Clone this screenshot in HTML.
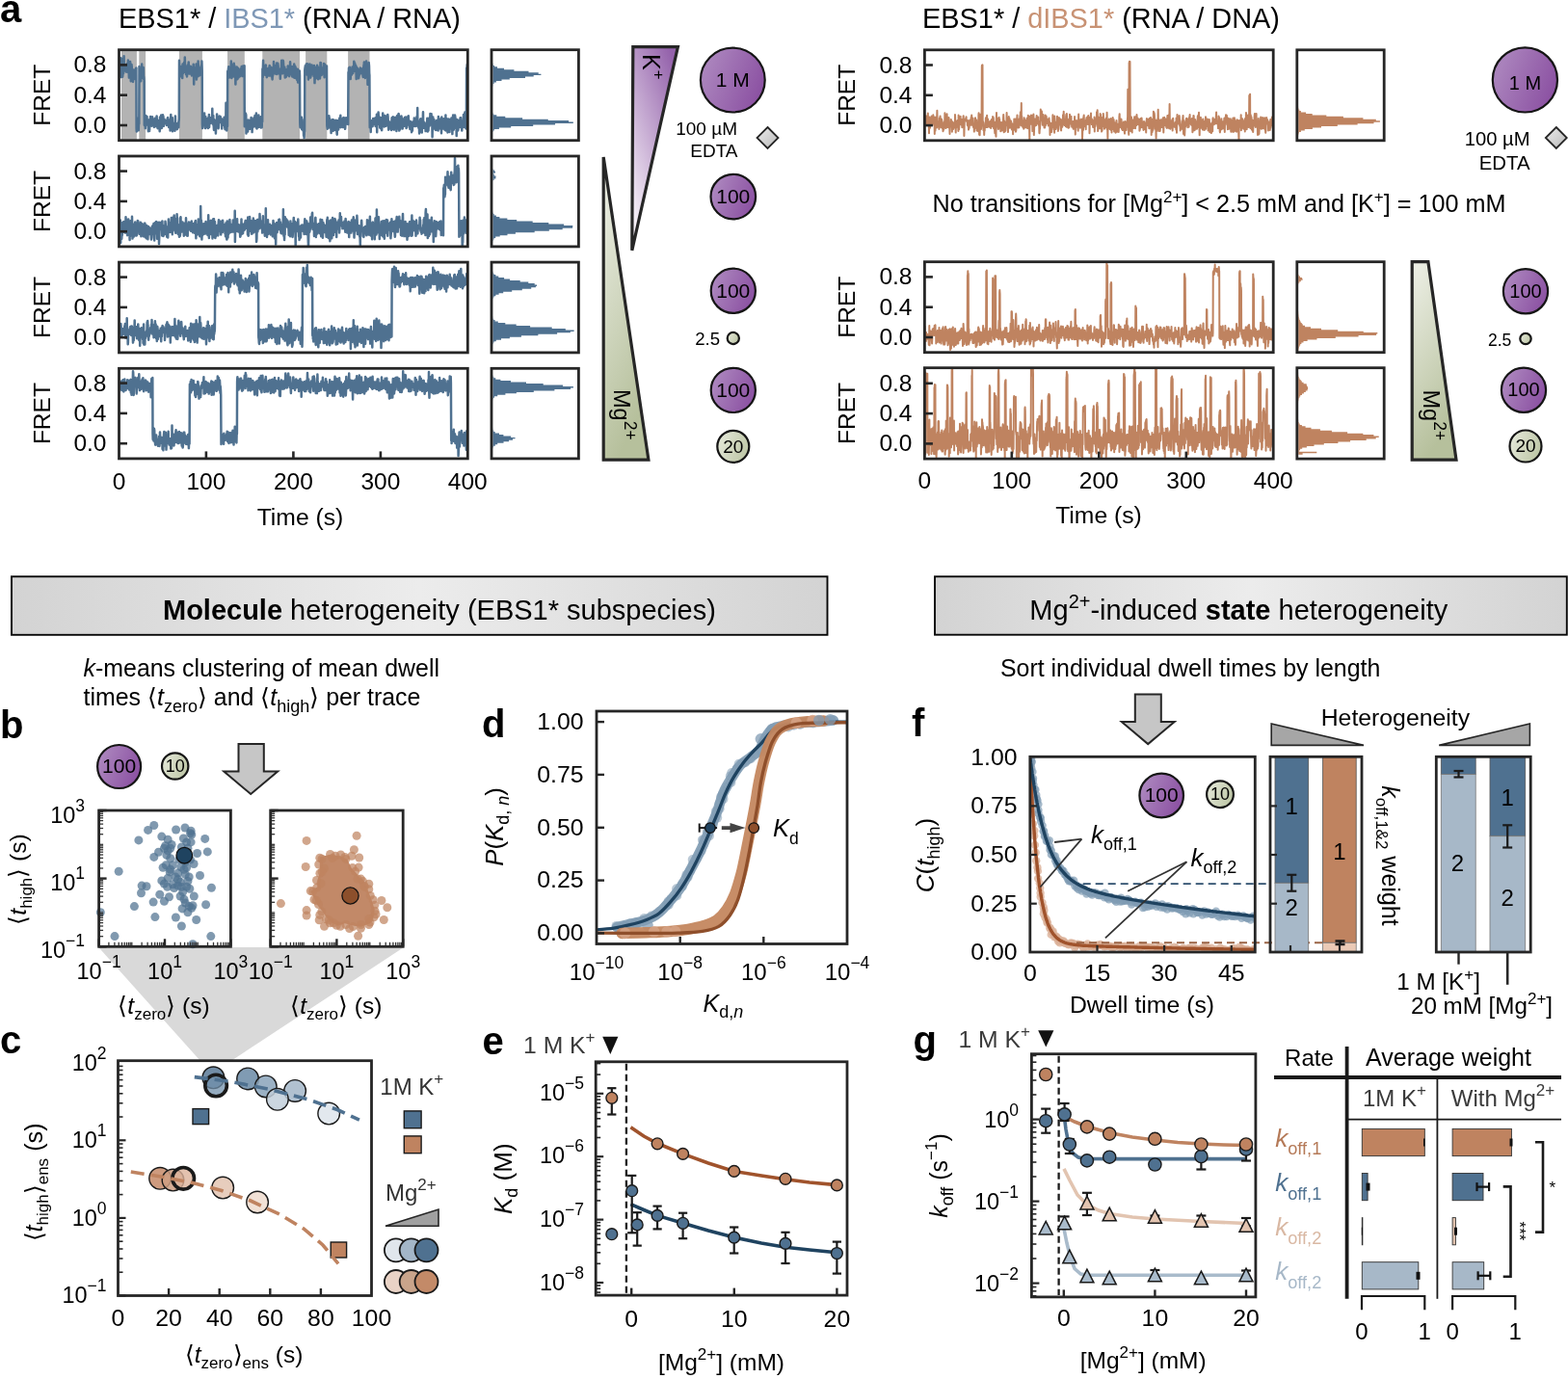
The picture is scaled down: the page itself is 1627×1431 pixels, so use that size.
<!DOCTYPE html>
<html><head><meta charset="utf-8"><title>Figure</title>
<style>html,body{margin:0;padding:0;background:#fff;}svg{display:block;}</style>
</head><body>
<svg width="1627" height="1431" viewBox="0 0 1627 1431" font-family='"Liberation Sans", Arial, Helvetica, sans-serif'><defs>
<linearGradient id="gPurple" x1="0" y1="0.3" x2="1" y2="0.7">
 <stop offset="0" stop-color="#ad88bf"/><stop offset="1" stop-color="#8a4fa1"/></linearGradient>
<linearGradient id="gGreen" x1="0" y1="0.3" x2="1" y2="0.7">
 <stop offset="0" stop-color="#e4e8d8"/><stop offset="1" stop-color="#bcc5a4"/></linearGradient>
<linearGradient id="gDiam" x1="0" y1="0" x2="1" y2="1">
 <stop offset="0" stop-color="#ececec"/><stop offset="1" stop-color="#b9b9b9"/></linearGradient>
<linearGradient id="gK" x1="0.8" y1="0" x2="0.2" y2="1">
 <stop offset="0" stop-color="#9462ab"/><stop offset="0.95" stop-color="#f4eef6"/></linearGradient>
<linearGradient id="gMg" x1="0" y1="0" x2="0.3" y2="1">
 <stop offset="0" stop-color="#eef0e7"/><stop offset="1" stop-color="#b6c09c"/></linearGradient>
<linearGradient id="gBox" x1="0" y1="0" x2="1" y2="0">
 <stop offset="0" stop-color="#d3d3d3"/><stop offset="0.5" stop-color="#ececec"/><stop offset="1" stop-color="#d3d3d3"/></linearGradient>
<clipPath id="cL1"><rect x="123.5" y="51.7" width="361.8" height="94"/></clipPath><clipPath id="cl0"><rect x="123.5" y="51.7" width="361.8" height="93.99999999999999"/></clipPath><clipPath id="cl1"><rect x="123.5" y="162.0" width="361.8" height="93.9"/></clipPath><clipPath id="cl2"><rect x="123.5" y="272.1" width="361.8" height="93.79999999999995"/></clipPath><clipPath id="cl3"><rect x="123.5" y="382.3" width="361.8" height="93.59999999999997"/></clipPath><clipPath id="cr0"><rect x="959.4" y="51.8" width="361.80000000000007" height="94.00000000000001"/></clipPath><clipPath id="cr1"><rect x="959.4" y="271.7" width="361.80000000000007" height="94.0"/></clipPath><clipPath id="cr2"><rect x="959.4" y="381.7" width="361.80000000000007" height="94.40000000000003"/></clipPath><clipPath id="cd"><rect x="619.0" y="738.0" width="260.0" height="241.5"/></clipPath><clipPath id="ce"><rect x="618.2" y="1101.8" width="260.79999999999995" height="242.29999999999995"/></clipPath><clipPath id="cf"><rect x="1068.8" y="785.3" width="233.5" height="202.70000000000005"/></clipPath></defs><rect width="1627" height="1431" fill="#fff"/><text x="0" y="23" font-size="40" font-weight="bold">a</text>
<text x="123" y="29" font-size="28.9">EBS1* / <tspan fill="#7f98b6">IBS1*</tspan> (RNA / RNA)</text>
<text x="957" y="29" font-size="28.9">EBS1* / <tspan fill="#c89274">dIBS1*</tspan> (RNA / DNA)</text>
<rect x="126.0" y="51.7" width="15.9" height="94.0" fill="#b3b3b3"/>
<rect x="144.3" y="51.7" width="6.8" height="94.0" fill="#b3b3b3"/>
<rect x="185.9" y="51.7" width="24.0" height="94.0" fill="#b3b3b3"/>
<rect x="236.0" y="51.7" width="17.8" height="94.0" fill="#b3b3b3"/>
<rect x="272.3" y="51.7" width="38.7" height="94.0" fill="#b3b3b3"/>
<rect x="317.1" y="51.7" width="22.2" height="94.0" fill="#b3b3b3"/>
<rect x="361.1" y="51.7" width="22.4" height="94.0" fill="#b3b3b3"/>
<path d="M123.5,78.7l0.2,1 0.3,-6.8 0.2,-0.1 0.3,-6.1 0.2,-6.6 0.2,13.3 0.3,-5.2 0.2,2.6 0.3,6.2 0.2,3.1 0.3,-2.6 0.2,-16.8 0.2,10.6 0.3,2 0.2,6.5 0.3,-2.1 0.2,-9.7 0.2,8.6 0.3,-0.7 0.2,-6.2 0.3,-11.5 0.2,11.1 0.3,0.1 0.2,3.9 0.2,-1.2 0.3,-0.6 0.2,-0.1 0.3,2.3 0.2,-1.5 0.2,1.9 0.3,-5.9 0.2,6.6 0.3,-6.2 0.2,1.4 0.2,-4.2 0.3,2.6 0.2,-0.5 0.3,6.9 0.2,-12.2 0.3,8.4 0.2,4.1 0.2,-1.5 0.3,7 0.2,-4.4 0.3,-6.1 0.2,-0.7 0.2,4.3 0.3,-9.6 0.2,8.7 0.3,-0.6 0.2,12 0.3,-9.4 0.2,-5.7 0.2,-2.1 0.3,2.8 0.2,7 0.3,4.4 0.2,0 0.2,-0.1 0.3,3.8 0.2,-6.9 0.3,1.6 0.2,-1.9 0.2,-5.2 0.3,8.8 0.2,-8.5 0.3,0.6 0.2,3.4 0.3,1.1 0.2,4.2 0.2,-8.7 0.3,1.6 0.2,-4.4 0.3,-0.1 0.2,62.6 0.2,3.3 0.3,-1.3 0.2,-1.8 0.3,-2.9 0.2,3.4 0.3,-4.6 0.2,-6.8 0.2,5.3 0.3,7.6 0.2,-7 0.3,0.2 0.2,-59.5 0.2,2.3 0.3,3.9 0.2,-0.7 0.3,-1.5 0.2,1.5 0.2,6.7 0.3,3.1 0.2,-11.4 0.3,-0.6 0.2,6.1 0.3,-11.9 0.2,13.7 0.2,-10.6 0.3,0.2 0.2,11 0.3,-11 0.2,0.1 0.2,0.1 0.3,11.9 0.2,-2.1 0.3,4.2 0.2,45.7 0.2,0.4 0.3,-3.9 0.2,-0.6 0.3,7.5 0.2,-6.5 0.3,-6.6 0.2,5.1 0.2,-1.7 0.3,-2 0.2,5.8 0.3,-6.2 0.2,8.4 0.2,-3.2 0.3,1.3 0.2,-2 0.3,2.6 0.2,8.1 0.3,-3.6 0.2,-8.1 0.2,7.8 0.3,0.9 0.2,2.7 0.3,-9.6 0.2,0 0.2,-0.3 0.3,-4.9 0.2,2.4 0.3,-0.7 0.2,2.7 0.2,-2.1 0.3,2.4 0.2,4.9 0.3,-4.8 0.2,-4.6 0.3,2 0.2,2.5 0.2,3.6 0.3,-4.7 0.2,-0.5 0.3,5 0.2,0.3 0.2,2.5 0.3,-7.5 0.2,2.2 0.3,-2.8 0.2,-1.1 0.3,8 0.2,-0.9 0.2,-6.2 0.3,6.1 0.2,1.4 0.3,-5.3 0.2,-5.5 0.2,4.7 0.3,-1.1 0.2,5.2 0.3,4 0.2,-7 0.2,-0.2 0.3,6 0.2,-2.7 0.3,-0.6 0.2,3.6 0.3,-7.2 0.2,7.8 0.2,3.3 0.3,-14.6 0.2,8.2 0.3,-0.9 0.2,3.7 0.2,-9.3 0.3,-3.8 0.2,9.1 0.3,-4.1 0.2,8.4 0.3,-4.6 0.2,-0.5 0.2,-6.4 0.3,-2.2 0.2,6.4 0.3,-5 0.2,2.5 0.2,7.7 0.3,-1.1 0.2,-2.8 0.3,-3.2 0.2,4.1 0.2,0 0.3,0.2 0.2,-1.9 0.3,2 0.2,-0.7 0.3,-1.7 0.2,1.7 0.2,-2.4 0.3,4.9 0.2,-0.4 0.3,-3.6 0.2,-3 0.2,3.2 0.3,-4.1 0.2,5.2 0.3,-3.1 0.2,5.3 0.3,2.6 0.2,-2.8 0.2,0.3 0.3,-1.1 0.2,-3.9 0.3,2.9 0.2,8 0.2,-10.2 0.3,2.3 0.2,-8.5 0.3,8.4 0.2,2.7 0.2,4.5 0.3,-8.4 0.2,0.5 0.3,-4.5 0.2,14 0.3,-6.9 0.2,-1.6 0.2,1.1 0.3,1.1 0.2,0.6 0.3,-2 0.2,2.9 0.2,0.2 0.3,-0.9 0.2,5 0.3,-9.6 0.2,-5.7 0.3,13 0.2,0.6 0.2,-2.5 0.3,-3 0.2,3.1 0.3,-1.3 0.2,-1.4 0.2,5.4 0.3,-6 0.2,-0.3 0.3,3.1 0.2,-1.3 0.2,1 0.3,1.5 0.2,-6 0.3,-2.8 0.2,-60.7 0.3,11.9 0.2,0.6 0.2,-1.7 0.3,4.5 0.2,-1.9 0.3,-1.1 0.2,4.2 0.2,-4.5 0.3,-1.6 0.2,-4.5 0.3,3.8 0.2,4.8 0.3,3.8 0.2,-7 0.2,-7.5 0.3,9.7 0.2,-4.1 0.3,-2.5 0.2,3.5 0.2,-3.4 0.3,-5.1 0.2,2.3 0.3,4 0.2,-11.4 0.2,8.3 0.3,7.2 0.2,0.2 0.3,-2.1 0.2,3.9 0.3,-3 0.2,-3.3 0.2,4.2 0.3,4.4 0.2,-7.9 0.3,-2.5 0.2,-1.4 0.2,8 0.3,0.4 0.2,-6.9 0.3,-4.7 0.2,6.7 0.2,4.2 0.3,1.3 0.2,-5.7 0.3,0.6 0.2,3.8 0.3,1.3 0.2,-0.6 0.2,-7.3 0.3,0.9 0.2,4.3 0.3,2.6 0.2,-4.5 0.2,6.4 0.3,-3.2 0.2,-3.6 0.3,-0.1 0.2,1 0.3,-1.6 0.2,-0.9 0.2,-3.2 0.3,8.3 0.2,12.5 0.3,-17.3 0.2,5.5 0.2,-2.4 0.3,-1.4 0.2,5 0.3,1.9 0.2,-0.4 0.2,-7.5 0.3,4.8 0.2,-9.4 0.3,16 0.2,-5 0.3,-0.1 0.2,-5.2 0.2,0.1 0.3,2.5 0.2,4.6 0.3,-15.9 0.2,4.9 0.2,6.3 0.3,1.1 0.2,0.6 0.3,2.1 0.2,-3.4 0.3,3.2 0.2,-7.7 0.2,3.6 0.3,0.3 0.2,-2 0.3,-3 0.2,6.2 0.2,-7.5 0.3,8.8 0.2,-13.3 0.3,9.9 0.2,55.2 0.2,4.4 0.3,-1.9 0.2,-7.5 0.3,3.9 0.2,0.9 0.3,-4.7 0.2,0.6 0.2,-2.1 0.3,-4.8 0.2,6.8 0.3,6.4 0.2,-9.4 0.2,11.8 0.3,-12.2 0.2,11.2 0.3,-6.8 0.2,4.4 0.3,2.2 0.2,-2.1 0.2,-6.2 0.3,4.3 0.2,-2 0.3,-0.2 0.2,4.9 0.2,2.5 0.3,-6.6 0.2,-4.7 0.3,6.7 0.2,-9.6 0.2,13 0.3,-6.2 0.2,2.8 0.3,-1.2 0.2,-1.8 0.3,-3 0.2,2.5 0.2,2.8 0.3,-5.9 0.2,1 0.3,2.6 0.2,-1.1 0.2,2.7 0.3,-14.3 0.2,10.5 0.3,5.3 0.2,-5.2 0.3,-3.3 0.2,9.7 0.2,0.9 0.3,4.2 0.2,-0.2 0.3,-6.7 0.2,-3.4 0.2,0.4 0.3,2.4 0.2,2.9 0.3,-1.7 0.2,9.8 0.2,-5.9 0.3,-5 0.2,0.4 0.3,-1.6 0.2,-7.9 0.3,3.7 0.2,-0.9 0.2,8.1 0.3,0.4 0.2,1.9 0.3,1.7 0.2,-0.9 0.2,-6.6 0.3,-2.4 0.2,-0.6 0.3,-2.3 0.2,5.3 0.3,1.2 0.2,-3.1 0.2,-2.9 0.3,4 0.2,-2.1 0.3,0.1 0.2,1 0.2,1.8 0.3,7.7 0.2,-6.3 0.3,-2 0.2,-0.1 0.2,-1 0.3,0.6 0.2,1 0.3,3.1 0.2,-4.1 0.3,5.1 0.2,-8 0.2,3.3 0.3,3.1 0.2,4.1 0.3,2 0.2,-4.5 0.2,-7.5 0.3,3.8 0.2,-19.4 0.3,18 0.2,-2.5 0.3,13.3 0.2,-3.6 0.2,-6.2 0.3,5.4 0.2,-57 0.3,-0.7 0.2,2 0.2,-3.4 0.3,-2.7 0.2,5.3 0.3,-2.1 0.2,7.9 0.2,-4.6 0.3,-0.3 0.2,-5.8 0.3,8.4 0.2,-7 0.3,6.1 0.2,-3.2 0.2,-10.6 0.3,9.4 0.2,8.2 0.3,-12 0.2,-0.1 0.2,1.2 0.3,-2.7 0.2,6.8 0.3,-2.4 0.2,6.6 0.2,1.1 0.3,-5.2 0.2,-8.5 0.3,7.7 0.2,-5.6 0.3,6.4 0.2,3.2 0.2,-4.6 0.3,0.8 0.2,13.8 0.3,-13.8 0.2,-1.6 0.2,6.9 0.3,-2.8 0.2,-6.8 0.3,11.4 0.2,-11.1 0.3,12.5 0.2,-2.2 0.2,-5.8 0.3,0.6 0.2,-3.7 0.3,9.3 0.2,-4.1 0.2,-1 0.3,-3.1 0.2,2.6 0.3,-0.6 0.2,-0.7 0.2,5.8 0.3,-6.5 0.2,0.7 0.3,2.6 0.2,-5 0.3,4.2 0.2,-6.2 0.2,1.8 0.3,-0.2 0.2,-2 0.3,10.4 0.2,-2.3 0.2,-4.8 0.3,-3.3 0.2,4.7 0.3,1.2 0.2,2.1 0.3,1.4 0.2,-9.8 0.2,62.9 0.3,-5.5 0.2,1.8 0.3,-4.1 0.2,-6 0.2,6.4 0.3,-4.7 0.2,19.4 0.3,-12.7 0.2,-0.2 0.2,-0.2 0.3,2.8 0.2,-1.2 0.3,-1.5 0.2,10.9 0.3,-8.4 0.2,-3.6 0.2,1.9 0.3,7.5 0.2,-5.5 0.3,-1.9 0.2,1.7 0.2,0.6 0.3,1.7 0.2,3.4 0.3,-9 0.2,0.8 0.3,4.8 0.2,-8.3 0.2,6.6 0.3,-4.4 0.2,0.8 0.3,12 0.2,-5.9 0.2,-0.9 0.3,-5.6 0.2,-1.3 0.3,7.2 0.2,1 0.2,-6 0.3,3.4 0.2,-6.9 0.3,7.6 0.2,-4.5 0.3,-5.3 0.2,8.5 0.2,1.5 0.3,-2.4 0.2,4.1 0.3,-0.5 0.2,-13.7 0.2,13.8 0.3,2.2 0.2,0.1 0.3,-7.1 0.2,2.4 0.3,-0.8 0.2,3.4 0.2,-2.8 0.3,-1 0.2,-8.2 0.3,5.5 0.2,7.1 0.2,-3.9 0.3,-4.2 0.2,-1.5 0.3,3.5 0.2,-1.4 0.2,6.8 0.3,-9.2 0.2,-0.8 0.3,11.3 0.2,-3 0.3,-3.9 0.2,6.6 0.2,-9.5 0.3,3.5 0.2,-54.7 0.3,8.8 0.2,-10.8 0.2,-6.8 0.3,10.2 0.2,-0.2 0.3,4.6 0.2,-6 0.3,-1.1 0.2,-0.5 0.2,-1.4 0.3,8.6 0.2,0.8 0.3,-2 0.2,-8.2 0.2,2.1 0.3,1.5 0.2,5.5 0.3,3.5 0.2,-3 0.2,-1.5 0.3,-2.7 0.2,-1.6 0.3,3.8 0.2,-1 0.3,1.8 0.2,-1.8 0.2,-3.6 0.3,8 0.2,-5.4 0.3,-5.2 0.2,1.9 0.2,3.3 0.3,4.3 0.2,-2.3 0.3,-0.6 0.2,-4.5 0.3,-0.3 0.2,9.5 0.2,-7.3 0.3,7.1 0.2,0.1 0.3,3.2 0.2,-4.5 0.2,1 0.3,-5.2 0.2,0.4 0.3,1.4 0.2,-11.4 0.2,6.2 0.3,0.2 0.2,5.7 0.3,-5 0.2,3 0.3,-5.2 0.2,7.4 0.2,-6.8 0.3,2 0.2,-3.6 0.3,2 0.2,-2.1 0.2,-2.4 0.3,11.5 0.2,-6.4 0.3,-3.2 0.2,7 0.2,-8.6 0.3,2.7 0.2,5.2 0.3,-1.5 0.2,2.2 0.3,0.3 0.2,1.8 0.2,-1 0.3,0.4 0.2,-3.2 0.3,9.1 0.2,-6.2 0.2,-4.3 0.3,3 0.2,0.6 0.3,-7 0.2,-5.2 0.3,13.6 0.2,-0.2 0.2,-3.4 0.3,3.6 0.2,-2.7 0.3,-10.8 0.2,0.6 0.2,2.7 0.3,7.9 0.2,-1.9 0.3,0.1 0.2,-0.1 0.2,-2.5 0.3,2.7 0.2,8.2 0.3,-2.8 0.2,-4 0.3,-0.3 0.2,1 0.2,5.3 0.3,-5.3 0.2,-2.5 0.3,3.8 0.2,-2.7 0.2,3.1 0.3,1.8 0.2,-9.4 0.3,2.9 0.2,4.2 0.3,-5.7 0.2,1.1 0.2,1.2 0.3,7.1 0.2,-4.2 0.3,0.3 0.2,-2.9 0.2,-8.2 0.3,5.2 0.2,0.8 0.3,6.9 0.2,-6.5 0.2,0.3 0.3,0 0.2,-1 0.3,-0.7 0.2,10.1 0.3,-5.6 0.2,-3 0.2,-1.8 0.3,6.3 0.2,-3.6 0.3,8.6 0.2,-8.3 0.2,-5.4 0.3,3.3 0.2,10.8 0.3,-12.2 0.2,0.5 0.3,0.2 0.2,9.8 0.2,-3.3 0.3,4.2 0.2,-1.3 0.3,3.2 0.2,-10 0.2,10.9 0.3,-9.2 0.2,6.2 0.3,-8 0.2,13.8 0.2,-7.9 0.3,-1.7 0.2,0.7 0.3,4.3 0.2,-4.1 0.3,-2.7 0.2,-0.6 0.2,5.1 0.3,48.8 0.2,4.4 0.3,0.5 0.2,-4.9 0.2,-2.8 0.3,6.8 0.2,-3.9 0.3,-5.8 0.2,12.6 0.3,-10.4 0.2,3.3 0.2,5 0.3,-1.6 0.2,4.4 0.3,0.8 0.2,-3.7 0.2,8.5 0.3,-7 0.2,9.5 0.3,-7.6 0.2,0.7 0.2,-63.7 0.3,-1.7 0.2,-2.5 0.3,5.8 0.2,-2.4 0.3,-0.1 0.2,-5 0.2,7.4 0.3,3.4 0.2,-6.3 0.3,-1.3 0.2,-3.5 0.2,1.6 0.3,9.3 0.2,-7 0.3,12.3 0.2,-8.2 0.3,2.8 0.2,-1.8 0.2,3.1 0.3,-1.4 0.2,-10.5 0.3,2.7 0.2,5.7 0.2,5.7 0.3,-0.9 0.2,-10.4 0.3,8.6 0.2,-4.2 0.2,0.1 0.3,-6.2 0.2,5.5 0.3,2.2 0.2,-2.3 0.3,-1.6 0.2,3.9 0.2,-0.8 0.3,1.4 0.2,2.9 0.3,-0.7 0.2,-10.1 0.2,4.7 0.3,13.4 0.2,-9.1 0.3,-6.4 0.2,7.1 0.2,0.2 0.3,3.5 0.2,-11.7 0.3,5 0.2,0.9 0.3,0.3 0.2,2.3 0.2,-10.4 0.3,8.4 0.2,4.2 0.3,-11 0.2,12.8 0.2,-5 0.3,3.1 0.2,-7.9 0.3,0.9 0.2,-1.3 0.3,2.4 0.2,5.1 0.2,2 0.3,-8.3 0.2,-8.3 0.3,13.3 0.2,-12.9 0.2,4.8 0.3,7 0.2,0.9 0.3,-5.2 0.2,-2.2 0.2,4.2 0.3,1.6 0.2,-6.1 0.3,0.8 0.2,-0.1 0.3,1.2 0.2,1.2 0.2,-7.5 0.3,7.2 0.2,7.1 0.3,-6.3 0.2,-7.1 0.2,5.3 0.3,2.4 0.2,2.3 0.3,-3.2 0.2,-4.3 0.3,2.6 0.2,5.4 0.2,-8.7 0.3,61.6 0.2,1.6 0.3,1.9 0.2,-6.3 0.2,-3.1 0.3,1.3 0.2,-1.4 0.3,5.6 0.2,2.8 0.2,-12.4 0.3,5.4 0.2,-2.9 0.3,7.1 0.2,-2.8 0.3,-1.4 0.2,3.3 0.2,-4.5 0.3,7.7 0.2,5.9 0.3,-8.3 0.2,1.6 0.2,-5.4 0.3,1.2 0.2,5.6 0.3,-8.7 0.2,0.3 0.3,1.6 0.2,9.8 0.2,-0.8 0.3,-10.5 0.2,2.5 0.3,-1.3 0.2,4.5 0.2,3.9 0.3,-1.4 0.2,-5.9 0.3,8.2 0.2,-9.6 0.2,5.9 0.3,-6.5 0.2,0.3 0.3,5.9 0.2,5.3 0.3,3.5 0.2,-9.5 0.2,-3.8 0.3,0.3 0.2,-1.4 0.3,2.7 0.2,6.6 0.2,-3.6 0.3,-4.9 0.2,-0.3 0.3,-0.4 0.2,-2.8 0.3,0.8 0.2,8.3 0.2,-6.4 0.3,-5.5 0.2,12.4 0.3,-2.6 0.2,-5.7 0.2,0.9 0.3,2.2 0.2,-1.7 0.3,5.4 0.2,-0.7 0.2,-5.2 0.3,7.3 0.2,-9.6 0.3,3.3 0.2,4.3 0.3,-8.1 0.2,9.1 0.2,-6.7 0.3,6.7 0.2,-4.6 0.3,4 0.2,3.3 0.2,-2 0.3,-7.2 0.2,4.2 0.3,-6.5 0.2,6 0.3,0.2 0.2,-4.7 0.2,1.2 0.3,-2.2 0.2,4.6 0.3,-1 0.2,-3.4 0.2,6 0.3,-54.1 0.2,5.8 0.3,-10.3 0.2,4.9 0.2,2.6 0.3,1.8 0.2,-9.9 0.3,5.7 0.2,-3.1 0.3,9.5 0.2,-6.4 0.2,-0.9 0.3,-1.2 0.2,2.4 0.3,1.8 0.2,-4.4 0.2,1.7 0.3,-5.5 0.2,0.4 0.3,4.9 0.2,1.2 0.3,-5.3 0.2,2.2 0.2,-0.6 0.3,-8.5 0.2,2.5 0.3,-0.8 0.2,-0.1 0.2,0.4 0.3,8.2 0.2,0.2 0.3,-6.3 0.2,5.7 0.2,-5 0.3,13.5 0.2,-6.7 0.3,-5.2 0.2,4.2 0.3,-0.3 0.2,-2.9 0.2,7.4 0.3,-2.5 0.2,-0.5 0.3,2.9 0.2,2.9 0.2,-1.1 0.3,-2 0.2,-1.6 0.3,-4.4 0.2,5.1 0.2,-2.4 0.3,-4.5 0.2,0.3 0.3,0.4 0.2,1.5 0.3,3.2 0.2,-1.1 0.2,-1.1 0.3,-1.5 0.2,-0.5 0.3,1.7 0.2,2.9 0.2,1.1 0.3,2.6 0.2,-3.3 0.3,-7.4 0.2,-0.9 0.3,-2.1 0.2,-1.8 0.2,13.4 0.3,-6.7 0.2,7.8 0.3,2.1 0.2,-8.1 0.2,-6 0.3,8.4 0.2,-1.1 0.3,-10.8 0.2,7 0.2,1.1 0.3,5.1 0.2,0.1 0.3,-4.9 0.2,16 0.3,-12.1 0.2,-4.9 0.2,-2.4 0.3,1.6 0.2,-5 0.3,3.3 0.2,7.7 0.2,2.1 0.3,54.2 0.2,-2.3 0.3,-2.3 0.2,0.9 0.3,8.3 0.2,-10.4 0.2,1.7 0.3,-2.4 0.2,1 0.3,-0.3 0.2,-1.5 0.2,1.4 0.3,4.8 0.2,-3.3 0.3,-4.8 0.2,1.4 0.2,0.1 0.3,3.7 0.2,0.8 0.3,-4.1 0.2,2.8 0.3,-5.1 0.2,1 0.2,4.7 0.3,-4.6 0.2,7.2 0.3,-8.8 0.2,8.1 0.2,-5.4 0.3,1.2 0.2,-7.4 0.3,18.6 0.2,-12 0.3,4.2 0.2,-7.7 0.2,2.1 0.3,-3.4 0.2,-3.9 0.3,6.2 0.2,-0.2 0.2,-1.3 0.3,5.9 0.2,-4.2 0.3,6.9 0.2,2.8 0.2,-8 0.3,-2.8 0.2,0.2 0.3,1.3 0.2,10.3 0.3,0 0.2,-1.1 0.2,2.7 0.3,-11.6 0.2,4.4 0.3,0.6 0.2,-11.3 0.2,8.5 0.3,-6.5 0.2,9 0.3,1.1 0.2,-7.5 0.3,9.4 0.2,-5 0.2,-2.6 0.3,-3.7 0.2,7.6 0.3,-7.2 0.2,1.4 0.2,4.3 0.3,4.6 0.2,-0.5 0.3,-8.8 0.2,5.8 0.2,-2.2 0.3,2.7 0.2,-6.6 0.3,-2.3 0.2,1.7 0.3,6.4 0.2,0 0.2,7.7 0.3,-3.9 0.2,-0.7 0.3,-3.7 0.2,5.8 0.2,-5.1 0.3,3.2 0.2,1.2 0.3,0 0.2,2.2 0.3,-5.1 0.2,0.5 0.2,5.8 0.3,-9 0.2,-3.7 0.3,7.9 0.2,3.1 0.2,0.6 0.3,-2.7 0.2,-9.9 0.3,1.6 0.2,6.1 0.2,0 0.3,5.7 0.2,-7.8 0.3,4.1 0.2,-5.9 0.3,2.9 0.2,-1.8 0.2,-4.3 0.3,3.3 0.2,-0.5 0.3,1.5 0.2,3.3 0.2,6.6 0.3,-9 0.2,-1.1 0.3,-5.8 0.2,4 0.3,6.9 0.2,2.6 0.2,-2 0.3,-2.8 0.2,-10.9 0.3,2.5 0.2,5.4 0.2,9.8 0.3,-5.5 0.2,-5.9 0.3,9.9 0.2,-6.5 0.2,-5 0.3,-1.8 0.2,9 0.3,-1 0.2,-8.2 0.3,2.3 0.2,1.1 0.2,0.7 0.3,4.7 0.2,4.2 0.3,-2.2 0.2,-3 0.2,0.1 0.3,-5.1 0.2,6.6 0.3,-1.2 0.2,1 0.2,0.9 0.3,-8.7 0.2,2.1 0.3,0.1 0.2,3.1 0.3,-5.7 0.2,7.1 0.2,-1.8 0.3,6 0.2,-5.7 0.3,1.9 0.2,2.9 0.2,-9 0.3,3.5 0.2,-4.9 0.3,2 0.2,-3.1 0.3,-0.2 0.2,8 0.2,-3.8 0.3,5.1 0.2,-4 0.3,3.7 0.2,1.6 0.2,3 0.3,-1.7 0.2,-5.8 0.3,-0.1 0.2,4.9 0.2,-3.8 0.3,2.8 0.2,7 0.3,-2.8 0.2,0.6 0.3,0.6 0.2,-7.6 0.2,3.6 0.3,-5.4 0.2,3.3 0.3,-2.5 0.2,0.2 0.2,2.3 0.3,-7 0.2,7.6 0.3,-3.3 0.2,4.1 0.3,-7.5 0.2,1.3 0.2,2 0.3,4 0.2,0.2 0.3,-0.2 0.2,-6.9 0.2,-2.5 0.3,1.6 0.2,5.2 0.3,-16 0.2,16.2 0.2,-3.1 0.3,1 0.2,3.6 0.3,3.2 0.2,-1.2 0.3,-1.7 0.2,8.3 0.2,-0.7 0.3,-4.1 0.2,-3.4 0.3,-6.3 0.2,6.4 0.2,-7 0.3,9.5 0.2,-2.7 0.3,5 0.2,-10.1 0.3,12.5 0.2,-9.4 0.2,-4.5 0.3,4.1 0.2,-1.4 0.3,-10.1 0.2,14.5 0.2,-4.1 0.3,-0.3 0.2,6.5 0.3,-0.5 0.2,-0.4 0.2,-3.6 0.3,3.4 0.2,-3.3 0.3,2.5 0.2,5.2 0.3,-7.4 0.2,0.8 0.2,4.3 0.3,-6.7 0.2,4.2 0.3,2.4 0.2,-11 0.2,3 0.3,10.7 0.2,-12.8 0.3,5.8 0.2,6.2 0.3,-5.6 0.2,-7.3 0.2,7.8 0.3,0.3 0.2,-2.5 0.3,-6 0.2,5.8 0.2,-10.2 0.3,6.4 0.2,5.1 0.3,-1.7 0.2,-1.6 0.2,-7.8 0.3,9.9 0.2,-4 0.3,3.1 0.2,14.9 0.3,-16.2 0.2,1.1 0.2,-5.5 0.3,4.5 0.2,1.3 0.3,1.9 0.2,-5.4 0.2,7 0.3,-4.7 0.2,0.5 0.3,7.3 0.2,-0.8 0.3,1.5 0.2,-0.3 0.2,-1.9 0.3,2.4 0.2,-9.3 0.3,2.4 0.2,-3.1 0.2,2.6 0.3,6.3 0.2,-7.4 0.3,6.3 0.2,-0.2 0.2,3 0.3,-14.6 0.2,4.6 0.3,1.8 0.2,0.2 0.3,3.8 0.2,-0.6 0.2,-0.9 0.3,3.6 0.2,-5 0.3,-4.9 0.2,5.5 0.2,3.7 0.3,-3.2 0.2,8.8 0.3,-16.8 0.2,5 0.3,-2.1 0.2,6.5 0.2,-4.3 0.3,4.5 0.2,-1.1 0.3,-1.7 0.2,5.3 0.2,-10.4 0.3,1.8 0.2,7.7 0.3,-2.8 0.2,1.4 0.2,3.5 0.3,-4.8 0.2,1.8 0.3,-12.2 0.2,15.8 0.3,-3.8 0.2,1.6 0.2,-10.1 0.3,3.8 0.2,3.3 0.3,-4.2 0.2,0.2 0.2,11.2 0.3,-4.9 0.2,-7.3 0.3,-1.6 0.2,3.6 0.2,-3.4 0.3,0 0.2,4.8 0.3,8.4 0.2,-6.4 0.3,-0.4 0.2,3.3 0.2,-1.1 0.3,-0.9 0.2,-5 0.3,-0.4 0.2,-3.6 0.2,3 0.3,-0.2 0.2,3.8 0.3,10 0.2,-11.2 0.3,2.2 0.2,-10.6 0.2,12.9 0.3,-0.8 0.2,3.1 0.3,-4.6 0.2,1.7 0.2,0.5 0.3,-4.8 0.2,-8 0.3,1.6 0.2,1.6 0.2,8.9 0.3,-1.1 0.2,2.6 0.3,-4.5 0.2,12.5 0.3,-9.2 0.2,0 0.2,-7.8 0.3,9.2 0.2,2.3 0.3,-0.3 0.2,-0.4 0.2,-6.4 0.3,0.8 0.2,-3.6 0.3,-0.6 0.2,4.8 0.3,-2.3 0.2,4.4 0.2,-6.8 0.3,-2.9 0.2,5.1 0.3,-5.2 0.2,6.6 0.2,-3.7 0.3,3.7 0.2,0.1 0.3,6.6 0.2,-5.6 0.2,-4.5 0.3,2.4 0.2,4.7 0.3,-7 0.2,2 0.3,-8.6 0.2,0.8 0.2,3 0.3,-0.5 0.2,9.5 0.3,-5.5 0.2,-9.6 0.2,6 0.3,4.4 0.2,3.9 0.3,2.5 0.2,-3.1 0.3,-1.3 0.2,-58.2 0.2,4.2 0.3,-5.7 0.2,-2.5 0.3,6.6 0.2,3.6" fill="none" stroke="#4f7190" stroke-width="2.5" stroke-linejoin="round" clip-path="url(#cl0)"/>
<line x1="123.5" y1="130" x2="132" y2="130" stroke="#262626" stroke-width="2.6" />
<text x="110.5" y="138" font-size="24.5" text-anchor="end">0.0</text>
<line x1="123.5" y1="98.7" x2="132" y2="98.7" stroke="#262626" stroke-width="2.6" />
<text x="110.5" y="106.7" font-size="24.5" text-anchor="end">0.4</text>
<line x1="123.5" y1="67.4" x2="132" y2="67.4" stroke="#262626" stroke-width="2.6" />
<text x="110.5" y="75.4" font-size="24.5" text-anchor="end">0.8</text>
<rect x="123.5" y="51.7" width="361.8" height="94" fill="none" stroke="#262626" stroke-width="2.8" />
<text x="51.6" y="98.7" font-size="24.5" text-anchor="middle" transform="rotate(-90 51.6 98.7)">FRET</text>
<path d="M123.5,243.7l0.2,-6.1 0.3,0.1 0.2,4.1 0.3,-7.8 0.2,0 0.2,-5.6 0.3,23.5 0.2,-12.6 0.3,2.3 0.2,-10.7 0.3,17 0.2,-3.1 0.2,-0.4 0.3,-1.1 0.2,-8.2 0.3,1.4 0.2,2.8 0.2,-0.2 0.3,-2.8 0.2,-6.2 0.3,3.4 0.2,1.1 0.3,6.2 0.2,-2.8 0.2,1.2 0.3,-5 0.2,7.4 0.3,-4.7 0.2,-11.6 0.2,3.8 0.3,4.8 0.2,4.1 0.3,-7.3 0.2,-3 0.2,10.7 0.3,5.8 0.2,-5.3 0.3,-7.1 0.2,1 0.3,-5.4 0.2,7.8 0.2,7.3 0.3,-13.3 0.2,14.7 0.3,-1.5 0.2,6.6 0.2,-14.9 0.3,11 0.2,-10.2 0.3,-5.7 0.2,7.7 0.3,1.7 0.2,2.6 0.2,-4.7 0.3,3.5 0.2,-15.2 0.3,13.2 0.2,9.6 0.2,-10.5 0.3,-4.7 0.2,6.2 0.3,1.5 0.2,5.5 0.2,-7 0.3,5.1 0.2,0.2 0.3,-10.9 0.2,2.6 0.3,-5 0.2,13.6 0.2,-0.3 0.3,0.5 0.2,-9.2 0.3,-1.4 0.2,7.4 0.2,3.3 0.3,-6.4 0.2,-2.1 0.3,-0.5 0.2,-6.5 0.3,6.8 0.2,-6.2 0.2,9.6 0.3,-5.5 0.2,1.6 0.3,-2.3 0.2,9.8 0.2,-1.9 0.3,-4.9 0.2,5.7 0.3,-8 0.2,1.2 0.2,-4.2 0.3,8 0.2,6.6 0.3,-6.4 0.2,3 0.3,-1.1 0.2,-0.4 0.2,-8.1 0.3,2.6 0.2,6.7 0.3,-3.7 0.2,1.5 0.2,5.9 0.3,-9.1 0.2,2.5 0.3,4.3 0.2,-0.6 0.2,-9.7 0.3,-1.1 0.2,0.9 0.3,13.8 0.2,-1.9 0.3,-6.9 0.2,5.7 0.2,-0.4 0.3,4.5 0.2,-13.2 0.3,11.1 0.2,0.4 0.2,-8.2 0.3,1.8 0.2,9.1 0.3,-9.3 0.2,-4.1 0.3,2.4 0.2,-0.9 0.2,0.5 0.3,1.9 0.2,4.1 0.3,-6.4 0.2,0 0.2,3.7 0.3,0.9 0.2,0.1 0.3,-0.8 0.2,5.1 0.2,3 0.3,-1.8 0.2,-9 0.3,4.4 0.2,-7.1 0.3,5.7 0.2,-6.1 0.2,-0.7 0.3,2.4 0.2,6.2 0.3,-10.5 0.2,-0.2 0.2,11.2 0.3,6.4 0.2,-12.2 0.3,0.7 0.2,2 0.3,-9 0.2,6.2 0.2,5.1 0.3,-3.1 0.2,-9.2 0.3,11.1 0.2,-3.3 0.2,-1.4 0.3,11.5 0.2,-10.8 0.3,6.2 0.2,-7.7 0.2,1.8 0.3,-6.6 0.2,0.4 0.3,8 0.2,14 0.3,-8.7 0.2,-6.8 0.2,-6.9 0.3,4.3 0.2,-1.1 0.3,-0.5 0.2,2.3 0.2,2.2 0.3,-5.6 0.2,3 0.3,-3.2 0.2,-1.5 0.3,13.9 0.2,-15.1 0.2,8.8 0.3,2.3 0.2,0.5 0.3,4.1 0.2,-0.6 0.2,-10 0.3,6.2 0.2,0.1 0.3,-0.2 0.2,-1.9 0.2,-2.5 0.3,6.9 0.2,-13.3 0.3,2.8 0.2,6.9 0.3,-1.9 0.2,0.7 0.2,1.3 0.3,-3.5 0.2,9.7 0.3,-10.3 0.2,0.9 0.2,2.8 0.3,7.2 0.2,-10.2 0.3,-0.5 0.2,-8.1 0.3,8.2 0.2,5.3 0.2,-10.2 0.3,3.2 0.2,3.3 0.3,-1.5 0.2,-0.6 0.2,-3.1 0.3,8.6 0.2,-9.1 0.3,3.3 0.2,-8.9 0.2,0 0.3,13.9 0.2,-2.8 0.3,6 0.2,-16.6 0.3,9.1 0.2,3.7 0.2,-13.9 0.3,10 0.2,-6.8 0.3,2.6 0.2,-7.9 0.2,10.2 0.3,4.2 0.2,-8.1 0.3,-2.6 0.2,9.6 0.3,5.1 0.2,-7.6 0.2,-4.1 0.3,5.6 0.2,-2.5 0.3,4 0.2,-15 0.2,8.7 0.3,-4.7 0.2,11.2 0.3,5.1 0.2,0.4 0.2,-5.2 0.3,-1.5 0.2,0.7 0.3,-3.3 0.2,12.2 0.3,-8.3 0.2,2.1 0.2,5.5 0.3,-1.7 0.2,-17.1 0.3,-1.1 0.2,10 0.2,5.1 0.3,-2.6 0.2,2.4 0.3,0.4 0.2,-4.1 0.3,-3.3 0.2,-2.7 0.2,7.1 0.3,-2.8 0.2,4.4 0.3,-0.2 0.2,-4.5 0.2,10.4 0.3,-6.3 0.2,-6.8 0.3,3.9 0.2,8.2 0.2,-4.3 0.3,-1.5 0.2,3.8 0.3,0.1 0.2,-15.7 0.3,9 0.2,-3.1 0.2,11.2 0.3,-4.9 0.2,6.2 0.3,-10.1 0.2,10.3 0.2,-10.6 0.3,-1 0.2,1.4 0.3,3 0.2,-7.1 0.2,7.1 0.3,-6 0.2,1.7 0.3,4.8 0.2,-6.4 0.3,4.1 0.2,3.3 0.2,-8.3 0.3,8.9 0.2,-5.2 0.3,-0.7 0.2,-4.2 0.2,2.4 0.3,3.9 0.2,0.6 0.3,-4.2 0.2,9 0.3,-6.5 0.2,-2.3 0.2,4.5 0.3,2.5 0.2,-7.4 0.3,9.4 0.2,0.2 0.2,-0.7 0.3,-3.8 0.2,-6.9 0.3,-0.5 0.2,-0.9 0.2,8.1 0.3,10.3 0.2,-11.3 0.3,-1.5 0.2,8.8 0.3,-10 0.2,5.8 0.2,4.4 0.3,-8.9 0.2,4.3 0.3,-2.5 0.2,-8.9 0.2,15 0.3,-6.5 0.2,0.5 0.3,1.5 0.2,-0.6 0.3,7.9 0.2,-4.6 0.2,-8.6 0.3,0.4 0.2,-18.5 0.3,19.3 0.2,2.1 0.2,-6.7 0.3,13.8 0.2,5.9 0.3,-8.9 0.2,3.4 0.2,1.3 0.3,-11.7 0.2,9.1 0.3,-8 0.2,1.8 0.3,7.5 0.2,-4.3 0.2,-6.4 0.3,10.3 0.2,-9.1 0.3,7.5 0.2,-4.5 0.2,3.7 0.3,2.5 0.2,-12.5 0.3,11.1 0.2,-2.1 0.3,1.4 0.2,-1.1 0.2,2.7 0.3,-2.3 0.2,-0.6 0.3,4.8 0.2,-8.7 0.2,1.5 0.3,-13.5 0.2,11.3 0.3,0.5 0.2,11.8 0.2,-13.5 0.3,0.4 0.2,1.6 0.3,-2.3 0.2,2 0.3,5.2 0.2,-11.2 0.2,-0.2 0.3,14 0.2,-6.3 0.3,-0.3 0.2,3 0.2,-3 0.3,4.8 0.2,6.3 0.3,-9.5 0.2,-10.4 0.3,5.3 0.2,13.1 0.2,-14 0.3,-4.7 0.2,15.1 0.3,1.4 0.2,-9.3 0.2,-4.4 0.3,6.6 0.2,10.4 0.3,-5.5 0.2,3.9 0.2,-4 0.3,-5.5 0.2,5.6 0.3,-6.2 0.2,-1.4 0.3,0 0.2,4.7 0.2,1.5 0.3,-2.3 0.2,6.6 0.3,-5.7 0.2,-8 0.2,-2.5 0.3,7.6 0.2,2.4 0.3,-3.9 0.2,-4.7 0.3,10.1 0.2,-2.4 0.2,-6.2 0.3,5.9 0.2,6.5 0.3,-13.8 0.2,4.2 0.2,5.3 0.3,-6.8 0.2,3.6 0.3,5.1 0.2,-0.2 0.2,-12.1 0.3,4.5 0.2,4.8 0.3,-1.9 0.2,2 0.3,-5.2 0.2,4.4 0.2,1.5 0.3,-4.7 0.2,3 0.3,5.6 0.2,-6.7 0.2,9.1 0.3,-5 0.2,-9 0.3,10 0.2,4.6 0.3,2.8 0.2,-0.1 0.2,-19.1 0.3,5.5 0.2,6.6 0.3,4.9 0.2,-9.5 0.2,2 0.3,4.1 0.2,-2 0.3,-11.4 0.2,6.9 0.2,5 0.3,-13.5 0.2,4.1 0.3,4.1 0.2,-1.2 0.3,1.4 0.2,4.5 0.2,-1.7 0.3,0.3 0.2,-5.2 0.3,-1.6 0.2,2.6 0.2,5.3 0.3,-2 0.2,0.2 0.3,-10.3 0.2,2.9 0.2,9.1 0.3,-3 0.2,-0.7 0.3,-2.1 0.2,-2.7 0.3,4.5 0.2,-17.8 0.2,32.4 0.3,-16.2 0.2,5.6 0.3,-0.3 0.2,-5 0.2,-2.6 0.3,0.2 0.2,1.6 0.3,-0.6 0.2,-6.6 0.3,12.5 0.2,-6.8 0.2,-0.4 0.3,3 0.2,4.9 0.3,-4.1 0.2,1.2 0.2,0.8 0.3,-0.3 0.2,-4.5 0.3,0.5 0.2,7.8 0.2,4 0.3,-0.7 0.2,-3.1 0.3,-5.5 0.2,2 0.3,-11 0.2,15.4 0.2,-4.6 0.3,-3.1 0.2,-2.8 0.3,1.5 0.2,4.8 0.2,3.5 0.3,-7.8 0.2,-1.6 0.3,6 0.2,0.2 0.3,-4.7 0.2,4.2 0.2,-0.2 0.3,-2.8 0.2,-3.6 0.3,-2.9 0.2,-0.1 0.2,3.9 0.3,1.9 0.2,0.9 0.3,-1.5 0.2,2.9 0.2,-0.6 0.3,-5.7 0.2,-1.8 0.3,14.6 0.2,-18 0.3,13.6 0.2,5.7 0.2,-0.4 0.3,-11.7 0.2,6.3 0.3,-9.4 0.2,0.9 0.2,-5.4 0.3,9.8 0.2,2.1 0.3,1.8 0.2,1.1 0.3,-7.7 0.2,-2.9 0.2,8.9 0.3,4.5 0.2,-6.1 0.3,6 0.2,-10.2 0.2,1.6 0.3,-0.4 0.2,-1.5 0.3,-5.5 0.2,10.1 0.2,4.6 0.3,-3 0.2,-2.4 0.3,0.3 0.2,-0.1 0.3,4.2 0.2,-8.6 0.2,-2.8 0.3,1.7 0.2,7.2 0.3,1.8 0.2,0.5 0.2,10.9 0.3,-3.1 0.2,-9.8 0.3,-4.2 0.2,-5.9 0.3,12.3 0.2,-12.3 0.2,7.7 0.3,0 0.2,-0.7 0.3,2.6 0.2,-4.7 0.2,2 0.3,1.7 0.2,-14.6 0.3,7.4 0.2,7 0.2,-2.5 0.3,-4.1 0.2,4.6 0.3,-3.7 0.2,2.8 0.3,2.8 0.2,1 0.2,-1.8 0.3,6.1 0.2,-13.2 0.3,1 0.2,-5.1 0.2,13.4 0.3,-0.5 0.2,3.6 0.3,-7.5 0.2,1.5 0.3,5 0.2,0.3 0.2,4.7 0.3,-0.6 0.2,-5.9 0.3,1.1 0.2,-23.1 0.2,23 0.3,-1.2 0.2,-2.9 0.3,2.9 0.2,7.8 0.2,-13.8 0.3,3.6 0.2,-2.9 0.3,-4.6 0.2,14.7 0.3,-0.2 0.2,-2.7 0.2,-2.4 0.3,2.2 0.2,-1.7 0.3,4.2 0.2,-4.4 0.2,-5.2 0.3,2.3 0.2,2.4 0.3,6 0.2,-1.8 0.3,-5.9 0.2,-1.1 0.2,2.9 0.3,3.5 0.2,-2.1 0.3,-5 0.2,11.3 0.2,-6.9 0.3,-3.9 0.2,-5.3 0.3,2.6 0.2,5.2 0.2,2.1 0.3,-0.9 0.2,-1.7 0.3,10.9 0.2,-0.6 0.3,-14.2 0.2,7.7 0.2,1 0.3,12.4 0.2,-14.5 0.3,-2.6 0.2,-0.5 0.2,-4.9 0.3,9.8 0.2,0.2 0.3,-4.6 0.2,-2.1 0.2,3 0.3,0.7 0.2,-1.8 0.3,-5.5 0.2,-2.9 0.3,9.6 0.2,-9.4 0.2,-0.5 0.3,5.3 0.2,5.6 0.3,-8.1 0.2,0.4 0.2,7.8 0.3,3.2 0.2,-6.8 0.3,5.6 0.2,1.8 0.3,-2.9 0.2,-2.9 0.2,2.5 0.3,-6.1 0.2,8.5 0.3,-5.4 0.2,-18.9 0.2,13.5 0.3,13.9 0.2,-2.5 0.3,3.1 0.2,3.7 0.2,-14.5 0.3,9.2 0.2,-18.3 0.3,10.2 0.2,-5.3 0.3,3.6 0.2,-1.7 0.2,-4.9 0.3,5.9 0.2,-5 0.3,1.6 0.2,5.7 0.2,-3.1 0.3,-3 0.2,0.7 0.3,4.7 0.2,-2.3 0.3,6.6 0.2,4.9 0.2,-5.7 0.3,5.2 0.2,-1.2 0.3,-5.7 0.2,-1.6 0.2,10.3 0.3,-15.7 0.2,11 0.3,-2.6 0.2,-3.8 0.2,8.8 0.3,0.8 0.2,-0.8 0.3,-5.5 0.2,-5.3 0.3,13.9 0.2,-2.9 0.2,-3.7 0.3,-4.7 0.2,-4.5 0.3,-4.3 0.2,10.4 0.2,-2.8 0.3,5.1 0.2,-5.3 0.3,4.2 0.2,-7.6 0.3,12.3 0.2,12.2 0.2,-17.5 0.3,0.3 0.2,3.4 0.3,-9.1 0.2,1.3 0.2,4.4 0.3,-4.5 0.2,6.7 0.3,-5.1 0.2,4.9 0.2,-11.6 0.3,10.2 0.2,-3.2 0.3,10.5 0.2,-6.3 0.3,10.2 0.2,-2.3 0.2,-4.3 0.3,1.6 0.2,0.5 0.3,-7.1 0.2,9.2 0.2,-12.2 0.3,-0.4 0.2,-0.1 0.3,3.2 0.2,-2 0.3,4.3 0.2,0 0.2,-5.9 0.3,1.7 0.2,1.2 0.3,3.8 0.2,-6.5 0.2,6 0.3,-3.1 0.2,6.4 0.3,-1.9 0.2,-10.6 0.2,-3.2 0.3,4.1 0.2,-1.1 0.3,-1.5 0.2,10.4 0.3,3.7 0.2,-0.1 0.2,-3.7 0.3,-9.6 0.2,6.1 0.3,7.5 0.2,-2.6 0.2,0.6 0.3,-9.3 0.2,15.6 0.3,9 0.2,-9.3 0.3,-12.2 0.2,3.1 0.2,2.4 0.3,0.4 0.2,-0.8 0.3,-3.3 0.2,1.4 0.2,-12.5 0.3,8.5 0.2,1 0.3,0.7 0.2,-6.1 0.2,1.6 0.3,-1.2 0.2,-8.2 0.3,-1.2 0.2,12 0.3,5.3 0.2,0.2 0.2,-6.4 0.3,4.8 0.2,-2.4 0.3,2.2 0.2,8.6 0.2,-2.7 0.3,-8.6 0.2,6.1 0.3,-5.2 0.2,-8.4 0.2,-0.4 0.3,11.4 0.2,8.7 0.3,-9.6 0.2,-3.7 0.3,3 0.2,0.4 0.2,2.1 0.3,4.3 0.2,-4.4 0.3,-3.4 0.2,-1 0.2,0.5 0.3,1.2 0.2,-3 0.3,6.6 0.2,2.3 0.3,-2.5 0.2,-2.2 0.2,5.8 0.3,-0.9 0.2,-13.6 0.3,5.9 0.2,2.8 0.2,8.8 0.3,-13.7 0.2,4 0.3,8.9 0.2,-16.2 0.2,3.6 0.3,4.8 0.2,10.1 0.3,-7 0.2,-8.9 0.3,3.5 0.2,6.3 0.2,-2.6 0.3,-2.5 0.2,5.5 0.3,-7.4 0.2,3.9 0.2,-3.5 0.3,6.6 0.2,-6.6 0.3,3.4 0.2,1.6 0.3,6.6 0.2,-11.1 0.2,5.1 0.3,-11.8 0.2,7.2 0.3,-9.4 0.2,6.4 0.2,3.7 0.3,4.8 0.2,6.3 0.3,-9.7 0.2,1.5 0.2,-9.3 0.3,4.5 0.2,11.9 0.3,-2.4 0.2,6.8 0.3,-3.8 0.2,-13.7 0.2,-4.1 0.3,14.9 0.2,-4.2 0.3,-0.6 0.2,-6.2 0.2,14.8 0.3,-10 0.2,1.6 0.3,-12.9 0.2,4.9 0.3,6.2 0.2,0.7 0.2,6.2 0.3,-10.5 0.2,6.5 0.3,-0.2 0.2,-4.2 0.2,-7.1 0.3,-1.6 0.2,10.8 0.3,-9.5 0.2,3 0.2,9.8 0.3,-10.7 0.2,6.3 0.3,9.4 0.2,-14.3 0.3,-0.8 0.2,6.6 0.2,-6.5 0.3,1.5 0.2,0.5 0.3,-0.6 0.2,4.7 0.2,-4.2 0.3,-4.7 0.2,4.2 0.3,9.1 0.2,-4.3 0.3,-7.6 0.2,-8.3 0.2,4.6 0.3,2 0.2,1.9 0.3,-2.8 0.2,-2 0.2,8.6 0.3,-3.4 0.2,0.2 0.3,4.8 0.2,-3.7 0.2,5.7 0.3,-4.9 0.2,3.3 0.3,-1 0.2,2.4 0.3,0.1 0.2,-6 0.2,5.1 0.3,-6.7 0.2,3 0.3,3.9 0.2,0.1 0.2,4.2 0.3,-13.6 0.2,2.5 0.3,0.2 0.2,4.8 0.3,0.8 0.2,-2.8 0.2,6.3 0.3,-3 0.2,5.7 0.3,-2.7 0.2,-7 0.2,8.8 0.3,-7.3 0.2,-3.3 0.3,3.7 0.2,12.3 0.2,-10 0.3,3.7 0.2,-6.8 0.3,-0.7 0.2,5.1 0.3,0.1 0.2,-4.7 0.2,-2 0.3,10.8 0.2,-7.3 0.3,-5.7 0.2,11 0.2,-4.6 0.3,1.7 0.2,-3.3 0.3,6.2 0.2,-9.6 0.3,-3.5 0.2,-1.3 0.2,5 0.3,3.6 0.2,12.8 0.3,-7.5 0.2,-9.4 0.2,-1.1 0.3,10.5 0.2,-7.5 0.3,3.5 0.2,4.1 0.2,-5.5 0.3,2.9 0.2,2.7 0.3,-0.9 0.2,-14.6 0.3,6.7 0.2,12.6 0.2,-6.6 0.3,-1.9 0.2,1.5 0.3,5.7 0.2,-4.9 0.2,3.4 0.3,-6.1 0.2,6 0.3,4.1 0.2,1.4 0.2,-2 0.3,10.7 0.2,-18.5 0.3,2.7 0.2,0.3 0.3,0.1 0.2,-9.4 0.2,-0.9 0.3,10.2 0.2,-0.4 0.3,-0.8 0.2,2.7 0.2,-2 0.3,6.5 0.2,-2.2 0.3,-1.2 0.2,4.4 0.3,-6.1 0.2,-3.8 0.2,4.4 0.3,-0.7 0.2,1 0.3,-3.1 0.2,-2.7 0.2,7.3 0.3,-1.8 0.2,-4.6 0.3,1.1 0.2,7.3 0.2,-5.5 0.3,2.3 0.2,-12.7 0.3,0.5 0.2,9.6 0.3,-2.5 0.2,5.4 0.2,2.2 0.3,-2.2 0.2,-9.8 0.3,12.1 0.2,-5.6 0.2,-9.8 0.3,1.7 0.2,-5.2 0.3,18.7 0.2,0.8 0.3,0 0.2,-10.4 0.2,10.9 0.3,-3.8 0.2,-2.5 0.3,0 0.2,9.8 0.2,-14.7 0.3,-2.9 0.2,-0.1 0.3,7.1 0.2,-3.6 0.2,0.6 0.3,6.1 0.2,-2.9 0.3,0.8 0.2,-6.2 0.3,15.8 0.2,-5.1 0.2,-5.6 0.3,-11 0.2,13.3 0.3,-1.1 0.2,-12.7 0.2,17.6 0.3,-3.8 0.2,-22.3 0.3,13 0.2,11 0.3,-6.9 0.2,-6.1 0.2,12.5 0.3,-3.6 0.2,-4.1 0.3,-8 0.2,6 0.2,5.1 0.3,0.8 0.2,10.8 0.3,-14.1 0.2,7 0.2,2.2 0.3,-2.9 0.2,-3.3 0.3,7.2 0.2,-7.3 0.3,-6.7 0.2,0.4 0.2,3.8 0.3,-0.9 0.2,-4 0.3,5.4 0.2,10.2 0.2,-11.4 0.3,12 0.2,-1 0.3,-15.3 0.2,14.4 0.3,2 0.2,2.1 0.2,-8.3 0.3,-9.7 0.2,12 0.3,-0.1 0.2,-0.7 0.2,0.5 0.3,-6.6 0.2,-6.9 0.3,8.6 0.2,-4.7 0.2,-2 0.3,7.5 0.2,-9 0.3,16.4 0.2,-4.5 0.3,-5.3 0.2,0.2 0.2,-3.3 0.3,6.5 0.2,-5.8 0.3,1.3 0.2,-0.6 0.2,4 0.3,-0.7 0.2,-5.9 0.3,4.6 0.2,12 0.3,-4.5 0.2,-2.7 0.2,-2.7 0.3,-10.1 0.2,6.1 0.3,1 0.2,0.4 0.2,-2 0.3,5.3 0.2,-6.3 0.3,1.6 0.2,6.7 0.2,-10.2 0.3,4.3 0.2,0.8 0.3,4.5 0.2,2.2 0.3,4.1 0.2,-1.2 0.2,-15.3 0.3,8 0.2,-6.4 0.3,-1.5 0.2,5.8 0.2,-7.1 0.3,-3.1 0.2,10.6 0.3,-0.2 0.2,5.2 0.3,0 0.2,-3.3 0.2,-1.4 0.3,-10 0.2,8.7 0.3,-4.3 0.2,0.5 0.2,-6 0.3,8.1 0.2,0.3 0.3,2.4 0.2,-6.6 0.2,0.9 0.3,3.6 0.2,10.6 0.3,-3.6 0.2,-7.8 0.3,-0.7 0.2,9.6 0.2,3.1 0.3,-3.4 0.2,-12.4 0.3,-7 0.2,9.3 0.2,-0.7 0.3,0.7 0.2,1.4 0.3,3.6 0.2,8.9 0.2,-7.5 0.3,-1.8 0.2,5.3 0.3,-1.3 0.2,-9.9 0.3,9.1 0.2,-5.5 0.2,11.5 0.3,-9.5 0.2,1.7 0.3,-5 0.2,6.5 0.2,10.1 0.3,-8.9 0.2,0.7 0.3,-1.9 0.2,1.4 0.3,-2.3 0.2,7.1 0.2,-6.8 0.3,-6.5 0.2,0.6 0.3,2.5 0.2,-4.8 0.2,0.5 0.3,1 0.2,-0.7 0.3,-0.7 0.2,3.6 0.2,11.1 0.3,-12.7 0.2,4.5 0.3,-12.9 0.2,20.9 0.3,-11.1 0.2,-4.6 0.2,5.5 0.3,-4.8 0.2,1.4 0.3,-1.4 0.2,6.8 0.2,2.9 0.3,-1.7 0.2,-0.1 0.3,-3.4 0.2,3 0.3,-1.5 0.2,-5.6 0.2,5.1 0.3,9.7 0.2,-5.4 0.3,-10.8 0.2,2.3 0.2,9 0.3,-2.1 0.2,1.6 0.3,2.8 0.2,0.2 0.2,-5.6 0.3,-0.4 0.2,-2.3 0.3,2.8 0.2,0.5 0.3,-1.6 0.2,1.3 0.2,-2.1 0.3,-9.1 0.2,3.1 0.3,-0.6 0.2,9.5 0.2,2.2 0.3,-2.9 0.2,3.8 0.3,-4.4 0.2,6.2 0.3,-2.7 0.2,-2.7 0.2,2.9 0.3,-1.3 0.2,2.7 0.3,-4.1 0.2,-4.1 0.2,6.7 0.3,-12.4 0.2,4 0.3,-0.2 0.2,-5.6 0.2,1.5 0.3,14.5 0.2,-11.4 0.3,13.4 0.2,-22.9 0.3,-4 0.2,9.6 0.2,5.6 0.3,5.9 0.2,-0.4 0.3,-6.4 0.2,-1.9 0.2,-7 0.3,24.6 0.2,-10.3 0.3,2.6 0.2,-3.4 0.3,4 0.2,5.1 0.2,-5.7 0.3,-10.7 0.2,6 0.3,8.5 0.2,-6.6 0.2,1.7 0.3,-5.1 0.2,5.9 0.3,-2.4 0.2,-2.9 0.2,-3.3 0.3,-4.7 0.2,14.5 0.3,-8.9 0.2,8.6 0.3,-0.7 0.2,-2.6 0.2,-1.5 0.3,6.1 0.2,9.8 0.3,-9.3 0.2,-5 0.2,1.1 0.3,-8.6 0.2,3.7 0.3,1 0.2,0.6 0.3,2.4 0.2,-1.5 0.2,9.7 0.3,-5.8 0.2,-9.3 0.3,2.3 0.2,3.7 0.2,-3.4 0.3,4.8 0.2,-2.8 0.3,-3.6 0.2,0.3 0.2,4.2 0.3,-4.2 0.2,2.5 0.3,2.2 0.2,-0.4 0.3,2.4 0.2,-0.3 0.2,-7.8 0.3,4.9 0.2,-4.1 0.3,-1 0.2,9.5 0.2,-9.8 0.3,14.6 0.2,-6.3 0.3,-4.1 0.2,4.8 0.3,3.2 0.2,-4.2 0.2,-2 0.3,-3.3 0.2,-0.1 0.3,12.2 0.2,-49 0.2,5.1 0.3,-7.1 0.2,-1.4 0.3,3.2 0.2,9.3 0.2,-1.8 0.3,-0.7 0.2,-18 0.3,7.3 0.2,-1.7 0.3,-3 0.2,5.2 0.2,-5.3 0.3,1.7 0.2,1.5 0.3,-2.1 0.2,-1.1 0.2,-8 0.3,14.4 0.2,-5.1 0.3,-0.9 0.2,8 0.2,-7.9 0.3,-3.3 0.2,0.5 0.3,3.4 0.2,1.1 0.3,2.8 0.2,-4.1 0.2,9 0.3,0.9 0.2,-12 0.3,-6.3 0.2,11.4 0.2,-6.3 0.3,3 0.2,-5 0.3,0.1 0.2,1.7 0.3,-1.6 0.2,3.3 0.2,-0.4 0.3,3.5 0.2,3.4 0.3,-2.8 0.2,2.3 0.2,-10.4 0.3,-3.1 0.2,-13.9 0.3,16.3 0.2,2.7 0.2,-5.6 0.3,-1.5 0.2,-2.8 0.3,13.2 0.2,3 0.3,-6.1 0.2,-9 0.2,-0.9 0.3,3 0.2,-3.6 0.3,5.1 0.2,-6.1 0.2,13.5 0.3,-10.3 0.2,4.7 0.3,66.1 0.2,-1.1 0.3,0.3 0.2,-0.4 0.2,-5.5 0.3,-9.4 0.2,2.1 0.3,1.8 0.2,5.6 0.2,-3.7 0.3,-6.2 0.2,3.9 0.3,4 0.2,1.6 0.2,17.3 0.3,-4.1 0.2,-0.6 0.3,-15.2 0.2,-7.5 0.3,13.4 0.2,-1.5 0.2,1.7 0.3,-9.6 0.2,-7.1 0.3,9.8 0.2,-3 0.2,7.6 0.3,-5.8 0.2,4.7 0.3,-10.3 0.2,10.8 0.3,0.3 0.2,2.3 0.2,-1 0.3,-1.2 0.2,-6.2 0.3,-3.4 0.2,4" fill="none" stroke="#4f7190" stroke-width="2.5" stroke-linejoin="round" clip-path="url(#cl1)"/>
<line x1="123.5" y1="240.2" x2="132" y2="240.2" stroke="#262626" stroke-width="2.6" />
<text x="110.5" y="248.2" font-size="24.5" text-anchor="end">0.0</text>
<line x1="123.5" y1="208.9" x2="132" y2="208.9" stroke="#262626" stroke-width="2.6" />
<text x="110.5" y="216.9" font-size="24.5" text-anchor="end">0.4</text>
<line x1="123.5" y1="177.6" x2="132" y2="177.6" stroke="#262626" stroke-width="2.6" />
<text x="110.5" y="185.6" font-size="24.5" text-anchor="end">0.8</text>
<rect x="123.5" y="162" width="361.8" height="93.9" fill="none" stroke="#262626" stroke-width="2.8" />
<text x="51.6" y="208.9" font-size="24.5" text-anchor="middle" transform="rotate(-90 51.6 208.9)">FRET</text>
<path d="M123.5,345.7l0.2,-2 0.3,-0.9 0.2,-2.2 0.3,4.6 0.2,0.5 0.2,-6.5 0.3,1.4 0.2,-4.5 0.3,3.8 0.2,8.7 0.3,1.2 0.2,-6.7 0.2,4.2 0.3,-6 0.2,1.7 0.3,1.8 0.2,2.3 0.2,-1.8 0.3,1.1 0.2,-5.4 0.3,1.9 0.2,-1.1 0.3,0 0.2,-3.5 0.2,2.8 0.3,-5.1 0.2,7.7 0.3,6.9 0.2,-3 0.2,-5.3 0.3,2.1 0.2,6.4 0.3,0 0.2,-20.6 0.2,12.5 0.3,-2.8 0.2,3.8 0.3,13.6 0.2,-2.2 0.3,-12.9 0.2,2.6 0.2,-1.6 0.3,3.7 0.2,-2.6 0.3,2.2 0.2,-0.7 0.2,-2.6 0.3,3.2 0.2,-7.5 0.3,3 0.2,3.1 0.3,2.9 0.2,-3.8 0.2,-5.6 0.3,0 0.2,1 0.3,0.5 0.2,7.9 0.2,-1.1 0.3,8.8 0.2,-2.3 0.3,-8.3 0.2,8.3 0.2,-3.1 0.3,-5.7 0.2,0.4 0.3,-12.3 0.2,15 0.3,-1.1 0.2,-4.3 0.2,5.7 0.3,-8.3 0.2,3 0.3,-2.9 0.2,-0.5 0.2,0.6 0.3,11.4 0.2,-5.5 0.3,4.7 0.2,-6.8 0.3,-4.1 0.2,-3.1 0.2,6.7 0.3,0.3 0.2,6.3 0.3,3.5 0.2,-8.2 0.2,6.2 0.3,-10.2 0.2,17.8 0.3,-9.4 0.2,-6.4 0.2,-1.4 0.3,2.9 0.2,-1.8 0.3,4.2 0.2,-6.7 0.3,9.1 0.2,-1.5 0.2,1.7 0.3,-5.6 0.2,8 0.3,-9.2 0.2,13.2 0.2,-8.3 0.3,-11.1 0.2,21 0.3,-5 0.2,-2.6 0.2,-5.3 0.3,12.8 0.2,-9.8 0.3,3.7 0.2,-3.8 0.3,-3 0.2,0.1 0.2,1 0.3,3 0.2,-5.1 0.3,-1.3 0.2,-7.9 0.2,3 0.3,-4.4 0.2,4.8 0.3,3.6 0.2,9.4 0.3,2.1 0.2,-6.8 0.2,3.2 0.3,-1.7 0.2,-4.2 0.3,2.1 0.2,1.2 0.2,-2.6 0.3,-1.2 0.2,-2.9 0.3,3.1 0.2,1 0.2,-7.3 0.3,8.1 0.2,-12.8 0.3,10.9 0.2,-3.3 0.3,7 0.2,-2 0.2,-1.9 0.3,-1.4 0.2,-3.8 0.3,12.8 0.2,-8.2 0.2,7.9 0.3,-6.2 0.2,2.1 0.3,-10.1 0.2,-2.5 0.3,8.9 0.2,-3.7 0.2,-1.9 0.3,10 0.2,4.7 0.3,-2.9 0.2,-8.3 0.2,13.9 0.3,-14.7 0.2,-0.4 0.3,2.9 0.2,10.1 0.2,-3.9 0.3,0.2 0.2,-3 0.3,-0.6 0.2,-1 0.3,0.9 0.2,-1.3 0.2,5.9 0.3,-6 0.2,0.9 0.3,1.6 0.2,-4.8 0.2,7.7 0.3,5.7 0.2,-6.1 0.3,-6.8 0.2,7.7 0.3,-9.3 0.2,1.1 0.2,-2.8 0.3,6.5 0.2,-1.3 0.3,1.8 0.2,-5.8 0.2,5.4 0.3,-1 0.2,0.8 0.3,-3 0.2,0.1 0.2,11.5 0.3,-8 0.2,-0.2 0.3,-0.5 0.2,-0.6 0.3,-2.7 0.2,-4.3 0.2,6.4 0.3,-3.5 0.2,-3.6 0.3,-1.7 0.2,8.7 0.2,6.5 0.3,-11.8 0.2,3 0.3,-3.9 0.2,2.6 0.3,8.2 0.2,1.1 0.2,-1.4 0.3,-0.8 0.2,-7.9 0.3,0.7 0.2,6.9 0.2,9.3 0.3,-11.6 0.2,-3.7 0.3,3.1 0.2,4.5 0.2,-5 0.3,5.3 0.2,-5 0.3,-4.2 0.2,8 0.3,-4.6 0.2,-1.5 0.2,-1.6 0.3,4 0.2,4.8 0.3,-2.7 0.2,-3.1 0.2,0.5 0.3,-1.1 0.2,-10.5 0.3,14.1 0.2,4.3 0.3,-5.5 0.2,-5 0.2,-0.8 0.3,13.3 0.2,-1.6 0.3,-7.7 0.2,6.2 0.2,-3 0.3,0.8 0.2,5.8 0.3,-6.1 0.2,-5.7 0.2,-2.2 0.3,-5.3 0.2,13.2 0.3,-5.8 0.2,4 0.3,-9.6 0.2,8.7 0.2,-0.1 0.3,-0.3 0.2,6 0.3,-2.6 0.2,-5.3 0.2,5.4 0.3,-12.3 0.2,3.9 0.3,7.3 0.2,-1.6 0.3,2.1 0.2,-5.5 0.2,5.3 0.3,-0.6 0.2,0.1 0.3,4.4 0.2,-0.8 0.2,3.6 0.3,-9 0.2,0.8 0.3,-0.8 0.2,0.2 0.2,-2.9 0.3,-1.7 0.2,7.6 0.3,2.5 0.2,-4.1 0.3,3 0.2,-1.3 0.2,1.2 0.3,-4.4 0.2,3.6 0.3,-3.9 0.2,1.9 0.2,0.5 0.3,8.1 0.2,-0.4 0.3,-5.7 0.2,4.1 0.2,-1.3 0.3,-0.1 0.2,-9.9 0.3,3.7 0.2,6.2 0.3,-6.8 0.2,4.6 0.2,6.8 0.3,-18.9 0.2,12.8 0.3,-2.3 0.2,4.6 0.2,-3.7 0.3,-2.5 0.2,-3.4 0.3,-1.6 0.2,-3.3 0.3,4.1 0.2,10 0.2,2.1 0.3,-3.6 0.2,-4.3 0.3,0.1 0.2,-0.7 0.2,10.8 0.3,-8.9 0.2,-9.9 0.3,12.1 0.2,-9 0.2,1.4 0.3,8.5 0.2,-16.8 0.3,21.3 0.2,-15.6 0.3,2.4 0.2,15.2 0.2,-4.3 0.3,-14.9 0.2,3.3 0.3,-1.6 0.2,0.5 0.2,0.8 0.3,6.6 0.2,-1.4 0.3,4.7 0.2,-13 0.3,-7.3 0.2,7.2 0.2,10.8 0.3,1 0.2,-12.9 0.3,4.9 0.2,10 0.2,-4.2 0.3,0.3 0.2,1.9 0.3,3.2 0.2,-3.2 0.2,3.2 0.3,-0.3 0.2,-3.3 0.3,-2.4 0.2,-5 0.3,4.8 0.2,6.7 0.2,-9.7 0.3,4 0.2,-5.3 0.3,4.7 0.2,2.1 0.2,1.2 0.3,-2.9 0.2,4.5 0.3,-3.4 0.2,10.3 0.3,-7.2 0.2,2 0.2,-14.1 0.3,7.6 0.2,4.4 0.3,-7.3 0.2,-8.9 0.2,10.9 0.3,-4.1 0.2,-1.4 0.3,2.9 0.2,-4 0.2,10 0.3,6 0.2,-9.2 0.3,6.5 0.2,-4.1 0.3,3 0.2,-6.7 0.2,6.8 0.3,-2.5 0.2,-0.3 0.3,-8.1 0.2,4.4 0.2,-5.5 0.3,7.1 0.2,5.2 0.3,1.2 0.2,-5.5 0.3,0.9 0.2,3.9 0.2,1.1 0.3,-15.6 0.2,10.4 0.3,-3.2 0.2,0.2 0.2,-3.1 0.3,-40.9 0.2,-3.6 0.3,3.2 0.2,-4.4 0.2,-10.8 0.3,4.8 0.2,14.3 0.3,-9.1 0.2,-5.3 0.3,1.9 0.2,5.9 0.2,0.3 0.3,-5.6 0.2,-1.2 0.3,1.3 0.2,0.7 0.2,0.6 0.3,1.3 0.2,-6.2 0.3,1.2 0.2,6.8 0.3,-4.5 0.2,5.9 0.2,-8.7 0.3,3.3 0.2,-0.4 0.3,8.6 0.2,-17.4 0.2,2.2 0.3,10.5 0.2,-6.6 0.3,-3.6 0.2,6.6 0.2,-9.1 0.3,10.2 0.2,-9.3 0.3,11.6 0.2,-2.5 0.3,-5.1 0.2,4.2 0.2,-2.7 0.3,1.5 0.2,0.9 0.3,-2 0.2,1 0.2,-0.6 0.3,5.4 0.2,-4.3 0.3,1.4 0.2,-7.7 0.3,1.1 0.2,2.5 0.2,8.2 0.3,-7.1 0.2,1.9 0.3,-8.5 0.2,5.4 0.2,1.5 0.3,13.3 0.2,-12.1 0.3,-0.9 0.2,2 0.2,-2.8 0.3,-4.3 0.2,6.1 0.3,6.2 0.2,-14.9 0.3,10.4 0.2,-10.1 0.2,10.4 0.3,-5 0.2,-4 0.3,4.4 0.2,1.7 0.2,-4.7 0.3,-5.9 0.2,11.8 0.3,-2.4 0.2,0.3 0.2,-2.3 0.3,-4.6 0.2,10 0.3,2.1 0.2,-5.1 0.3,-4.4 0.2,3.1 0.2,2.8 0.3,-3.7 0.2,0.6 0.3,2 0.2,-0.1 0.2,-5.8 0.3,4.2 0.2,5 0.3,-1.6 0.2,3.3 0.3,-10.2 0.2,11.5 0.2,-2.7 0.3,-8 0.2,5 0.3,-11 0.2,10.1 0.2,11.2 0.3,-2.6 0.2,-3.8 0.3,9.9 0.2,-2.6 0.2,-9.2 0.3,-3.4 0.2,-2.1 0.3,-1.3 0.2,4.4 0.3,5.1 0.2,6.1 0.2,-3.4 0.3,1.9 0.2,-1.8 0.3,-7.2 0.2,8.1 0.2,-5.4 0.3,0.9 0.2,2 0.3,-2.7 0.2,1.3 0.3,-2.5 0.2,9.9 0.2,-5.9 0.3,-1.4 0.2,3 0.3,0.7 0.2,-9.7 0.2,12.6 0.3,-6 0.2,3.4 0.3,4 0.2,-12.3 0.2,5.5 0.3,2.8 0.2,-7 0.3,-1.4 0.2,5.9 0.3,-6.5 0.2,6.1 0.2,-1.3 0.3,-6.1 0.2,13.8 0.3,-3.3 0.2,-11.2 0.2,-2.1 0.3,6.9 0.2,-3.7 0.3,-2.2 0.2,8.5 0.3,-6.1 0.2,-1.2 0.2,2.9 0.3,-8.5 0.2,6.3 0.3,3.6 0.2,4.4 0.2,-3.3 0.3,-0.9 0.2,-5.1 0.3,7.5 0.2,0.1 0.2,-1.5 0.3,-8.7 0.2,0.9 0.3,6.2 0.2,-4.8 0.3,0.1 0.2,4.8 0.2,3.7 0.3,3 0.2,-9.4 0.3,1.7 0.2,2.6 0.2,1.3 0.3,-2.5 0.2,-9.4 0.3,14.3 0.2,2.1 0.3,-6.8 0.2,0.1 0.2,5 0.3,-3.7 0.2,55.8 0.3,2.2 0.2,3.6 0.2,1.1 0.3,-8.9 0.2,-5.9 0.3,5.7 0.2,1.7 0.2,3.4 0.3,-6.2 0.2,-4.1 0.3,5.8 0.2,-0.6 0.3,0.9 0.2,-6.1 0.2,7.1 0.3,1.8 0.2,-5.2 0.3,-3 0.2,12.7 0.2,-3.3 0.3,-10.6 0.2,2.8 0.3,4.2 0.2,-4.6 0.3,-0.8 0.2,0.3 0.2,10.3 0.3,-2.7 0.2,-6 0.3,-2.6 0.2,-1.6 0.2,0.7 0.3,9 0.2,3.2 0.3,-1.2 0.2,-5.5 0.2,-5.9 0.3,2.7 0.2,0.8 0.3,1.8 0.2,2.2 0.3,-0.5 0.2,-1.9 0.2,-9.5 0.3,13.4 0.2,-1.8 0.3,-2.1 0.2,0.7 0.2,-2.8 0.3,-1 0.2,1.8 0.3,3.7 0.2,-0.6 0.3,-11.6 0.2,8.1 0.2,2.8 0.3,3.1 0.2,-11.2 0.3,6.7 0.2,-6.8 0.2,6.2 0.3,-3.7 0.2,0.6 0.3,-2.4 0.2,9 0.2,-6.2 0.3,-1.6 0.2,2 0.3,6.6 0.2,-2.6 0.3,-0.3 0.2,4 0.2,3.8 0.3,-14.4 0.2,4.9 0.3,-1.6 0.2,-1.9 0.2,1.3 0.3,13.5 0.2,-3.7 0.3,-4.9 0.2,0.4 0.2,-8.2 0.3,9.7 0.2,-1.8 0.3,-2.1 0.2,6.6 0.3,-5.3 0.2,8.9 0.2,-13.2 0.3,5.5 0.2,-5.5 0.3,-0.4 0.2,-4.9 0.2,4 0.3,1.3 0.2,5.5 0.3,-7.6 0.2,-1.7 0.3,3.3 0.2,7 0.2,-5.9 0.3,2.1 0.2,0.1 0.3,-2.5 0.2,8 0.2,-5.7 0.3,-0.9 0.2,0.1 0.3,5.2 0.2,-3.3 0.2,0.2 0.3,6.4 0.2,-13.4 0.3,6 0.2,-10.4 0.3,8.7 0.2,1.1 0.2,6 0.3,-9.9 0.2,-1.6 0.3,12.6 0.2,2.6 0.2,1.2 0.3,1.7 0.2,-14.5 0.3,-4.7 0.2,5.2 0.3,-0.8 0.2,-12 0.2,17.9 0.3,3.5 0.2,3.4 0.3,-4.5 0.2,-6.8 0.2,-1.7 0.3,10.5 0.2,-13.4 0.3,-5.4 0.2,13.5 0.2,-3.3 0.3,-0.4 0.2,4.9 0.3,10.1 0.2,-1.4 0.3,-0.2 0.2,-11.6 0.2,-3.2 0.3,0.8 0.2,-0.6 0.3,-0.9 0.2,5.7 0.2,2.2 0.3,-3.2 0.2,5.7 0.3,-10.2 0.2,4.2 0.3,4.8 0.2,-1.1 0.2,-3.6 0.3,-0.1 0.2,-1.2 0.3,2.1 0.2,-1.5 0.2,-0.1 0.3,-2.9 0.2,-0.5 0.3,3.3 0.2,0.7 0.2,1 0.3,1.9 0.2,-1.9 0.3,4.7 0.2,-7.4 0.3,-0.3 0.2,1.3 0.2,4.3 0.3,-5.4 0.2,1.3 0.3,10.4 0.2,-6.4 0.2,-2.5 0.3,6.7 0.2,-7.1 0.3,-7.7 0.2,11.7 0.3,8.3 0.2,-7.3 0.2,-67.4 0.3,2.4 0.2,5.6 0.3,-15.1 0.2,2.8 0.2,11.7 0.3,1.1 0.2,-6.1 0.3,2.1 0.2,-5.3 0.2,0.9 0.3,6.2 0.2,-4.8 0.3,9.9 0.2,-2.6 0.3,3.3 0.2,-6.7 0.2,-12.7 0.3,15.5 0.2,0.3 0.3,-18.5 0.2,8.9 0.2,6.6 0.3,0 0.2,-0.1 0.3,-3 0.2,4.3 0.3,-1.9 0.2,-1.2 0.2,4.3 0.3,1.2 0.2,0.2 0.3,-1.6 0.2,3.3 0.2,-6.9 0.3,6.5 0.2,-7.9 0.3,5.7 0.2,0.2 0.2,-2.8 0.3,10.3 0.2,-1.5 0.3,-10.7 0.2,59.2 0.3,-4.3 0.2,7.9 0.2,-3.5 0.3,6.1 0.2,-5.1 0.3,-6.2 0.2,10.2 0.2,-4.4 0.3,-3.9 0.2,-0.9 0.3,-3.3 0.2,0.4 0.2,12.5 0.3,4.3 0.2,-17.8 0.3,2.9 0.2,4.1 0.3,2.6 0.2,-0.4 0.2,-3.9 0.3,8.5 0.2,-2 0.3,-4 0.2,6.2 0.2,6.1 0.3,-6.6 0.2,-11.5 0.3,10.1 0.2,-8.3 0.3,8.5 0.2,3.2 0.2,-12.8 0.3,1.6 0.2,-1 0.3,-0.6 0.2,7.1 0.2,-5 0.3,-2.9 0.2,3.4 0.3,-0.7 0.2,7.2 0.2,-4.9 0.3,1.5 0.2,1.8 0.3,-5 0.2,3.4 0.3,0.3 0.2,7 0.2,-9.4 0.3,-6 0.2,12.8 0.3,-7.3 0.2,3.6 0.2,5.9 0.3,-6.5 0.2,1.5 0.3,-4.5 0.2,-1.9 0.3,3.9 0.2,-2.9 0.2,10.7 0.3,1.7 0.2,-2.7 0.3,-1.1 0.2,-0.7 0.2,-1.6 0.3,-2.6 0.2,-6.3 0.3,-0.8 0.2,6.1 0.2,-1.1 0.3,6.3 0.2,2.1 0.3,3 0.2,-3.8 0.3,-3.3 0.2,-7.1 0.2,2.4 0.3,8.3 0.2,-1 0.3,-7.9 0.2,-7.5 0.2,8.2 0.3,0.4 0.2,9.3 0.3,-10.1 0.2,9.4 0.3,-1.4 0.2,-10.6 0.2,2 0.3,-1.3 0.2,0 0.3,-4.1 0.2,4.9 0.2,1.4 0.3,1.5 0.2,3.4 0.3,-8.7 0.2,3.4 0.2,-1 0.3,12.3 0.2,-8.8 0.3,3.5 0.2,-1.5 0.3,-0.8 0.2,-4.2 0.2,11.5 0.3,-2.2 0.2,-2.3 0.3,-4.7 0.2,-6.5 0.2,5.9 0.3,-1.4 0.2,3 0.3,0.9 0.2,-7.3 0.3,3.6 0.2,7.8 0.2,0.8 0.3,-0.6 0.2,1.5 0.3,-7.9 0.2,2.2 0.2,-1.6 0.3,-1 0.2,-5.3 0.3,-2.2 0.2,3.4 0.2,1.9 0.3,9.4 0.2,-2.9 0.3,-6.7 0.2,3.2 0.3,8.4 0.2,-11.3 0.2,1.9 0.3,-0.4 0.2,5.2 0.3,-2.3 0.2,3.7 0.2,1.8 0.3,-8.1 0.2,6.5 0.3,-5.4 0.2,-7.2 0.3,6.2 0.2,-3.5 0.2,7.1 0.3,-4.1 0.2,1.3 0.3,-1.1 0.2,3.2 0.2,-3 0.3,5.9 0.2,-1.3 0.3,-6.6 0.2,-3.2 0.2,6.8 0.3,1.2 0.2,-8.6 0.3,6.8 0.2,2.1 0.3,1.6 0.2,10.2 0.2,-9.3 0.3,-3.3 0.2,-8.3 0.3,3.2 0.2,-0.7 0.2,-2.7 0.3,9 0.2,5 0.3,-5.6 0.2,-7.2 0.3,4 0.2,-13.7 0.2,16.7 0.3,0.7 0.2,2.2 0.3,4.7 0.2,-18.6 0.2,9.4 0.3,12.8 0.2,-14.2 0.3,3.9 0.2,-8.5 0.2,16.9 0.3,-10.4 0.2,2.3 0.3,-5.3 0.2,2.8 0.3,-8.9 0.2,19.6 0.2,-13.4 0.3,7 0.2,-5.5 0.3,2.5 0.2,4.1 0.2,-2.6 0.3,-4.5 0.2,-1.1 0.3,9.6 0.2,-9.3 0.2,5.2 0.3,-8.7 0.2,2.8 0.3,2.4 0.2,5.8 0.3,-4.9 0.2,8.1 0.2,-3.8 0.3,-4.4 0.2,6 0.3,-7.3 0.2,5.2 0.2,-11.4 0.3,3.1 0.2,0.4 0.3,6 0.2,10.2 0.3,-13.4 0.2,-0.2 0.2,-2.3 0.3,-2.4 0.2,11.4 0.3,-4.3 0.2,8 0.2,-7.4 0.3,-7.8 0.2,9.5 0.3,-3.5 0.2,-1.3 0.2,-0.3 0.3,-0.8 0.2,-0.9 0.3,2.1 0.2,0.5 0.3,-4.7 0.2,10 0.2,-1.7 0.3,-6.8 0.2,3 0.3,-3.8 0.2,6.5 0.2,-3.8 0.3,0 0.2,3.6 0.3,7.5 0.2,-7.5 0.3,-6.5 0.2,-3.5 0.2,9.2 0.3,0.9 0.2,-3.3 0.3,4.3 0.2,-3 0.2,13.3 0.3,-14.9 0.2,-1.6 0.3,3.5 0.2,1.8 0.2,-4.8 0.3,-0.2 0.2,2.7 0.3,-14.3 0.2,15.1 0.3,4 0.2,-8.9 0.2,9.1 0.3,-8.5 0.2,-0.2 0.3,-1.1 0.2,11.7 0.2,-8.2 0.3,-14.9 0.2,7.6 0.3,-2.8 0.2,1.9 0.3,12.1 0.2,0.7 0.2,0 0.3,2.6 0.2,-7.3 0.3,1.2 0.2,-6.1 0.2,-8.2 0.3,16.2 0.2,-3.5 0.3,-3.8 0.2,-5 0.2,15.1 0.3,1 0.2,-10.5 0.3,8.1 0.2,10.8 0.3,-11.4 0.2,-13 0.2,3.8 0.3,-0.8 0.2,-1.9 0.3,4.7 0.2,2.7 0.2,4 0.3,-3.7 0.2,0.8 0.3,8.1 0.2,-1.7 0.3,-3.7 0.2,2.8 0.2,-13.3 0.3,5.5 0.2,6.1 0.3,-1.8 0.2,-1.5 0.2,6.4 0.3,-14 0.2,3.5 0.3,2.4 0.2,-2.4 0.2,6.9 0.3,2.4 0.2,-12.4 0.3,8 0.2,-9.1 0.3,1.6 0.2,5.2 0.2,-7.8 0.3,15.9 0.2,-6.3 0.3,-3.3 0.2,-6.8 0.2,12.7 0.3,-2.9 0.2,-4 0.3,-3.3 0.2,10.6 0.3,-6.6 0.2,5.6 0.2,-3.8 0.3,4.2 0.2,-57.9 0.3,-8.4 0.2,-3.8 0.2,9.4 0.3,4.1 0.2,-11.6 0.3,11.1 0.2,-8.3 0.2,2.6 0.3,-6 0.2,-3.7 0.3,7.7 0.2,8.2 0.3,3.3 0.2,2.1 0.2,-6.2 0.3,-1.6 0.2,-12.4 0.3,5.2 0.2,10.4 0.2,-1 0.3,-0.6 0.2,0.2 0.3,-3.6 0.2,6.6 0.3,-4.6 0.2,-7.7 0.2,-1.6 0.3,11.4 0.2,-9.1 0.3,7.8 0.2,1.6 0.2,1.4 0.3,3.3 0.2,-0.2 0.3,-0.4 0.2,-5.6 0.2,-1.2 0.3,3.3 0.2,-5.4 0.3,3.4 0.2,-2.2 0.3,2.2 0.2,-4 0.2,4.4 0.3,-3.5 0.2,0.2 0.3,-4.3 0.2,4.7 0.2,-1.2 0.3,-2.9 0.2,1.7 0.3,7.8 0.2,0.9 0.2,-4.3 0.3,3.4 0.2,-9.5 0.3,7.5 0.2,-0.4 0.3,-2.6 0.2,-6.1 0.2,7.8 0.3,2 0.2,2 0.3,-6.8 0.2,6.2 0.2,-3.9 0.3,-1.6 0.2,2.5 0.3,2.8 0.2,-2.5 0.3,-2.7 0.2,5.3 0.2,-4.4 0.3,4.6 0.2,1.1 0.3,-6.6 0.2,2.6 0.2,0.1 0.3,10.4 0.2,-5.5 0.3,-8.6 0.2,3.4 0.2,-2.2 0.3,2 0.2,-3 0.3,7.8 0.2,1.7 0.3,-9.8 0.2,3.9 0.2,-2.3 0.3,1.7 0.2,-0.1 0.3,6.5 0.2,-1.9 0.2,-2.2 0.3,2.5 0.2,-0.8 0.3,-7 0.2,4.5 0.3,4.8 0.2,-5.6 0.2,-2.3 0.3,4.8 0.2,-3 0.3,-1.2 0.2,1.7 0.2,-4.3 0.3,6.1 0.2,-7.8 0.3,2.4 0.2,3.5 0.2,4.1 0.3,-8.9 0.2,6.4 0.3,-5.8 0.2,1.6 0.3,-1.5 0.2,10.2 0.2,6.7 0.3,-3.6 0.2,-10.4 0.3,1.3 0.2,1.7 0.2,-6.9 0.3,9.8 0.2,-4.4 0.3,-2.1 0.2,-3.2 0.3,8.2 0.2,-0.3 0.2,9 0.3,-12.2 0.2,-2.1 0.3,0.2 0.2,4.3 0.2,3.1 0.3,-2.6 0.2,9.3 0.3,0.5 0.2,-11.7 0.2,0.1 0.3,0.2 0.2,-2.8 0.3,6.9 0.2,4.9 0.3,-7.7 0.2,-7.4 0.2,4.6 0.3,7.2 0.2,-11 0.3,5.6 0.2,-2.6 0.2,0.6 0.3,3.6 0.2,-5.2 0.3,11.4 0.2,-8 0.3,0.4 0.2,-7.5 0.2,4.3 0.3,-5.2 0.2,1.8 0.3,7.6 0.2,-5.6 0.2,1.8 0.3,7.8 0.2,-9.8 0.3,0.9 0.2,-4 0.2,0.9 0.3,3.7 0.2,3 0.3,-2.7 0.2,-3.9 0.3,8.1 0.2,-3.9 0.2,-12.9 0.3,12.5 0.2,2.3 0.3,2.3 0.2,-7.7 0.2,3 0.3,-9.5 0.2,9.5 0.3,2.1 0.2,0.4 0.3,0.6 0.2,1.4 0.2,-7.2 0.3,2.3 0.2,2.6 0.3,-3.8 0.2,-5.8 0.2,10.5 0.3,7.4 0.2,-0.7 0.3,-5.3 0.2,-9 0.2,-3.5 0.3,3.5 0.2,4.8 0.3,0.5 0.2,-2.2 0.3,0.6 0.2,2.4 0.2,-3.2 0.3,11.6 0.2,-10.5 0.3,1.8 0.2,-6.8 0.2,10 0.3,0.6 0.2,3.9 0.3,-3 0.2,-7.5 0.3,3.6 0.2,3.8 0.2,-4.4 0.3,-2.6 0.2,-3.6 0.3,7.2 0.2,-2 0.2,0.1 0.3,6.4 0.2,-5.5 0.3,6.4 0.2,-12.1 0.2,13.7 0.3,-3.9 0.2,-1.5 0.3,2.9 0.2,-3.3 0.3,2.2 0.2,6.3 0.2,-11.9 0.3,3.7 0.2,-8.4 0.3,9.2 0.2,-3.4 0.2,6.7 0.3,-6.9 0.2,3.4 0.3,-2.6 0.2,-4.9 0.2,5.1 0.3,1.3 0.2,-0.6 0.3,1.8 0.2,-10.1 0.3,4 0.2,6.4 0.2,-5.7 0.3,1.5 0.2,1.5 0.3,-4.1 0.2,2.4 0.2,5.6 0.3,-3.2 0.2,1.2 0.3,-0.5 0.2,-0.3 0.3,3.8 0.2,-4 0.2,0.4 0.3,4.4 0.2,-6.7 0.3,-3 0.2,-3.1 0.2,6.7 0.3,-7.2 0.2,4.1 0.3,8 0.2,2.5 0.2,-2.6 0.3,-1 0.2,-8.4 0.3,2.1 0.2,8.7 0.3,1.1 0.2,-6.4 0.2,-1.2 0.3,2.3 0.2,-0.2 0.3,-9.2 0.2,12.3 0.2,-8.5 0.3,-1.1 0.2,-2.3 0.3,-3.9 0.2,10.4 0.3,-0.4 0.2,-9.5 0.2,10 0.3,2.5 0.2,3.6 0.3,-9.1 0.2,-9.6 0.2,10.1 0.3,4.3 0.2,-0.5 0.3,2.9 0.2,0.6 0.2,-5.7 0.3,8.5 0.2,-13.7 0.3,3.3 0.2,8.8 0.3,-2.2 0.2,-7.9 0.2,1.3 0.3,0.1 0.2,5.5 0.3,-0.6 0.2,1.8 0.2,-5.7 0.3,5.3 0.2,-0.2 0.3,-4.5 0.2,0.5 0.3,-0.7 0.2,-2.7 0.2,-3.6 0.3,5.8 0.2,-1.6 0.3,2.6 0.2,-14.2" fill="none" stroke="#4f7190" stroke-width="2.5" stroke-linejoin="round" clip-path="url(#cl2)"/>
<line x1="123.5" y1="350.2" x2="132" y2="350.2" stroke="#262626" stroke-width="2.6" />
<text x="110.5" y="358.2" font-size="24.5" text-anchor="end">0.0</text>
<line x1="123.5" y1="318.9" x2="132" y2="318.9" stroke="#262626" stroke-width="2.6" />
<text x="110.5" y="326.9" font-size="24.5" text-anchor="end">0.4</text>
<line x1="123.5" y1="287.6" x2="132" y2="287.6" stroke="#262626" stroke-width="2.6" />
<text x="110.5" y="295.6" font-size="24.5" text-anchor="end">0.8</text>
<rect x="123.5" y="272.1" width="361.8" height="93.8" fill="none" stroke="#262626" stroke-width="2.8" />
<text x="51.6" y="319.0" font-size="24.5" text-anchor="middle" transform="rotate(-90 51.6 319.0)">FRET</text>
<path d="M123.5,396.2l0.2,0.8 0.3,4.1 0.2,2.2 0.3,-3.4 0.2,3.3 0.2,0.5 0.3,-0.2 0.2,-4.1 0.3,-2 0.2,-1.6 0.3,-0.2 0.2,9.5 0.2,-9.9 0.3,2.8 0.2,1.1 0.3,1 0.2,-5.8 0.2,7.1 0.3,2.2 0.2,2.9 0.3,-7.7 0.2,-4.3 0.3,1.2 0.2,-2.1 0.2,9.3 0.3,-4.1 0.2,-0.4 0.3,2.1 0.2,4.6 0.2,-1.7 0.3,-2.3 0.2,-1.6 0.3,0.7 0.2,-3 0.2,5.7 0.3,-8.6 0.2,2.4 0.3,-2.3 0.2,7.8 0.3,-2.1 0.2,1.4 0.2,-3.6 0.3,1.3 0.2,5.2 0.3,-1.1 0.2,-3.6 0.2,-4.5 0.3,6.6 0.2,-7.5 0.3,-0.4 0.2,13.5 0.3,-12.1 0.2,4.7 0.2,9.7 0.3,-12.3 0.2,0.7 0.3,-2.7 0.2,11.5 0.2,-8.4 0.3,-13.3 0.2,1.2 0.3,7.4 0.2,16.1 0.2,-2.9 0.3,-7 0.2,-6.4 0.3,6.4 0.2,-0.8 0.3,-7.3 0.2,6.2 0.2,-6 0.3,2.4 0.2,2.4 0.3,-0.8 0.2,5.2 0.2,7.1 0.3,-12.8 0.2,5.4 0.3,0.5 0.2,0.7 0.3,-7.8 0.2,-2.7 0.2,6.1 0.3,-2.5 0.2,4.5 0.3,-11.5 0.2,6.5 0.2,1.9 0.3,8.4 0.2,-6 0.3,2.6 0.2,-3.8 0.2,-1.2 0.3,1.1 0.2,2.4 0.3,3.6 0.2,-8.6 0.3,5.2 0.2,-5.1 0.2,-1.9 0.3,1.5 0.2,6 0.3,-8.6 0.2,4 0.2,6.1 0.3,3.8 0.2,-8.2 0.3,-1 0.2,-1.1 0.2,5.6 0.3,-3.1 0.2,4.1 0.3,-1.8 0.2,-6.1 0.3,0.4 0.2,0.1 0.2,10.1 0.3,-2.1 0.2,0 0.3,-0.6 0.2,-0.1 0.2,-3.8 0.3,-2.2 0.2,3.8 0.3,0.2 0.2,-2.6 0.3,8.9 0.2,-2.5 0.2,-2.5 0.3,-3.7 0.2,7.3 0.3,0.4 0.2,-7.4 0.2,1 0.3,-0.4 0.2,0.1 0.3,13.2 0.2,-12.6 0.2,-0.9 0.3,-5.6 0.2,12.3 0.3,0.3 0.2,-3.7 0.3,-9.9 0.2,58.1 0.2,5.8 0.3,-2.2 0.2,1.7 0.3,2.1 0.2,-6.7 0.2,-6.2 0.3,1.8 0.2,6.4 0.3,1.7 0.2,4.7 0.3,2.4 0.2,-5 0.2,0.6 0.3,-1.1 0.2,-4.8 0.3,9.9 0.2,-2.9 0.2,1.3 0.3,-2.2 0.2,1.7 0.3,-2.8 0.2,2.9 0.2,3.4 0.3,-3.3 0.2,-3.4 0.3,-0.4 0.2,-2.5 0.3,2 0.2,7.9 0.2,-3.6 0.3,-11 0.2,5.4 0.3,2.9 0.2,3.1 0.2,-1.6 0.3,-0.9 0.2,1 0.3,-4.2 0.2,1.9 0.3,-1.2 0.2,0.2 0.2,11 0.3,-1.5 0.2,-4 0.3,6.8 0.2,-5.6 0.2,-8.4 0.3,-2.9 0.2,-2.3 0.3,14.3 0.2,-5.9 0.2,0.8 0.3,3.1 0.2,-11.6 0.3,-0.1 0.2,10 0.3,-1.5 0.2,9.4 0.2,-6.8 0.3,-0.5 0.2,0.1 0.3,0.8 0.2,-4.8 0.2,2.4 0.3,-3 0.2,-5.4 0.3,-1.7 0.2,10.1 0.3,-1.1 0.2,-0.3 0.2,5.2 0.3,-0.8 0.2,-0.2 0.3,-5.3 0.2,4.3 0.2,-2.1 0.3,2.6 0.2,5.3 0.3,-0.7 0.2,-0.5 0.2,1.1 0.3,-5.2 0.2,-18.5 0.3,16.8 0.2,-0.8 0.3,-4.5 0.2,2.4 0.2,4.6 0.3,-1.7 0.2,-7.4 0.3,11.5 0.2,-3.7 0.2,-0.5 0.3,-7.8 0.2,6 0.3,2.7 0.2,-2.6 0.3,-0.1 0.2,-8.8 0.2,-1.5 0.3,8 0.2,1.4 0.3,0.9 0.2,2.5 0.2,-2 0.3,-6.3 0.2,5.2 0.3,4.2 0.2,-5.6 0.2,-6 0.3,5.2 0.2,6.2 0.3,-3.5 0.2,-8.3 0.3,4.9 0.2,5.9 0.2,-3.7 0.3,0.6 0.2,-0.5 0.3,4 0.2,-1.9 0.2,-8.1 0.3,5.8 0.2,0.9 0.3,6.6 0.2,-6.8 0.3,-5.1 0.2,5.6 0.2,8.2 0.3,-2.1 0.2,-8.3 0.3,-0.9 0.2,-4.5 0.2,9.8 0.3,-8.4 0.2,-1.3 0.3,4.7 0.2,5.9 0.2,-5.7 0.3,-2 0.2,5.4 0.3,-3.6 0.2,7.3 0.3,-2.5 0.2,-3.2 0.2,-1.9 0.3,6.2 0.2,1.6 0.3,-5.5 0.2,0.2 0.2,0.4 0.3,-5.2 0.2,4.9 0.3,2.4 0.2,6.9 0.2,-5.5 0.3,-9.7 0.2,10.7 0.3,-61.9 0.2,9.5 0.3,-4.2 0.2,-4.1 0.2,-4 0.3,11.4 0.2,-5 0.3,-8.4 0.2,11.2 0.2,-4.7 0.3,0 0.2,4.6 0.3,-8.2 0.2,1.2 0.3,-1 0.2,1.3 0.2,-3.4 0.3,5.9 0.2,-0.7 0.3,3.8 0.2,-4.4 0.2,3 0.3,0.9 0.2,7 0.3,-11.1 0.2,0.8 0.2,12 0.3,-3.2 0.2,-0.8 0.3,-2.5 0.2,1 0.3,2.3 0.2,-4.5 0.2,-5.5 0.3,2.3 0.2,-5.3 0.3,1.1 0.2,6.4 0.2,-2.9 0.3,6.8 0.2,6.3 0.3,-6.5 0.2,1.9 0.3,-2.6 0.2,-1.7 0.2,-0.9 0.3,1.8 0.2,6.3 0.3,-7.2 0.2,-4.4 0.2,3.1 0.3,-3 0.2,1 0.3,-3 0.2,-1.3 0.2,2.5 0.3,2.6 0.2,-1.5 0.3,0.8 0.2,-2.5 0.3,-7.8 0.2,17.4 0.2,-10 0.3,0.8 0.2,-2 0.3,6 0.2,-1 0.2,5.9 0.3,-6 0.2,-6.2 0.3,2.5 0.2,0.6 0.3,6.9 0.2,-9 0.2,-0.1 0.3,7 0.2,2.8 0.3,-6.9 0.2,-0.2 0.2,2.9 0.3,-0.2 0.2,-4.7 0.3,10.9 0.2,-8.9 0.2,-0.1 0.3,2.2 0.2,4.1 0.3,-6.8 0.2,2.2 0.3,4.1 0.2,-0.5 0.2,1.6 0.3,-5.2 0.2,-5.8 0.3,14.3 0.2,-5.7 0.2,-8 0.3,5.7 0.2,3.4 0.3,-4.6 0.2,4.1 0.3,-0.6 0.2,-7.4 0.2,12.8 0.3,-10.2 0.2,2.2 0.3,-2.8 0.2,5.5 0.2,-0.8 0.3,-2.6 0.2,1.3 0.3,-6.9 0.2,4.4 0.2,-0.5 0.3,6.6 0.2,-0.8 0.3,0.8 0.2,-5.2 0.3,-0.7 0.2,0.3 0.2,-9.5 0.3,10.3 0.2,-1.6 0.3,-2 0.2,-5.4 0.2,5.2 0.3,1.1 0.2,6.5 0.3,-4.8 0.2,-5.3 0.3,6.3 0.2,6.8 0.2,-6.9 0.3,4.1 0.2,4.8 0.3,51.2 0.2,-3.6 0.2,-3.7 0.3,3.6 0.2,2.4 0.3,-4.6 0.2,0.9 0.2,-3.2 0.3,5.9 0.2,-3.7 0.3,-4.3 0.2,10.2 0.3,-11 0.2,4.4 0.2,0.3 0.3,2.4 0.2,-0.4 0.3,-3.7 0.2,2.1 0.2,1.8 0.3,-2.3 0.2,-0.5 0.3,0.8 0.2,-3.6 0.3,-0.9 0.2,1 0.2,-3.5 0.3,0.8 0.2,9.6 0.3,-9.8 0.2,9.2 0.2,-2.2 0.3,3.3 0.2,1.3 0.3,-4.1 0.2,-4.5 0.2,2.9 0.3,-4.1 0.2,-0.9 0.3,4.7 0.2,2 0.3,3.4 0.2,-8.2 0.2,-1.4 0.3,-0.7 0.2,3.9 0.3,-1.2 0.2,1.3 0.2,5.9 0.3,-4.8 0.2,-7.4 0.3,5.6 0.2,-0.3 0.2,3 0.3,6.5 0.2,-7.9 0.3,5.1 0.2,-2.5 0.3,-0.5 0.2,-12.9 0.2,7.8 0.3,6.8 0.2,-3.9 0.3,-6.3 0.2,-0.2 0.2,9.5 0.3,2.9 0.2,-8.9 0.3,-0.5 0.2,-53.9 0.3,-4.8 0.2,11.2 0.2,-6.2 0.3,4.5 0.2,-1.4 0.3,5.2 0.2,-10.9 0.2,6.3 0.3,3.3 0.2,-6.1 0.3,-2.5 0.2,3.8 0.2,-3.2 0.3,-2.5 0.2,0.3 0.3,-0.5 0.2,7.4 0.3,-3.8 0.2,5 0.2,3.5 0.3,0.9 0.2,-3.2 0.3,-3.3 0.2,-4.2 0.2,9.7 0.3,-5.5 0.2,3.6 0.3,-7 0.2,1.5 0.3,1.6 0.2,-2.1 0.2,-7 0.3,5.2 0.2,4.2 0.3,3.8 0.2,-15.8 0.2,7.1 0.3,-5.3 0.2,11.7 0.3,0.2 0.2,-1.1 0.2,-5.5 0.3,0.5 0.2,1.3 0.3,-0.9 0.2,2.6 0.3,7.5 0.2,-3.3 0.2,-9.1 0.3,0.7 0.2,2.5 0.3,2 0.2,3.4 0.2,-5.9 0.3,3.5 0.2,3.8 0.3,2.6 0.2,-12.4 0.3,10.6 0.2,-3.1 0.2,0.1 0.3,-5.9 0.2,6.7 0.3,2.9 0.2,-2.4 0.2,1.6 0.3,-3.7 0.2,-4.5 0.3,3.5 0.2,3.4 0.2,-3.8 0.3,1.9 0.2,-3.2 0.3,8.8 0.2,3.5 0.3,-0.7 0.2,-4.8 0.2,-7.2 0.3,8.8 0.2,-3.1 0.3,-2.4 0.2,-3.4 0.2,-0.8 0.3,0.7 0.2,2.3 0.3,11.4 0.2,-6.7 0.3,-6.4 0.2,-2 0.2,0.2 0.3,-0.6 0.2,3.6 0.3,4.3 0.2,-8.2 0.2,-2.2 0.3,9.8 0.2,-3.5 0.3,2.1 0.2,3.4 0.2,-10.9 0.3,1.7 0.2,-4.9 0.3,16.3 0.2,-3.5 0.3,4.6 0.2,-4.1 0.2,-6 0.3,0 0.2,-7.4 0.3,5.5 0.2,6.1 0.2,1.6 0.3,-4.8 0.2,-0.7 0.3,-1 0.2,2.4 0.3,7.9 0.2,-9 0.2,-2.2 0.3,4.3 0.2,-6.5 0.3,3.7 0.2,-6 0.2,3.8 0.3,11.3 0.2,-6.3 0.3,1.4 0.2,-3.3 0.2,2.8 0.3,-1.1 0.2,3.1 0.3,3.6 0.2,-0.5 0.3,-4 0.2,-6.6 0.2,2.2 0.3,3.6 0.2,-2.7 0.3,-0.2 0.2,-3.7 0.2,7.8 0.3,-3.7 0.2,-2.4 0.3,11.7 0.2,-12.1 0.3,-0.8 0.2,-0.6 0.2,12.8 0.3,-7.9 0.2,-0.3 0.3,-0.6 0.2,-4.6 0.2,6.8 0.3,-0.5 0.2,-0.6 0.3,0.1 0.2,7.5 0.2,0.4 0.3,-8.9 0.2,-1.1 0.3,-5.4 0.2,8.6 0.3,5.3 0.2,-1.8 0.2,-2.1 0.3,1.1 0.2,-2.9 0.3,-5 0.2,0.2 0.2,7.5 0.3,-4.5 0.2,1.9 0.3,0.7 0.2,-1.4 0.2,0.9 0.3,0.9 0.2,2.2 0.3,-11.4 0.2,9.3 0.3,-3.7 0.2,-2.2 0.2,14.7 0.3,-14.4 0.2,8.9 0.3,6.1 0.2,-8.9 0.2,0.1 0.3,-0.9 0.2,-3.8 0.3,-2.9 0.2,4.5 0.3,-3.3 0.2,3.5 0.2,3.4 0.3,0.9 0.2,-0.3 0.3,-7.4 0.2,1.4 0.2,-1.7 0.3,8 0.2,-1.4 0.3,-3.8 0.2,-1.4 0.2,6.2 0.3,-5.9 0.2,2.6 0.3,-7.2 0.2,-5.2 0.3,5.9 0.2,2.7 0.2,2.9 0.3,-2.5 0.2,-0.7 0.3,6.6 0.2,-3.1 0.2,-7.4 0.3,-0.6 0.2,0.9 0.3,-3.3 0.2,-1.3 0.3,10.4 0.2,1.9 0.2,-0.2 0.3,-2 0.2,-2 0.3,6.2 0.2,-2.8 0.2,-7.5 0.3,6 0.2,4.3 0.3,6 0.2,-6.6 0.2,-0.5 0.3,-2.8 0.2,0.7 0.3,-0.8 0.2,0.7 0.3,0.2 0.2,3.9 0.2,-6.4 0.3,-4.9 0.2,2.3 0.3,2.9 0.2,2.5 0.2,-1.4 0.3,1.7 0.2,-0.4 0.3,5.8 0.2,-10.3 0.3,7.5 0.2,-0.3 0.2,-6 0.3,-2.3 0.2,4.7 0.3,4.1 0.2,-0.9 0.2,-4.1 0.3,-0.3 0.2,-1.9 0.3,5.6 0.2,-4 0.2,-0.7 0.3,5.3 0.2,-1.6 0.3,6.4 0.2,-1.8 0.3,-7 0.2,-3 0.2,10 0.3,-5.7 0.2,-5.2 0.3,11.2 0.2,-3.7 0.2,-5 0.3,2.3 0.2,13.6 0.3,-12.1 0.2,-3.1 0.3,2.4 0.2,0.9 0.2,-1.8 0.3,6.6 0.2,-7 0.3,1.3 0.2,1.5 0.2,1.7 0.3,-1.2 0.2,-4.7 0.3,1.1 0.2,8.7 0.2,-5.7 0.3,1.9 0.2,-3.4 0.3,-0.1 0.2,7.3 0.3,-10.8 0.2,3.4 0.2,4.6 0.3,0.7 0.2,-5.4 0.3,-4 0.2,-7.6 0.2,6.4 0.3,9.2 0.2,-7.6 0.3,-0.2 0.2,-1.2 0.3,5.8 0.2,1.5 0.2,5.3 0.3,-6.1 0.2,-3.5 0.3,2.1 0.2,3.5 0.2,5.2 0.3,-7.9 0.2,-1.1 0.3,1.7 0.2,0.7 0.2,-5.5 0.3,5.5 0.2,-2.1 0.3,1.8 0.2,-2.4 0.3,-7 0.2,8.7 0.2,3.2 0.3,2.9 0.2,-8.6 0.3,-6.6 0.2,3.4 0.2,-1.4 0.3,4 0.2,7.3 0.3,-0.5 0.2,-5.7 0.2,3.2 0.3,7.1 0.2,-4 0.3,-4.7 0.2,4 0.3,-4 0.2,8.8 0.2,-6.1 0.3,-13.5 0.2,5.9 0.3,4.2 0.2,4.5 0.2,-3.4 0.3,2.6 0.2,-2.5 0.3,6 0.2,-0.6 0.3,-4 0.2,-2.2 0.2,-0.7 0.3,4 0.2,-1.5 0.3,3.9 0.2,0.3 0.2,-4.6 0.3,-4.7 0.2,4.5 0.3,-2.2 0.2,-1.5 0.2,0.1 0.3,2.8 0.2,-7.7 0.3,4.5 0.2,5.2 0.3,-1.2 0.2,-0.7 0.2,2.9 0.3,2.5 0.2,-5.9 0.3,-2 0.2,1 0.2,0 0.3,-0.6 0.2,7.7 0.3,-11.9 0.2,2.4 0.3,0.4 0.2,2.6 0.2,-2.5 0.3,8.4 0.2,-3.4 0.3,9.7 0.2,-6.5 0.2,0.1 0.3,-5 0.2,9 0.3,-8.8 0.2,2.8 0.2,1.2 0.3,-0.9 0.2,-0.3 0.3,-8.2 0.2,10.3 0.3,3.4 0.2,-9.8 0.2,1.8 0.3,2.4 0.2,1.7 0.3,-3.4 0.2,-2.6 0.2,-1.8 0.3,5.7 0.2,1.1 0.3,7.6 0.2,-14.1 0.3,5.2 0.2,-0.4 0.2,-4.8 0.3,0 0.2,3.2 0.3,3.2 0.2,7.7 0.2,-11.2 0.3,-8.7 0.2,16.7 0.3,-14.6 0.2,7.7 0.2,-0.4 0.3,4.8 0.2,-4.2 0.3,-3.1 0.2,-4.6 0.3,4 0.2,-3.7 0.2,2.3 0.3,4.1 0.2,3.9 0.3,-2.7 0.2,0.8 0.2,-4.7 0.3,1.5 0.2,-1.6 0.3,-4.7 0.2,5.2 0.3,10.1 0.2,-3.9 0.2,3.5 0.3,-4 0.2,7.7 0.3,-14.1 0.2,5.8 0.2,-2.4 0.3,-1.2 0.2,1.7 0.3,6.4 0.2,-1.7 0.2,-5.9 0.3,3.7 0.2,6.2 0.3,2.4 0.2,-6.4 0.3,-7.2 0.2,5.1 0.2,-2.9 0.3,3.7 0.2,1.2 0.3,-5.6 0.2,-1.5 0.2,-2.7 0.3,9.1 0.2,6 0.3,-5.4 0.2,-14.2 0.3,8.7 0.2,-0.9 0.2,3.9 0.3,-1.9 0.2,-2.7 0.3,5 0.2,-2.5 0.2,-4.9 0.3,4.6 0.2,1.5 0.3,-9.3 0.2,-4.8 0.2,11.2 0.3,3.4 0.2,-3.2 0.3,1.4 0.2,-6.1 0.3,10.9 0.2,-4.4 0.2,0 0.3,-1.6 0.2,0.8 0.3,-1.3 0.2,1.6 0.2,-0.5 0.3,-4.8 0.2,8.4 0.3,11.1 0.2,-14.2 0.3,-1.8 0.2,-0.8 0.2,2.4 0.3,-1.3 0.2,5.7 0.3,0.7 0.2,-10.5 0.2,9.2 0.3,2.6 0.2,0.8 0.3,-3.4 0.2,-7.1 0.2,5.7 0.3,-9.6 0.2,8.1 0.3,-10.8 0.2,11.9 0.3,-0.3 0.2,6.5 0.2,-2.9 0.3,-2.7 0.2,4.7 0.3,-10.5 0.2,1.3 0.2,-3 0.3,2 0.2,-7.6 0.3,5.5 0.2,12.9 0.2,-13.7 0.3,7.7 0.2,2.6 0.3,0.9 0.2,2.2 0.3,-9.5 0.2,-6.7 0.2,7.2 0.3,6.5 0.2,-1.3 0.3,3.2 0.2,-3.7 0.2,-4.5 0.3,7.8 0.2,-1.5 0.3,-4.6 0.2,-3.9 0.3,8.6 0.2,1.1 0.2,2.2 0.3,-3 0.2,-0.8 0.3,-6.2 0.2,-7.5 0.2,8.6 0.3,6.4 0.2,-2.1 0.3,-11.8 0.2,1.4 0.2,9.9 0.3,-8.7 0.2,3.5 0.3,1 0.2,5 0.3,-4.1 0.2,-0.4 0.2,-3.1 0.3,2.4 0.2,-6 0.3,5.8 0.2,1.4 0.2,0.6 0.3,-0.2 0.2,-1.8 0.3,0.6 0.2,-7.7 0.3,3.6 0.2,3.3 0.2,3.2 0.3,-3.5 0.2,-1.6 0.3,0.5 0.2,6 0.2,0.3 0.3,-12.8 0.2,10.1 0.3,2.4 0.2,-0.8 0.2,-0.3 0.3,-2 0.2,-3.6 0.3,-0.2 0.2,0.1 0.3,1.8 0.2,1 0.2,3.4 0.3,-1.3 0.2,-5 0.3,4.8 0.2,-2.9 0.2,5.3 0.3,0.3 0.2,-6 0.3,5.8 0.2,-7.5 0.3,-2.6 0.2,2.4 0.2,-0.9 0.3,-1.7 0.2,6.5 0.3,-2.4 0.2,7.6 0.2,-3.1 0.3,3.2 0.2,-1.1 0.3,0.4 0.2,-5.7 0.2,-1.2 0.3,-0.1 0.2,5 0.3,1.5 0.2,-2.8 0.3,-3 0.2,-6.6 0.2,4.8 0.3,2.4 0.2,4.7 0.3,-5.3 0.2,4.2 0.2,0.5 0.3,-7.7 0.2,0.4 0.3,4.3 0.2,1.6 0.3,0.6 0.2,-4.4 0.2,1.8 0.3,3.3 0.2,-10 0.3,2.2 0.2,-1 0.2,9.9 0.3,-1.4 0.2,-3 0.3,1.8 0.2,-8.7 0.2,9.3 0.3,5.3 0.2,-8.4 0.3,-2.6 0.2,3.5 0.3,3.1 0.2,-1.5 0.2,1.1 0.3,-5.9 0.2,4.7 0.3,12.3 0.2,-14.6 0.2,0.5 0.3,-0.6 0.2,6.6 0.3,-5.1 0.2,12.4 0.3,-11.2 0.2,3.3 0.2,-1.6 0.3,3.3 0.2,1.9 0.3,-5.6 0.2,-3.9 0.2,13.5 0.3,-15.7 0.2,-3.7 0.3,6.6 0.2,3.2 0.2,-0.2 0.3,1.8 0.2,4.1 0.3,-3.9 0.2,-2.6 0.3,-5.5 0.2,-4 0.2,3.6 0.3,8.1 0.2,-2.4 0.3,-4.2 0.2,-5.9 0.2,4.6 0.3,-1.3 0.2,2.2 0.3,0.1 0.2,-5.5 0.3,5.5 0.2,2.9 0.2,0.7 0.3,3.9 0.2,-3.6 0.3,3.3 0.2,-11.6 0.2,3.6 0.3,3.4 0.2,0.2 0.3,6.6 0.2,-7.5 0.2,-2.1 0.3,4.7 0.2,-0.4 0.3,-3.5 0.2,0.3 0.3,8.7 0.2,-2.1 0.2,-1.6 0.3,1 0.2,-5.4 0.3,0.9 0.2,-14.4 0.2,11.3 0.3,4.1 0.2,-1.9 0.3,0.4 0.2,3.2 0.2,-1.4 0.3,-7 0.2,-5.1 0.3,3.9 0.2,7.9 0.3,-11.5 0.2,11.8 0.2,-2.9 0.3,0.4 0.2,-0.8 0.3,2.8 0.2,-2 0.2,4 0.3,-7.6 0.2,2.8 0.3,1.2 0.2,-0.8 0.3,-3.9 0.2,-0.5 0.2,12.3 0.3,-2 0.2,1.4 0.3,-1.6 0.2,-9.4 0.2,6.4 0.3,5.1 0.2,-8.7 0.3,2.9 0.2,-2.5 0.2,7.9 0.3,-6.2 0.2,2.8 0.3,-6.3 0.2,4.1 0.3,0.2 0.2,-2.4 0.2,1.7 0.3,2.3 0.2,-3.1 0.3,-0.4 0.2,1.4 0.2,5.2 0.3,-1 0.2,-3.3 0.3,-1.2 0.2,2.7 0.3,-9.9 0.2,10.9 0.2,-3.1 0.3,9.9 0.2,-14.1 0.3,-1.8 0.2,3.1 0.2,1.2 0.3,1.6 0.2,6.3 0.3,-0.2 0.2,-1.2 0.2,-4 0.3,-4.1 0.2,5.1 0.3,-2 0.2,-0.1 0.3,3.3 0.2,-3 0.2,-2.3 0.3,-6.9 0.2,7.5 0.3,6.4 0.2,-2.8 0.2,0.9 0.3,-10 0.2,9.7 0.3,-7.6 0.2,4.8 0.3,4.6 0.2,1.7 0.2,-10.4 0.3,7.5 0.2,-2.2 0.3,-5.7 0.2,6.8 0.2,-3.5 0.3,-3.3 0.2,5.8 0.3,-2 0.2,5 0.2,4.9 0.3,-3.4 0.2,-6.4 0.3,1.7 0.2,-2.8 0.3,6.3 0.2,-1 0.2,2.6 0.3,-1.7 0.2,1.4 0.3,-5.9 0.2,2.2 0.2,-3.2 0.3,2.7 0.2,-1.7 0.3,3.4 0.2,-8.8 0.3,6.3 0.2,-14.5 0.2,19.3 0.3,7.5 0.2,-9.7 0.3,0.2 0.2,-7.4 0.2,5.1 0.3,3.5 0.2,-5.3 0.3,-8.3 0.2,4.6 0.2,4.9 0.3,0.4 0.2,6.3 0.3,-8.5 0.2,-9.3 0.3,8.5 0.2,10 0.2,-2.9 0.3,-4.6 0.2,0.5 0.3,7.7 0.2,-4.3 0.2,-2.9 0.3,-3.4 0.2,2.9 0.3,-6.8 0.2,1.8 0.3,7.5 0.2,4.9 0.2,-4.1 0.3,0.1 0.2,-5.4 0.3,-3.3 0.2,6.1 0.2,-0.9 0.3,0.1 0.2,-2.8 0.3,9.7 0.2,-2.5 0.2,-8 0.3,3.6 0.2,6 0.3,-6.9 0.2,4 0.3,-3.6 0.2,-8.2 0.2,11.1 0.3,2.9 0.2,-5.9 0.3,-0.2 0.2,2.9 0.2,2.5 0.3,-9.1 0.2,-1 0.3,1.3 0.2,4.7 0.3,-5.3 0.2,10.1 0.2,-8.7 0.3,3.1 0.2,6.5 0.3,-2.5 0.2,-9.8 0.2,-1.4 0.3,4.2 0.2,-1.6 0.3,3.2 0.2,-3.7 0.2,-1.2 0.3,7.1 0.2,0 0.3,4.1 0.2,-6.2 0.3,-0.3 0.2,4.4 0.2,-3.6 0.3,5.4 0.2,-5.5 0.3,1 0.2,-2.9 0.2,-2.3 0.3,14.8 0.2,-1.9 0.3,-3.8 0.2,-2.7 0.2,-3.9 0.3,1.6 0.2,6.8 0.3,-0.7 0.2,-15.2 0.3,4.3 0.2,5.4 0.2,2.2 0.3,-11.4 0.2,6.3 0.3,59.7 0.2,-7.9 0.2,11 0.3,-7.1 0.2,1.3 0.3,-6 0.2,5.4 0.3,1.5 0.2,-2.1 0.2,-1.5 0.3,1.1 0.2,-6.9 0.3,12.2 0.2,-5 0.2,-0.8 0.3,5.9 0.2,-7.7 0.3,4.3 0.2,5.4 0.2,-1.5 0.3,-1.8 0.2,3.5 0.3,0.2 0.2,-7.3 0.3,2.6 0.2,8.9 0.2,-11 0.3,4.3 0.2,-1.2 0.3,2 0.2,4.1 0.2,10.1 0.3,-5.7 0.2,-7.8 0.3,-7.7 0.2,-3.2 0.3,15 0.2,-10.1 0.2,3.5 0.3,-3.4 0.2,3.9 0.3,-2.6 0.2,-4.5 0.2,0.8 0.3,-4 0.2,7 0.3,-3.8 0.2,4.8 0.2,4.7 0.3,-9 0.2,0.7 0.3,3.5 0.2,1.6 0.3,1.1 0.2,-2.6 0.2,7.4 0.3,-10.4 0.2,-3 0.3,5.4 0.2,-0.4 0.2,4.7 0.3,0.9 0.2,-7.4 0.3,10.5 0.2,-5.4 0.3,9.4 0.2,-11.3 0.2,-8.2 0.3,3.5 0.2,2.3 0.3,-0.1 0.2,-4" fill="none" stroke="#4f7190" stroke-width="2.5" stroke-linejoin="round" clip-path="url(#cl3)"/>
<line x1="123.5" y1="460.2" x2="132" y2="460.2" stroke="#262626" stroke-width="2.6" />
<text x="110.5" y="468.2" font-size="24.5" text-anchor="end">0.0</text>
<line x1="123.5" y1="428.9" x2="132" y2="428.9" stroke="#262626" stroke-width="2.6" />
<text x="110.5" y="436.9" font-size="24.5" text-anchor="end">0.4</text>
<line x1="123.5" y1="397.6" x2="132" y2="397.6" stroke="#262626" stroke-width="2.6" />
<text x="110.5" y="405.6" font-size="24.5" text-anchor="end">0.8</text>
<rect x="123.5" y="382.3" width="361.8" height="93.6" fill="none" stroke="#262626" stroke-width="2.8" />
<text x="51.6" y="429.1" font-size="24.5" text-anchor="middle" transform="rotate(-90 51.6 429.1)">FRET</text>
<text x="123.5" y="508" font-size="24.5" text-anchor="middle">0</text>
<line x1="213.9" y1="475.9" x2="213.9" y2="468.4" stroke="#262626" stroke-width="2.6" />
<text x="213.9" y="508" font-size="24.5" text-anchor="middle">100</text>
<line x1="304.4" y1="475.9" x2="304.4" y2="468.4" stroke="#262626" stroke-width="2.6" />
<text x="304.4" y="508" font-size="24.5" text-anchor="middle">200</text>
<line x1="394.9" y1="475.9" x2="394.9" y2="468.4" stroke="#262626" stroke-width="2.6" />
<text x="394.9" y="508" font-size="24.5" text-anchor="middle">300</text>
<text x="485.3" y="508" font-size="24.5" text-anchor="middle">400</text>
<text x="311.5" y="545.2" font-size="24.7" text-anchor="middle">Time (s)</text>
<polygon points="511.4,145.7 511.4,145.7 511.4,144.2 511.4,144.2 511.4,142.8 511.4,142.8 511.4,141.3 511.4,141.3 511.4,139.8 511.4,139.8 511.4,138.4 511.4,138.4 511.4,136.9 511.7,136.9 511.7,135.4 512.9,135.4 512.9,134 517.9,134 517.9,132.5 530.2,132.5 530.2,131 553.2,131 553.2,129.5 576.1,129.5 576.1,128.1 594.8,128.1 594.8,126.6 590.1,126.6 590.1,125.1 568.8,125.1 568.8,123.7 542.1,123.7 542.1,122.2 524.3,122.2 524.3,120.7 515.3,120.7 515.3,119.3 512.2,119.3 512.2,117.8 511.5,117.8 511.5,116.3 511.4,116.3 511.4,114.9 511.4,114.9 511.4,113.4 511.4,113.4 511.4,111.9 511.4,111.9 511.4,110.5 511.4,110.5 511.4,109 511.4,109 511.4,107.5 511.4,107.5 511.4,106 511.4,106 511.4,104.6 511.4,104.6 511.4,103.1 511.4,103.1 511.4,101.6 511.4,101.6 511.4,100.2 511.4,100.2 511.4,98.7 511.4,98.7 511.4,97.2 511.4,97.2 511.4,95.8 511.4,95.8 511.4,94.3 511.4,94.3 511.4,92.8 511.4,92.8 511.4,91.4 511.4,91.4 511.4,89.9 511.5,89.9 511.5,88.4 511.7,88.4 511.7,87 512.6,87 512.6,85.5 514.9,85.5 514.9,84 520.5,84 520.5,82.5 528.8,82.5 528.8,81.1 545,81.1 545,79.6 553.7,79.6 553.7,78.1 561.4,78.1 561.4,76.7 558.7,76.7 558.7,75.2 548.5,75.2 548.5,73.7 533.4,73.7 533.4,72.3 523,72.3 523,70.8 516,70.8 516,69.3 513.1,69.3 513.1,67.9 511.9,67.9 511.9,66.4 511.5,66.4 511.5,64.9 511.4,64.9 511.4,63.5 511.4,63.5 511.4,62 511.4,62 511.4,60.5 511.4,60.5 511.4,59 511.4,59 511.4,57.6 511.4,57.6 511.4,56.1 511.4,56.1 511.4,54.6 511.4,54.6 511.4,53.2 511.4,53.2 511.4,51.7 511.4,51.7" fill="#4f7190" stroke="none" stroke-width="0" />
<rect x="510" y="51.7" width="90.4" height="94" fill="none" stroke="#262626" stroke-width="2.8" />
<polygon points="511.4,255.9 511.4,255.9 511.4,254.4 511.4,254.4 511.4,253 511.4,253 511.4,251.5 511.5,251.5 511.5,250 511.8,250 511.8,248.6 512.6,248.6 512.6,247.1 514.2,247.1 514.2,245.6 518.7,245.6 518.7,244.2 526.5,244.2 526.5,242.7 534.9,242.7 534.9,241.2 554.7,241.2 554.7,239.7 569.8,239.7 569.8,238.3 583.7,238.3 583.7,236.8 594.1,236.8 594.1,235.3 594.3,235.3 594.3,233.9 585.1,233.9 585.1,232.4 569.3,232.4 569.3,230.9 552.7,230.9 552.7,229.5 536.2,229.5 536.2,228 526.4,228 526.4,226.5 518.4,226.5 518.4,225.1 514.9,225.1 514.9,223.6 512.7,223.6 512.7,222.1 511.9,222.1 511.9,220.7 511.5,220.7 511.5,219.2 511.4,219.2 511.4,217.7 511.4,217.7 511.4,216.2 511.4,216.2 511.4,214.8 511.4,214.8 511.4,213.3 511.4,213.3 511.4,211.8 511.4,211.8 511.4,210.4 511.4,210.4 511.4,208.9 511.4,208.9 511.4,207.4 511.4,207.4 511.4,206 511.4,206 511.4,204.5 511.4,204.5 511.4,203 511.4,203 511.4,201.6 511.4,201.6 511.4,200.1 511.4,200.1 511.4,198.6 511.4,198.6 511.4,197.2 511.4,197.2 511.4,195.7 511.4,195.7 511.4,194.2 511.4,194.2 511.4,192.7 511.4,192.7 511.4,191.3 511.4,191.3 511.4,189.8 511.4,189.8 511.4,188.3 511.6,188.3 511.6,186.9 512.6,186.9 512.6,185.4 514.4,185.4 514.4,183.9 514.5,183.9 514.5,182.5 512.8,182.5 512.8,181 512.3,181 512.3,179.5 514,179.5 514,178.1 513.3,178.1 513.3,176.6 511.7,176.6 511.7,175.1 511.4,175.1 511.4,173.7 511.4,173.7 511.4,172.2 511.4,172.2 511.4,170.7 511.4,170.7 511.4,169.2 511.4,169.2 511.4,167.8 511.4,167.8 511.4,166.3 511.4,166.3 511.4,164.8 511.4,164.8 511.4,163.4 511.4,163.4 511.4,161.9 511.4,161.9" fill="#4f7190" stroke="none" stroke-width="0" />
<rect x="510" y="162" width="90.4" height="93.9" fill="none" stroke="#262626" stroke-width="2.8" />
<polygon points="511.4,365.9 511.4,365.9 511.4,364.4 511.4,364.4 511.4,363 511.4,363 511.4,361.5 511.4,361.5 511.4,360 511.4,360 511.4,358.6 511.5,358.6 511.5,357.1 511.8,357.1 511.8,355.6 512.6,355.6 512.6,354.2 514.8,354.2 514.8,352.7 520,352.7 520,351.2 528.9,351.2 528.9,349.7 540.9,349.7 540.9,348.3 558.4,348.3 558.4,346.8 578.1,346.8 578.1,345.3 591.9,345.3 591.9,343.9 595.6,343.9 595.6,342.4 586.8,342.4 586.8,340.9 572.7,340.9 572.7,339.5 550.1,339.5 550.1,338 535.7,338 535.7,336.5 524.3,336.5 524.3,335.1 516.8,335.1 516.8,333.6 513.6,333.6 513.6,332.1 512.2,332.1 512.2,330.7 511.6,330.7 511.6,329.2 511.5,329.2 511.5,327.7 511.4,327.7 511.4,326.2 511.4,326.2 511.4,324.8 511.4,324.8 511.4,323.3 511.4,323.3 511.4,321.8 511.4,321.8 511.4,320.4 511.4,320.4 511.4,318.9 511.4,318.9 511.4,317.4 511.4,317.4 511.4,316 511.4,316 511.4,314.5 511.4,314.5 511.4,313 511.4,313 511.4,311.6 511.5,311.6 511.5,310.1 511.8,310.1 511.8,308.6 512.6,308.6 512.6,307.2 514.4,307.2 514.4,305.7 517.6,305.7 517.6,304.2 522.2,304.2 522.2,302.7 531.2,302.7 531.2,301.3 541.8,301.3 541.8,299.8 551.2,299.8 551.2,298.3 555.9,298.3 555.9,296.9 557,296.9 557,295.4 554.7,295.4 554.7,293.9 548.3,293.9 548.3,292.5 539.7,292.5 539.7,291 529.1,291 529.1,289.5 523.1,289.5 523.1,288.1 517.3,288.1 517.3,286.6 514.4,286.6 514.4,285.1 512.5,285.1 512.5,283.7 511.8,283.7 511.8,282.2 511.5,282.2 511.5,280.7 511.4,280.7 511.4,279.2 511.4,279.2 511.4,277.8 511.4,277.8 511.4,276.3 511.4,276.3 511.4,274.8 511.4,274.8 511.4,273.4 511.4,273.4 511.4,271.9 511.4,271.9" fill="#4f7190" stroke="none" stroke-width="0" />
<rect x="510" y="272.1" width="90.4" height="93.8" fill="none" stroke="#262626" stroke-width="2.8" />
<polygon points="511.4,475.9 511.4,475.9 511.4,474.4 511.4,474.4 511.4,473 511.4,473 511.4,471.5 511.4,471.5 511.4,470 511.4,470 511.4,468.6 511.4,468.6 511.4,467.1 511.4,467.1 511.4,465.6 511.6,465.6 511.6,464.2 512.1,464.2 512.1,462.7 513.8,462.7 513.8,461.2 516.2,461.2 516.2,459.7 522.5,459.7 522.5,458.3 528,458.3 528,456.8 532,456.8 532,455.3 534.5,455.3 534.5,453.9 530.2,453.9 530.2,452.4 522.4,452.4 522.4,450.9 518,450.9 518,449.5 513.7,449.5 513.7,448 512.3,448 512.3,446.5 511.6,446.5 511.6,445.1 511.5,445.1 511.5,443.6 511.4,443.6 511.4,442.1 511.4,442.1 511.4,440.7 511.4,440.7 511.4,439.2 511.4,439.2 511.4,437.7 511.4,437.7 511.4,436.2 511.4,436.2 511.4,434.8 511.4,434.8 511.4,433.3 511.4,433.3 511.4,431.8 511.4,431.8 511.4,430.4 511.4,430.4 511.4,428.9 511.4,428.9 511.4,427.4 511.4,427.4 511.4,426 511.4,426 511.4,424.5 511.4,424.5 511.4,423 511.4,423 511.4,421.6 511.4,421.6 511.4,420.1 511.4,420.1 511.4,418.6 511.4,418.6 511.4,417.2 511.4,417.2 511.4,415.7 511.5,415.7 511.5,414.2 511.9,414.2 511.9,412.7 513,412.7 513,411.3 516.2,411.3 516.2,409.8 524.4,409.8 524.4,408.3 535.9,408.3 535.9,406.9 553.8,406.9 553.8,405.4 575.4,405.4 575.4,403.9 592.1,403.9 592.1,402.5 594.9,402.5 594.9,401 584,401 584,399.5 563.7,399.5 563.7,398.1 546,398.1 546,396.6 530,396.6 530,395.1 519.4,395.1 519.4,393.7 514.3,393.7 514.3,392.2 512.3,392.2 512.3,390.7 511.6,390.7 511.6,389.2 511.4,389.2 511.4,387.8 511.4,387.8 511.4,386.3 511.4,386.3 511.4,384.8 511.4,384.8 511.4,383.4 511.4,383.4 511.4,381.9 511.4,381.9" fill="#4f7190" stroke="none" stroke-width="0" />
<rect x="510" y="382.3" width="90.4" height="93.6" fill="none" stroke="#262626" stroke-width="2.8" />
<path d="M959.4,124.0l0.2,5.8 0.3,-3.4 0.2,1 0.3,1.8 0.2,-1.6 0.2,-7.4 0.3,6.5 0.2,3 0.3,0.2 0.2,-9.4 0.3,9.2 0.2,-2.2 0.2,-1.1 0.3,-8.9 0.2,7 0.3,-1.7 0.2,-0.1 0.2,6.8 0.3,8.8 0.2,-10.8 0.3,-6 0.2,11.1 0.3,0.2 0.2,-5.7 0.2,-4 0.3,3.5 0.2,-2.7 0.3,5.4 0.2,-6 0.2,-2.8 0.3,9.6 0.2,-3.9 0.3,-1.5 0.2,1.5 0.2,2.2 0.3,-4.4 0.2,-4.8 0.3,6 0.2,1.7 0.3,-3.8 0.2,7.2 0.2,-4.2 0.3,12.9 0.2,-17.4 0.3,0.9 0.2,13.1 0.2,-7.6 0.3,-5.4 0.2,-0.8 0.3,8.2 0.2,-2.5 0.3,4.9 0.2,-10.8 0.2,-6.9 0.3,16.7 0.2,-4.7 0.3,0.4 0.2,2.6 0.2,-3.2 0.3,2.5 0.2,1.4 0.3,3.5 0.2,-1.5 0.2,-9.6 0.3,-0.5 0.2,0.2 0.3,-2 0.2,11.3 0.3,-3.5 0.2,-3.5 0.2,6.5 0.3,0.9 0.2,-8.6 0.3,1.3 0.2,1.2 0.2,6.9 0.3,-5.1 0.2,4.1 0.3,4.3 0.2,-7.8 0.3,0.2 0.2,5.9 0.2,-3.7 0.3,-4.3 0.2,5.5 0.3,-3.8 0.2,-11 0.2,11.7 0.3,0.2 0.2,3.5 0.3,0.3 0.2,-13.6 0.2,10.3 0.3,0 0.2,2.6 0.3,-14 0.2,4.4 0.3,1.3 0.2,-1 0.2,5.4 0.3,-0.8 0.2,4.6 0.3,-2.3 0.2,-7.9 0.2,1.5 0.3,8.7 0.2,-1.8 0.3,8.6 0.2,-11.3 0.2,2.8 0.3,1.2 0.2,-1.9 0.3,0.6 0.2,-6.3 0.3,3.8 0.2,0.7 0.2,-0.2 0.3,8.3 0.2,-10.5 0.3,4 0.2,-0.1 0.2,-3.2 0.3,7 0.2,-4.9 0.3,-1.1 0.2,4.3 0.3,0.2 0.2,-4.5 0.2,-0.7 0.3,4.9 0.2,-13.1 0.3,6.7 0.2,2.3 0.2,9.6 0.3,-10.9 0.2,6.1 0.3,-4.5 0.2,-1.5 0.2,-1.3 0.3,4 0.2,-3.6 0.3,0.4 0.2,-1.6 0.3,7.1 0.2,4.2 0.2,-16.4 0.3,8 0.2,6.6 0.3,-5.1 0.2,-0.7 0.2,-5.4 0.3,-0.7 0.2,-1.3 0.3,-0.2 0.2,7.4 0.3,0.6 0.2,0.7 0.2,-2.7 0.3,0.3 0.2,-3 0.3,8.2 0.2,-2.8 0.2,-4.5 0.3,6.3 0.2,0.2 0.3,-9.8 0.2,-1.5 0.2,5.3 0.3,3.3 0.2,12.3 0.3,-12.8 0.2,-3.9 0.3,0.2 0.2,-0.8 0.2,0.2 0.3,0.4 0.2,-1.5 0.3,-0.1 0.2,-1.6 0.2,4.2 0.3,0.2 0.2,0.8 0.3,-1 0.2,4.6 0.3,-5 0.2,5.7 0.2,-4.6 0.3,3.9 0.2,4.6 0.3,-2.7 0.2,1.1 0.2,0 0.3,-8.1 0.2,1.6 0.3,-1.9 0.2,1.2 0.2,1.9 0.3,0.9 0.2,1.1 0.3,-8.2 0.2,8.3 0.3,-10.4 0.2,2.5 0.2,1.9 0.3,5.9 0.2,-2.7 0.3,-0.9 0.2,-3.3 0.2,6.5 0.3,2.8 0.2,-1.5 0.3,-1.3 0.2,7.3 0.3,-4.1 0.2,-1.3 0.2,2.1 0.3,-6.6 0.2,-4.5 0.3,8.1 0.2,-2.2 0.2,-3 0.3,1.7 0.2,-2.2 0.3,11 0.2,-0.9 0.2,-7.5 0.3,1.6 0.2,1.7 0.3,5.4 0.2,-4.6 0.3,0.1 0.2,-11.9 0.2,-2.3 0.3,12.4 0.2,10.1 0.3,-8.7 0.2,9.3 0.2,-5.4 0.3,-3.4 0.2,-5.3 0.3,-7.7 0.2,13.9 0.3,1.6 0.2,-3.1 0.2,-1 0.3,-61 0.2,-1.3 0.3,0.3 0.2,-0.5 0.2,61.6 0.3,-2.9 0.2,2 0.3,7.1 0.2,-3.8 0.2,-0.5 0.3,9 0.2,-6.7 0.3,2.5 0.2,-4.3 0.3,0.3 0.2,-4.6 0.2,3.8 0.3,-8.6 0.2,9.8 0.3,-0.1 0.2,-1 0.2,1.1 0.3,-12.4 0.2,4.3 0.3,3.1 0.2,4.8 0.3,-8.3 0.2,4 0.2,0.5 0.3,-2.1 0.2,3.4 0.3,-3 0.2,4.5 0.2,-3.1 0.3,-0.3 0.2,4.7 0.3,-6 0.2,0.8 0.2,-1.5 0.3,7.5 0.2,-4.3 0.3,1.2 0.2,-5.9 0.3,7.2 0.2,-5.3 0.2,-0.5 0.3,1.6 0.2,-5.9 0.3,6.5 0.2,-0.1 0.2,-5.6 0.3,11.3 0.2,-4.9 0.3,0.4 0.2,-1.7 0.2,6.9 0.3,4.3 0.2,-5.3 0.3,-3.3 0.2,-3.1 0.3,13.7 0.2,1.5 0.2,-14.7 0.3,-9.9 0.2,11.7 0.3,-0.8 0.2,-5.3 0.2,5.2 0.3,1.1 0.2,1 0.3,2.3 0.2,1.7 0.3,-0.6 0.2,-9.4 0.2,-2.3 0.3,7.6 0.2,-5.8 0.3,4.6 0.2,2.5 0.2,0.4 0.3,-1.7 0.2,6.9 0.3,-6.1 0.2,-2.9 0.2,-0.2 0.3,6.8 0.2,-2.6 0.3,4.2 0.2,-8 0.3,4.1 0.2,-4.8 0.2,5.3 0.3,-8.4 0.2,-4.7 0.3,5.6 0.2,12.7 0.2,-4.4 0.3,-7.3 0.2,10.8 0.3,0.2 0.2,-1 0.3,-6 0.2,6.2 0.2,-3.3 0.3,-5.7 0.2,2.9 0.3,0.4 0.2,-12.9 0.2,9.2 0.3,-2 0.2,3.7 0.3,0.9 0.2,0.9 0.2,7.3 0.3,-14.7 0.2,10.8 0.3,-12.1 0.2,4.7 0.3,-3 0.2,0.4 0.2,1.8 0.3,7.4 0.2,-2.2 0.3,-5.1 0.2,2.4 0.2,-2 0.3,0.7 0.2,6.7 0.3,-5.2 0.2,6.7 0.3,-0.4 0.2,-5.4 0.2,6.3 0.3,-5 0.2,9.4 0.3,-9.8 0.2,5.5 0.2,0.4 0.3,-1.5 0.2,-10.4 0.3,5.9 0.2,-1.5 0.2,2.9 0.3,0.6 0.2,-8 0.3,2.9 0.2,10.4 0.3,-1 0.2,-2.8 0.2,-5.3 0.3,-4.2 0.2,0.5 0.3,-4.3 0.2,10.1 0.2,0.3 0.3,2.5 0.2,-1.2 0.3,-1 0.2,2.2 0.3,-2.9 0.2,2.7 0.2,-9.1 0.3,1.9 0.2,4.9 0.3,-9.9 0.2,3.1 0.2,-7 0.3,4.7 0.2,7.4 0.3,-9.4 0.2,-11.8 0.2,23.4 0.3,-9.7 0.2,4.2 0.3,-0.2 0.2,4.4 0.3,2.7 0.2,-3.4 0.2,0.9 0.3,-4.2 0.2,8.5 0.3,-2.4 0.2,-9.1 0.2,3.4 0.3,-1.7 0.2,8.6 0.3,-1.1 0.2,-1.1 0.3,2 0.2,-7.1 0.2,4.8 0.3,2.3 0.2,-2.3 0.3,-2 0.2,-5.3 0.2,10 0.3,-0.1 0.2,0.6 0.3,-6.1 0.2,-7.4 0.2,9.6 0.3,-2.8 0.2,1.7 0.3,2.7 0.2,-3 0.3,18.4 0.2,-25.6 0.2,6.7 0.3,-0.3 0.2,-0.2 0.3,-0.9 0.2,2.8 0.2,-9.4 0.3,2.3 0.2,1.7 0.3,-3.4 0.2,-0.1 0.3,8.6 0.2,7.6 0.2,-6.7 0.3,-5.3 0.2,4.5 0.3,-10 0.2,5.9 0.2,15.6 0.3,-5.9 0.2,-11 0.3,8.1 0.2,-4.1 0.2,1.7 0.3,1 0.2,-2.8 0.3,-0.8 0.2,3.8 0.3,-7.5 0.2,-1.1 0.2,-1.4 0.3,3.3 0.2,4.4 0.3,-2.6 0.2,2.9 0.2,-2.2 0.3,-4.5 0.2,8 0.3,-3.4 0.2,1.3 0.2,-1.6 0.3,12.3 0.2,0.2 0.3,-8 0.2,3.4 0.3,-6.3 0.2,-6.6 0.2,-7.2 0.3,9.5 0.2,1.7 0.3,-1.9 0.2,-7.5 0.2,0.8 0.3,6.4 0.2,1.2 0.3,6 0.2,-8.2 0.3,7.8 0.2,-10.2 0.2,5.7 0.3,3.7 0.2,-2.6 0.3,6.5 0.2,-8.6 0.2,4.4 0.3,4.3 0.2,-3.1 0.3,-9.8 0.2,10.5 0.2,-4.3 0.3,-2.7 0.2,-2.6 0.3,2.7 0.2,3.2 0.3,1.7 0.2,-4 0.2,-0.2 0.3,2.9 0.2,-1.1 0.3,3.4 0.2,1.3 0.2,-2.6 0.3,-2.4 0.2,-2.9 0.3,3.5 0.2,0.3 0.3,4.3 0.2,9.3 0.2,-8.4 0.3,-1 0.2,-2.3 0.3,1.3 0.2,-1.3 0.2,-0.4 0.3,9.2 0.2,-5.5 0.3,-3.3 0.2,3.9 0.2,-0.9 0.3,-11.9 0.2,7.2 0.3,-0.8 0.2,5.8 0.3,-5.5 0.2,8.2 0.2,-5.3 0.3,8.8 0.2,-17.1 0.3,10.3 0.2,-4.2 0.2,2.1 0.3,2.6 0.2,2.6 0.3,-1.4 0.2,-1.6 0.3,-4.6 0.2,1.5 0.2,-0.9 0.3,-6.2 0.2,8.4 0.3,-5.7 0.2,6.4 0.2,6.1 0.3,-5.4 0.2,-3.4 0.3,-1.5 0.2,-3.7 0.2,3.9 0.3,2.9 0.2,0.7 0.3,-5 0.2,-1 0.3,4.5 0.2,6.2 0.2,0.2 0.3,1.2 0.2,-9.8 0.3,1.7 0.2,-3.2 0.2,7.1 0.3,0.3 0.2,-2.6 0.3,-2.6 0.2,-7.2 0.3,3.9 0.2,-0.7 0.2,-6.8 0.3,9 0.2,0.9 0.3,4.3 0.2,-2.4 0.2,-3.5 0.3,4.7 0.2,-1 0.3,-1 0.2,4.4 0.2,-10.1 0.3,-2.3 0.2,13 0.3,-13.6 0.2,4.4 0.3,1.9 0.2,-1 0.2,4.3 0.3,1.1 0.2,3.7 0.3,0.3 0.2,-8.2 0.2,3.5 0.3,4.3 0.2,-1.3 0.3,-5.2 0.2,-7.2 0.3,9.9 0.2,-7.6 0.2,2.4 0.3,0.6 0.2,-1.2 0.3,-2 0.2,6.7 0.2,-0.4 0.3,4.6 0.2,-4.4 0.3,1.1 0.2,2.8 0.2,-0.6 0.3,-4.6 0.2,7.6 0.3,0.3 0.2,-5.8 0.3,1.2 0.2,3.8 0.2,-4.3 0.3,-7.8 0.2,10.8 0.3,0.5 0.2,7.3 0.2,-12.1 0.3,2.4 0.2,1.9 0.3,-3.9 0.2,-2.8 0.3,5.3 0.2,-2.7 0.2,4.1 0.3,-5 0.2,-0.4 0.3,8.3 0.2,1 0.2,-5.8 0.3,-11.4 0.2,9.6 0.3,-4.7 0.2,6.9 0.2,-5.7 0.3,2.2 0.2,-1.5 0.3,7.4 0.2,-0.1 0.3,-5.6 0.2,-2.4 0.2,5.1 0.3,-6.1 0.2,0.2 0.3,4.5 0.2,2.7 0.2,13.2 0.3,-7.7 0.2,-10 0.3,-3.2 0.2,11.6 0.2,-11.9 0.3,-2.4 0.2,-1 0.3,9 0.2,1.1 0.3,1.5 0.2,-3.6 0.2,-0.6 0.3,0.4 0.2,-2 0.3,8.8 0.2,-9.7 0.2,4.6 0.3,-6.9 0.2,2.9 0.3,0.5 0.2,2.2 0.3,-1 0.2,-5.9 0.2,8.1 0.3,-7.7 0.2,-1.3 0.3,8.2 0.2,-4.3 0.2,-2.1 0.3,2.4 0.2,14 0.3,-10.3 0.2,-4.2 0.2,1.9 0.3,-3.6 0.2,0.7 0.3,-5.1 0.2,7.7 0.3,-0.8 0.2,-1.2 0.2,5.8 0.3,-5.2 0.2,0.8 0.3,0.4 0.2,1 0.2,5.8 0.3,-5.5 0.2,-1.3 0.3,5.5 0.2,-1.7 0.3,-2.2 0.2,-5.2 0.2,15 0.3,-13.4 0.2,2.6 0.3,5.2 0.2,-2.9 0.2,-0.4 0.3,0.6 0.2,-2.1 0.3,-1.4 0.2,-8.5 0.2,12.3 0.3,-6.5 0.2,-7.7 0.3,14.4 0.2,7.4 0.3,-1.9 0.2,-0.8 0.2,-11.6 0.3,11.3 0.2,-3.4 0.3,-1.1 0.2,-0.1 0.2,4.1 0.3,0.5 0.2,-15 0.3,0.8 0.2,1.8 0.3,1 0.2,12.1 0.2,-6 0.3,8.8 0.2,-14.4 0.3,13.6 0.2,-12.5 0.2,0.9 0.3,6.7 0.2,-5.3 0.3,-7.7 0.2,3.3 0.2,1.1 0.3,5.5 0.2,-1 0.3,7 0.2,-9.8 0.3,2.4 0.2,6.2 0.2,-3.8 0.3,-1.8 0.2,-0.2 0.3,-1.4 0.2,-2.9 0.2,4.4 0.3,5.5 0.2,-15.7 0.3,18.1 0.2,-3.3 0.3,12.2 0.2,-15.1 0.2,-3.2 0.3,0.5 0.2,2 0.3,-2.5 0.2,-1.9 0.2,7.3 0.3,1.5 0.2,1.5 0.3,-5.3 0.2,5.8 0.2,-10 0.3,3.9 0.2,-5.1 0.3,12.1 0.2,-8.5 0.3,10.7 0.2,-6.9 0.2,-2.9 0.3,2.9 0.2,3.4 0.3,-12 0.2,11 0.2,-4.5 0.3,-2.3 0.2,-2.1 0.3,3.4 0.2,9.1 0.3,-2.7 0.2,-1 0.2,-0.4 0.3,-5 0.2,5.2 0.3,5.1 0.2,-1.8 0.2,-7.4 0.3,-0.2 0.2,-3.2 0.3,6.1 0.2,5.6 0.2,-0.1 0.3,-8.1 0.2,1.7 0.3,0.5 0.2,4.6 0.3,-6.8 0.2,8.3 0.2,-3.5 0.3,-1.9 0.2,-10.3 0.3,-3 0.2,14 0.2,-4.8 0.3,2.6 0.2,-0.5 0.3,-1.3 0.2,-0.3 0.2,-4.5 0.3,0.8 0.2,8.5 0.3,1.4 0.2,-6.7 0.3,4.8 0.2,2.9 0.2,-0.3 0.3,-4.9 0.2,0.5 0.3,-3.8 0.2,0.9 0.2,-0.5 0.3,3 0.2,6.4 0.3,2.2 0.2,-5.6 0.3,-7.1 0.2,6.2 0.2,2.3 0.3,-6.3 0.2,0.6 0.3,6.4 0.2,-8.4 0.2,0.1 0.3,5 0.2,-4.5 0.3,-3.5 0.2,-2.8 0.2,-28.2 0.3,3.4 0.2,-2 0.3,43.8 0.2,1.8 0.3,-74.7 0.2,0.5 0.2,-1.9 0.3,1.1 0.2,-0.9 0.3,69.3 0.2,0.2 0.2,2.5 0.3,-11.2 0.2,-1.1 0.3,-2.1 0.2,8.7 0.3,0.7 0.2,6.6 0.2,-13.4 0.3,0.8 0.2,6.4 0.3,-4.7 0.2,1 0.2,1.2 0.3,4.2 0.2,-5.8 0.3,1.1 0.2,-7.1 0.2,0.9 0.3,2.8 0.2,0.9 0.3,7.4 0.2,-4.1 0.3,-8.1 0.2,5.9 0.2,1 0.3,2.2 0.2,-11 0.3,3.9 0.2,2 0.2,2.8 0.3,-5.2 0.2,3.2 0.3,-1.7 0.2,5.1 0.3,-0.8 0.2,0 0.2,-4.7 0.3,0.4 0.2,11.7 0.3,-1 0.2,-1.8 0.2,-1.2 0.3,-2.6 0.2,-6.2 0.3,8.9 0.2,0.3 0.2,-4.2 0.3,-5.4 0.2,2.2 0.3,3.2 0.2,3.4 0.3,0.9 0.2,-2.1 0.2,0.9 0.3,2.1 0.2,1.7 0.3,-4.6 0.2,-4.4 0.2,2.4 0.3,0.7 0.2,5.1 0.3,-2.6 0.2,-2.9 0.3,2 0.2,-3.2 0.2,0.8 0.3,9.2 0.2,-11.4 0.3,0 0.2,-3 0.2,5.2 0.3,-3.1 0.2,4.8 0.3,-0.8 0.2,-3.9 0.2,5.2 0.3,-6.6 0.2,2.3 0.3,0.5 0.2,6.7 0.3,0 0.2,-10.6 0.2,2.8 0.3,-1.4 0.2,3.9 0.3,0.6 0.2,-6.7 0.2,5.8 0.3,1.7 0.2,10.5 0.3,-11.4 0.2,0.1 0.3,-1 0.2,9.4 0.2,-13.4 0.3,7.1 0.2,4.3 0.3,-6.9 0.2,-12.3 0.2,5.4 0.3,-0.5 0.2,-3.8 0.3,1.9 0.2,4.6 0.2,-0.1 0.3,10.3 0.2,-5.7 0.3,-3.3 0.2,9 0.3,9.8 0.2,-10.6 0.2,3.6 0.3,-4.5 0.2,-2.2 0.3,-4.9 0.2,6.2 0.2,-4.8 0.3,-4.8 0.2,-7.7 0.3,15.1 0.2,7.2 0.3,-12.1 0.2,0.9 0.2,4.3 0.3,-3.1 0.2,2.5 0.3,7.5 0.2,-3.7 0.2,-4.6 0.3,-2.7 0.2,-0.8 0.3,7.7 0.2,-5.2 0.2,2.5 0.3,-4.7 0.2,2.2 0.3,5.4 0.2,-0.4 0.3,-5 0.2,-4.5 0.2,7.3 0.3,8 0.2,-6.8 0.3,0.1 0.2,-4 0.2,-5 0.3,3.6 0.2,1.1 0.3,1.7 0.2,1.9 0.2,-1.4 0.3,-5.2 0.2,1.2 0.3,7.2 0.2,-3.2 0.3,-1.4 0.2,5.6 0.2,-7.8 0.3,-5.2 0.2,11.9 0.3,-11.3 0.2,1.1 0.2,-1.8 0.3,6.7 0.2,-0.3 0.3,7 0.2,-6.7 0.3,-18.4 0.2,13.3 0.2,8.6 0.3,3.4 0.2,0.3 0.3,-8.5 0.2,2.3 0.2,-0.6 0.3,4.7 0.2,0.2 0.3,-4.4 0.2,4.4 0.2,-7.8 0.3,11.6 0.2,-10.4 0.3,-2.5 0.2,7.4 0.3,-0.4 0.2,-0.8 0.2,-0.5 0.3,0.5 0.2,2.9 0.3,-2.7 0.2,-1.2 0.2,0.2 0.3,-1.4 0.2,5.6 0.3,-0.6 0.2,2.7 0.3,-12 0.2,2.3 0.2,13.1 0.3,-10.2 0.2,-8.7 0.3,7.8 0.2,-5.5 0.2,2.6 0.3,-1.4 0.2,6.2 0.3,-0.8 0.2,-6 0.2,-1.3 0.3,-0.5 0.2,2.5 0.3,8.5 0.2,-6.1 0.3,10.6 0.2,-5.3 0.2,-1 0.3,2.2 0.2,0.3 0.3,1 0.2,-2.4 0.2,3.5 0.3,-5.1 0.2,-2.6 0.3,1.2 0.2,-4.8 0.3,-2.6 0.2,12.8 0.2,6.3 0.3,-10.7 0.2,-3.2 0.3,1.7 0.2,0.3 0.2,13.3 0.3,-6 0.2,-3.5 0.3,0.9 0.2,-3.6 0.2,2.4 0.3,-1 0.2,-6.6 0.3,1.7 0.2,-1.9 0.3,4.9 0.2,2.4 0.2,-1.9 0.3,4 0.2,-3.9 0.3,-2.5 0.2,-0.3 0.2,-2.2 0.3,8.5 0.2,-6.2 0.3,-4.1 0.2,0.5 0.3,-3 0.2,7.9 0.2,1.4 0.3,-2.6 0.2,2.7 0.3,0.5 0.2,-5.1 0.2,4.8 0.3,1.5 0.2,-0.9 0.3,-6.2 0.2,3.7 0.2,10.5 0.3,-1 0.2,-0.7 0.3,-10.8 0.2,-4.8 0.3,0.3 0.2,7.5 0.2,-2.4 0.3,6.8 0.2,3.2 0.3,-6 0.2,-5.2 0.2,1.3 0.3,6.9 0.2,-0.1 0.3,-3.2 0.2,4.8 0.3,-3.3 0.2,2.6 0.2,0.7 0.3,-8.2 0.2,-0.4 0.3,-4.9 0.2,11.7 0.2,-5.4 0.3,2.5 0.2,-7.8 0.3,-4.6 0.2,9.4 0.2,4.5 0.3,9.7 0.2,-8.7 0.3,-0.4 0.2,-4.2 0.3,0.1 0.2,-5.3 0.2,4.9 0.3,-0.9 0.2,7 0.3,-4.3 0.2,0.7 0.2,-0.5 0.3,-4.1 0.2,9.8 0.3,-7.9 0.2,-3.1 0.3,4 0.2,7.4 0.2,-2.4 0.3,0.6 0.2,-6.8 0.3,8.7 0.2,-7.3 0.2,6.3 0.3,-6.4 0.2,4.7 0.3,-11 0.2,12.5 0.2,-5.2 0.3,-4.5 0.2,-0.5 0.3,7.6 0.2,-3.1 0.3,-1 0.2,-3.4 0.2,3.6 0.3,-1.2 0.2,9.4 0.3,-8.1 0.2,4.9 0.2,-1.5 0.3,-4.8 0.2,-2 0.3,5.9 0.2,7.3 0.2,-7.3 0.3,-1.4 0.2,1.8 0.3,0.2 0.2,2.7 0.3,5 0.2,-7.2 0.2,6.2 0.3,-9.5 0.2,4.6 0.3,-5.1 0.2,9.1 0.2,-13.1 0.3,-0.7 0.2,7.3 0.3,-5.8 0.2,4 0.3,-1.8 0.2,-0.7 0.2,-0.9 0.3,2.3 0.2,2 0.3,-5.1 0.2,1.4 0.2,0.6 0.3,-2.9 0.2,-1.5 0.3,-4.8 0.2,11.5 0.2,-1.2 0.3,0.3 0.2,-1.6 0.3,1.3 0.2,2.2 0.3,0.9 0.2,3.2 0.2,-6.1 0.3,-6.6 0.2,7.1 0.3,-1.2 0.2,-4.3 0.2,6.5 0.3,7.8 0.2,1.1 0.3,-2.4 0.2,-2.9 0.3,-0.9 0.2,2.4 0.2,-6.2 0.3,-4.1 0.2,11 0.3,-7.6 0.2,1.4 0.2,5.2 0.3,-5.2 0.2,2.6 0.3,-1.5 0.2,-3.3 0.2,0 0.3,7.6 0.2,-2.1 0.3,-8.1 0.2,-0.9 0.3,14.5 0.2,-8.9 0.2,-3.8 0.3,0.3 0.2,2.9 0.3,-8.2 0.2,7 0.2,-1 0.3,-1.6 0.2,-3.9 0.3,9.7 0.2,-5.4 0.3,6.3 0.2,4 0.2,-11.9 0.3,2.1 0.2,8.7 0.3,-1.9 0.2,-2.5 0.2,5 0.3,-10.5 0.2,4.9 0.3,1.7 0.2,-0.8 0.2,1.6 0.3,-7.5 0.2,6.5 0.3,7 0.2,-8.8 0.3,4.6 0.2,-2.6 0.2,3 0.3,-8.3 0.2,2.6 0.3,9.5 0.2,-2.6 0.2,-11.5 0.3,5.5 0.2,0.4 0.3,8.2 0.2,-9.3 0.3,-2.5 0.2,-2.6 0.2,2.5 0.3,6.6 0.2,-3.5 0.3,4.6 0.2,3.5 0.2,-4 0.3,-5.6 0.2,-0.9 0.3,11.2 0.2,-11.5 0.2,-0.9 0.3,3 0.2,-2.4 0.3,-0.1 0.2,7.2 0.3,1.2 0.2,1.7 0.2,2.9 0.3,7.9 0.2,-15.8 0.3,-4.8 0.2,0.9 0.2,-0.6 0.3,2.6 0.2,2.4 0.3,-5.1 0.2,6.5 0.3,-12.5 0.2,15.9 0.2,-7.2 0.3,4.4 0.2,-6.2 0.3,6.5 0.2,-9.5 0.2,0.2 0.3,5.2 0.2,1.5 0.3,-2.4 0.2,6.1 0.2,-6 0.3,-0.2 0.2,-2.3 0.3,2.5 0.2,-1.5 0.3,10.2 0.2,-13.4 0.2,6.3 0.3,-3.9 0.2,2 0.3,-10.6 0.2,10 0.2,1.7 0.3,5.6 0.2,-4.1 0.3,-5.5 0.2,-0.9 0.3,4.3 0.2,-8.6 0.2,6.7 0.3,1.6 0.2,4.3 0.3,-5.5 0.2,-2.2 0.2,-25.2 0.3,4.6 0.2,-4.1 0.3,-1.9 0.2,34.1 0.2,1.2 0.3,-13.8 0.2,10.1 0.3,-8.2 0.2,0.4 0.3,12.9 0.2,-4.8 0.2,-5.3 0.3,4.9 0.2,6.5 0.3,-6.8 0.2,8 0.2,-4.7 0.3,-0.9 0.2,-6.5 0.3,-0.1 0.2,5.4 0.2,-8.6 0.3,-3.5 0.2,9.8 0.3,1 0.2,-3.2 0.3,6.4 0.2,-3.1 0.2,-3.1 0.3,-7.8 0.2,13.3 0.3,-1.1 0.2,-1.3 0.2,-3.3 0.3,3.4 0.2,11.1 0.3,-13.6 0.2,6.4 0.3,-10 0.2,5 0.2,11.5 0.3,-0.7 0.2,-4.8 0.3,-5.1 0.2,2.3 0.2,2.2 0.3,-2.7 0.2,-5.5 0.3,-3.5 0.2,5.5 0.2,-1.3 0.3,6.2 0.2,1.8 0.3,-1.2 0.2,-2.4 0.3,2.9 0.2,-11.2 0.2,8.5 0.3,-5.9 0.2,2.6 0.3,-0.4 0.2,-1.7 0.2,8.4 0.3,-5.2 0.2,-5.8 0.3,-0.1 0.2,4.5 0.3,-4 0.2,11.7 0.2,3.3 0.3,-2.3 0.2,-9.2 0.3,1.3 0.2,-5.7 0.2,5.1 0.3,1.5 0.2,-2.8 0.3,-1.4 0.2,3.4 0.2,-1.4 0.3,3.3 0.2,5.9 0.3,-8.9 0.2,1.3 0.3,5.6 0.2,-4.4 0.2,-2.4 0.3,6.6 0.2,1.7 0.3,-8 0.2,-3.1 0.2,8.8 0.3,-3.4 0.2,1.6 0.3,-0.6 0.2,-6.1 0.3,-0.4 0.2,-2.2 0.2,0.2 0.3,6.2 0.2,-0.3 0.3,-2.3 0.2,-4.2" fill="none" stroke="#bf8360" stroke-width="2.0" stroke-linejoin="round" clip-path="url(#cr0)"/>
<line x1="959.4" y1="130.1" x2="967.9" y2="130.1" stroke="#262626" stroke-width="2.6" />
<text x="946.5" y="138.1" font-size="24.5" text-anchor="end">0.0</text>
<line x1="959.4" y1="98.8" x2="967.9" y2="98.8" stroke="#262626" stroke-width="2.6" />
<text x="946.5" y="106.8" font-size="24.5" text-anchor="end">0.4</text>
<line x1="959.4" y1="67.5" x2="967.9" y2="67.5" stroke="#262626" stroke-width="2.6" />
<text x="946.5" y="75.5" font-size="24.5" text-anchor="end">0.8</text>
<rect x="959.4" y="51.8" width="361.8" height="94" fill="none" stroke="#262626" stroke-width="2.8" />
<text x="887" y="98.8" font-size="24.5" text-anchor="middle" transform="rotate(-90 887 98.8)">FRET</text>
<path d="M959.4,338.0l0.2,2 0.2,8.2 0.2,2.7 0.3,-4.3 0.2,5.5 0.2,-2.4 0.2,4.2 0.2,-8.9 0.2,5.9 0.2,-1.8 0.2,0.2 0.3,0.7 0.2,1.8 0.2,-4.8 0.2,1.1 0.2,1.4 0.2,0.6 0.2,-2.3 0.2,1.8 0.3,8.1 0.2,-10.4 0.2,4.5 0.2,-13.7 0.2,20.2 0.2,-1.5 0.2,-8 0.2,-5.2 0.3,1.8 0.2,-2 0.2,2.2 0.2,4.4 0.2,-6.2 0.2,7.9 0.2,-1.6 0.3,3.8 0.2,2.6 0.2,-4.5 0.2,-5.6 0.2,-4.9 0.2,3.2 0.2,3.3 0.2,-7.1 0.3,4 0.2,2 0.2,0.9 0.2,-0.1 0.2,0.3 0.2,-10.1 0.2,1.3 0.2,7.5 0.3,1.1 0.2,-10.5 0.2,6.6 0.2,3.7 0.2,-3.3 0.2,12.1 0.2,-7.1 0.3,-2.1 0.2,4.7 0.2,-6.2 0.2,7 0.2,2.2 0.2,-12 0.2,4.4 0.2,0.9 0.3,4.4 0.2,-6.2 0.2,0.1 0.2,0.4 0.2,-0.8 0.2,-6.1 0.2,15.5 0.2,-2.2 0.3,-3.3 0.2,-7.3 0.2,0.5 0.2,8.2 0.2,-0.5 0.2,-0.6 0.2,1.3 0.2,5 0.3,-4.2 0.2,-9.7 0.2,4.1 0.2,-0.8 0.2,-4.9 0.2,5.8 0.2,-5.3 0.3,0.1 0.2,-2.4 0.2,14.2 0.2,2.2 0.2,1.9 0.2,-10.4 0.2,1.1 0.2,7.6 0.3,-6.7 0.2,8.2 0.2,-2.3 0.2,-12.9 0.2,-2.1 0.2,-1.1 0.2,0.6 0.2,7 0.3,6.9 0.2,-3.1 0.2,-2.6 0.2,-5.8 0.2,4.7 0.2,1.1 0.2,-1.1 0.3,0.5 0.2,11.1 0.2,-8.1 0.2,2.2 0.2,-4.9 0.2,-0.6 0.2,-4.8 0.2,13.3 0.3,1 0.2,-8.1 0.2,7.6 0.2,-14.6 0.2,10.3 0.2,11.3 0.2,-13.1 0.2,-4.2 0.3,6 0.2,10.2 0.2,-8.9 0.2,2.7 0.2,-14.4 0.2,6.9 0.2,2.2 0.2,7.5 0.3,-3.8 0.2,-7.8 0.2,-6.6 0.2,8.1 0.2,0.6 0.2,-5.1 0.2,2.3 0.3,14.2 0.2,-2.9 0.2,0.5 0.2,-2.6 0.2,-8.2 0.2,-2.6 0.2,-3 0.2,4.3 0.3,5.7 0.2,7.2 0.2,-12.1 0.2,2.3 0.2,5.7 0.2,-8.3 0.2,3 0.2,7.9 0.3,-2.9 0.2,-4.8 0.2,-3.7 0.2,3.9 0.2,2.5 0.2,4.8 0.2,-10.3 0.2,2.1 0.3,-0.4 0.2,-3.5 0.2,4.6 0.2,2.1 0.2,2 0.2,-0.9 0.2,-6 0.3,-3.3 0.2,4.1 0.2,-1 0.2,2.3 0.2,1.2 0.2,-8.7 0.2,5.2 0.2,5.4 0.3,-3.6 0.2,0.4 0.2,-5.7 0.2,11.5 0.2,5.1 0.2,-9.5 0.2,-0.2 0.2,-13.4 0.3,6.1 0.2,5.9 0.2,-1.6 0.2,0.3 0.2,10.3 0.2,-6.3 0.2,3.6 0.3,-9.8 0.2,0.9 0.2,1.5 0.2,-1.3 0.2,2.8 0.2,6.3 0.2,-7.9 0.2,4.8 0.3,6.6 0.2,-9.2 0.2,6.1 0.2,-12.5 0.2,-56.7 0.2,0.1 0.2,-4.6 0.2,4.7 0.3,-2 0.2,68.6 0.2,4.8 0.2,-16 0.2,14.5 0.2,-6.5 0.2,3.7 0.2,-5.8 0.3,0.9 0.2,5 0.2,-1.7 0.2,-1.1 0.2,-3.4 0.2,3.2 0.2,-1.3 0.3,-1.6 0.2,-0.5 0.2,2.9 0.2,1 0.2,-4 0.2,3.9 0.2,1.4 0.2,4 0.3,-4.9 0.2,1.9 0.2,3 0.2,-8.1 0.2,8 0.2,-5.1 0.2,-5.1 0.2,6.6 0.3,1.4 0.2,-3.8 0.2,-1.8 0.2,-3.5 0.2,4.8 0.2,-3.9 0.2,14.6 0.3,-11.2 0.2,-4.5 0.2,6.3 0.2,-0.2 0.2,8 0.2,-8.5 0.2,-3.3 0.2,3.9 0.3,0.2 0.2,0.4 0.2,-9.9 0.2,-1.9 0.2,15 0.2,-0.8 0.2,-12.5 0.2,4.6 0.3,4.3 0.2,1.2 0.2,6.9 0.2,-3.8 0.2,2.1 0.2,-8.5 0.2,-3.4 0.2,6.2 0.3,2.1 0.2,4.7 0.2,-11.5 0.2,5.1 0.2,2.2 0.2,-6.1 0.2,8.7 0.3,-11.1 0.2,0.5 0.2,-0.7 0.2,-6.5 0.2,14.7 0.2,-3.1 0.2,-7 0.2,4.8 0.3,7.9 0.2,-0.1 0.2,-2.5 0.2,-4.3 0.2,4 0.2,-5.7 0.2,-6.1 0.2,12.7 0.3,-3.2 0.2,-2.9 0.2,-65.9 0.2,2 0.2,-0.1 0.2,-2.8 0.2,64.9 0.2,5.9 0.3,5.3 0.2,-4.1 0.2,-0.7 0.2,3.2 0.2,2.2 0.2,-4.2 0.2,-6.4 0.3,-2.8 0.2,10.2 0.2,-3.5 0.2,3.5 0.2,-3.8 0.2,1.6 0.2,-11 0.2,12.5 0.3,-2.6 0.2,-6.6 0.2,3 0.2,4.4 0.2,3.3 0.2,-3.8 0.2,-4.7 0.2,1.5 0.3,-3.6 0.2,-2.6 0.2,6.2 0.2,-59.3 0.2,2 0.2,-0.4 0.2,0.1 0.3,61.2 0.2,-1.7 0.2,-1.6 0.2,-3.9 0.2,4.8 0.2,3.8 0.2,-6 0.2,-60.6 0.3,8 0.2,-0.1 0.2,-7.8 0.2,62.7 0.2,-1.3 0.2,0 0.2,0 0.2,2.3 0.3,-3.7 0.2,-3.7 0.2,4.1 0.2,-2.7 0.2,1.2 0.2,4 0.2,-5.4 0.2,7.8 0.3,-4.5 0.2,-5.8 0.2,-8.5 0.2,19.2 0.2,-7.3 0.2,-41.4 0.2,-2.3 0.3,4.1 0.2,44.6 0.2,-9.1 0.2,2.7 0.2,5.2 0.2,-0.4 0.2,2.2 0.2,2.4 0.3,-7.4 0.2,-0.9 0.2,4.4 0.2,3.4 0.2,5.4 0.2,-5.3 0.2,-7.1 0.2,12 0.3,-8.2 0.2,-5.2 0.2,1.7 0.2,2.4 0.2,-3.3 0.2,1.7 0.2,-3.3 0.3,7.1 0.2,-6 0.2,-3.9 0.2,3.8 0.2,5.6 0.2,-5.7 0.2,6.6 0.2,-1.1 0.3,-2.8 0.2,-6.5 0.2,4.3 0.2,1.4 0.2,4 0.2,2.8 0.2,-1.1 0.2,-1 0.3,-0.7 0.2,5 0.2,-1.1 0.2,-8 0.2,8.8 0.2,-0.5 0.2,-2.3 0.2,3.4 0.3,-3.9 0.2,-2.9 0.2,-4.1 0.2,7.8 0.2,-10 0.2,-6.2 0.2,16.8 0.3,1.7 0.2,-2.9 0.2,-28.1 0.2,4.4 0.2,-4.4 0.2,3.5 0.2,24.6 0.2,-6.8 0.3,1.4 0.2,-5.3 0.2,11.4 0.2,-20 0.2,7.2 0.2,10.4 0.2,-5.5 0.2,-1.4 0.3,17.2 0.2,-3.2 0.2,-0.4 0.2,-3.5 0.2,-2.9 0.2,-2.8 0.2,1.9 0.2,-16.5 0.3,-7.1 0.2,4.6 0.2,17.6 0.2,1.6 0.2,-1.6 0.2,1 0.2,5.2 0.3,-10.1 0.2,-1.7 0.2,4.2 0.2,-5.5 0.2,13.3 0.2,-11.3 0.2,-4.8 0.2,10 0.3,6.6 0.2,3.1 0.2,-0.4 0.2,-12.1 0.2,4 0.2,-1.7 0.2,-3.9 0.2,2.2 0.3,0 0.2,6.2 0.2,4.7 0.2,-3.1 0.2,-11 0.2,8 0.2,-7.1 0.3,4.1 0.2,6 0.2,-5.7 0.2,-11.2 0.2,15.9 0.2,-4.4 0.2,-2.1 0.2,-1.8 0.3,-0.6 0.2,4.1 0.2,-4.9 0.2,8.5 0.2,-5.6 0.2,-4.6 0.2,16 0.2,-5.9 0.3,0.7 0.2,-18.6 0.2,1.6 0.2,-3.8 0.2,1.1 0.2,21.9 0.2,-12.2 0.2,4.7 0.3,4 0.2,-4.7 0.2,-2.6 0.2,0.3 0.2,6.2 0.2,-3 0.2,-3.6 0.3,-0.6 0.2,10.7 0.2,-10.7 0.2,2 0.2,2.5 0.2,-9.4 0.2,12.4 0.2,7.3 0.3,-22.6 0.2,21.5 0.2,-2.2 0.2,-1.1 0.2,1.1 0.2,-10.9 0.2,4.8 0.2,-2.5 0.3,-3.4 0.2,2.6 0.2,-1.8 0.2,-2.4 0.2,11.4 0.2,-12.5 0.2,7.1 0.2,5.9 0.3,-9 0.2,16 0.2,-10 0.2,-0.9 0.2,4.8 0.2,-3.2 0.2,2.5 0.3,-8.4 0.2,3.2 0.2,2.5 0.2,3.5 0.2,-5.3 0.2,3.4 0.2,-9.3 0.2,0.7 0.3,9.6 0.2,-4.4 0.2,-8.5 0.2,13.1 0.2,-0.3 0.2,-6.9 0.2,-4 0.2,8.1 0.3,-3.6 0.2,5.7 0.2,-11.4 0.2,7.3 0.2,-6.2 0.2,-4.6 0.2,9.5 0.3,4.9 0.2,1.1 0.2,-6.8 0.2,2.7 0.2,5.2 0.2,-7.6 0.2,3.8 0.2,-1.4 0.3,-1.1 0.2,1.9 0.2,-0.7 0.2,1.6 0.2,-0.2 0.2,-1.2 0.2,5.2 0.2,-10.7 0.3,10.7 0.2,-5 0.2,-3.5 0.2,-0.1 0.2,1.2 0.2,0.8 0.2,2.6 0.2,-7.4 0.3,6.7 0.2,3 0.2,-11.8 0.2,10.3 0.2,-0.2 0.2,-17.9 0.2,-1.3 0.3,0.3 0.2,11.9 0.2,1.3 0.2,-0.6 0.2,3.9 0.2,-3.6 0.2,-4.2 0.2,12.1 0.3,-9 0.2,3.6 0.2,8.7 0.2,-15.9 0.2,3.8 0.2,-1.1 0.2,3.5 0.2,0.8 0.3,-3.4 0.2,-2.3 0.2,-6.5 0.2,7.5 0.2,8.3 0.2,4.5 0.2,1.2 0.3,-18.2 0.2,8.9 0.2,-5 0.2,10.6 0.2,0.9 0.2,-8.4 0.2,8.4 0.2,-4 0.3,0.8 0.2,-3.1 0.2,0.1 0.2,0.7 0.2,-10.5 0.2,-1.8 0.2,6.7 0.2,6.9 0.3,0.6 0.2,4.3 0.2,-11.1 0.2,-2 0.2,4.7 0.2,1.6 0.2,-4.9 0.2,3.9 0.3,-5.3 0.2,-6.8 0.2,3 0.2,8.7 0.2,4.5 0.2,-5 0.2,9 0.3,7.4 0.2,-15.2 0.2,8.8 0.2,-9.1 0.2,0.9 0.2,-2 0.2,-0.8 0.2,-11.3 0.3,21 0.2,2.1 0.2,-7 0.2,3.3 0.2,1.6 0.2,-5.7 0.2,-4.4 0.2,-3.3 0.3,1.6 0.2,5.1 0.2,-1.4 0.2,-6.3 0.2,-0.9 0.2,6.3 0.2,5.8 0.2,-4.9 0.3,1.4 0.2,-6.5 0.2,7.5 0.2,-5.3 0.2,-2.2 0.2,-1.9 0.2,3.3 0.3,5 0.2,-5.7 0.2,-0.2 0.2,4.8 0.2,4.9 0.2,-3.2 0.2,-0.1 0.2,5.6 0.3,-4.6 0.2,-3 0.2,-3 0.2,5.6 0.2,-8.3 0.2,3.5 0.2,5 0.2,2.2 0.3,-1.2 0.2,-3.2 0.2,-1 0.2,-7.2 0.2,8.1 0.2,4.1 0.2,-11.9 0.3,9.4 0.2,4.9 0.2,-1.5 0.2,-1.6 0.2,3.2 0.2,-3.8 0.2,-5.1 0.2,4.1 0.3,-7.4 0.2,9.9 0.2,-3.3 0.2,-8.1 0.2,6.8 0.2,-0.1 0.2,-6.8 0.2,-5.1 0.3,13.8 0.2,-3.5 0.2,7.6 0.2,-0.6 0.2,-4.7 0.2,5.7 0.2,-2.5 0.2,-9.2 0.3,5.9 0.2,0 0.2,-4.7 0.2,4 0.2,-5.5 0.2,3 0.2,4.4 0.3,4.7 0.2,-6.9 0.2,1.8 0.2,-25.2 0.2,2.9 0.2,-3.9 0.2,28 0.2,3 0.3,-4.4 0.2,-2.7 0.2,-7.4 0.2,11 0.2,-3.2 0.2,-2.5 0.2,8.8 0.2,1.9 0.3,5.5 0.2,-6.3 0.2,-6.5 0.2,-5.6 0.2,-0.1 0.2,7.5 0.2,-3.5 0.3,4.3 0.2,-8 0.2,9.2 0.2,1.7 0.2,-5.7 0.2,0.2 0.2,0.8 0.2,2.6 0.3,-6.9 0.2,8.1 0.2,1 0.2,-6.4 0.2,-0.5 0.2,-2.5 0.2,3 0.2,8.3 0.3,-6.3 0.2,-2.4 0.2,-4.8 0.2,7.4 0.2,-0.9 0.2,-2.6 0.2,0.4 0.2,-0.7 0.3,1.9 0.2,6.8 0.2,-9.7 0.2,0.4 0.2,2.8 0.2,-2.9 0.2,7.4 0.3,-3 0.2,3.8 0.2,0.4 0.2,-5.9 0.2,7.5 0.2,-7.9 0.2,-0.1 0.2,4 0.3,-2.8 0.2,-8.9 0.2,8.2 0.2,10.8 0.2,-7.4 0.2,4.4 0.2,-6.7 0.2,-1.3 0.3,0.9 0.2,-1.3 0.2,-0.9 0.2,-5 0.2,2.9 0.2,-1.7 0.2,11.3 0.2,-1.8 0.3,-0.6 0.2,-4.1 0.2,-7.3 0.2,11.9 0.2,-4.9 0.2,5.6 0.2,-4.9 0.3,3 0.2,2.3 0.2,-1 0.2,-0.2 0.2,1.9 0.2,1.3 0.2,-5.1 0.2,-1.5 0.3,1.6 0.2,3.4 0.2,-1.2 0.2,-6.4 0.2,-2.5 0.2,-1.9 0.2,6.5 0.2,-1.7 0.3,2.2 0.2,-0.2 0.2,-0.2 0.2,2.1 0.2,5.4 0.2,-6.3 0.2,-2.9 0.3,-2.6 0.2,8.3 0.2,4.1 0.2,-6.5 0.2,-5.4 0.2,10.8 0.2,-5.3 0.2,-1.7 0.3,9.3 0.2,-6.1 0.2,-0.7 0.2,-2.3 0.2,-3.5 0.2,6.9 0.2,1.3 0.2,-3.4 0.3,-3.1 0.2,5.6 0.2,-21.7 0.2,-1.1 0.2,-0.2 0.2,16.4 0.2,1.3 0.2,-6.3 0.3,21.4 0.2,-2.7 0.2,-12.5 0.2,-0.6 0.2,1.2 0.2,-0.5 0.2,6.1 0.3,1.8 0.2,-4.3 0.2,0.8 0.2,8.3 0.2,-3.8 0.2,-2.3 0.2,-5.7 0.2,10.2 0.3,-8.6 0.2,0 0.2,-2.5 0.2,6.4 0.2,0.1 0.2,-38.8 0.2,-1.7 0.2,2.8 0.3,23.5 0.2,1.9 0.2,-66.2 0.2,1.7 0.2,3.1 0.2,0.5 0.2,-2.6 0.3,71.8 0.2,3.9 0.2,-1.6 0.2,-8.5 0.2,5.7 0.2,2 0.2,2 0.2,0.5 0.3,-5.3 0.2,-2.1 0.2,1.4 0.2,2.3 0.2,7.5 0.2,-7.5 0.2,9.5 0.2,-62.6 0.3,0 0.2,-1.2 0.2,0.8 0.2,54.2 0.2,9.1 0.2,-11.4 0.2,3.3 0.2,1.3 0.3,7.5 0.2,-6 0.2,-3.7 0.2,1.1 0.2,-5.1 0.2,3.6 0.2,-10.6 0.3,0.3 0.2,6.2 0.2,6.8 0.2,-1.5 0.2,6.7 0.2,-8.8 0.2,3.4 0.2,-1.6 0.3,-4.5 0.2,-2.1 0.2,0.8 0.2,3.4 0.2,-0.3 0.2,0.1 0.2,-3.5 0.2,14.6 0.3,-6.7 0.2,-2.6 0.2,2.5 0.2,-7.4 0.2,8.1 0.2,-5 0.2,-1.9 0.2,-7.5 0.3,6.8 0.2,0.5 0.2,5 0.2,-6.6 0.2,-3.8 0.2,10.4 0.2,3.3 0.3,-13.6 0.2,5.8 0.2,1 0.2,2.4 0.2,-3.7 0.2,4.5 0.2,-0.3 0.2,-3.3 0.3,-1.2 0.2,-2.3 0.2,0.2 0.2,9.6 0.2,-1.3 0.2,9.2 0.2,-4.8 0.2,5.5 0.3,-16.3 0.2,-2 0.2,4.1 0.2,2.9 0.2,-2.3 0.2,3.3 0.2,-12.2 0.3,5.2 0.2,1.9 0.2,9.2 0.2,-6.3 0.2,1.9 0.2,-0.8 0.2,-1.3 0.2,-14.4 0.3,4.7 0.2,-7.1 0.2,20.9 0.2,-3.9 0.2,3.4 0.2,-10.7 0.2,-2 0.2,3.1 0.3,5.9 0.2,4.9 0.2,-5.2 0.2,-3.3 0.2,9.5 0.2,-4.5 0.2,10.2 0.2,-4.9 0.3,3.8 0.2,-10.4 0.2,-0.7 0.2,-5.9 0.2,17.6 0.2,-13.7 0.2,0.2 0.3,-3 0.2,6.3 0.2,2.9 0.2,-11.2 0.2,3.5 0.2,1.5 0.2,6.1 0.2,4.6 0.3,-5.5 0.2,9.9 0.2,-5 0.2,-4.6 0.2,-4.1 0.2,-4.8 0.2,1.7 0.2,1.3 0.3,-2.2 0.2,10.8 0.2,-2.8 0.2,-4.3 0.2,-28.3 0.2,1.1 0.2,2.1 0.3,-1.3 0.2,25.8 0.2,0.5 0.2,5.8 0.2,-5.9 0.2,7.1 0.2,-1.7 0.2,-6.2 0.3,4.3 0.2,-2 0.2,1.6 0.2,6.4 0.2,-8 0.2,3.1 0.2,-3.8 0.2,-4 0.3,1.9 0.2,8.1 0.2,-0.9 0.2,4.2 0.2,-3 0.2,-3.8 0.2,6.9 0.2,-1 0.3,-2.2 0.2,-4.8 0.2,-2.7 0.2,-1.6 0.2,-1.1 0.2,-3.7 0.2,1.1 0.3,0.3 0.2,3.7 0.2,-5.1 0.2,15.6 0.2,-7.5 0.2,8.9 0.2,-8.1 0.2,-0.6 0.3,2.1 0.2,2.4 0.2,-4.8 0.2,3.5 0.2,-2.7 0.2,-3.6 0.2,5.6 0.2,-2.5 0.3,-0.5 0.2,3.4 0.2,-0.8 0.2,-4.9 0.2,-7.6 0.2,14.8 0.2,2.5 0.2,-6 0.3,0.2 0.2,-7.4 0.2,7.1 0.2,-2.4 0.2,-2.7 0.2,4.8 0.2,0.1 0.3,-3.7 0.2,10.1 0.2,3 0.2,-2.1 0.2,-5.5 0.2,0.1 0.2,-7.3 0.2,4.1 0.3,1.5 0.2,-6.9 0.2,6.8 0.2,-0.6 0.2,-4.7 0.2,0.9 0.2,6.1 0.2,-2.7 0.3,2.4 0.2,-2.8 0.2,4.3 0.2,3.2 0.2,-2.3 0.2,0.2 0.2,3.5 0.3,2.6 0.2,-1.7 0.2,4.5 0.2,-7.6 0.2,-0.2 0.2,1.5 0.2,-5.2 0.2,1.4 0.3,3.3 0.2,-3.7 0.2,0.6 0.2,-11.8 0.2,11 0.2,-0.3 0.2,3 0.2,-14.6 0.3,11.1 0.2,-2.1 0.2,-7.5 0.2,0 0.2,13.9 0.2,6.8 0.2,-15.7 0.2,-0.6 0.3,7.3 0.2,-2.8 0.2,-6.7 0.2,2.7 0.2,1 0.2,3.4 0.2,-5.7 0.3,-3.6 0.2,7.5 0.2,2.6 0.2,-3.4 0.2,-6.6 0.2,4.9 0.2,4.8 0.2,1.9 0.3,-2.5 0.2,-1.8 0.2,2.9 0.2,-5.1 0.2,-2.6 0.2,10.9 0.2,0.4 0.2,-6.2 0.3,5.4 0.2,-5.5 0.2,-5.7 0.2,-1.6 0.2,5.5 0.2,-5.2 0.2,6.3 0.3,-2.6 0.2,2.4 0.2,1 0.2,3.6 0.2,5.1 0.2,-6.1 0.2,-1.8 0.2,0.1 0.3,-0.1 0.2,-7.8 0.2,-1.4 0.2,8.5 0.2,9 0.2,-4.1 0.2,-3.2 0.2,0.4 0.3,-8.7 0.2,4.5 0.2,-4.2 0.2,-1.9 0.2,4.9 0.2,4.8 0.2,-0.7 0.2,-0.8 0.3,6 0.2,-10.8 0.2,4.7 0.2,0 0.2,0.6 0.2,-1.1 0.2,-3.5 0.3,5.8 0.2,-2.3 0.2,-7.7 0.2,7.7 0.2,2.4 0.2,3.3 0.2,-1.2 0.2,-0.5 0.3,-2.8 0.2,-0.1 0.2,6.4 0.2,-8.5 0.2,-0.6 0.2,8.3 0.2,-3.7 0.2,6.7 0.3,-4.5 0.2,-6.2 0.2,4.9 0.2,-5.9 0.2,-4.8 0.2,8.3 0.2,1.3 0.2,-4.8 0.3,3.9 0.2,-5.4 0.2,6 0.2,0.5 0.2,-6.3 0.2,2 0.2,2.1 0.3,2 0.2,-2.8 0.2,5.8 0.2,4.6 0.2,-5.5 0.2,-1.8 0.2,-9.9 0.2,2.4 0.3,10.3 0.2,0.5 0.2,1.8 0.2,-0.7 0.2,-1 0.2,-1.1 0.2,-2.2 0.2,6.4 0.3,3.4 0.2,-4.1 0.2,-8.1 0.2,-6.3 0.2,9.8 0.2,-6.6 0.2,4.2 0.3,-0.3 0.2,-8.2 0.2,11.7 0.2,-11.5 0.2,4.1 0.2,3.2 0.2,-3.5 0.2,-3.4 0.3,6.2 0.2,-0.1 0.2,-5.5 0.2,-57.1 0.2,0 0.2,1.5 0.2,1.8 0.2,1.1 0.3,51.8 0.2,8.6 0.2,-0.2 0.2,1.2 0.2,-12.3 0.2,3.6 0.2,4.6 0.2,0.8 0.3,7.2 0.2,-5.3 0.2,3.4 0.2,-2.7 0.2,1.2 0.2,-2.7 0.2,2.6 0.3,-3 0.2,3.2 0.2,1.2 0.2,0.5 0.2,-4.3 0.2,-4.2 0.2,2.4 0.2,4.8 0.3,-7.4 0.2,3.9 0.2,0.5 0.2,3.8 0.2,-1.7 0.2,-1.8 0.2,6.2 0.2,-7.7 0.3,-6.4 0.2,2.5 0.2,2.3 0.2,-2.3 0.2,1.9 0.2,3.6 0.2,-3.6 0.2,7.6 0.3,-7 0.2,4.3 0.2,-1 0.2,-5.8 0.2,3.3 0.2,1.2 0.2,-4.4 0.3,5.9 0.2,-5.9 0.2,-0.4 0.2,0.9 0.2,2.2 0.2,6.3 0.2,2.7 0.2,-12.3 0.3,-3.2 0.2,7.8 0.2,7.1 0.2,-1.2 0.2,-11.5 0.2,5.5 0.2,3.1 0.2,-5 0.3,1.2 0.2,-6.4 0.2,4.9 0.2,1.6 0.2,9 0.2,-7.4 0.2,-2.2 0.3,3.6 0.2,-5.8 0.2,2 0.2,-5 0.2,-3.4 0.2,6.7 0.2,-3.2 0.2,9.9 0.3,-2.9 0.2,-1.9 0.2,3.9 0.2,2 0.2,-0.4 0.2,-8.7 0.2,14.2 0.2,-12.5 0.3,-1.4 0.2,-5.1 0.2,-2.4 0.2,12.9 0.2,2.1 0.2,-7.1 0.2,14.7 0.2,3.1 0.3,-16.6 0.2,-0.1 0.2,4 0.2,-5 0.2,3.4 0.2,-0.6 0.2,0.7 0.3,-0.6 0.2,1.3 0.2,-2 0.2,-24.6 0.2,1.2 0.2,-1 0.2,21.4 0.2,0.1 0.3,9 0.2,-7.7 0.2,2.1 0.2,0.6 0.2,1.6 0.2,-6.3 0.2,14.4 0.2,-8 0.3,-3.1 0.2,10.2 0.2,-9.3 0.2,2.6 0.2,-1.6 0.2,-2.4 0.2,9.6 0.3,-2.6 0.2,-2.2 0.2,-5.8 0.2,4.5 0.2,-11.3 0.2,9.1 0.2,-1 0.2,0.4 0.3,-0.2 0.2,-2.4 0.2,5.7 0.2,-3.4 0.2,-62.6 0.2,0.5 0.2,-1.9 0.2,3.9 0.3,-4.4 0.2,4 0.2,-6 0.2,1.7 0.2,-1.5 0.2,-4.4 0.2,6.8 0.2,-2.6 0.3,2.8 0.2,-0.6 0.2,0.4 0.2,-0.1 0.2,-2.1 0.2,1.4 0.2,-1.6 0.3,3.2 0.2,-2.4 0.2,1.2 0.2,-0.3 0.2,-1.5 0.2,0.7 0.2,-1.2 0.2,7.7 0.3,-3.7 0.2,-5.6 0.2,3.6 0.2,0.9 0.2,69.3 0.2,-6.5 0.2,7.2 0.2,-4.8 0.3,-1.7 0.2,2 0.2,-8.2 0.2,8.2 0.2,-1.1 0.2,6.2 0.2,-8 0.2,-0.3 0.3,2.8 0.2,-4.9 0.2,2.8 0.2,3.3 0.2,-9.6 0.2,9.8 0.2,4 0.3,5.7 0.2,-11.8 0.2,2.9 0.2,-2.4 0.2,3.9 0.2,-0.6 0.2,-5.3 0.2,16.9 0.3,-13.5 0.2,-9.9 0.2,4.5 0.2,3.8 0.2,8.6 0.2,-3 0.2,-7 0.2,6.7 0.3,0.5 0.2,-8.7 0.2,5.3 0.2,-1.2 0.2,4.3 0.2,1.4 0.2,-6.2 0.3,-4.4 0.2,0.5 0.2,-2.6 0.2,0.8 0.2,11.7 0.2,-4.4 0.2,-4.5 0.2,7.1 0.3,5.5 0.2,1.6 0.2,-14.2 0.2,1.4 0.2,1.1 0.2,4.6 0.2,1.3 0.2,-4.3 0.3,2 0.2,0.4 0.2,-2.3 0.2,-4.4 0.2,0.7 0.2,-2.9 0.2,8.1 0.2,-3 0.3,-0.2 0.2,-2.7 0.2,0.6 0.2,6.8 0.2,-4.9 0.2,1 0.2,-4.1 0.3,12 0.2,-1.8 0.2,-7 0.2,1.8 0.2,8 0.2,1.6 0.2,-12.7 0.2,5.6 0.3,-0.9 0.2,-6 0.2,-7.7 0.2,7.3 0.2,-2.1 0.2,5.5 0.2,3.8 0.2,-10.5 0.3,6.2 0.2,-3 0.2,3 0.2,2.2 0.2,-6.6 0.2,7.6 0.2,-6.7 0.3,-5.4 0.2,-54.3 0.2,-1.2 0.2,-0.6 0.2,0.1 0.2,60.5 0.2,1.6 0.2,-49.2 0.3,11 0.2,-7 0.2,3.2 0.2,45.6 0.2,-1.1 0.2,1.3 0.2,2.2 0.2,-1.7 0.3,3.2 0.2,-1.2 0.2,-7.4 0.2,5.2 0.2,4.6 0.2,-3.7 0.2,7.9 0.2,-9.2 0.3,0.1 0.2,-2.9 0.2,-1.8 0.2,5.1 0.2,-1.8 0.2,7.7 0.2,5.3 0.3,-6.6 0.2,-12.9 0.2,7.2 0.2,1.3 0.2,-8.5 0.2,2.6 0.2,1.8 0.2,2.1 0.3,6.6 0.2,-9 0.2,0.1 0.2,-0.8 0.2,4.2 0.2,-8.9 0.2,15.3 0.2,-12.2 0.3,6.7 0.2,-10.9 0.2,1.4 0.2,5.7 0.2,15.5 0.2,-17.4 0.2,4.5 0.2,2.3 0.3,0.2 0.2,0.1 0.2,-6.5 0.2,9.3 0.2,-3.2 0.2,4.2 0.2,4.3 0.3,-11.2 0.2,0.2 0.2,1.4 0.2,-3.6 0.2,0.2 0.2,3.8 0.2,-63.6 0.2,3.2 0.3,1.1 0.2,1 0.2,48.2 0.2,11.1 0.2,-6.7 0.2,1.1 0.2,-3.2 0.2,4.1 0.3,5.4 0.2,-2.6 0.2,-1.9 0.2,7.1 0.2,-10.5 0.2,3 0.2,3 0.3,2 0.2,-0.4 0.2,-5.1 0.2,3.1 0.2,8.9 0.2,2.5 0.2,-12.8 0.2,-2.4 0.3,3.3 0.2,-2.5 0.2,-1.4 0.2,3.5 0.2,3.7 0.2,-3 0.2,2.1 0.2,-3.6 0.3,1.8 0.2,1.3 0.2,-3.9 0.2,-4.1 0.2,-6.2 0.2,6.4 0.2,1.4 0.2,0.4 0.3,7.8 0.2,-3 0.2,-6.9 0.2,6.9 0.2,0.4 0.2,-0.7 0.2,-39.8 0.3,5.6 0.2,-2.3 0.2,31.6 0.2,4.2 0.2,8.4 0.2,-5 0.2,-15 0.2,6.7 0.3,11.4 0.2,-8.5 0.2,-5.6 0.2,22.5 0.2,-6.5 0.2,-9.6 0.2,1.6 0.2,-7.3 0.3,0.5 0.2,-1.4 0.2,7.4 0.2,0.6 0.2,4.8 0.2,-8.3 0.2,3.7 0.3,-3.1 0.2,15.4 0.2,-12.6 0.2,-4.8 0.2,13.8 0.2,-7.2 0.2,-8.7 0.2,7.4 0.3,-6.9 0.2,6.2 0.2,-4.1 0.2,2.4 0.2,-1.5 0.2,8.7 0.2,-10.7 0.2,4.9 0.3,5.8 0.2,-10.7 0.2,7.9 0.2,2.7 0.2,-4 0.2,-5.9 0.2,2.4 0.2,0.3 0.3,8.3 0.2,-12.3 0.2,7.9 0.2,4.9" fill="none" stroke="#bf8360" stroke-width="2.0" stroke-linejoin="round" clip-path="url(#cr1)"/>
<line x1="959.4" y1="350" x2="967.9" y2="350" stroke="#262626" stroke-width="2.6" />
<text x="946.5" y="358" font-size="24.5" text-anchor="end">0.0</text>
<line x1="959.4" y1="318.7" x2="967.9" y2="318.7" stroke="#262626" stroke-width="2.6" />
<text x="946.5" y="326.7" font-size="24.5" text-anchor="end">0.4</text>
<line x1="959.4" y1="287.4" x2="967.9" y2="287.4" stroke="#262626" stroke-width="2.6" />
<text x="946.5" y="295.4" font-size="24.5" text-anchor="end">0.8</text>
<rect x="959.4" y="271.7" width="361.8" height="94" fill="none" stroke="#262626" stroke-width="2.8" />
<text x="887" y="318.7" font-size="24.5" text-anchor="middle" transform="rotate(-90 887 318.7)">FRET</text>
<path d="M959.4,460.3l0.2,-7.8 0.2,-7.5 0.2,12.9 0.2,13.4 0.2,-84.7 0.1,0.9 0.2,7 0.2,-4.2 0.2,1.3 0.2,1 0.2,1.4 0.2,0.5 0.2,-0.4 0.2,-2.4 0.2,-3.9 0.1,81.9 0.2,-16.1 0.2,2.3 0.2,5.5 0.2,1.6 0.2,2.8 0.2,-6.7 0.2,12.9 0.2,-9.9 0.2,-0.8 0.2,-25.9 0.1,13.9 0.2,12.7 0.2,-2 0.2,-13.8 0.2,2.8 0.2,9.4 0.2,-5.9 0.2,3.5 0.2,2.3 0.2,-13.1 0.1,25.9 0.2,-6.6 0.2,-6.9 0.2,11 0.2,-20.2 0.2,5.5 0.2,-9.4 0.2,12 0.2,11.2 0.2,-23.1 0.2,12.8 0.1,-14.1 0.2,7.1 0.2,5.1 0.2,15.7 0.2,-11 0.2,-57.8 0.2,-0.3 0.2,-3 0.2,2.4 0.2,-0.7 0.2,-1.6 0.1,55.8 0.2,-4 0.2,20.8 0.2,-14.3 0.2,6.1 0.2,10.6 0.2,-5 0.2,-17.7 0.2,-0.7 0.2,-0.5 0.1,0.7 0.2,3.1 0.2,-5.6 0.2,15.7 0.2,2.2 0.2,-28.4 0.2,-1.1 0.2,0.7 0.2,-0.4 0.2,13 0.2,7.1 0.1,-8.9 0.2,17 0.2,-8.6 0.2,-6 0.2,6.6 0.2,2.1 0.2,0.4 0.2,-0.2 0.2,-2.5 0.2,-0.4 0.1,10 0.2,-8.2 0.2,-10.2 0.2,10.2 0.2,-12.1 0.2,21.9 0.2,-20.8 0.2,5.9 0.2,14.9 0.2,-10.4 0.2,-8.2 0.1,13.4 0.2,0.4 0.2,1.3 0.2,-7.3 0.2,2.6 0.2,-6.8 0.2,2.3 0.2,-8.7 0.2,2.9 0.2,13.5 0.1,7.7 0.2,0.6 0.2,-26.4 0.2,22.7 0.2,-22.8 0.2,18.5 0.2,-27.2 0.2,13.6 0.2,8.1 0.2,-1.3 0.2,2.4 0.1,6.4 0.2,-66.2 0.2,0 0.2,1 0.2,1.1 0.2,47.7 0.2,4.5 0.2,-3.7 0.2,10.4 0.2,-4.8 0.1,-4.1 0.2,22.2 0.2,-12 0.2,3.5 0.2,-8.4 0.2,2 0.2,11.4 0.2,-36.7 0.2,12.3 0.2,6.8 0.2,-16.8 0.1,13.1 0.2,14 0.2,1.2 0.2,-16.8 0.2,-6.2 0.2,-56.3 0.2,-2.4 0.2,8.9 0.2,-7.8 0.2,75.3 0.1,-8.7 0.2,7.2 0.2,2.8 0.2,1 0.2,-11.1 0.2,1.4 0.2,-6.2 0.2,-8.8 0.2,30.9 0.2,-14.9 0.2,5.7 0.1,-2.8 0.2,3.5 0.2,2 0.2,-1.3 0.2,-10.3 0.2,2 0.2,5.5 0.2,1.9 0.2,-3.6 0.2,4.5 0.2,-8.1 0.1,6.1 0.2,3 0.2,2.5 0.2,-6.7 0.2,-8.1 0.2,11.8 0.2,-0.7 0.2,12.2 0.2,-24.2 0.2,22.7 0.1,-8.9 0.2,3.6 0.2,-0.1 0.2,2.2 0.2,-3.5 0.2,-7.2 0.2,-3.4 0.2,-13 0.2,25.4 0.2,-16.7 0.2,6.6 0.1,-5.4 0.2,17.9 0.2,1.8 0.2,-5.5 0.2,-15.5 0.2,-5.4 0.2,5.4 0.2,12.9 0.2,-17.5 0.2,0.2 0.1,-5.3 0.2,1.4 0.2,11.8 0.2,-12.3 0.2,24.5 0.2,5.8 0.2,-8.2 0.2,-20.2 0.2,12.9 0.2,5.9 0.2,0.8 0.1,2.3 0.2,-8.1 0.2,-9.5 0.2,2.6 0.2,-8 0.2,25 0.2,-5.3 0.2,-8.3 0.2,-3.6 0.2,-40.4 0.1,1.2 0.2,-1.7 0.2,45.7 0.2,0.8 0.2,-8.1 0.2,13.6 0.2,5.8 0.2,-19.2 0.2,14.1 0.2,3.1 0.2,1.7 0.1,2.2 0.2,1.8 0.2,-5.1 0.2,4 0.2,-5 0.2,-4.1 0.2,3.4 0.2,4 0.2,-3.5 0.2,-3.3 0.1,8.3 0.2,-5.1 0.2,5.2 0.2,-17.1 0.2,1.5 0.2,0.7 0.2,4.4 0.2,-1.5 0.2,0 0.2,-65.8 0.2,2 0.1,-7.8 0.2,73.8 0.2,-12.9 0.2,-2.6 0.2,21 0.2,-8.3 0.2,8 0.2,4.1 0.2,1.5 0.2,-18.1 0.2,5.5 0.1,1.7 0.2,6.3 0.2,-26.6 0.2,14.5 0.2,4.1 0.2,11.2 0.2,-0.1 0.2,-3.9 0.2,3.6 0.2,-8.7 0.1,16.6 0.2,-17.1 0.2,-3.3 0.2,-16 0.2,10.5 0.2,14.7 0.2,-10 0.2,-2.7 0.2,8.5 0.2,-2.1 0.2,3.3 0.1,-4.1 0.2,-11.8 0.2,6.2 0.2,5.9 0.2,-4.3 0.2,2.5 0.2,3.3 0.2,-2 0.2,-13.2 0.2,9 0.1,8 0.2,-0.9 0.2,-1.8 0.2,-5.3 0.2,-6.4 0.2,10.9 0.2,14.9 0.2,-5.1 0.2,-10.2 0.2,6.9 0.2,-14.1 0.1,15.3 0.2,-29 0.2,6.1 0.2,-3 0.2,2.8 0.2,0.7 0.2,1.6 0.2,12.8 0.2,4.2 0.2,1.8 0.1,-3.5 0.2,-12.6 0.2,4.7 0.2,-2 0.2,4.4 0.2,2.7 0.2,1.5 0.2,-10.2 0.2,0.4 0.2,13 0.2,3.3 0.1,-11.2 0.2,3.1 0.2,13.6 0.2,-22.7 0.2,13.2 0.2,-2 0.2,5.1 0.2,-20 0.2,5.1 0.2,4 0.1,17.4 0.2,-20.7 0.2,10.6 0.2,-6.1 0.2,5.3 0.2,-2.3 0.2,1 0.2,-0.9 0.2,-10.7 0.2,23 0.2,-65 0.1,-3.7 0.2,1.6 0.2,-0.1 0.2,36.7 0.2,1.7 0.2,13 0.2,0.6 0.2,-1.5 0.2,8.4 0.2,-6 0.1,17.7 0.2,-9.4 0.2,-2.6 0.2,5.4 0.2,-19.8 0.2,2.6 0.2,0.4 0.2,17.9 0.2,-1.7 0.2,-8.3 0.2,2.3 0.1,6.5 0.2,-11.4 0.2,8.3 0.2,-7.6 0.2,-6.1 0.2,-40.7 0.2,2.2 0.2,3.2 0.2,-1.8 0.2,0 0.2,1.8 0.1,-1.4 0.2,0.7 0.2,-1.5 0.2,1.6 0.2,42.5 0.2,-2.3 0.2,1 0.2,7.3 0.2,-14.2 0.2,-1.3 0.1,4.5 0.2,7 0.2,11.7 0.2,-7.1 0.2,1.5 0.2,-75.6 0.2,-3 0.2,-1.1 0.2,6.1 0.2,58.6 0.2,16.2 0.1,-1.5 0.2,-1.9 0.2,-6.5 0.2,0 0.2,-9.4 0.2,5.6 0.2,7.3 0.2,-14.7 0.2,16.6 0.2,1.6 0.1,0.3 0.2,5.1 0.2,-9.6 0.2,2.3 0.2,4.6 0.2,-16.5 0.2,0.9 0.2,2.4 0.2,-7.5 0.2,-3.3 0.2,1.2 0.1,12.1 0.2,9.7 0.2,-9 0.2,10.2 0.2,-16.8 0.2,3.6 0.2,-1.2 0.2,18 0.2,-5.9 0.2,14.4 0.1,-78.4 0.2,-1.6 0.2,-1.8 0.2,3.1 0.2,-3.6 0.2,62.1 0.2,-6.4 0.2,5.1 0.2,4.8 0.2,7.2 0.2,-14.8 0.1,-3.4 0.2,-6.4 0.2,12 0.2,5.8 0.2,-2.2 0.2,-5.7 0.2,10.3 0.2,-16 0.2,11.9 0.2,0.5 0.1,4.3 0.2,-3.7 0.2,1.2 0.2,0.1 0.2,2.4 0.2,-6.2 0.2,-6.4 0.2,-2.9 0.2,-23.5 0.2,3.1 0.2,4.9 0.1,-3.2 0.2,30.8 0.2,-9.2 0.2,-1.1 0.2,16 0.2,-16.1 0.2,-2.1 0.2,8.3 0.2,9.7 0.2,4.5 0.2,-10.1 0.1,8.5 0.2,-14.6 0.2,7.1 0.2,5.1 0.2,-23.1 0.2,-30.3 0.2,-1.5 0.2,5.8 0.2,-4.8 0.2,2.6 0.1,-1.7 0.2,2.9 0.2,-1.4 0.2,-0.1 0.2,1.1 0.2,-3.8 0.2,36.3 0.2,0.7 0.2,2.5 0.2,-1.1 0.2,26.5 0.1,-7.7 0.2,-4.3 0.2,-2.8 0.2,1.8 0.2,-14.7 0.2,6.3 0.2,9.9 0.2,-0.5 0.2,-7.3 0.2,9.1 0.1,-6 0.2,15.6 0.2,-5 0.2,-18.1 0.2,9.7 0.2,3.4 0.2,2.7 0.2,-23.7 0.2,-3.9 0.2,-3 0.2,1.3 0.1,1.5 0.2,-2.1 0.2,2.2 0.2,-1.2 0.2,14.1 0.2,1.4 0.2,-10.4 0.2,3.9 0.2,18.2 0.2,0.2 0.1,-3.2 0.2,-0.6 0.2,-12.2 0.2,5.2 0.2,-10.6 0.2,23 0.2,-3.6 0.2,-4.2 0.2,-3.9 0.2,-6.5 0.2,19.9 0.1,-18.4 0.2,0.9 0.2,-29.2 0.2,-1.2 0.2,3.6 0.2,18.8 0.2,15.2 0.2,4.8 0.2,4.9 0.2,-22.7 0.1,20.2 0.2,1.6 0.2,-4.9 0.2,2.5 0.2,-16.4 0.2,2.8 0.2,11.8 0.2,10.4 0.2,-23.4 0.2,4 0.2,0.9 0.1,1.1 0.2,-2.1 0.2,-12.2 0.2,14 0.2,-7.4 0.2,2.1 0.2,8.4 0.2,-7 0.2,2.1 0.2,-7.2 0.1,-2.7 0.2,-5.6 0.2,12.8 0.2,-0.7 0.2,-9 0.2,-60.7 0.2,1 0.2,2.4 0.2,3.8 0.2,-1.7 0.2,-3.3 0.1,0.7 0.2,-0.5 0.2,3.6 0.2,-1.2 0.2,-5.8 0.2,6.2 0.2,67.6 0.2,5.3 0.2,-8.7 0.2,7.7 0.2,11.4 0.1,-17.9 0.2,8.3 0.2,-10.9 0.2,4.9 0.2,14.4 0.2,-6.7 0.2,-8.2 0.2,11 0.2,-6 0.2,5.1 0.1,2.1 0.2,1.7 0.2,-10.6 0.2,-4.3 0.2,3.3 0.2,-13.8 0.2,-6.1 0.2,9.5 0.2,-11.8 0.2,0 0.2,0.6 0.1,-0.2 0.2,-0.6 0.2,3.3 0.2,-0.8 0.2,-2.9 0.2,1.7 0.2,-3.4 0.2,-1.1 0.2,24.8 0.2,7.5 0.1,-16.3 0.2,12.5 0.2,-4.5 0.2,9.3 0.2,1.6 0.2,-5.4 0.2,-3.8 0.2,-15.1 0.2,-20.3 0.2,-4 0.2,1.5 0.1,-3.9 0.2,43.8 0.2,-3 0.2,17.1 0.2,-22.8 0.2,3.4 0.2,0.5 0.2,-5.6 0.2,13.9 0.2,-15.3 0.1,3.1 0.2,16 0.2,-14.7 0.2,4.4 0.2,9.3 0.2,-13.4 0.2,-1.9 0.2,0.6 0.2,12.7 0.2,-3.3 0.2,-6.9 0.1,-9.7 0.2,5.9 0.2,-10.2 0.2,19.8 0.2,-8.5 0.2,7.7 0.2,3 0.2,-7.8 0.2,1.9 0.2,6.5 0.1,-24.1 0.2,6.4 0.2,14.5 0.2,-47 0.2,-1.5 0.2,1.5 0.2,-2.4 0.2,-0.6 0.2,2.8 0.2,-2.3 0.2,1.5 0.1,2.6 0.2,42 0.2,2.6 0.2,2.8 0.2,3.2 0.2,-6.2 0.2,15.5 0.2,-18.7 0.2,3.1 0.2,-13.5 0.2,2.3 0.1,5.1 0.2,8.7 0.2,-6.5 0.2,17.1 0.2,-23.1 0.2,2.5 0.2,0.8 0.2,6.8 0.2,-8 0.2,4.3 0.1,12.3 0.2,-18.9 0.2,3.5 0.2,-8.3 0.2,17.1 0.2,-5.1 0.2,-2.3 0.2,-5.9 0.2,13.6 0.2,-10.1 0.2,17.3 0.1,-12.2 0.2,0.4 0.2,1.8 0.2,-20.9 0.2,-1.4 0.2,0.7 0.2,0.5 0.2,-3.6 0.2,26.3 0.2,8.4 0.1,6.7 0.2,-16.1 0.2,13.8 0.2,-6.5 0.2,-5.3 0.2,1.6 0.2,-11 0.2,12.9 0.2,-8.2 0.2,0 0.2,10.3 0.1,-5.2 0.2,-21.7 0.2,19.7 0.2,-7.7 0.2,9.9 0.2,-5.5 0.2,1.8 0.2,-2.9 0.2,-2.6 0.2,15 0.1,6.6 0.2,-3.2 0.2,-20.2 0.2,26.9 0.2,-21.3 0.2,-8.9 0.2,19.5 0.2,-10.5 0.2,-2.2 0.2,10.1 0.2,-10.7 0.1,6.1 0.2,6.5 0.2,-1.4 0.2,-13.4 0.2,12.2 0.2,-0.1 0.2,-11.5 0.2,15.3 0.2,-0.6 0.2,-0.4 0.1,-6.1 0.2,8.6 0.2,-9.4 0.2,-6 0.2,7.1 0.2,-9.4 0.2,2.3 0.2,-58.8 0.2,-2.4 0.2,-5.4 0.2,4.6 0.1,-0.4 0.2,-2 0.2,1.2 0.2,77.2 0.2,-3.6 0.2,5.5 0.2,-0.7 0.2,-12.6 0.2,-4.2 0.2,15.4 0.1,-23 0.2,20.6 0.2,12.8 0.2,-2.9 0.2,-11 0.2,-6.5 0.2,7.2 0.2,-1.6 0.2,-4.4 0.2,-1.5 0.2,11.2 0.1,-3.8 0.2,4.4 0.2,-3 0.2,-19.2 0.2,18.6 0.2,-12.8 0.2,-0.2 0.2,-0.5 0.2,4.7 0.2,-5.2 0.2,3.7 0.1,9.2 0.2,-0.4 0.2,-2.2 0.2,-3.7 0.2,-5.6 0.2,6.6 0.2,-1.9 0.2,8.8 0.2,4.6 0.2,-31.6 0.1,-0.7 0.2,20.3 0.2,-39.5 0.2,-4.1 0.2,4.1 0.2,2 0.2,-3.1 0.2,2 0.2,45.5 0.2,7.7 0.2,-9.7 0.1,-6.8 0.2,-4.2 0.2,11.7 0.2,-7.9 0.2,-6.9 0.2,0.5 0.2,3.2 0.2,16.3 0.2,-3.4 0.2,9.2 0.1,-8.8 0.2,-13.9 0.2,9.7 0.2,3.1 0.2,-4.9 0.2,3.7 0.2,-5.1 0.2,3.3 0.2,-13.9 0.2,3.5 0.2,2 0.1,16.9 0.2,3.8 0.2,-15.7 0.2,1.3 0.2,-7.9 0.2,0.9 0.2,4.7 0.2,5.5 0.2,4.8 0.2,9.2 0.1,-15.9 0.2,-1.5 0.2,2.6 0.2,-35.7 0.2,-2.9 0.2,1.6 0.2,2.8 0.2,-4.9 0.2,1.8 0.2,0.3 0.2,-0.5 0.1,-0.6 0.2,1.2 0.2,0.9 0.2,-4.3 0.2,32 0.2,10.3 0.2,2.8 0.2,0.7 0.2,-15.2 0.2,10.1 0.1,-4.5 0.2,-7.3 0.2,14.1 0.2,-9.6 0.2,9.4 0.2,-10.4 0.2,5.5 0.2,-2.9 0.2,11.1 0.2,-17 0.2,-1 0.1,16.7 0.2,-4.9 0.2,-14.1 0.2,8.4 0.2,0.3 0.2,14.7 0.2,-16.6 0.2,6.1 0.2,4.5 0.2,-11.9 0.2,10.4 0.1,0.2 0.2,-1.9 0.2,0.2 0.2,8.7 0.2,-8.3 0.2,15.1 0.2,-11.8 0.2,-4.1 0.2,-6 0.2,4.2 0.1,0.6 0.2,-5.4 0.2,14.5 0.2,-22.2 0.2,2.9 0.2,-24.8 0.2,-0.5 0.2,3.3 0.2,-6 0.2,5.1 0.2,29.4 0.1,2.7 0.2,2 0.2,-12.2 0.2,11.6 0.2,-1 0.2,-2.4 0.2,-7.5 0.2,14.5 0.2,-2.6 0.2,8.1 0.1,-6.4 0.2,-2.2 0.2,4.3 0.2,5.9 0.2,-50.9 0.2,2.6 0.2,-4.4 0.2,5.2 0.2,-1.4 0.2,29.6 0.2,5.5 0.1,0.8 0.2,2 0.2,-11.3 0.2,16.1 0.2,-10.5 0.2,1.4 0.2,2 0.2,-11.4 0.2,0.1 0.2,6.2 0.1,-4.2 0.2,22 0.2,-14.3 0.2,0.9 0.2,9.7 0.2,-12.7 0.2,12.2 0.2,-4.4 0.2,7.5 0.2,5.7 0.2,-14.7 0.1,8.3 0.2,-12.4 0.2,10.6 0.2,3.2 0.2,-15.3 0.2,16.1 0.2,-18.3 0.2,3.9 0.2,-5.6 0.2,15.3 0.1,-2.4 0.2,-29.9 0.2,5 0.2,-4.1 0.2,7.8 0.2,-4.7 0.2,1.4 0.2,1.6 0.2,-4.7 0.2,27.2 0.2,-9.7 0.1,5.2 0.2,12.5 0.2,3.2 0.2,-14.1 0.2,3.9 0.2,2.3 0.2,-6.6 0.2,-9.5 0.2,9.5 0.2,-7.6 0.1,-3.5 0.2,10.6 0.2,-4 0.2,-56.8 0.2,3.4 0.2,-5.8 0.2,-1.2 0.2,2.8 0.2,61.5 0.2,-7.7 0.2,3.8 0.1,-1.2 0.2,4.2 0.2,1.5 0.2,-5.2 0.2,-7.8 0.2,12.6 0.2,4.7 0.2,-2.9 0.2,6.4 0.2,-7.3 0.2,3.3 0.1,-2.2 0.2,-4.2 0.2,6.9 0.2,-16.5 0.2,7.7 0.2,2.4 0.2,7.9 0.2,-1.7 0.2,-6.3 0.2,0.9 0.1,-9.1 0.2,10.2 0.2,-10.5 0.2,0.4 0.2,20 0.2,-16.3 0.2,-2.2 0.2,2.7 0.2,-4.2 0.2,1.4 0.2,15.3 0.1,-8.7 0.2,-9 0.2,14.6 0.2,-11.8 0.2,-9.6 0.2,-0.7 0.2,14.7 0.2,1.8 0.2,-17.8 0.2,12.6 0.1,8.4 0.2,-12.2 0.2,7.7 0.2,-24 0.2,0 0.2,-2.8 0.2,-0.5 0.2,1.3 0.2,1.5 0.2,-2.9 0.2,32.8 0.1,7.6 0.2,-19 0.2,-1.7 0.2,16.1 0.2,-7.8 0.2,5.1 0.2,-9.1 0.2,11.8 0.2,-9.8 0.2,-0.3 0.1,-8.9 0.2,6.4 0.2,9.1 0.2,1.1 0.2,2.7 0.2,-11.5 0.2,4.2 0.2,9.6 0.2,-17.1 0.2,7.8 0.2,5 0.1,-2.3 0.2,-8.5 0.2,15.5 0.2,-79.3 0.2,4.9 0.2,-4.5 0.2,3.9 0.2,-1.5 0.2,0.8 0.2,72.7 0.1,8.4 0.2,-4.2 0.2,-0.2 0.2,-8.6 0.2,-2.9 0.2,5.1 0.2,0.2 0.2,-10.7 0.2,10.1 0.2,-6.6 0.2,-4.1 0.1,0.1 0.2,6.6 0.2,-4.6 0.2,-1.4 0.2,2.2 0.2,-2.9 0.2,2.7 0.2,6.6 0.2,-8.9 0.2,-0.3 0.2,17.6 0.1,-22 0.2,14.9 0.2,-19.3 0.2,10.1 0.2,-2.8 0.2,-0.7 0.2,9.3 0.2,11.9 0.2,-9.8 0.2,5.2 0.1,-9 0.2,9.7 0.2,-23 0.2,-0.4 0.2,27 0.2,4 0.2,-24 0.2,9.7 0.2,0 0.2,2.6 0.2,-4.3 0.1,-15.4 0.2,25.3 0.2,-0.1 0.2,8.3 0.2,-14.5 0.2,-71.7 0.2,-2 0.2,-1.1 0.2,-4.9 0.2,2.5 0.1,3.6 0.2,0.7 0.2,-2.2 0.2,81 0.2,-6 0.2,8.7 0.2,6.7 0.2,-20.9 0.2,-6.9 0.2,3 0.2,14.3 0.1,-3.8 0.2,4 0.2,-0.9 0.2,-6 0.2,3.4 0.2,2.9 0.2,-24 0.2,1.9 0.2,13.6 0.2,7.6 0.1,-20.6 0.2,15.9 0.2,2.2 0.2,-63.1 0.2,1.6 0.2,-0.7 0.2,2.7 0.2,-5 0.2,1.3 0.2,-1.3 0.2,3.8 0.1,-1.4 0.2,-4 0.2,62.8 0.2,-5.6 0.2,5.3 0.2,-0.7 0.2,-3.4 0.2,16.9 0.2,-24.1 0.2,3.6 0.1,5.9 0.2,-2.4 0.2,6.9 0.2,4.8 0.2,-9.9 0.2,-5.2 0.2,-3.9 0.2,7 0.2,-8.4 0.2,14.9 0.2,-5.4 0.1,-6.1 0.2,9.4 0.2,6 0.2,-5.5 0.2,-20.1 0.2,-0.9 0.2,2.2 0.2,-1.1 0.2,-3.3 0.2,-0.2 0.1,1.2 0.2,-1.8 0.2,8.3 0.2,13.7 0.2,-4 0.2,4.3 0.2,-9.7 0.2,-0.9 0.2,11.9 0.2,0.8 0.2,-2.7 0.1,9.4 0.2,4.3 0.2,-11.8 0.2,-8.5 0.2,12.6 0.2,1.4 0.2,2.1 0.2,-5.5 0.2,5.3 0.2,-3.7 0.2,6.1 0.1,-3.4 0.2,-12.4 0.2,5.3 0.2,-1.7 0.2,8.2 0.2,-8 0.2,0.1 0.2,4.6 0.2,-4.8 0.2,-7.3 0.1,10.3 0.2,-8 0.2,3.1 0.2,2.5 0.2,13 0.2,-14.2 0.2,-4.9 0.2,6.2 0.2,5.9 0.2,-3 0.2,-5.4 0.1,16.6 0.2,0.8 0.2,-18 0.2,-5.6 0.2,-5 0.2,5.2 0.2,16.6 0.2,-82.3 0.2,-0.7 0.2,4.7 0.1,-4 0.2,0.4 0.2,-1.7 0.2,74.6 0.2,11.1 0.2,-4.3 0.2,-0.1 0.2,-11.7 0.2,3.3 0.2,-5.6 0.2,-5.8 0.1,21.5 0.2,-3.8 0.2,-4.4 0.2,5.4 0.2,-1 0.2,4.5 0.2,0.7 0.2,-3 0.2,-5.3 0.2,-4.7 0.1,-2.1 0.2,-1.5 0.2,5 0.2,3.1 0.2,-1.3 0.2,-32.7 0.2,1.3 0.2,1.7 0.2,-3.2 0.2,2.4 0.2,-1.3 0.1,0.1 0.2,16 0.2,6.3 0.2,3.6 0.2,-5.9 0.2,5.9 0.2,2.3 0.2,7.8 0.2,5.3 0.2,-3.1 0.1,5.4 0.2,-5 0.2,-14.2 0.2,9.8 0.2,12.1 0.2,-17.2 0.2,23 0.2,-16 0.2,-7.6 0.2,-1 0.2,1.7 0.1,-8.9 0.2,3.6 0.2,14 0.2,-5.9 0.2,-8.7 0.2,0.3 0.2,4.2 0.2,6.5 0.2,-1.2 0.2,-13.3 0.2,2.7 0.1,2.4 0.2,11 0.2,-7.7 0.2,10.9 0.2,3.5 0.2,-4.9 0.2,-12.8 0.2,4.5 0.2,6.6 0.2,-10.7 0.1,1.3 0.2,8.5 0.2,-7.5 0.2,-4.9 0.2,10.8 0.2,0.1 0.2,9.3 0.2,-3.8 0.2,-66.4 0.2,-5.5 0.2,3.5 0.1,2.9 0.2,-3.9 0.2,-3.7 0.2,5.7 0.2,-3.2 0.2,0.1 0.2,60.1 0.2,4.6 0.2,9.3 0.2,-6.2 0.1,7.7 0.2,-4.7 0.2,-13.5 0.2,20.7 0.2,-10.5 0.2,-11.6 0.2,-4.8 0.2,-9.7 0.2,10.4 0.2,7.2 0.2,-3.6 0.1,6.3 0.2,-16 0.2,17.2 0.2,2.6 0.2,-42.7 0.2,-2.4 0.2,-2.6 0.2,3.2 0.2,-0.4 0.2,-0.2 0.1,-0.1 0.2,48.1 0.2,-13.1 0.2,-0.2 0.2,-0.4 0.2,20.3 0.2,-13.9 0.2,3.9 0.2,6.1 0.2,-11.8 0.2,14.2 0.1,-5.8 0.2,5.9 0.2,6.9 0.2,-17.5 0.2,16 0.2,-16.9 0.2,6.7 0.2,-21.5 0.2,18.2 0.2,4 0.1,-11.8 0.2,-42.2 0.2,-4.6 0.2,61.5 0.2,-17.5 0.2,-8.4 0.2,16.7 0.2,4.7 0.2,-7.9 0.2,-3.2 0.2,-3.8 0.1,13 0.2,-3.6 0.2,2 0.2,4.4 0.2,-0.5 0.2,-10.5 0.2,14.5 0.2,-9.9 0.2,-16.8 0.2,8.9 0.1,-0.3 0.2,12.8 0.2,-21.8 0.2,-4.8 0.2,3.1 0.2,2.6 0.2,-4.8 0.2,1.5 0.2,1.9 0.2,-0.1 0.2,-2.5 0.1,-0.2 0.2,19.1 0.2,2.2 0.2,-2.6 0.2,-1.9 0.2,19.6 0.2,-19.9 0.2,0.3 0.2,-15 0.2,8 0.2,8.3 0.1,1 0.2,-10.1 0.2,5.7 0.2,8.3 0.2,4.3 0.2,-17.6 0.2,-11.4 0.2,0.9 0.2,2.2 0.2,-0.7 0.1,0.2 0.2,-2.1 0.2,0 0.2,0.6 0.2,20.4 0.2,7.5 0.2,0 0.2,2 0.2,3.4 0.2,-2.5 0.2,-13.8 0.1,-4.1 0.2,-4.2 0.2,5 0.2,-0.1 0.2,-1.6 0.2,13.9 0.2,0.9 0.2,5.3 0.2,-0.2 0.2,-11.6 0.1,-0.8 0.2,15.3 0.2,-17.5 0.2,-2.4 0.2,-8.4 0.2,6.4 0.2,7.9 0.2,-1.3 0.2,12.1 0.2,-8.4 0.2,-4.2 0.1,2.3 0.2,-5.9 0.2,-0.8 0.2,10.6 0.2,3.2 0.2,-1.5 0.2,-12.2 0.2,10.2 0.2,-1.5 0.2,-11.4 0.1,-11.7 0.2,13.5 0.2,6.3 0.2,4.6 0.2,-2.8 0.2,-10.3 0.2,-20.9 0.2,0.3 0.2,-2.1 0.2,5.3 0.2,-5.1 0.1,2.2 0.2,-2.7 0.2,4.4 0.2,26.9 0.2,12.4 0.2,-4.5 0.2,-8.6 0.2,4.8 0.2,-6.7 0.2,-1.7 0.1,12.6 0.2,8.9 0.2,-18.7 0.2,-2.9 0.2,-2.9 0.2,24.8 0.2,-9.8 0.2,-18.3 0.2,15.4 0.2,-19 0.2,18.1 0.1,6 0.2,-7.7 0.2,-6.2 0.2,6.6 0.2,-63.5 0.2,-0.1 0.2,-3.6 0.2,64.3 0.2,3.3 0.2,-18.8 0.2,22.9 0.1,4.9 0.2,-32.4 0.2,22.1 0.2,5.2 0.2,-2.3 0.2,-3.6 0.2,1.9 0.2,-8.7 0.2,15.3 0.2,-2.8 0.1,-0.8 0.2,12.9 0.2,-14.6 0.2,-0.6 0.2,-9.7 0.2,10.1 0.2,1.7 0.2,14.4 0.2,-18.1 0.2,-7.7 0.2,-57.4 0.1,0.6 0.2,0.5 0.2,4 0.2,-0.3 0.2,-4 0.2,79.1 0.2,-18.5 0.2,3.2 0.2,-4.9 0.2,10.5 0.1,-6.6 0.2,7.2 0.2,3.4 0.2,-6.4 0.2,-16 0.2,12 0.2,2.2 0.2,-7.2 0.2,-0.6 0.2,2.8 0.2,5.1 0.1,-9.5 0.2,3.4 0.2,-6.8 0.2,5.9 0.2,12.2 0.2,-14.3 0.2,15.3 0.2,-2.3 0.2,-7.3 0.2,0.2 0.1,10 0.2,-4.1 0.2,-1.4 0.2,-5.1 0.2,-3.2 0.2,0.5 0.2,6.2 0.2,-3.8 0.2,4.8 0.2,8.7 0.2,-6.8 0.1,-2.9 0.2,5.8 0.2,-3.1 0.2,-3.5 0.2,-5.9 0.2,11.8 0.2,-30.9 0.2,-1.4 0.2,-2.9 0.2,1.6 0.1,1.2 0.2,-4 0.2,1.1 0.2,24.2 0.2,-5.1 0.2,5.6 0.2,1.1 0.2,-2.3 0.2,1.4 0.2,3.3 0.2,6.5 0.1,-12.8 0.2,10.8 0.2,-6.1 0.2,12.2 0.2,-21.6 0.2,10.7 0.2,10 0.2,-3.2 0.2,0.8 0.2,-10.7 0.1,-8.1 0.2,6.7 0.2,13.5 0.2,-11.5 0.2,13.8 0.2,-13.5 0.2,2.1 0.2,-10.8 0.2,18.3 0.2,-18.7 0.2,8.7 0.1,4.9 0.2,-3.3 0.2,-4.8 0.2,7 0.2,6.5 0.2,-6.9 0.2,2.5 0.2,3.2 0.2,-48.5 0.2,-2.4 0.2,3.4 0.1,0.1 0.2,-2.8 0.2,4.4 0.2,-0.8 0.2,-0.1 0.2,-2.4 0.2,-5.8 0.2,5.6 0.2,40.4 0.2,5.3 0.1,-9.4 0.2,15.9 0.2,-15.1 0.2,-7.1 0.2,17.4 0.2,1.7 0.2,2.6 0.2,13 0.2,-5.2 0.2,-13.3 0.2,-1.7 0.1,-5.3 0.2,-0.7 0.2,0.3 0.2,0.9 0.2,5.4 0.2,11.8 0.2,-16.3 0.2,9.9 0.2,-8.4 0.2,10.8 0.1,-3.3 0.2,-5.2 0.2,-5.1 0.2,10.5 0.2,-4.6 0.2,-2.1 0.2,-0.3 0.2,9.9 0.2,-10.7 0.2,9.9 0.2,0.3 0.1,-67.6 0.2,-0.7 0.2,-1 0.2,5.8 0.2,51.4 0.2,10.9 0.2,0.4 0.2,-10.9 0.2,19.4 0.2,-15.8 0.1,5.3 0.2,2 0.2,3.2 0.2,-16.4 0.2,-7.3 0.2,11.7 0.2,-8.8 0.2,-0.8 0.2,1.6 0.2,9.8 0.2,1.4 0.1,0.2 0.2,10.1 0.2,-2.2 0.2,0.5 0.2,0.6 0.2,-7.5 0.2,-4.2 0.2,13.5 0.2,-17.2 0.2,11.5 0.1,-15 0.2,-11.9 0.2,8.6 0.2,7.5 0.2,21.9 0.2,-26.6 0.2,-0.7 0.2,4.4 0.2,23.8 0.2,-18.8 0.2,-1.4 0.1,-4 0.2,8.9 0.2,-75.2 0.2,-1.4 0.2,1.2 0.2,3.9 0.2,85.4 0.2,-22.7 0.2,3.7 0.2,5.3 0.2,1.2 0.1,14.4 0.2,-18.9 0.2,1 0.2,-5.2 0.2,7.6 0.2,12.2 0.2,-11.2 0.2,-17.9 0.2,21.3 0.2,-21.4 0.1,6.1 0.2,1.2 0.2,4.3 0.2,-13.4 0.2,-6 0.2,25.3 0.2,-8.9 0.2,-11.8 0.2,4.3 0.2,-7.2 0.2,9.6 0.1,-4.6 0.2,-2.8 0.2,0.9 0.2,0.1 0.2,-0.5 0.2,1.2 0.2,-2.9 0.2,0.9 0.2,-1.6 0.2,16 0.1,-0.8 0.2,8.8 0.2,4.2 0.2,-19.2 0.2,7.1 0.2,2.2 0.2,2.7 0.2,1.8 0.2,3.1 0.2,-5.1 0.2,-0.7 0.1,4.9 0.2,-9.3 0.2,0.9 0.2,3 0.2,-2.9 0.2,-8.6 0.2,13.3 0.2,8.5 0.2,-10.8 0.2,-7.9 0.1,-1.2 0.2,6.8 0.2,8.5 0.2,0.4 0.2,-6 0.2,-11.7 0.2,27.7 0.2,-3.6 0.2,-5.1 0.2,-12.4 0.2,15.1 0.1,-26.8 0.2,19 0.2,-17 0.2,13.1 0.2,-7.2 0.2,17.4 0.2,-6.6 0.2,4.4 0.2,-11.5 0.2,4 0.1,-3.2 0.2,-64.8 0.2,6.8 0.2,-2.7 0.2,-2 0.2,0.3 0.2,-0.1 0.2,-3.9 0.2,4.9 0.2,-3.5 0.2,3.2 0.1,67.7 0.2,-5.6 0.2,-2.2 0.2,0.9 0.2,-1.3 0.2,16.3 0.2,-8.8 0.2,-6.6 0.2,13.5 0.2,-26.2 0.1,11.5 0.2,7.7 0.2,-30.4 0.2,1.4 0.2,-2.9 0.2,1.8 0.2,-1.8 0.2,-1.9 0.2,1.6 0.2,2.4 0.2,-0.8 0.1,4.3 0.2,-1.6 0.2,11 0.2,14.4 0.2,-3.7 0.2,-0.4 0.2,-2.8 0.2,19.6 0.2,-22.3 0.2,10.1 0.2,6.7 0.1,-51.6 0.2,-4.2 0.2,-2.8 0.2,45.7 0.2,-0.5 0.2,-6.1 0.2,5.9 0.2,2.7 0.2,11.5 0.2,-7.1 0.1,8.2 0.2,-12.3 0.2,7 0.2,-17.3 0.2,10.7 0.2,-1.2 0.2,7.7 0.2,0 0.2,1.4 0.2,1.4 0.2,-4.9 0.1,11.1 0.2,-17.5 0.2,7.5 0.2,3.5 0.2,-6.3 0.2,-8.7 0.2,9.5 0.2,-0.4 0.2,-3.8 0.2,8.6 0.1,-3 0.2,4.8 0.2,2.1 0.2,-8.7 0.2,-4.5 0.2,9.3" fill="none" stroke="#bf8360" stroke-width="2.0" stroke-linejoin="round" clip-path="url(#cr2)"/>
<line x1="959.4" y1="460.4" x2="967.9" y2="460.4" stroke="#262626" stroke-width="2.6" />
<text x="946.5" y="468.4" font-size="24.5" text-anchor="end">0.0</text>
<line x1="959.4" y1="429.1" x2="967.9" y2="429.1" stroke="#262626" stroke-width="2.6" />
<text x="946.5" y="437.1" font-size="24.5" text-anchor="end">0.4</text>
<line x1="959.4" y1="397.8" x2="967.9" y2="397.8" stroke="#262626" stroke-width="2.6" />
<text x="946.5" y="405.8" font-size="24.5" text-anchor="end">0.8</text>
<rect x="959.4" y="381.7" width="361.8" height="94.4" fill="none" stroke="#262626" stroke-width="2.8" />
<text x="887" y="428.9" font-size="24.5" text-anchor="middle" transform="rotate(-90 887 428.9)">FRET</text>
<text x="959.4" y="506.7" font-size="24.5" text-anchor="middle">0</text>
<line x1="1049.8" y1="476.1" x2="1049.8" y2="468.6" stroke="#262626" stroke-width="2.6" />
<text x="1049.8" y="506.7" font-size="24.5" text-anchor="middle">100</text>
<line x1="1140.3" y1="476.1" x2="1140.3" y2="468.6" stroke="#262626" stroke-width="2.6" />
<text x="1140.3" y="506.7" font-size="24.5" text-anchor="middle">200</text>
<line x1="1230.8" y1="476.1" x2="1230.8" y2="468.6" stroke="#262626" stroke-width="2.6" />
<text x="1230.8" y="506.7" font-size="24.5" text-anchor="middle">300</text>
<text x="1321.2" y="506.7" font-size="24.5" text-anchor="middle">400</text>
<text x="1140" y="542.7" font-size="24.7" text-anchor="middle">Time (s)</text>
<polygon points="1347.2,145.8 1347.2,145.8 1347.2,144.3 1347.2,144.3 1347.2,142.9 1347.2,142.9 1347.2,141.4 1347.3,141.4 1347.3,139.9 1347.5,139.9 1347.5,138.5 1348,138.5 1348,137 1349.9,137 1349.9,135.5 1353.8,135.5 1353.8,134.1 1361.9,134.1 1361.9,132.6 1371,132.6 1371,131.1 1387.8,131.1 1387.8,129.6 1408.6,129.6 1408.6,128.2 1425.5,128.2 1425.5,126.7 1431.9,126.7 1431.9,125.2 1427.8,125.2 1427.8,123.8 1414.4,123.8 1414.4,122.3 1393.9,122.3 1393.9,120.8 1376.3,120.8 1376.3,119.4 1361.7,119.4 1361.7,117.9 1355.1,117.9 1355.1,116.4 1349.9,116.4 1349.9,115 1348.3,115 1348.3,113.5 1347.5,113.5 1347.5,112 1347.3,112 1347.3,110.6 1347.2,110.6 1347.2,109.1 1347.2,109.1 1347.2,107.6 1347.2,107.6 1347.2,106.1 1347.2,106.1 1347.2,104.7 1347.2,104.7 1347.2,103.2 1347.2,103.2 1347.2,101.7 1347.2,101.7 1347.2,100.3 1347.2,100.3 1347.2,98.8 1347.2,98.8 1347.2,97.3 1347.2,97.3 1347.2,95.9 1347.2,95.9 1347.2,94.4 1347.2,94.4 1347.2,92.9 1347.2,92.9 1347.2,91.5 1347.2,91.5 1347.2,90 1347.2,90 1347.2,88.5 1347.2,88.5 1347.2,87.1 1347.2,87.1 1347.2,85.6 1347.2,85.6 1347.2,84.1 1347.2,84.1 1347.2,82.6 1347.2,82.6 1347.2,81.2 1347.2,81.2 1347.2,79.7 1347.2,79.7 1347.2,78.2 1347.2,78.2 1347.2,76.8 1347.2,76.8 1347.2,75.3 1347.2,75.3 1347.2,73.8 1347.2,73.8 1347.2,72.4 1347.2,72.4 1347.2,70.9 1347.2,70.9 1347.2,69.4 1347.2,69.4 1347.2,68 1347.2,68 1347.2,66.5 1347.2,66.5 1347.2,65 1347.2,65 1347.2,63.6 1347.2,63.6 1347.2,62.1 1347.2,62.1 1347.2,60.6 1347.2,60.6 1347.2,59.1 1347.2,59.1 1347.2,57.7 1347.2,57.7 1347.2,56.2 1347.2,56.2 1347.2,54.7 1347.2,54.7 1347.2,53.3 1347.2,53.3 1347.2,51.8 1347.2,51.8" fill="#bf8360" stroke="none" stroke-width="0" />
<rect x="1345.8" y="51.8" width="90.4" height="94" fill="none" stroke="#262626" stroke-width="2.8" />
<polygon points="1347.2,365.7 1347.4,365.7 1347.4,364.2 1347.5,364.2 1347.5,362.8 1347.7,362.8 1347.7,361.3 1348,361.3 1348,359.8 1348.5,359.8 1348.5,358.4 1349.2,358.4 1349.2,356.9 1350.4,356.9 1350.4,355.4 1352.5,355.4 1352.5,354 1356.6,354 1356.6,352.5 1366.5,352.5 1366.5,351 1385.8,351 1385.8,349.5 1409.6,349.5 1409.6,348.1 1428.1,348.1 1428.1,346.6 1429.3,346.6 1429.3,345.1 1414.8,345.1 1414.8,343.7 1388.2,343.7 1388.2,342.2 1371,342.2 1371,340.7 1360,340.7 1360,339.3 1354,339.3 1354,337.8 1351.8,337.8 1351.8,336.3 1350.8,336.3 1350.8,334.9 1349.7,334.9 1349.7,333.4 1348.9,333.4 1348.9,331.9 1348.3,331.9 1348.3,330.5 1347.9,330.5 1347.9,329 1347.7,329 1347.7,327.5 1347.5,327.5 1347.5,326 1347.4,326 1347.4,324.6 1347.3,324.6 1347.3,323.1 1347.2,323.1 1347.2,321.6 1347.2,321.6 1347.2,320.2 1347.2,320.2 1347.2,318.7 1347.2,318.7 1347.2,317.2 1347.2,317.2 1347.2,315.8 1347.2,315.8 1347.2,314.3 1347.2,314.3 1347.2,312.8 1347.2,312.8 1347.2,311.4 1347.2,311.4 1347.2,309.9 1347.2,309.9 1347.2,308.4 1347.2,308.4 1347.2,307 1347.2,307 1347.2,305.5 1347.2,305.5 1347.2,304 1347.2,304 1347.2,302.5 1347.2,302.5 1347.2,301.1 1347.2,301.1 1347.2,299.6 1347.2,299.6 1347.2,298.1 1347.2,298.1 1347.2,296.7 1347.2,296.7 1347.2,295.2 1347.4,295.2 1347.4,293.7 1348.3,293.7 1348.3,292.3 1349.8,292.3 1349.8,290.8 1351.6,290.8 1351.6,289.3 1351.1,289.3 1351.1,287.9 1349.1,287.9 1349.1,286.4 1347.7,286.4 1347.7,284.9 1347.3,284.9 1347.3,283.5 1347.2,283.5 1347.2,282 1347.2,282 1347.2,280.5 1347.2,280.5 1347.2,279 1347.2,279 1347.2,277.6 1347.2,277.6 1347.2,276.1 1347.2,276.1 1347.2,274.6 1347.2,274.6 1347.2,273.2 1347.2,273.2 1347.2,271.7 1347.2,271.7" fill="#bf8360" stroke="none" stroke-width="0" />
<rect x="1345.8" y="271.7" width="90.4" height="94" fill="none" stroke="#262626" stroke-width="2.8" />
<polygon points="1347.2,476.1 1347.2,476.1 1347.2,474.6 1347.2,474.6 1347.2,473.2 1347.2,473.2 1347.2,471.7 1351.6,471.7 1351.6,470.2 1366.3,470.2 1366.3,468.8 1348.2,468.8 1348.2,467.3 1349.1,467.3 1349.1,465.8 1351.2,465.8 1351.2,464.4 1355.9,464.4 1355.9,462.9 1363.5,462.9 1363.5,461.4 1373.8,461.4 1373.8,459.9 1388.4,459.9 1388.4,458.5 1401.1,458.5 1401.1,457 1417.7,457 1417.7,455.5 1427.7,455.5 1427.7,454.1 1430.7,454.1 1430.7,452.6 1425.4,452.6 1425.4,451.1 1414.4,451.1 1414.4,449.7 1398.1,449.7 1398.1,448.2 1381.9,448.2 1381.9,446.7 1369.9,446.7 1369.9,445.3 1360.5,445.3 1360.5,443.8 1354.6,443.8 1354.6,442.3 1350.9,442.3 1350.9,440.9 1348.7,440.9 1348.7,439.4 1347.8,439.4 1347.8,437.9 1347.4,437.9 1347.4,436.4 1347.3,436.4 1347.3,435 1347.2,435 1347.2,433.5 1347.2,433.5 1347.2,432 1347.2,432 1347.2,430.6 1347.2,430.6 1347.2,429.1 1347.2,429.1 1347.2,427.6 1347.2,427.6 1347.2,426.2 1347.2,426.2 1347.2,424.7 1347.2,424.7 1347.2,423.2 1347.2,423.2 1347.2,421.8 1347.2,421.8 1347.2,420.3 1347.2,420.3 1347.2,418.8 1347.2,418.8 1347.2,417.4 1347.3,417.4 1347.3,415.9 1347.5,415.9 1347.5,414.4 1347.8,414.4 1347.8,412.9 1348.4,412.9 1348.4,411.5 1349.3,411.5 1349.3,410 1351,410 1351,408.5 1352.9,408.5 1352.9,407.1 1354.8,407.1 1354.8,405.6 1356.6,405.6 1356.6,404.1 1357.1,404.1 1357.1,402.7 1357.1,402.7 1357.1,401.2 1356.2,401.2 1356.2,399.7 1355.7,399.7 1355.7,398.3 1352.6,398.3 1352.6,396.8 1350.8,396.8 1350.8,395.3 1349.7,395.3 1349.7,393.9 1348.6,393.9 1348.6,392.4 1347.9,392.4 1347.9,390.9 1347.5,390.9 1347.5,389.4 1347.3,389.4 1347.3,388 1347.3,388 1347.3,386.5 1347.2,386.5 1347.2,385 1347.2,385 1347.2,383.6 1347.2,383.6 1347.2,382.1 1347.2,382.1" fill="#bf8360" stroke="none" stroke-width="0" />
<rect x="1345.8" y="381.7" width="90.4" height="94.4" fill="none" stroke="#262626" stroke-width="2.8" />
<text x="1265" y="220.4" font-size="25.2" text-anchor="middle">No transitions for [Mg<tspan dy="-10" font-size="17">2+</tspan><tspan dy="10">] &lt; 2.5 mM and [K</tspan><tspan dy="-10" font-size="17">+</tspan><tspan dy="10">] = 100 mM</tspan></text>
<polygon points="656.8,48.7 703.4,48.7 655.8,259.8" fill="url(#gK)" stroke="#262626" stroke-width="3.2" stroke-linejoin="miter"/>
<text x="666.8" y="56" font-size="25" transform="rotate(90 666.8 56)">K<tspan dy="-11.6" font-size="17">+</tspan></text>
<polygon points="626.2,163 626.2,477.1 672.9,477.1" fill="url(#gMg)" stroke="#262626" stroke-width="3.2" stroke-linejoin="miter"/>
<text x="637" y="404" font-size="23.5" transform="rotate(90 637 404)">Mg<tspan dy="-11" font-size="17.5">2+</tspan></text>
<circle cx="760.3" cy="83.1" r="33.4" fill="url(#gPurple)" stroke="#151515" stroke-width="2.2" />
<text x="760.3" y="90" font-size="21" text-anchor="middle">1 M</text>
<polygon points="796.5,132 807.5,143 796.5,154 785.5,143" fill="url(#gDiam)" stroke="#262626" stroke-width="1.8" />
<text x="765" y="140.1" font-size="19" text-anchor="end">100 µM</text>
<text x="765.5" y="163.1" font-size="19" text-anchor="end">EDTA</text>
<circle cx="760.8" cy="204.1" r="23.3" fill="url(#gPurple)" stroke="#151515" stroke-width="2.2" />
<text x="760.8" y="211" font-size="21" text-anchor="middle">100</text>
<circle cx="760.8" cy="301.8" r="23.1" fill="url(#gPurple)" stroke="#151515" stroke-width="2.2" />
<text x="760.8" y="308.7" font-size="21" text-anchor="middle">100</text>
<circle cx="760.8" cy="351" r="6.1" fill="url(#gGreen)" stroke="#151515" stroke-width="2.2" />
<text x="747" y="357.6" font-size="18.6" text-anchor="end">2.5</text>
<circle cx="760.8" cy="404.9" r="23.1" fill="url(#gPurple)" stroke="#151515" stroke-width="2.2" />
<text x="760.8" y="411.8" font-size="21" text-anchor="middle">100</text>
<circle cx="760.8" cy="463.3" r="16.5" fill="url(#gGreen)" stroke="#151515" stroke-width="2.2" />
<text x="760.8" y="469.6" font-size="19" text-anchor="middle">20</text>
<polygon points="1465.2,271.7 1481.9,271.7 1511,477.1 1465.2,477.1" fill="url(#gMg)" stroke="#262626" stroke-width="3.2" stroke-linejoin="miter"/>
<text x="1477" y="404.5" font-size="23.5" transform="rotate(90 1477 404.5)">Mg<tspan dy="-11" font-size="17.5">2+</tspan></text>
<circle cx="1582.4" cy="82.9" r="33.6" fill="url(#gPurple)" stroke="#151515" stroke-width="2.2" />
<text x="1582.4" y="93.3" font-size="20" text-anchor="middle">1 M</text>
<polygon points="1614.8,132 1625.8,143 1614.8,154 1603.8,143" fill="url(#gDiam)" stroke="#262626" stroke-width="1.8" />
<text x="1587.5" y="150.5" font-size="20.2" text-anchor="end">100 µM</text>
<text x="1587.5" y="175.7" font-size="20.4" text-anchor="end">EDTA</text>
<circle cx="1583" cy="302.3" r="23.1" fill="url(#gPurple)" stroke="#151515" stroke-width="2.2" />
<text x="1583" y="308.9" font-size="20" text-anchor="middle">100</text>
<circle cx="1583" cy="351.5" r="5.7" fill="url(#gGreen)" stroke="#151515" stroke-width="2.2" />
<text x="1568.3" y="358.5" font-size="17.5" text-anchor="end">2.5</text>
<circle cx="1581" cy="404.8" r="23.1" fill="url(#gPurple)" stroke="#151515" stroke-width="2.2" />
<text x="1581" y="411.4" font-size="20" text-anchor="middle">100</text>
<circle cx="1583" cy="463" r="16.5" fill="url(#gGreen)" stroke="#151515" stroke-width="2.2" />
<text x="1583" y="469.3" font-size="19" text-anchor="middle">20</text>
<rect x="12" y="598.3" width="846.5" height="60.5" fill="url(#gBox)" stroke="#080808" stroke-width="1.9" />
<rect x="970" y="598.3" width="655.8" height="60.4" fill="url(#gBox)" stroke="#080808" stroke-width="1.9" />
<text x="455.9" y="643.1" font-size="29" text-anchor="middle"><tspan font-weight="bold">Molecule</tspan> heterogeneity (EBS1* subspecies)</text>
<text x="1285.3" y="643.3" font-size="29" text-anchor="middle">Mg<tspan dy="-12" font-size="20">2+</tspan><tspan dy="12">-induced </tspan><tspan font-weight="bold">state</tspan> heterogeneity</text>
<text x="86.6" y="701.9" font-size="24.9"><tspan font-style="italic">k</tspan>-means clustering of mean dwell</text>
<text x="86.6" y="732.4" font-size="24.9">times ⟨<tspan font-style="italic">t</tspan><tspan font-size="18" dy="7">zero</tspan><tspan dy="-7">⟩ and ⟨</tspan><tspan font-style="italic">t</tspan><tspan font-size="18" dy="7">high</tspan><tspan dy="-7">⟩ per trace</tspan></text>
<text x="1038" y="701.6" font-size="24.9">Sort individual dwell times by length</text>
<text x="0" y="766" font-size="40" font-weight="bold">b</text>
<circle cx="123.6" cy="795.5" r="22.5" fill="url(#gPurple)" stroke="#151515" stroke-width="2.2" />
<text x="123.6" y="802.4" font-size="21" text-anchor="middle">100</text>
<circle cx="181.7" cy="795" r="13.7" fill="url(#gGreen)" stroke="#151515" stroke-width="2.2" />
<text x="181.7" y="800.9" font-size="18" text-anchor="middle">10</text>
<polygon points="247.5,772 273.8,772 273.8,800.5 288.2,800.5 260.2,824 232.3,800.5 247.5,800.5" fill="#c6c6c6" stroke="#262626" stroke-width="2" stroke-linejoin="miter"/>
<polygon points="102.3,983 419,983 239.7,1101 208,1101" fill="#d9d9d9" stroke="none" stroke-width="0" />
<circle cx="159.8" cy="856.5" r="4.5" fill="#4f7190" fill-opacity="0.72"/>
<circle cx="153.6" cy="861.4" r="4.5" fill="#4f7190" fill-opacity="0.72"/>
<circle cx="143.9" cy="871.9" r="4.5" fill="#4f7190" fill-opacity="0.72"/>
<circle cx="123.2" cy="904.2" r="4.5" fill="#4f7190" fill-opacity="0.72"/>
<circle cx="212.7" cy="870.4" r="4.5" fill="#4f7190" fill-opacity="0.72"/>
<circle cx="215.3" cy="883.9" r="4.5" fill="#4f7190" fill-opacity="0.72"/>
<circle cx="207.5" cy="908.5" r="4.5" fill="#4f7190" fill-opacity="0.72"/>
<circle cx="219.4" cy="921.2" r="4.5" fill="#4f7190" fill-opacity="0.72"/>
<circle cx="213.6" cy="938.7" r="4.5" fill="#4f7190" fill-opacity="0.72"/>
<circle cx="139.4" cy="940.6" r="4.5" fill="#4f7190" fill-opacity="0.72"/>
<circle cx="159.1" cy="936.1" r="4.5" fill="#4f7190" fill-opacity="0.72"/>
<circle cx="160.9" cy="951.6" r="4.5" fill="#4f7190" fill-opacity="0.72"/>
<circle cx="182.4" cy="952.0" r="4.5" fill="#4f7190" fill-opacity="0.72"/>
<circle cx="188.4" cy="961.0" r="4.5" fill="#4f7190" fill-opacity="0.72"/>
<circle cx="203.7" cy="954.5" r="4.5" fill="#4f7190" fill-opacity="0.72"/>
<circle cx="119.0" cy="971.6" r="4.5" fill="#4f7190" fill-opacity="0.72"/>
<circle cx="218.8" cy="971.6" r="4.5" fill="#4f7190" fill-opacity="0.72"/>
<circle cx="104.3" cy="946.8" r="4.5" fill="#4f7190" fill-opacity="0.72"/>
<circle cx="147.1" cy="919.1" r="4.5" fill="#4f7190" fill-opacity="0.72"/>
<circle cx="152.0" cy="919.7" r="4.5" fill="#4f7190" fill-opacity="0.72"/>
<circle cx="146.5" cy="926.8" r="4.5" fill="#4f7190" fill-opacity="0.72"/>
<circle cx="165.8" cy="928.3" r="4.5" fill="#4f7190" fill-opacity="0.72"/>
<circle cx="170.4" cy="935.2" r="4.5" fill="#4f7190" fill-opacity="0.72"/>
<circle cx="175.5" cy="930.7" r="4.5" fill="#4f7190" fill-opacity="0.72"/>
<circle cx="159.8" cy="889.4" r="4.5" fill="#4f7190" fill-opacity="0.72"/>
<circle cx="164.5" cy="884.2" r="4.5" fill="#4f7190" fill-opacity="0.72"/>
<circle cx="204.6" cy="885.5" r="4.5" fill="#4f7190" fill-opacity="0.72"/>
<circle cx="201.1" cy="896.5" r="4.5" fill="#4f7190" fill-opacity="0.72"/>
<circle cx="182.6" cy="861.0" r="4.5" fill="#4f7190" fill-opacity="0.72"/>
<circle cx="192.0" cy="859.0" r="4.5" fill="#4f7190" fill-opacity="0.72"/>
<circle cx="198.1" cy="862.3" r="4.5" fill="#4f7190" fill-opacity="0.72"/>
<circle cx="197.5" cy="864.8" r="4.5" fill="#4f7190" fill-opacity="0.72"/>
<circle cx="167.8" cy="868.1" r="4.5" fill="#4f7190" fill-opacity="0.72"/>
<circle cx="174.2" cy="871.3" r="4.5" fill="#4f7190" fill-opacity="0.72"/>
<circle cx="178.1" cy="876.5" r="4.5" fill="#4f7190" fill-opacity="0.72"/>
<circle cx="171.6" cy="877.8" r="4.5" fill="#4f7190" fill-opacity="0.72"/>
<circle cx="174.2" cy="882.9" r="4.5" fill="#4f7190" fill-opacity="0.72"/>
<circle cx="172.9" cy="887.4" r="4.5" fill="#4f7190" fill-opacity="0.72"/>
<circle cx="193.6" cy="873.9" r="4.5" fill="#4f7190" fill-opacity="0.72"/>
<circle cx="198.1" cy="873.9" r="4.5" fill="#4f7190" fill-opacity="0.72"/>
<circle cx="169.1" cy="900.3" r="4.5" fill="#4f7190" fill-opacity="0.72"/>
<circle cx="172.3" cy="897.8" r="4.5" fill="#4f7190" fill-opacity="0.72"/>
<circle cx="179.4" cy="897.8" r="4.5" fill="#4f7190" fill-opacity="0.72"/>
<circle cx="187.8" cy="899.7" r="4.5" fill="#4f7190" fill-opacity="0.72"/>
<circle cx="193.6" cy="900.3" r="4.5" fill="#4f7190" fill-opacity="0.72"/>
<circle cx="176.2" cy="904.9" r="4.5" fill="#4f7190" fill-opacity="0.72"/>
<circle cx="184.6" cy="906.1" r="4.5" fill="#4f7190" fill-opacity="0.72"/>
<circle cx="192.3" cy="907.4" r="4.5" fill="#4f7190" fill-opacity="0.72"/>
<circle cx="174.2" cy="911.3" r="4.5" fill="#4f7190" fill-opacity="0.72"/>
<circle cx="170.4" cy="917.1" r="4.5" fill="#4f7190" fill-opacity="0.72"/>
<circle cx="179.4" cy="917.8" r="4.5" fill="#4f7190" fill-opacity="0.72"/>
<circle cx="187.1" cy="915.2" r="4.5" fill="#4f7190" fill-opacity="0.72"/>
<circle cx="194.9" cy="914.5" r="4.5" fill="#4f7190" fill-opacity="0.72"/>
<circle cx="180.7" cy="921.6" r="4.5" fill="#4f7190" fill-opacity="0.72"/>
<circle cx="188.4" cy="920.3" r="4.5" fill="#4f7190" fill-opacity="0.72"/>
<circle cx="196.8" cy="922.3" r="4.5" fill="#4f7190" fill-opacity="0.72"/>
<circle cx="187.1" cy="930.0" r="4.5" fill="#4f7190" fill-opacity="0.72"/>
<circle cx="191.0" cy="933.3" r="4.5" fill="#4f7190" fill-opacity="0.72"/>
<circle cx="201.3" cy="930.0" r="4.5" fill="#4f7190" fill-opacity="0.72"/>
<circle cx="192.3" cy="937.1" r="4.5" fill="#4f7190" fill-opacity="0.72"/>
<circle cx="196.2" cy="940.4" r="4.5" fill="#4f7190" fill-opacity="0.72"/>
<circle cx="189.1" cy="942.9" r="4.5" fill="#4f7190" fill-opacity="0.72"/>
<circle cx="198.8" cy="942.3" r="4.5" fill="#4f7190" fill-opacity="0.72"/>
<circle cx="194.9" cy="946.8" r="4.5" fill="#4f7190" fill-opacity="0.72"/>
<circle cx="200.0" cy="939.7" r="4.5" fill="#4f7190" fill-opacity="0.72"/>
<circle cx="190.4" cy="870.0" r="4.5" fill="#4f7190" fill-opacity="0.72"/>
<circle cx="198.8" cy="866.1" r="4.5" fill="#4f7190" fill-opacity="0.72"/>
<circle cx="200.0" cy="979.7" r="4.5" fill="#4f7190" fill-opacity="0.72"/>
<circle cx="176.8" cy="902.3" r="4.5" fill="#4f7190" fill-opacity="0.72"/>
<circle cx="184.6" cy="912.6" r="4.5" fill="#4f7190" fill-opacity="0.72"/>
<circle cx="191.0" cy="902.3" r="4.5" fill="#4f7190" fill-opacity="0.72"/>
<circle cx="182.0" cy="910.0" r="4.5" fill="#4f7190" fill-opacity="0.72"/>
<circle cx="173.6" cy="920.3" r="4.5" fill="#4f7190" fill-opacity="0.72"/>
<circle cx="193.6" cy="920.3" r="4.5" fill="#4f7190" fill-opacity="0.72"/>
<circle cx="189.7" cy="925.5" r="4.5" fill="#4f7190" fill-opacity="0.72"/>
<circle cx="170.4" cy="880.3" r="4.5" fill="#4f7190" fill-opacity="0.72"/>
<circle cx="176.8" cy="880.3" r="4.5" fill="#4f7190" fill-opacity="0.72"/>
<circle cx="188.4" cy="879.0" r="4.5" fill="#4f7190" fill-opacity="0.72"/>
<circle cx="194.9" cy="880.3" r="4.5" fill="#4f7190" fill-opacity="0.72"/>
<circle cx="185.8" cy="892.0" r="4.5" fill="#4f7190" fill-opacity="0.72"/>
<circle cx="192.3" cy="894.5" r="4.5" fill="#4f7190" fill-opacity="0.72"/>
<circle cx="197.5" cy="892.0" r="4.5" fill="#4f7190" fill-opacity="0.72"/>
<circle cx="176.8" cy="890.7" r="4.5" fill="#4f7190" fill-opacity="0.72"/>
<circle cx="196.2" cy="910.0" r="4.5" fill="#4f7190" fill-opacity="0.72"/>
<circle cx="167.8" cy="913.9" r="4.5" fill="#4f7190" fill-opacity="0.72"/>
<circle cx="184.6" cy="919.1" r="4.5" fill="#4f7190" fill-opacity="0.72"/>
<circle cx="191.3" cy="887.7" r="8.3" fill="#1f4360" stroke="#111" stroke-width="1.3" />
<polygon points="331.8,889.4 341.3,887.0 353.1,888.2 360.3,891.8 365.0,901.3 368.6,904.8 373.3,910.8 376.9,913.1 381.7,923.8 385.8,934.5 388.8,944.0 387.6,952.3 384.0,958.3 374.5,961.8 367.4,960.7 357.9,958.3 350.8,960.7 343.6,957.1 338.9,952.3 334.1,945.2 329.4,939.3 325.8,932.1 322.3,925.0 329.4,920.3 329.4,913.1 331.8,906.0 331.8,896.5" fill="#bf8360" fill-opacity="0.95"/>
<circle cx="331.8" cy="890.3" r="4.5" fill="#bf8360" fill-opacity="0.72"/>
<circle cx="342.6" cy="886.4" r="4.5" fill="#bf8360" fill-opacity="0.72"/>
<circle cx="348.0" cy="888.2" r="4.5" fill="#bf8360" fill-opacity="0.72"/>
<circle cx="353.6" cy="887.0" r="4.5" fill="#bf8360" fill-opacity="0.72"/>
<circle cx="358.9" cy="891.4" r="4.5" fill="#bf8360" fill-opacity="0.72"/>
<circle cx="365.8" cy="900.5" r="4.5" fill="#bf8360" fill-opacity="0.72"/>
<circle cx="368.6" cy="904.3" r="4.5" fill="#bf8360" fill-opacity="0.72"/>
<circle cx="374.4" cy="912.1" r="4.5" fill="#bf8360" fill-opacity="0.72"/>
<circle cx="376.6" cy="914.6" r="4.5" fill="#bf8360" fill-opacity="0.72"/>
<circle cx="378.0" cy="919.4" r="4.5" fill="#bf8360" fill-opacity="0.72"/>
<circle cx="382.8" cy="922.8" r="4.5" fill="#bf8360" fill-opacity="0.72"/>
<circle cx="384.3" cy="929.4" r="4.5" fill="#bf8360" fill-opacity="0.72"/>
<circle cx="387.2" cy="933.7" r="4.5" fill="#bf8360" fill-opacity="0.72"/>
<circle cx="388.9" cy="945.2" r="4.5" fill="#bf8360" fill-opacity="0.72"/>
<circle cx="388.0" cy="951.8" r="4.5" fill="#bf8360" fill-opacity="0.72"/>
<circle cx="382.8" cy="959.6" r="4.5" fill="#bf8360" fill-opacity="0.72"/>
<circle cx="374.4" cy="963.3" r="4.5" fill="#bf8360" fill-opacity="0.72"/>
<circle cx="366.3" cy="961.6" r="4.5" fill="#bf8360" fill-opacity="0.72"/>
<circle cx="358.8" cy="959.5" r="4.5" fill="#bf8360" fill-opacity="0.72"/>
<circle cx="349.3" cy="960.3" r="4.5" fill="#bf8360" fill-opacity="0.72"/>
<circle cx="342.3" cy="957.8" r="4.5" fill="#bf8360" fill-opacity="0.72"/>
<circle cx="338.5" cy="953.7" r="4.5" fill="#bf8360" fill-opacity="0.72"/>
<circle cx="333.8" cy="946.0" r="4.5" fill="#bf8360" fill-opacity="0.72"/>
<circle cx="330.5" cy="938.5" r="4.5" fill="#bf8360" fill-opacity="0.72"/>
<circle cx="326.0" cy="933.5" r="4.5" fill="#bf8360" fill-opacity="0.72"/>
<circle cx="322.3" cy="924.6" r="4.5" fill="#bf8360" fill-opacity="0.72"/>
<circle cx="328.7" cy="921.1" r="4.5" fill="#bf8360" fill-opacity="0.72"/>
<circle cx="328.5" cy="913.5" r="4.5" fill="#bf8360" fill-opacity="0.72"/>
<circle cx="331.9" cy="906.2" r="4.5" fill="#bf8360" fill-opacity="0.72"/>
<circle cx="330.7" cy="897.0" r="4.5" fill="#bf8360" fill-opacity="0.72"/>
<circle cx="318.1" cy="872.4" r="4.5" fill="#bf8360" fill-opacity="0.72"/>
<circle cx="370.1" cy="867.2" r="4.5" fill="#bf8360" fill-opacity="0.72"/>
<circle cx="317.2" cy="899.5" r="4.5" fill="#bf8360" fill-opacity="0.72"/>
<circle cx="291.4" cy="937.6" r="4.5" fill="#bf8360" fill-opacity="0.72"/>
<circle cx="318.1" cy="944.6" r="4.5" fill="#bf8360" fill-opacity="0.72"/>
<circle cx="318.1" cy="950.0" r="4.5" fill="#bf8360" fill-opacity="0.72"/>
<circle cx="331.8" cy="949.4" r="4.5" fill="#bf8360" fill-opacity="0.72"/>
<circle cx="331.2" cy="954.7" r="4.5" fill="#bf8360" fill-opacity="0.72"/>
<circle cx="336.5" cy="961.3" r="4.5" fill="#bf8360" fill-opacity="0.72"/>
<circle cx="353.1" cy="961.3" r="4.5" fill="#bf8360" fill-opacity="0.72"/>
<circle cx="362.6" cy="963.6" r="4.5" fill="#bf8360" fill-opacity="0.72"/>
<circle cx="371.6" cy="971.3" r="4.5" fill="#bf8360" fill-opacity="0.72"/>
<circle cx="395.9" cy="934.5" r="4.5" fill="#bf8360" fill-opacity="0.72"/>
<circle cx="401.8" cy="941.7" r="4.5" fill="#bf8360" fill-opacity="0.72"/>
<circle cx="398.3" cy="954.5" r="4.5" fill="#bf8360" fill-opacity="0.72"/>
<circle cx="382.8" cy="917.3" r="4.5" fill="#bf8360" fill-opacity="0.72"/>
<circle cx="372.1" cy="900.1" r="4.5" fill="#bf8360" fill-opacity="0.72"/>
<circle cx="372.7" cy="890.0" r="4.5" fill="#bf8360" fill-opacity="0.72"/>
<circle cx="367.4" cy="881.7" r="4.5" fill="#bf8360" fill-opacity="0.72"/>
<circle cx="365.0" cy="888.2" r="4.5" fill="#bf8360" fill-opacity="0.72"/>
<circle cx="357.9" cy="889.4" r="4.5" fill="#bf8360" fill-opacity="0.72"/>
<circle cx="334.1" cy="891.2" r="4.5" fill="#bf8360" fill-opacity="0.72"/>
<circle cx="344.8" cy="890.6" r="4.5" fill="#bf8360" fill-opacity="0.72"/>
<circle cx="324.6" cy="925.0" r="4.5" fill="#bf8360" fill-opacity="0.72"/>
<circle cx="328.2" cy="934.5" r="4.5" fill="#bf8360" fill-opacity="0.72"/>
<circle cx="388.8" cy="939.3" r="4.5" fill="#bf8360" fill-opacity="0.72"/>
<circle cx="384.0" cy="957.1" r="4.5" fill="#bf8360" fill-opacity="0.72"/>
<circle cx="374.5" cy="959.5" r="4.5" fill="#bf8360" fill-opacity="0.72"/>
<circle cx="378.1" cy="920.3" r="4.5" fill="#bf8360" fill-opacity="0.72"/>
<circle cx="371.0" cy="912.0" r="4.5" fill="#bf8360" fill-opacity="0.72"/>
<circle cx="336.5" cy="901.3" r="4.5" fill="#bf8360" fill-opacity="0.72"/>
<circle cx="334.1" cy="904.8" r="4.5" fill="#bf8360" fill-opacity="0.72"/>
<circle cx="333.0" cy="916.7" r="4.5" fill="#bf8360" fill-opacity="0.72"/>
<circle cx="390.0" cy="948.8" r="4.5" fill="#bf8360" fill-opacity="0.72"/>
<circle cx="382.8" cy="953.5" r="4.5" fill="#bf8360" fill-opacity="0.72"/>
<circle cx="346.0" cy="957.7" r="4.5" fill="#bf8360" fill-opacity="0.72"/>
<circle cx="341.3" cy="954.7" r="4.5" fill="#bf8360" fill-opacity="0.72"/>
<circle cx="363.5" cy="929.5" r="8.6" fill="#8c4f2b" stroke="#111" stroke-width="1.3" />
<line x1="102.6" y1="982.3" x2="110.6" y2="982.3" stroke="#262626" stroke-width="2.4" />
<line x1="102.6" y1="971.7" x2="107.1" y2="971.7" stroke="#333" stroke-width="1.3" />
<line x1="102.6" y1="965.4" x2="107.1" y2="965.4" stroke="#333" stroke-width="1.3" />
<line x1="102.6" y1="961" x2="107.1" y2="961" stroke="#333" stroke-width="1.3" />
<line x1="102.6" y1="957.6" x2="107.1" y2="957.6" stroke="#333" stroke-width="1.3" />
<line x1="102.6" y1="954.8" x2="107.1" y2="954.8" stroke="#333" stroke-width="1.3" />
<line x1="102.6" y1="952.4" x2="107.1" y2="952.4" stroke="#333" stroke-width="1.3" />
<line x1="102.6" y1="950.4" x2="107.1" y2="950.4" stroke="#333" stroke-width="1.3" />
<line x1="102.6" y1="948.6" x2="107.1" y2="948.6" stroke="#333" stroke-width="1.3" />
<line x1="102.6" y1="947" x2="107.1" y2="947" stroke="#333" stroke-width="1.3" />
<line x1="102.6" y1="936.3" x2="107.1" y2="936.3" stroke="#333" stroke-width="1.3" />
<line x1="102.6" y1="930.1" x2="107.1" y2="930.1" stroke="#333" stroke-width="1.3" />
<line x1="102.6" y1="925.7" x2="107.1" y2="925.7" stroke="#333" stroke-width="1.3" />
<line x1="102.6" y1="922.3" x2="107.1" y2="922.3" stroke="#333" stroke-width="1.3" />
<line x1="102.6" y1="919.5" x2="107.1" y2="919.5" stroke="#333" stroke-width="1.3" />
<line x1="102.6" y1="917.1" x2="107.1" y2="917.1" stroke="#333" stroke-width="1.3" />
<line x1="102.6" y1="915.1" x2="107.1" y2="915.1" stroke="#333" stroke-width="1.3" />
<line x1="102.6" y1="913.3" x2="107.1" y2="913.3" stroke="#333" stroke-width="1.3" />
<line x1="102.6" y1="911.6" x2="110.6" y2="911.6" stroke="#262626" stroke-width="2.4" />
<line x1="102.6" y1="901" x2="107.1" y2="901" stroke="#333" stroke-width="1.3" />
<line x1="102.6" y1="894.8" x2="107.1" y2="894.8" stroke="#333" stroke-width="1.3" />
<line x1="102.6" y1="890.4" x2="107.1" y2="890.4" stroke="#333" stroke-width="1.3" />
<line x1="102.6" y1="887" x2="107.1" y2="887" stroke="#333" stroke-width="1.3" />
<line x1="102.6" y1="884.2" x2="107.1" y2="884.2" stroke="#333" stroke-width="1.3" />
<line x1="102.6" y1="881.8" x2="107.1" y2="881.8" stroke="#333" stroke-width="1.3" />
<line x1="102.6" y1="879.7" x2="107.1" y2="879.7" stroke="#333" stroke-width="1.3" />
<line x1="102.6" y1="877.9" x2="107.1" y2="877.9" stroke="#333" stroke-width="1.3" />
<line x1="102.6" y1="876.3" x2="107.1" y2="876.3" stroke="#333" stroke-width="1.3" />
<line x1="102.6" y1="865.7" x2="107.1" y2="865.7" stroke="#333" stroke-width="1.3" />
<line x1="102.6" y1="859.5" x2="107.1" y2="859.5" stroke="#333" stroke-width="1.3" />
<line x1="102.6" y1="855.1" x2="107.1" y2="855.1" stroke="#333" stroke-width="1.3" />
<line x1="102.6" y1="851.6" x2="107.1" y2="851.6" stroke="#333" stroke-width="1.3" />
<line x1="102.6" y1="848.8" x2="107.1" y2="848.8" stroke="#333" stroke-width="1.3" />
<line x1="102.6" y1="846.5" x2="107.1" y2="846.5" stroke="#333" stroke-width="1.3" />
<line x1="102.6" y1="844.4" x2="107.1" y2="844.4" stroke="#333" stroke-width="1.3" />
<line x1="102.6" y1="842.6" x2="107.1" y2="842.6" stroke="#333" stroke-width="1.3" />
<line x1="102.6" y1="841" x2="110.6" y2="841" stroke="#262626" stroke-width="2.4" />
<line x1="102.6" y1="982.3" x2="102.6" y2="974.3" stroke="#262626" stroke-width="2.4" />
<line x1="112.9" y1="982.3" x2="112.9" y2="977.8" stroke="#333" stroke-width="1.3" />
<line x1="118.9" y1="982.3" x2="118.9" y2="977.8" stroke="#333" stroke-width="1.3" />
<line x1="123.2" y1="982.3" x2="123.2" y2="977.8" stroke="#333" stroke-width="1.3" />
<line x1="126.5" y1="982.3" x2="126.5" y2="977.8" stroke="#333" stroke-width="1.3" />
<line x1="129.2" y1="982.3" x2="129.2" y2="977.8" stroke="#333" stroke-width="1.3" />
<line x1="131.5" y1="982.3" x2="131.5" y2="977.8" stroke="#333" stroke-width="1.3" />
<line x1="133.5" y1="982.3" x2="133.5" y2="977.8" stroke="#333" stroke-width="1.3" />
<line x1="135.2" y1="982.3" x2="135.2" y2="977.8" stroke="#333" stroke-width="1.3" />
<line x1="136.8" y1="982.3" x2="136.8" y2="977.8" stroke="#333" stroke-width="1.3" />
<line x1="147.1" y1="982.3" x2="147.1" y2="977.8" stroke="#333" stroke-width="1.3" />
<line x1="153.1" y1="982.3" x2="153.1" y2="977.8" stroke="#333" stroke-width="1.3" />
<line x1="157.4" y1="982.3" x2="157.4" y2="977.8" stroke="#333" stroke-width="1.3" />
<line x1="160.7" y1="982.3" x2="160.7" y2="977.8" stroke="#333" stroke-width="1.3" />
<line x1="163.4" y1="982.3" x2="163.4" y2="977.8" stroke="#333" stroke-width="1.3" />
<line x1="165.7" y1="982.3" x2="165.7" y2="977.8" stroke="#333" stroke-width="1.3" />
<line x1="167.7" y1="982.3" x2="167.7" y2="977.8" stroke="#333" stroke-width="1.3" />
<line x1="169.4" y1="982.3" x2="169.4" y2="977.8" stroke="#333" stroke-width="1.3" />
<line x1="171" y1="982.3" x2="171" y2="974.3" stroke="#262626" stroke-width="2.4" />
<line x1="181.3" y1="982.3" x2="181.3" y2="977.8" stroke="#333" stroke-width="1.3" />
<line x1="187.3" y1="982.3" x2="187.3" y2="977.8" stroke="#333" stroke-width="1.3" />
<line x1="191.6" y1="982.3" x2="191.6" y2="977.8" stroke="#333" stroke-width="1.3" />
<line x1="194.9" y1="982.3" x2="194.9" y2="977.8" stroke="#333" stroke-width="1.3" />
<line x1="197.6" y1="982.3" x2="197.6" y2="977.8" stroke="#333" stroke-width="1.3" />
<line x1="199.9" y1="982.3" x2="199.9" y2="977.8" stroke="#333" stroke-width="1.3" />
<line x1="201.9" y1="982.3" x2="201.9" y2="977.8" stroke="#333" stroke-width="1.3" />
<line x1="203.6" y1="982.3" x2="203.6" y2="977.8" stroke="#333" stroke-width="1.3" />
<line x1="205.2" y1="982.3" x2="205.2" y2="977.8" stroke="#333" stroke-width="1.3" />
<line x1="215.5" y1="982.3" x2="215.5" y2="977.8" stroke="#333" stroke-width="1.3" />
<line x1="221.5" y1="982.3" x2="221.5" y2="977.8" stroke="#333" stroke-width="1.3" />
<line x1="225.8" y1="982.3" x2="225.8" y2="977.8" stroke="#333" stroke-width="1.3" />
<line x1="229.1" y1="982.3" x2="229.1" y2="977.8" stroke="#333" stroke-width="1.3" />
<line x1="231.8" y1="982.3" x2="231.8" y2="977.8" stroke="#333" stroke-width="1.3" />
<line x1="234.1" y1="982.3" x2="234.1" y2="977.8" stroke="#333" stroke-width="1.3" />
<line x1="236.1" y1="982.3" x2="236.1" y2="977.8" stroke="#333" stroke-width="1.3" />
<line x1="237.8" y1="982.3" x2="237.8" y2="977.8" stroke="#333" stroke-width="1.3" />
<line x1="239.4" y1="982.3" x2="239.4" y2="974.3" stroke="#262626" stroke-width="2.4" />
<rect x="102.6" y="841" width="136.8" height="141.3" fill="none" stroke="#262626" stroke-width="2.8" />
<text x="102.6" y="1016.2" font-size="23.5" text-anchor="middle">10<tspan dy="-12" font-size="17.5">−1</tspan></text>
<text x="171" y="1016.2" font-size="23.5" text-anchor="middle">10<tspan dy="-12" font-size="17.5">1</tspan></text>
<text x="239.4" y="1016.2" font-size="23.5" text-anchor="middle">10<tspan dy="-12" font-size="17.5">3</tspan></text>
<line x1="280.7" y1="982.3" x2="288.7" y2="982.3" stroke="#262626" stroke-width="2.4" />
<line x1="280.7" y1="971.7" x2="285.2" y2="971.7" stroke="#333" stroke-width="1.3" />
<line x1="280.7" y1="965.4" x2="285.2" y2="965.4" stroke="#333" stroke-width="1.3" />
<line x1="280.7" y1="961" x2="285.2" y2="961" stroke="#333" stroke-width="1.3" />
<line x1="280.7" y1="957.6" x2="285.2" y2="957.6" stroke="#333" stroke-width="1.3" />
<line x1="280.7" y1="954.8" x2="285.2" y2="954.8" stroke="#333" stroke-width="1.3" />
<line x1="280.7" y1="952.4" x2="285.2" y2="952.4" stroke="#333" stroke-width="1.3" />
<line x1="280.7" y1="950.4" x2="285.2" y2="950.4" stroke="#333" stroke-width="1.3" />
<line x1="280.7" y1="948.6" x2="285.2" y2="948.6" stroke="#333" stroke-width="1.3" />
<line x1="280.7" y1="947" x2="285.2" y2="947" stroke="#333" stroke-width="1.3" />
<line x1="280.7" y1="936.3" x2="285.2" y2="936.3" stroke="#333" stroke-width="1.3" />
<line x1="280.7" y1="930.1" x2="285.2" y2="930.1" stroke="#333" stroke-width="1.3" />
<line x1="280.7" y1="925.7" x2="285.2" y2="925.7" stroke="#333" stroke-width="1.3" />
<line x1="280.7" y1="922.3" x2="285.2" y2="922.3" stroke="#333" stroke-width="1.3" />
<line x1="280.7" y1="919.5" x2="285.2" y2="919.5" stroke="#333" stroke-width="1.3" />
<line x1="280.7" y1="917.1" x2="285.2" y2="917.1" stroke="#333" stroke-width="1.3" />
<line x1="280.7" y1="915.1" x2="285.2" y2="915.1" stroke="#333" stroke-width="1.3" />
<line x1="280.7" y1="913.3" x2="285.2" y2="913.3" stroke="#333" stroke-width="1.3" />
<line x1="280.7" y1="911.6" x2="288.7" y2="911.6" stroke="#262626" stroke-width="2.4" />
<line x1="280.7" y1="901" x2="285.2" y2="901" stroke="#333" stroke-width="1.3" />
<line x1="280.7" y1="894.8" x2="285.2" y2="894.8" stroke="#333" stroke-width="1.3" />
<line x1="280.7" y1="890.4" x2="285.2" y2="890.4" stroke="#333" stroke-width="1.3" />
<line x1="280.7" y1="887" x2="285.2" y2="887" stroke="#333" stroke-width="1.3" />
<line x1="280.7" y1="884.2" x2="285.2" y2="884.2" stroke="#333" stroke-width="1.3" />
<line x1="280.7" y1="881.8" x2="285.2" y2="881.8" stroke="#333" stroke-width="1.3" />
<line x1="280.7" y1="879.7" x2="285.2" y2="879.7" stroke="#333" stroke-width="1.3" />
<line x1="280.7" y1="877.9" x2="285.2" y2="877.9" stroke="#333" stroke-width="1.3" />
<line x1="280.7" y1="876.3" x2="285.2" y2="876.3" stroke="#333" stroke-width="1.3" />
<line x1="280.7" y1="865.7" x2="285.2" y2="865.7" stroke="#333" stroke-width="1.3" />
<line x1="280.7" y1="859.5" x2="285.2" y2="859.5" stroke="#333" stroke-width="1.3" />
<line x1="280.7" y1="855.1" x2="285.2" y2="855.1" stroke="#333" stroke-width="1.3" />
<line x1="280.7" y1="851.6" x2="285.2" y2="851.6" stroke="#333" stroke-width="1.3" />
<line x1="280.7" y1="848.8" x2="285.2" y2="848.8" stroke="#333" stroke-width="1.3" />
<line x1="280.7" y1="846.5" x2="285.2" y2="846.5" stroke="#333" stroke-width="1.3" />
<line x1="280.7" y1="844.4" x2="285.2" y2="844.4" stroke="#333" stroke-width="1.3" />
<line x1="280.7" y1="842.6" x2="285.2" y2="842.6" stroke="#333" stroke-width="1.3" />
<line x1="280.7" y1="841" x2="288.7" y2="841" stroke="#262626" stroke-width="2.4" />
<line x1="280.7" y1="982.3" x2="280.7" y2="974.3" stroke="#262626" stroke-width="2.4" />
<line x1="291" y1="982.3" x2="291" y2="977.8" stroke="#333" stroke-width="1.3" />
<line x1="297.1" y1="982.3" x2="297.1" y2="977.8" stroke="#333" stroke-width="1.3" />
<line x1="301.4" y1="982.3" x2="301.4" y2="977.8" stroke="#333" stroke-width="1.3" />
<line x1="304.7" y1="982.3" x2="304.7" y2="977.8" stroke="#333" stroke-width="1.3" />
<line x1="307.4" y1="982.3" x2="307.4" y2="977.8" stroke="#333" stroke-width="1.3" />
<line x1="309.8" y1="982.3" x2="309.8" y2="977.8" stroke="#333" stroke-width="1.3" />
<line x1="311.7" y1="982.3" x2="311.7" y2="977.8" stroke="#333" stroke-width="1.3" />
<line x1="313.5" y1="982.3" x2="313.5" y2="977.8" stroke="#333" stroke-width="1.3" />
<line x1="315.1" y1="982.3" x2="315.1" y2="977.8" stroke="#333" stroke-width="1.3" />
<line x1="325.4" y1="982.3" x2="325.4" y2="977.8" stroke="#333" stroke-width="1.3" />
<line x1="331.5" y1="982.3" x2="331.5" y2="977.8" stroke="#333" stroke-width="1.3" />
<line x1="335.8" y1="982.3" x2="335.8" y2="977.8" stroke="#333" stroke-width="1.3" />
<line x1="339.1" y1="982.3" x2="339.1" y2="977.8" stroke="#333" stroke-width="1.3" />
<line x1="341.8" y1="982.3" x2="341.8" y2="977.8" stroke="#333" stroke-width="1.3" />
<line x1="344.1" y1="982.3" x2="344.1" y2="977.8" stroke="#333" stroke-width="1.3" />
<line x1="346.1" y1="982.3" x2="346.1" y2="977.8" stroke="#333" stroke-width="1.3" />
<line x1="347.9" y1="982.3" x2="347.9" y2="977.8" stroke="#333" stroke-width="1.3" />
<line x1="349.4" y1="982.3" x2="349.4" y2="974.3" stroke="#262626" stroke-width="2.4" />
<line x1="359.8" y1="982.3" x2="359.8" y2="977.8" stroke="#333" stroke-width="1.3" />
<line x1="365.9" y1="982.3" x2="365.9" y2="977.8" stroke="#333" stroke-width="1.3" />
<line x1="370.1" y1="982.3" x2="370.1" y2="977.8" stroke="#333" stroke-width="1.3" />
<line x1="373.5" y1="982.3" x2="373.5" y2="977.8" stroke="#333" stroke-width="1.3" />
<line x1="376.2" y1="982.3" x2="376.2" y2="977.8" stroke="#333" stroke-width="1.3" />
<line x1="378.5" y1="982.3" x2="378.5" y2="977.8" stroke="#333" stroke-width="1.3" />
<line x1="380.5" y1="982.3" x2="380.5" y2="977.8" stroke="#333" stroke-width="1.3" />
<line x1="382.3" y1="982.3" x2="382.3" y2="977.8" stroke="#333" stroke-width="1.3" />
<line x1="383.8" y1="982.3" x2="383.8" y2="977.8" stroke="#333" stroke-width="1.3" />
<line x1="394.2" y1="982.3" x2="394.2" y2="977.8" stroke="#333" stroke-width="1.3" />
<line x1="400.2" y1="982.3" x2="400.2" y2="977.8" stroke="#333" stroke-width="1.3" />
<line x1="404.5" y1="982.3" x2="404.5" y2="977.8" stroke="#333" stroke-width="1.3" />
<line x1="407.9" y1="982.3" x2="407.9" y2="977.8" stroke="#333" stroke-width="1.3" />
<line x1="410.6" y1="982.3" x2="410.6" y2="977.8" stroke="#333" stroke-width="1.3" />
<line x1="412.9" y1="982.3" x2="412.9" y2="977.8" stroke="#333" stroke-width="1.3" />
<line x1="414.9" y1="982.3" x2="414.9" y2="977.8" stroke="#333" stroke-width="1.3" />
<line x1="416.6" y1="982.3" x2="416.6" y2="977.8" stroke="#333" stroke-width="1.3" />
<line x1="418.2" y1="982.3" x2="418.2" y2="974.3" stroke="#262626" stroke-width="2.4" />
<rect x="280.7" y="841" width="137.5" height="141.3" fill="none" stroke="#262626" stroke-width="2.8" />
<text x="280.7" y="1016.2" font-size="23.5" text-anchor="middle">10<tspan dy="-12" font-size="17.5">−1</tspan></text>
<text x="349.4" y="1016.2" font-size="23.5" text-anchor="middle">10<tspan dy="-12" font-size="17.5">1</tspan></text>
<text x="418.2" y="1016.2" font-size="23.5" text-anchor="middle">10<tspan dy="-12" font-size="17.5">3</tspan></text>
<text x="88" y="853.5" font-size="23.5" text-anchor="end">10<tspan dy="-12" font-size="17.5">3</tspan></text>
<text x="88" y="923.6" font-size="23.5" text-anchor="end">10<tspan dy="-12" font-size="17.5">1</tspan></text>
<text x="88" y="993.7" font-size="23.5" text-anchor="end">10<tspan dy="-12" font-size="17.5">−1</tspan></text>
<text x="170" y="1052.2" font-size="24.5" text-anchor="middle">⟨<tspan font-style="italic">t</tspan><tspan font-size="17" dy="6">zero</tspan><tspan dy="-6">⟩ (s)</tspan></text>
<text x="348.8" y="1052.2" font-size="24.5" text-anchor="middle">⟨<tspan font-style="italic">t</tspan><tspan font-size="17" dy="6">zero</tspan><tspan dy="-6">⟩ (s)</tspan></text>
<text x="27" y="912.5" font-size="24.5" text-anchor="middle" transform="rotate(-90 27 912.5)">⟨<tspan font-style="italic">t</tspan><tspan font-size="17" dy="6">high</tspan><tspan dy="-6">⟩ (s)</tspan></text>
<text x="0" y="1093" font-size="40" font-weight="bold">c</text>
<circle cx="221.4" cy="1118.3" r="11.3" fill="#4f7190" fill-opacity="0.8" stroke="#1a1a1a" stroke-width="1.4"/>
<circle cx="257.1" cy="1119.4" r="11.3" fill="#6a8aa6" fill-opacity="0.85" stroke="#1a1a1a" stroke-width="1.4"/>
<circle cx="275.8" cy="1127.4" r="11.3" fill="#8aa3ba" fill-opacity="0.85" stroke="#1a1a1a" stroke-width="1.4"/>
<circle cx="306.1" cy="1131.9" r="11.3" fill="#a3b6c8" fill-opacity="0.85" stroke="#1a1a1a" stroke-width="1.4"/>
<circle cx="287.9" cy="1140.8" r="11.3" fill="#c2cfdb" fill-opacity="0.85" stroke="#1a1a1a" stroke-width="1.4"/>
<circle cx="341.2" cy="1155.6" r="11.3" fill="#dfe6ec" fill-opacity="0.9" stroke="#1a1a1a" stroke-width="1.4"/>
<circle cx="224.1" cy="1126.5" r="11.3" fill="#7190ab" fill-opacity="0.75" stroke="#1a1a1a" stroke-width="3.6"/>
<rect x="200" y="1150.6" width="16.6" height="16" fill="#4f7190" stroke="#1a1a1a" stroke-width="1.4" />
<circle cx="166.1" cy="1222.8" r="11.3" fill="#c58a69" fill-opacity="0.85" stroke="#1a1a1a" stroke-width="1.4"/>
<circle cx="179.5" cy="1224.6" r="11.3" fill="#cf9f83" fill-opacity="0.85" stroke="#1a1a1a" stroke-width="1.4"/>
<circle cx="190.2" cy="1222.8" r="11.3" fill="#dcb39b" fill-opacity="0.8" stroke="#1a1a1a" stroke-width="3.6"/>
<circle cx="231.2" cy="1232.6" r="11.3" fill="#e3c4b1" fill-opacity="0.85" stroke="#1a1a1a" stroke-width="1.4"/>
<circle cx="267.1" cy="1247.5" r="11.3" fill="#efdccf" fill-opacity="0.85" stroke="#1a1a1a" stroke-width="1.4"/>
<rect x="343.2" y="1289" width="16.4" height="16" fill="#bf8360" stroke="#1a1a1a" stroke-width="1.4" />
<path d="M201.8,1117.6 L240.0,1122.5 L280.0,1130.5 L320.0,1141.0 L350.0,1151.5 L372.9,1162.2" fill="none" stroke="#4f7190" stroke-width="3.6" stroke-dasharray="14,7"/>
<path d="M135.8,1216.0 L170.0,1221.5 L200.0,1227.5 L230.0,1235.5 L260.0,1246.0 L290.0,1260.0 L315.0,1275.0 L335.0,1292.0 L351.0,1311.3" fill="none" stroke="#bf8360" stroke-width="3.6" stroke-dasharray="14,7"/>
<line x1="122.5" y1="1344.5" x2="130.5" y2="1344.5" stroke="#262626" stroke-width="2.2" />
<line x1="122.5" y1="1320.2" x2="127.5" y2="1320.2" stroke="#262626" stroke-width="1.6" />
<line x1="122.5" y1="1306" x2="127.5" y2="1306" stroke="#262626" stroke-width="1.6" />
<line x1="122.5" y1="1296" x2="127.5" y2="1296" stroke="#262626" stroke-width="1.6" />
<line x1="122.5" y1="1288.2" x2="127.5" y2="1288.2" stroke="#262626" stroke-width="1.6" />
<line x1="122.5" y1="1281.8" x2="127.5" y2="1281.8" stroke="#262626" stroke-width="1.6" />
<line x1="122.5" y1="1276.4" x2="127.5" y2="1276.4" stroke="#262626" stroke-width="1.6" />
<line x1="122.5" y1="1271.7" x2="127.5" y2="1271.7" stroke="#262626" stroke-width="1.6" />
<line x1="122.5" y1="1267.6" x2="127.5" y2="1267.6" stroke="#262626" stroke-width="1.6" />
<line x1="122.5" y1="1263.9" x2="130.5" y2="1263.9" stroke="#262626" stroke-width="2.2" />
<line x1="122.5" y1="1239.6" x2="127.5" y2="1239.6" stroke="#262626" stroke-width="1.6" />
<line x1="122.5" y1="1225.4" x2="127.5" y2="1225.4" stroke="#262626" stroke-width="1.6" />
<line x1="122.5" y1="1215.4" x2="127.5" y2="1215.4" stroke="#262626" stroke-width="1.6" />
<line x1="122.5" y1="1207.6" x2="127.5" y2="1207.6" stroke="#262626" stroke-width="1.6" />
<line x1="122.5" y1="1201.2" x2="127.5" y2="1201.2" stroke="#262626" stroke-width="1.6" />
<line x1="122.5" y1="1195.8" x2="127.5" y2="1195.8" stroke="#262626" stroke-width="1.6" />
<line x1="122.5" y1="1191.1" x2="127.5" y2="1191.1" stroke="#262626" stroke-width="1.6" />
<line x1="122.5" y1="1187" x2="127.5" y2="1187" stroke="#262626" stroke-width="1.6" />
<line x1="122.5" y1="1183.3" x2="130.5" y2="1183.3" stroke="#262626" stroke-width="2.2" />
<line x1="122.5" y1="1159" x2="127.5" y2="1159" stroke="#262626" stroke-width="1.6" />
<line x1="122.5" y1="1144.8" x2="127.5" y2="1144.8" stroke="#262626" stroke-width="1.6" />
<line x1="122.5" y1="1134.8" x2="127.5" y2="1134.8" stroke="#262626" stroke-width="1.6" />
<line x1="122.5" y1="1127" x2="127.5" y2="1127" stroke="#262626" stroke-width="1.6" />
<line x1="122.5" y1="1120.6" x2="127.5" y2="1120.6" stroke="#262626" stroke-width="1.6" />
<line x1="122.5" y1="1115.2" x2="127.5" y2="1115.2" stroke="#262626" stroke-width="1.6" />
<line x1="122.5" y1="1110.5" x2="127.5" y2="1110.5" stroke="#262626" stroke-width="1.6" />
<line x1="122.5" y1="1106.4" x2="127.5" y2="1106.4" stroke="#262626" stroke-width="1.6" />
<text x="122.5" y="1376" font-size="24.8" text-anchor="middle">0</text>
<line x1="175.1" y1="1344.5" x2="175.1" y2="1337" stroke="#262626" stroke-width="2.4" />
<text x="175.1" y="1376" font-size="24.8" text-anchor="middle">20</text>
<line x1="227.7" y1="1344.5" x2="227.7" y2="1337" stroke="#262626" stroke-width="2.4" />
<text x="227.7" y="1376" font-size="24.8" text-anchor="middle">40</text>
<line x1="280.3" y1="1344.5" x2="280.3" y2="1337" stroke="#262626" stroke-width="2.4" />
<text x="280.3" y="1376" font-size="24.8" text-anchor="middle">60</text>
<line x1="332.9" y1="1344.5" x2="332.9" y2="1337" stroke="#262626" stroke-width="2.4" />
<text x="332.9" y="1376" font-size="24.8" text-anchor="middle">80</text>
<text x="385.5" y="1376" font-size="24.8" text-anchor="middle">100</text>
<rect x="122.5" y="1100.7" width="263" height="243.8" fill="none" stroke="#262626" stroke-width="2.8" />
<text x="110.5" y="1110.5" font-size="23.5" text-anchor="end">10<tspan dy="-12" font-size="17.5">2</tspan></text>
<text x="110.5" y="1191.1" font-size="23.5" text-anchor="end">10<tspan dy="-12" font-size="17.5">1</tspan></text>
<text x="110.5" y="1271.7" font-size="23.5" text-anchor="end">10<tspan dy="-12" font-size="17.5">0</tspan></text>
<text x="110.5" y="1352.3" font-size="23.5" text-anchor="end">10<tspan dy="-12" font-size="17.5">−1</tspan></text>
<text x="253" y="1413.8" font-size="24.5" text-anchor="middle">⟨<tspan font-style="italic">t</tspan><tspan font-size="17" dy="6">zero</tspan><tspan dy="-6">⟩</tspan><tspan font-size="17" dy="6">ens</tspan><tspan dy="-6"> (s)</tspan></text>
<text x="44.5" y="1226.9" font-size="25.3" text-anchor="middle" transform="rotate(-90 44.5 1226.9)">⟨<tspan font-style="italic">t</tspan><tspan font-size="17" dy="6">high</tspan><tspan dy="-6">⟩</tspan><tspan font-size="17" dy="6">ens</tspan><tspan dy="-6"> (s)</tspan></text>
<text x="394.3" y="1135.7" font-size="24" fill="#333">1M K<tspan dy="-11" font-size="17">+</tspan></text>
<rect x="419.3" y="1152.9" width="17.8" height="17.8" fill="#4f7190" stroke="#1a1a1a" stroke-width="1.4" />
<rect x="419.3" y="1178.9" width="17.8" height="17.8" fill="#bf8360" stroke="#1a1a1a" stroke-width="1.4" />
<text x="400" y="1246.3" font-size="24" fill="#333">Mg<tspan dy="-11" font-size="17">2+</tspan></text>
<polygon points="400,1272.3 455,1255 455,1272.3" fill="#a0a0a0" stroke="#262626" stroke-width="1.6" />
<circle cx="410.9" cy="1297.3" r="12.0" fill="#e0e6ec" fill-opacity="1" stroke="#1a1a1a" stroke-width="1.8"/>
<circle cx="426.7" cy="1297.3" r="12.0" fill="#a3b6c8" fill-opacity="1" stroke="#1a1a1a" stroke-width="1.8"/>
<circle cx="442.5" cy="1297.3" r="12.0" fill="#4f7190" fill-opacity="1" stroke="#1a1a1a" stroke-width="1.8"/>
<circle cx="410.9" cy="1330.0" r="12.0" fill="#e9d3c6" fill-opacity="1" stroke="#1a1a1a" stroke-width="1.8"/>
<circle cx="426.7" cy="1330.0" r="12.0" fill="#c9a48b" fill-opacity="1" stroke="#1a1a1a" stroke-width="1.8"/>
<circle cx="442.5" cy="1330.0" r="12.0" fill="#c38a68" fill-opacity="1" stroke="#1a1a1a" stroke-width="1.8"/>
<text x="500" y="765" font-size="40" font-weight="bold">d</text>
<g clip-path="url(#cd)"><path d="M640.1,962.2 C642.4,961.7 648.5,960.1 653.5,958.9 C658.6,957.6 665.3,956.6 670.3,954.7 C675.4,952.7 679.5,950.5 683.7,947.1 C687.9,943.8 691.6,939.2 695.5,934.6 C699.4,930.0 703.7,924.8 707.2,919.5 C710.7,914.2 713.4,908.4 716.4,902.7 C719.5,897.0 722.5,891.8 725.7,885.1 C728.9,878.4 732.7,869.6 735.7,862.4 C738.8,855.3 741.6,849.0 744.1,842.3 C746.6,835.6 748.3,828.1 750.8,822.2 C753.3,816.3 756.3,811.8 759.2,807.1 C762.2,802.3 765.2,797.2 768.4,793.7 C771.7,790.2 775.3,788.6 778.5,786.1 C781.7,783.6 785.1,782.1 787.7,778.6 C790.4,775.1 792.1,768.9 794.4,765.2 C796.8,761.4 798.9,757.9 802.0,755.9 C805.1,753.9 808.3,754.0 812.9,753.1 C817.5,752.2 822.7,751.2 829.7,750.4 C836.6,749.6 849.0,748.9 854.8,748.4 C860.7,747.9 863.2,747.7 864.9,747.5" fill="none" stroke="#819cb4" stroke-width="10.5" stroke-linecap="round" stroke-opacity="0.9"/><circle cx="647.7" cy="961.4" r="5.8" fill="#819cb4" fill-opacity="0.75"/><circle cx="660.3" cy="958.0" r="5.8" fill="#819cb4" fill-opacity="0.75"/><circle cx="672.0" cy="960.1" r="5.8" fill="#819cb4" fill-opacity="0.75"/><circle cx="801.1" cy="756.8" r="5.8" fill="#819cb4" fill-opacity="0.75"/><circle cx="789.4" cy="766.8" r="5.8" fill="#819cb4" fill-opacity="0.75"/><circle cx="639.5" cy="960.9" r="5" fill="#819cb4" fill-opacity="0.55"/><circle cx="642.9" cy="963.2" r="5" fill="#819cb4" fill-opacity="0.55"/><circle cx="649.5" cy="961.0" r="5" fill="#819cb4" fill-opacity="0.55"/><circle cx="653.8" cy="958.3" r="5" fill="#819cb4" fill-opacity="0.55"/><circle cx="658.9" cy="958.2" r="5" fill="#819cb4" fill-opacity="0.55"/><circle cx="663.3" cy="957.6" r="5" fill="#819cb4" fill-opacity="0.55"/><circle cx="667.8" cy="955.4" r="5" fill="#819cb4" fill-opacity="0.55"/><circle cx="668.6" cy="952.9" r="5" fill="#819cb4" fill-opacity="0.55"/><circle cx="675.9" cy="950.5" r="5" fill="#819cb4" fill-opacity="0.55"/><circle cx="680.0" cy="950.3" r="5" fill="#819cb4" fill-opacity="0.55"/><circle cx="681.5" cy="948.6" r="5" fill="#819cb4" fill-opacity="0.55"/><circle cx="684.3" cy="945.8" r="5" fill="#819cb4" fill-opacity="0.55"/><circle cx="691.3" cy="939.4" r="5" fill="#819cb4" fill-opacity="0.55"/><circle cx="693.7" cy="938.9" r="5" fill="#819cb4" fill-opacity="0.55"/><circle cx="693.6" cy="935.4" r="5" fill="#819cb4" fill-opacity="0.55"/><circle cx="696.5" cy="932.9" r="5" fill="#819cb4" fill-opacity="0.55"/><circle cx="702.3" cy="929.4" r="5" fill="#819cb4" fill-opacity="0.55"/><circle cx="702.1" cy="922.3" r="5" fill="#819cb4" fill-opacity="0.55"/><circle cx="707.8" cy="920.0" r="5" fill="#819cb4" fill-opacity="0.55"/><circle cx="707.9" cy="917.2" r="5" fill="#819cb4" fill-opacity="0.55"/><circle cx="713.6" cy="910.1" r="5" fill="#819cb4" fill-opacity="0.55"/><circle cx="712.4" cy="907.7" r="5" fill="#819cb4" fill-opacity="0.55"/><circle cx="716.0" cy="903.5" r="5" fill="#819cb4" fill-opacity="0.55"/><circle cx="718.7" cy="897.8" r="5" fill="#819cb4" fill-opacity="0.55"/><circle cx="718.7" cy="892.1" r="5" fill="#819cb4" fill-opacity="0.55"/><circle cx="723.2" cy="890.6" r="5" fill="#819cb4" fill-opacity="0.55"/><circle cx="725.3" cy="886.3" r="5" fill="#819cb4" fill-opacity="0.55"/><circle cx="727.5" cy="883.2" r="5" fill="#819cb4" fill-opacity="0.55"/><circle cx="729.8" cy="876.6" r="5" fill="#819cb4" fill-opacity="0.55"/><circle cx="728.9" cy="871.6" r="5" fill="#819cb4" fill-opacity="0.55"/><circle cx="730.1" cy="871.8" r="5" fill="#819cb4" fill-opacity="0.55"/><circle cx="735.9" cy="867.5" r="5" fill="#819cb4" fill-opacity="0.55"/><circle cx="733.8" cy="863.2" r="5" fill="#819cb4" fill-opacity="0.55"/><circle cx="735.5" cy="860.4" r="5" fill="#819cb4" fill-opacity="0.55"/><circle cx="739.9" cy="855.6" r="5" fill="#819cb4" fill-opacity="0.55"/><circle cx="741.3" cy="850.0" r="5" fill="#819cb4" fill-opacity="0.55"/><circle cx="744.2" cy="848.6" r="5" fill="#819cb4" fill-opacity="0.55"/><circle cx="742.8" cy="842.0" r="5" fill="#819cb4" fill-opacity="0.55"/><circle cx="746.6" cy="839.2" r="5" fill="#819cb4" fill-opacity="0.55"/><circle cx="746.4" cy="834.0" r="5" fill="#819cb4" fill-opacity="0.55"/><circle cx="750.5" cy="829.1" r="5" fill="#819cb4" fill-opacity="0.55"/><circle cx="748.0" cy="827.1" r="5" fill="#819cb4" fill-opacity="0.55"/><circle cx="749.7" cy="824.2" r="5" fill="#819cb4" fill-opacity="0.55"/><circle cx="752.1" cy="820.5" r="5" fill="#819cb4" fill-opacity="0.55"/><circle cx="754.4" cy="816.6" r="5" fill="#819cb4" fill-opacity="0.55"/><circle cx="758.4" cy="812.0" r="5" fill="#819cb4" fill-opacity="0.55"/><circle cx="757.8" cy="805.4" r="5" fill="#819cb4" fill-opacity="0.55"/><circle cx="759.2" cy="802.1" r="5" fill="#819cb4" fill-opacity="0.55"/><circle cx="764.7" cy="798.2" r="5" fill="#819cb4" fill-opacity="0.55"/><circle cx="764.8" cy="797.4" r="5" fill="#819cb4" fill-opacity="0.55"/><circle cx="766.7" cy="792.8" r="5" fill="#819cb4" fill-opacity="0.55"/><circle cx="770.4" cy="792.0" r="5" fill="#819cb4" fill-opacity="0.55"/><circle cx="773.2" cy="791.1" r="5" fill="#819cb4" fill-opacity="0.55"/><circle cx="779.0" cy="787.2" r="5" fill="#819cb4" fill-opacity="0.55"/><circle cx="783.4" cy="782.3" r="5" fill="#819cb4" fill-opacity="0.55"/><circle cx="790.1" cy="780.5" r="5" fill="#819cb4" fill-opacity="0.55"/><circle cx="791.6" cy="771.8" r="5" fill="#819cb4" fill-opacity="0.55"/><circle cx="792.6" cy="771.8" r="5" fill="#819cb4" fill-opacity="0.55"/><circle cx="795.1" cy="765.2" r="5" fill="#819cb4" fill-opacity="0.55"/><circle cx="799.0" cy="758.9" r="5" fill="#819cb4" fill-opacity="0.55"/><circle cx="803.1" cy="757.4" r="5" fill="#819cb4" fill-opacity="0.55"/><circle cx="805.3" cy="754.6" r="5" fill="#819cb4" fill-opacity="0.55"/><circle cx="813.4" cy="752.3" r="5" fill="#819cb4" fill-opacity="0.55"/><circle cx="818.0" cy="754.5" r="5" fill="#819cb4" fill-opacity="0.55"/><circle cx="823.3" cy="750.8" r="5" fill="#819cb4" fill-opacity="0.55"/><circle cx="823.7" cy="752.8" r="5" fill="#819cb4" fill-opacity="0.55"/><circle cx="830.2" cy="752.0" r="5" fill="#819cb4" fill-opacity="0.55"/><circle cx="835.7" cy="749.0" r="5" fill="#819cb4" fill-opacity="0.55"/><circle cx="838.5" cy="748.7" r="5" fill="#819cb4" fill-opacity="0.55"/><circle cx="843.7" cy="750.4" r="5" fill="#819cb4" fill-opacity="0.55"/><circle cx="845.1" cy="749.1" r="5" fill="#819cb4" fill-opacity="0.55"/><circle cx="851.1" cy="747.4" r="5" fill="#819cb4" fill-opacity="0.55"/><circle cx="853.2" cy="748.3" r="5" fill="#819cb4" fill-opacity="0.55"/><circle cx="857.7" cy="747.9" r="5" fill="#819cb4" fill-opacity="0.55"/><path d="M616.6,965.1 C620.0,964.8 630.6,964.0 636.8,963.1 C642.9,962.2 648.0,961.1 653.5,959.7 C659.1,958.3 665.3,956.6 670.3,954.7 C675.4,952.7 679.5,951.1 683.7,948.0 C687.9,944.9 691.6,940.7 695.5,936.2 C699.4,931.8 703.6,926.5 707.2,921.1 C710.9,915.8 713.9,910.5 717.3,904.4 C720.6,898.2 724.0,891.5 727.3,884.2 C730.7,877.0 734.3,868.0 737.4,860.8 C740.5,853.5 743.3,846.8 745.8,840.6 C748.3,834.5 750.0,829.5 752.5,823.9 C755.0,818.3 757.8,812.4 760.9,807.1 C764.0,801.8 767.6,796.5 771.0,792.0 C774.3,787.5 777.7,783.9 781.0,780.3 C784.4,776.6 788.3,773.3 791.1,770.2 C793.9,767.1 795.6,764.2 797.8,761.8 C800.0,759.4 802.0,757.5 804.5,755.9 C807.0,754.4 808.7,753.6 812.9,752.6 C817.1,751.6 822.7,750.6 829.7,750.1 C836.6,749.5 846.2,749.4 854.8,749.2 C863.5,749.1 877.2,749.2 881.7,749.2" fill="none" stroke="#1f4360" stroke-width="3.3"/><path d="M645.2,968.4 C649.4,968.3 661.9,968.1 670.3,967.8 C678.7,967.4 688.2,967.0 695.5,966.4 C702.7,965.9 708.1,965.4 713.9,964.4 C719.8,963.4 725.7,962.2 730.7,960.6 C735.7,958.9 740.2,957.5 744.1,954.7 C748.0,951.9 751.1,948.3 754.2,943.8 C757.3,939.3 760.1,934.1 762.6,927.9 C765.1,921.6 767.3,913.6 769.3,906.1 C771.2,898.5 772.7,890.4 774.3,882.6 C775.9,874.7 777.5,866.9 779.0,859.1 C780.5,851.3 782.1,843.4 783.5,835.6 C784.9,827.8 785.9,819.7 787.4,812.1 C788.9,804.6 790.5,797.3 792.4,790.3 C794.4,783.3 796.6,775.8 799.1,770.2 C801.7,764.6 804.2,760.0 807.9,756.8 C811.5,753.6 816.2,752.2 821.3,750.9 C826.3,749.6 832.5,749.2 838.0,748.7 C843.6,748.2 852.0,748.2 854.8,748.1" fill="none" stroke="#c4875f" stroke-width="11.5" stroke-linecap="round" stroke-opacity="0.95"/><circle cx="648.5" cy="968.4" r="5.8" fill="#d6a487" fill-opacity="0.8"/><circle cx="678.7" cy="966.8" r="5.8" fill="#d6a487" fill-opacity="0.8"/><circle cx="692.1" cy="966.8" r="5.8" fill="#d6a487" fill-opacity="0.8"/><circle cx="700.5" cy="966.4" r="5.8" fill="#d6a487" fill-opacity="0.8"/><circle cx="843.1" cy="747.5" r="5.8" fill="#d6a487" fill-opacity="0.8"/><circle cx="826.3" cy="750.1" r="5.8" fill="#d6a487" fill-opacity="0.8"/><path d="M616.6,968.1 C625.6,968.2 655.8,968.4 670.3,968.4 C684.9,968.4 694.1,968.4 703.9,968.1 C713.6,967.8 722.0,967.6 729.0,966.4 C736.0,965.3 741.0,964.2 745.8,961.4 C750.5,958.6 754.2,954.4 757.5,949.7 C760.9,944.9 763.4,939.9 765.9,932.9 C768.4,925.9 770.7,916.1 772.6,907.7 C774.6,899.3 776.1,890.7 777.7,882.6 C779.2,874.5 780.5,866.9 781.9,859.1 C783.3,851.3 784.8,843.4 786.1,835.6 C787.3,827.8 788.0,819.7 789.4,812.1 C790.8,804.6 792.5,797.3 794.4,790.3 C796.4,783.3 798.6,775.5 801.1,770.2 C803.7,764.9 806.2,761.4 809.5,758.5 C812.9,755.5 816.5,753.9 821.3,752.6 C826.0,751.2 828.0,750.9 838.0,750.4 C848.1,749.9 874.4,749.8 881.7,749.7" fill="none" stroke="#8f4f2b" stroke-width="3.3"/><circle cx="849.8" cy="747.5" r="5.8" fill="#819cb4" fill-opacity="0.75"/><circle cx="861.5" cy="746.7" r="5.8" fill="#819cb4" fill-opacity="0.75"/></g>
<line x1="725.7" y1="859.1" x2="744.1" y2="859.1" stroke="#1a1a1a" stroke-width="2" />
<line x1="725.7" y1="854.5" x2="725.7" y2="863.7" stroke="#1a1a1a" stroke-width="2" />
<circle cx="736.9" cy="859.1" r="5.3" fill="#1f4360" stroke="#111" stroke-width="1.3" />
<circle cx="782.2" cy="859.1" r="5.3" fill="#8f4f2b" stroke="#111" stroke-width="1.3" />
<polygon points="748.8,857.2 757.5,857.2 757.5,854 773.5,859.1 757.5,864.2 757.5,861 748.8,861" fill="#444" stroke="none" stroke-width="0" />
<text x="802" y="868.3" font-size="25.5"><tspan font-style="italic">K</tspan><tspan font-size="17.5" dy="7.5">d</tspan></text>
<line x1="619" y1="968.4" x2="627" y2="968.4" stroke="#262626" stroke-width="2.4" />
<text x="605.5" y="976.2" font-size="24.8" text-anchor="end">0.00</text>
<line x1="619" y1="913.6" x2="627" y2="913.6" stroke="#262626" stroke-width="2.4" />
<text x="605.5" y="921.4" font-size="24.8" text-anchor="end">0.25</text>
<line x1="619" y1="858.8" x2="627" y2="858.8" stroke="#262626" stroke-width="2.4" />
<text x="605.5" y="866.5" font-size="24.8" text-anchor="end">0.50</text>
<line x1="619" y1="803.9" x2="627" y2="803.9" stroke="#262626" stroke-width="2.4" />
<text x="605.5" y="811.7" font-size="24.8" text-anchor="end">0.75</text>
<line x1="619" y1="749.1" x2="627" y2="749.1" stroke="#262626" stroke-width="2.4" />
<text x="605.5" y="756.9" font-size="24.8" text-anchor="end">1.00</text>
<text x="619" y="1016.8" font-size="24" text-anchor="middle">10<tspan dy="-12" font-size="17.5">−10</tspan></text>
<line x1="705.7" y1="979.5" x2="705.7" y2="972" stroke="#262626" stroke-width="2.4" />
<text x="705.7" y="1016.8" font-size="24" text-anchor="middle">10<tspan dy="-12" font-size="17.5">−8</tspan></text>
<line x1="792.3" y1="979.5" x2="792.3" y2="972" stroke="#262626" stroke-width="2.4" />
<text x="792.3" y="1016.8" font-size="24" text-anchor="middle">10<tspan dy="-12" font-size="17.5">−6</tspan></text>
<text x="879" y="1016.8" font-size="24" text-anchor="middle">10<tspan dy="-12" font-size="17.5">−4</tspan></text>
<rect x="619" y="738" width="260" height="241.5" fill="none" stroke="#262626" stroke-width="2.8" />
<text x="750.3" y="1050" font-size="25" text-anchor="middle"><tspan font-style="italic">K</tspan><tspan font-size="18" dy="6">d,<tspan font-style="italic">n</tspan></tspan></text>
<text x="521.5" y="858" font-size="25.8" text-anchor="middle" transform="rotate(-90 521.5 858)"><tspan font-style="italic">P</tspan>(<tspan font-style="italic">K</tspan><tspan font-size="18" dy="6">d, <tspan font-style="italic">n</tspan></tspan><tspan dy="-6">)</tspan></text>
<text x="500.6" y="1094" font-size="40" font-weight="bold">e</text>
<text x="543.1" y="1093.4" font-size="24.7" fill="#3a3a3a">1 M K<tspan dy="-11" font-size="17">+</tspan></text>
<polygon points="625.2,1075.7 641.4,1075.7 633.3,1093.9" fill="#111" stroke="none" stroke-width="0" />
<line x1="649.9" y1="1103.8" x2="649.9" y2="1342.1" stroke="#1a1a1a" stroke-width="2.3" stroke-dasharray="7,4"/>
<path d="M654.4,1169.7 L668.0,1179.0 L682.1,1186.5 L708.6,1197.4 L735.0,1207.0 L761.7,1215.4 L790.0,1220.0 L815.0,1223.8 L840.0,1227.0 L868.4,1229.6" fill="none" stroke="#a0532c" stroke-width="3.6"/>
<path d="M654.4,1249.7 L668.0,1255.5 L682.1,1261.4 L708.6,1269.3 L735.0,1277.0 L761.7,1284.1 L790.0,1290.0 L815.0,1294.3 L840.0,1297.0 L868.4,1299.8" fill="none" stroke="#1f4360" stroke-width="3.6"/>
<line x1="634.8" y1="1129.2" x2="634.8" y2="1156.5" stroke="#1a1a1a" stroke-width="2.2" />
<line x1="630.2" y1="1129.2" x2="639.4" y2="1129.2" stroke="#1a1a1a" stroke-width="2.2" />
<line x1="630.2" y1="1156.5" x2="639.4" y2="1156.5" stroke="#1a1a1a" stroke-width="2.2" />
<line x1="655.7" y1="1219.9" x2="655.7" y2="1279.3" stroke="#1a1a1a" stroke-width="2.2" />
<line x1="651.1" y1="1219.9" x2="660.3" y2="1219.9" stroke="#1a1a1a" stroke-width="2.2" />
<line x1="651.1" y1="1279.3" x2="660.3" y2="1279.3" stroke="#1a1a1a" stroke-width="2.2" />
<line x1="661.2" y1="1258.2" x2="661.2" y2="1292.6" stroke="#1a1a1a" stroke-width="2.2" />
<line x1="656.6" y1="1258.2" x2="665.8" y2="1258.2" stroke="#1a1a1a" stroke-width="2.2" />
<line x1="656.6" y1="1292.6" x2="665.8" y2="1292.6" stroke="#1a1a1a" stroke-width="2.2" />
<line x1="682.1" y1="1251.6" x2="682.1" y2="1275.4" stroke="#1a1a1a" stroke-width="2.2" />
<line x1="677.5" y1="1251.6" x2="686.7" y2="1251.6" stroke="#1a1a1a" stroke-width="2.2" />
<line x1="677.5" y1="1275.4" x2="686.7" y2="1275.4" stroke="#1a1a1a" stroke-width="2.2" />
<line x1="708.6" y1="1258.7" x2="708.6" y2="1285.2" stroke="#1a1a1a" stroke-width="2.2" />
<line x1="704" y1="1258.7" x2="713.2" y2="1258.7" stroke="#1a1a1a" stroke-width="2.2" />
<line x1="704" y1="1285.2" x2="713.2" y2="1285.2" stroke="#1a1a1a" stroke-width="2.2" />
<line x1="761.7" y1="1273.5" x2="761.7" y2="1300.5" stroke="#1a1a1a" stroke-width="2.2" />
<line x1="757.1" y1="1273.5" x2="766.3" y2="1273.5" stroke="#1a1a1a" stroke-width="2.2" />
<line x1="757.1" y1="1300.5" x2="766.3" y2="1300.5" stroke="#1a1a1a" stroke-width="2.2" />
<line x1="815" y1="1278.8" x2="815" y2="1311" stroke="#1a1a1a" stroke-width="2.2" />
<line x1="810.4" y1="1278.8" x2="819.6" y2="1278.8" stroke="#1a1a1a" stroke-width="2.2" />
<line x1="810.4" y1="1311" x2="819.6" y2="1311" stroke="#1a1a1a" stroke-width="2.2" />
<line x1="868.4" y1="1288.6" x2="868.4" y2="1321.6" stroke="#1a1a1a" stroke-width="2.2" />
<line x1="863.8" y1="1288.6" x2="873" y2="1288.6" stroke="#1a1a1a" stroke-width="2.2" />
<line x1="863.8" y1="1321.6" x2="873" y2="1321.6" stroke="#1a1a1a" stroke-width="2.2" />
<circle cx="634.8" cy="1139.3" r="5.9" fill="#bf8360" stroke="#1a1a1a" stroke-width="1.4" />
<circle cx="682.1" cy="1186.8" r="5.9" fill="#bf8360" stroke="#1a1a1a" stroke-width="1.4" />
<circle cx="708.6" cy="1197.4" r="5.9" fill="#bf8360" stroke="#1a1a1a" stroke-width="1.4" />
<circle cx="761.7" cy="1215.4" r="5.9" fill="#bf8360" stroke="#1a1a1a" stroke-width="1.4" />
<circle cx="815" cy="1223.3" r="5.9" fill="#bf8360" stroke="#1a1a1a" stroke-width="1.4" />
<circle cx="868.4" cy="1229.9" r="5.9" fill="#bf8360" stroke="#1a1a1a" stroke-width="1.4" />
<circle cx="634.8" cy="1280.7" r="5.9" fill="#4f7190" stroke="#1a1a1a" stroke-width="1.4" />
<circle cx="655.7" cy="1235.7" r="5.9" fill="#4f7190" stroke="#1a1a1a" stroke-width="1.4" />
<circle cx="661.2" cy="1270.9" r="5.9" fill="#4f7190" stroke="#1a1a1a" stroke-width="1.4" />
<circle cx="682.1" cy="1261.4" r="5.9" fill="#4f7190" stroke="#1a1a1a" stroke-width="1.4" />
<circle cx="708.6" cy="1269.3" r="5.9" fill="#4f7190" stroke="#1a1a1a" stroke-width="1.4" />
<circle cx="761.7" cy="1284.1" r="5.9" fill="#4f7190" stroke="#1a1a1a" stroke-width="1.4" />
<circle cx="815" cy="1290.4" r="5.9" fill="#4f7190" stroke="#1a1a1a" stroke-width="1.4" />
<circle cx="868.4" cy="1300.5" r="5.9" fill="#4f7190" stroke="#1a1a1a" stroke-width="1.4" />
<line x1="618.2" y1="1341.1" x2="623.2" y2="1341.1" stroke="#262626" stroke-width="1.6" />
<line x1="618.2" y1="1337.3" x2="623.2" y2="1337.3" stroke="#262626" stroke-width="1.6" />
<line x1="618.2" y1="1334" x2="623.2" y2="1334" stroke="#262626" stroke-width="1.6" />
<line x1="618.2" y1="1331" x2="626.2" y2="1331" stroke="#262626" stroke-width="2.2" />
<line x1="618.2" y1="1311.3" x2="623.2" y2="1311.3" stroke="#262626" stroke-width="1.6" />
<line x1="618.2" y1="1299.8" x2="623.2" y2="1299.8" stroke="#262626" stroke-width="1.6" />
<line x1="618.2" y1="1291.6" x2="623.2" y2="1291.6" stroke="#262626" stroke-width="1.6" />
<line x1="618.2" y1="1285.3" x2="623.2" y2="1285.3" stroke="#262626" stroke-width="1.6" />
<line x1="618.2" y1="1280.1" x2="623.2" y2="1280.1" stroke="#262626" stroke-width="1.6" />
<line x1="618.2" y1="1275.7" x2="623.2" y2="1275.7" stroke="#262626" stroke-width="1.6" />
<line x1="618.2" y1="1271.9" x2="623.2" y2="1271.9" stroke="#262626" stroke-width="1.6" />
<line x1="618.2" y1="1268.6" x2="623.2" y2="1268.6" stroke="#262626" stroke-width="1.6" />
<line x1="618.2" y1="1265.6" x2="626.2" y2="1265.6" stroke="#262626" stroke-width="2.2" />
<line x1="618.2" y1="1245.9" x2="623.2" y2="1245.9" stroke="#262626" stroke-width="1.6" />
<line x1="618.2" y1="1234.4" x2="623.2" y2="1234.4" stroke="#262626" stroke-width="1.6" />
<line x1="618.2" y1="1226.2" x2="623.2" y2="1226.2" stroke="#262626" stroke-width="1.6" />
<line x1="618.2" y1="1219.9" x2="623.2" y2="1219.9" stroke="#262626" stroke-width="1.6" />
<line x1="618.2" y1="1214.7" x2="623.2" y2="1214.7" stroke="#262626" stroke-width="1.6" />
<line x1="618.2" y1="1210.3" x2="623.2" y2="1210.3" stroke="#262626" stroke-width="1.6" />
<line x1="618.2" y1="1206.5" x2="623.2" y2="1206.5" stroke="#262626" stroke-width="1.6" />
<line x1="618.2" y1="1203.2" x2="623.2" y2="1203.2" stroke="#262626" stroke-width="1.6" />
<line x1="618.2" y1="1200.2" x2="626.2" y2="1200.2" stroke="#262626" stroke-width="2.2" />
<line x1="618.2" y1="1180.5" x2="623.2" y2="1180.5" stroke="#262626" stroke-width="1.6" />
<line x1="618.2" y1="1169" x2="623.2" y2="1169" stroke="#262626" stroke-width="1.6" />
<line x1="618.2" y1="1160.8" x2="623.2" y2="1160.8" stroke="#262626" stroke-width="1.6" />
<line x1="618.2" y1="1154.5" x2="623.2" y2="1154.5" stroke="#262626" stroke-width="1.6" />
<line x1="618.2" y1="1149.3" x2="623.2" y2="1149.3" stroke="#262626" stroke-width="1.6" />
<line x1="618.2" y1="1144.9" x2="623.2" y2="1144.9" stroke="#262626" stroke-width="1.6" />
<line x1="618.2" y1="1141.1" x2="623.2" y2="1141.1" stroke="#262626" stroke-width="1.6" />
<line x1="618.2" y1="1137.8" x2="623.2" y2="1137.8" stroke="#262626" stroke-width="1.6" />
<line x1="618.2" y1="1134.8" x2="626.2" y2="1134.8" stroke="#262626" stroke-width="2.2" />
<line x1="618.2" y1="1115.1" x2="623.2" y2="1115.1" stroke="#262626" stroke-width="1.6" />
<line x1="618.2" y1="1103.6" x2="623.2" y2="1103.6" stroke="#262626" stroke-width="1.6" />
<line x1="655.2" y1="1344.1" x2="655.2" y2="1336.6" stroke="#262626" stroke-width="2.4" />
<text x="655.2" y="1376.8" font-size="24.8" text-anchor="middle">0</text>
<line x1="761.8" y1="1344.1" x2="761.8" y2="1336.6" stroke="#262626" stroke-width="2.4" />
<text x="761.8" y="1376.8" font-size="24.8" text-anchor="middle">10</text>
<line x1="868.4" y1="1344.1" x2="868.4" y2="1336.6" stroke="#262626" stroke-width="2.4" />
<text x="868.4" y="1376.8" font-size="24.8" text-anchor="middle">20</text>
<rect x="618.2" y="1101.8" width="260.8" height="242.3" fill="none" stroke="#262626" stroke-width="2.8" />
<text x="606" y="1142" font-size="23.5" text-anchor="end">10<tspan dy="-12" font-size="17.5">−5</tspan></text>
<text x="606" y="1206.7" font-size="23.5" text-anchor="end">10<tspan dy="-12" font-size="17.5">−6</tspan></text>
<text x="606" y="1272.7" font-size="23.5" text-anchor="end">10<tspan dy="-12" font-size="17.5">−7</tspan></text>
<text x="606" y="1338.8" font-size="23.5" text-anchor="end">10<tspan dy="-12" font-size="17.5">−8</tspan></text>
<text x="531" y="1223.2" font-size="26" text-anchor="middle" transform="rotate(-90 531 1223.2)"><tspan font-style="italic">K</tspan><tspan font-size="18" dy="6">d</tspan><tspan dy="-6"> (M)</tspan></text>
<text x="748.5" y="1422" font-size="24.5" text-anchor="middle">[Mg<tspan dy="-11" font-size="17">2+</tspan><tspan dy="11">] (mM)</tspan></text>
<text x="946" y="763.5" font-size="40" font-weight="bold">f</text>
<polygon points="1177.8,720.6 1204.8,720.6 1204.8,748.9 1218.7,748.9 1191.2,772.1 1163.8,748.9 1177.8,748.9" fill="#c6c6c6" stroke="#262626" stroke-width="2" stroke-linejoin="miter"/>
<text x="1370.7" y="753.1" font-size="24.8">Heterogeneity</text>
<polygon points="1319.2,751 1319.2,773.4 1415,773.4" fill="#a6a6a6" stroke="#262626" stroke-width="1.6" />
<polygon points="1493.2,773.4 1587.4,751 1587.4,773.4" fill="#a6a6a6" stroke="#262626" stroke-width="1.6" />
<g clip-path="url(#cf)"><circle cx="1068.3" cy="786.1" r="4.2" fill="#d9ad94" fill-opacity="0.75"/><circle cx="1069.5" cy="789.4" r="4.2" fill="#d9ad94" fill-opacity="0.75"/><circle cx="1069.6" cy="791.2" r="4.2" fill="#d9ad94" fill-opacity="0.75"/><circle cx="1069.4" cy="795.6" r="4.2" fill="#d9ad94" fill-opacity="0.75"/><circle cx="1068.9" cy="801.1" r="4.2" fill="#d9ad94" fill-opacity="0.75"/><circle cx="1070.3" cy="808.3" r="4.2" fill="#d9ad94" fill-opacity="0.75"/><circle cx="1070.0" cy="813.7" r="4.2" fill="#d9ad94" fill-opacity="0.75"/><circle cx="1070.5" cy="821.6" r="4.2" fill="#d9ad94" fill-opacity="0.75"/><circle cx="1071.0" cy="830.5" r="4.2" fill="#d9ad94" fill-opacity="0.75"/><circle cx="1070.3" cy="837.6" r="4.2" fill="#d9ad94" fill-opacity="0.75"/><circle cx="1071.2" cy="844.5" r="4.2" fill="#d9ad94" fill-opacity="0.75"/><circle cx="1071.8" cy="854.9" r="4.2" fill="#d9ad94" fill-opacity="0.75"/><circle cx="1073.3" cy="862.0" r="4.2" fill="#d9ad94" fill-opacity="0.75"/><circle cx="1073.2" cy="867.4" r="4.2" fill="#d9ad94" fill-opacity="0.75"/><circle cx="1073.9" cy="876.9" r="4.2" fill="#d9ad94" fill-opacity="0.75"/><circle cx="1074.7" cy="884.8" r="4.2" fill="#d9ad94" fill-opacity="0.75"/><circle cx="1075.2" cy="893.2" r="4.2" fill="#d9ad94" fill-opacity="0.75"/><circle cx="1076.4" cy="900.3" r="4.2" fill="#d9ad94" fill-opacity="0.75"/><circle cx="1076.9" cy="904.1" r="4.2" fill="#d9ad94" fill-opacity="0.75"/><circle cx="1077.1" cy="911.6" r="4.2" fill="#d9ad94" fill-opacity="0.75"/><circle cx="1078.8" cy="916.6" r="4.2" fill="#d9ad94" fill-opacity="0.75"/><circle cx="1079.2" cy="921.6" r="4.2" fill="#d9ad94" fill-opacity="0.75"/><circle cx="1079.6" cy="926.8" r="4.2" fill="#d9ad94" fill-opacity="0.75"/><circle cx="1079.7" cy="930.8" r="4.2" fill="#d9ad94" fill-opacity="0.75"/><circle cx="1081.5" cy="936.7" r="4.2" fill="#d9ad94" fill-opacity="0.75"/><circle cx="1082.8" cy="941.5" r="4.2" fill="#d9ad94" fill-opacity="0.75"/><circle cx="1083.4" cy="944.7" r="4.2" fill="#d9ad94" fill-opacity="0.75"/><circle cx="1082.9" cy="948.3" r="4.2" fill="#d9ad94" fill-opacity="0.75"/><circle cx="1084.5" cy="952.1" r="4.2" fill="#d9ad94" fill-opacity="0.75"/><circle cx="1085.8" cy="954.1" r="4.2" fill="#d9ad94" fill-opacity="0.75"/><circle cx="1086.6" cy="956.9" r="4.2" fill="#d9ad94" fill-opacity="0.75"/><circle cx="1086.8" cy="957.9" r="4.2" fill="#d9ad94" fill-opacity="0.75"/><circle cx="1089.4" cy="962.6" r="4.2" fill="#d9ad94" fill-opacity="0.75"/><circle cx="1089.6" cy="963.8" r="4.2" fill="#d9ad94" fill-opacity="0.75"/><circle cx="1090.7" cy="969.9" r="4.2" fill="#d9ad94" fill-opacity="0.75"/><circle cx="1092.2" cy="967.8" r="4.2" fill="#d9ad94" fill-opacity="0.75"/><circle cx="1092.6" cy="966.5" r="4.2" fill="#d9ad94" fill-opacity="0.75"/><circle cx="1094.1" cy="972.3" r="4.2" fill="#d9ad94" fill-opacity="0.75"/><circle cx="1095.6" cy="972.2" r="4.2" fill="#d9ad94" fill-opacity="0.75"/><circle cx="1096.0" cy="971.6" r="4.2" fill="#d9ad94" fill-opacity="0.75"/><circle cx="1097.4" cy="973.5" r="4.2" fill="#d9ad94" fill-opacity="0.75"/><circle cx="1098.0" cy="976.8" r="4.2" fill="#d9ad94" fill-opacity="0.75"/><circle cx="1099.3" cy="975.0" r="4.2" fill="#d9ad94" fill-opacity="0.75"/><circle cx="1099.7" cy="978.4" r="4.2" fill="#d9ad94" fill-opacity="0.75"/><circle cx="1102.0" cy="976.8" r="4.2" fill="#d9ad94" fill-opacity="0.75"/><circle cx="1103.5" cy="976.5" r="4.2" fill="#d9ad94" fill-opacity="0.75"/><circle cx="1104.3" cy="978.3" r="4.2" fill="#d9ad94" fill-opacity="0.75"/><circle cx="1105.4" cy="978.8" r="4.2" fill="#d9ad94" fill-opacity="0.75"/><circle cx="1107.7" cy="979.7" r="4.2" fill="#d9ad94" fill-opacity="0.75"/><circle cx="1109.1" cy="980.4" r="4.2" fill="#d9ad94" fill-opacity="0.75"/><circle cx="1110.5" cy="979.8" r="4.2" fill="#d9ad94" fill-opacity="0.75"/><circle cx="1111.2" cy="978.4" r="4.2" fill="#d9ad94" fill-opacity="0.75"/><circle cx="1112.2" cy="979.1" r="4.2" fill="#d9ad94" fill-opacity="0.75"/><circle cx="1113.6" cy="978.9" r="4.2" fill="#d9ad94" fill-opacity="0.75"/><circle cx="1115.2" cy="983.4" r="4.2" fill="#d9ad94" fill-opacity="0.75"/><circle cx="1116.0" cy="981.2" r="4.2" fill="#d9ad94" fill-opacity="0.75"/><circle cx="1118.1" cy="979.8" r="4.2" fill="#d9ad94" fill-opacity="0.75"/><circle cx="1119.1" cy="980.1" r="4.2" fill="#d9ad94" fill-opacity="0.75"/><circle cx="1120.9" cy="980.1" r="4.2" fill="#d9ad94" fill-opacity="0.75"/><circle cx="1123.4" cy="982.0" r="4.2" fill="#d9ad94" fill-opacity="0.75"/><circle cx="1124.1" cy="983.7" r="4.2" fill="#d9ad94" fill-opacity="0.75"/><circle cx="1125.7" cy="981.1" r="4.2" fill="#d9ad94" fill-opacity="0.75"/><circle cx="1126.7" cy="981.3" r="4.2" fill="#d9ad94" fill-opacity="0.75"/><circle cx="1128.1" cy="982.5" r="4.2" fill="#d9ad94" fill-opacity="0.75"/><circle cx="1128.5" cy="979.5" r="4.2" fill="#d9ad94" fill-opacity="0.75"/><circle cx="1130.8" cy="982.1" r="4.2" fill="#d9ad94" fill-opacity="0.75"/><circle cx="1132.3" cy="981.4" r="4.2" fill="#d9ad94" fill-opacity="0.75"/><circle cx="1134.6" cy="982.5" r="4.2" fill="#d9ad94" fill-opacity="0.75"/><circle cx="1135.6" cy="981.3" r="4.2" fill="#d9ad94" fill-opacity="0.75"/><circle cx="1136.5" cy="982.4" r="4.2" fill="#d9ad94" fill-opacity="0.75"/><circle cx="1138.9" cy="980.7" r="4.2" fill="#d9ad94" fill-opacity="0.75"/><circle cx="1140.7" cy="981.4" r="4.2" fill="#d9ad94" fill-opacity="0.75"/><circle cx="1141.9" cy="980.0" r="4.2" fill="#d9ad94" fill-opacity="0.75"/><circle cx="1144.1" cy="981.1" r="4.2" fill="#d9ad94" fill-opacity="0.75"/><circle cx="1145.5" cy="982.3" r="4.2" fill="#d9ad94" fill-opacity="0.75"/><circle cx="1146.7" cy="982.0" r="4.2" fill="#d9ad94" fill-opacity="0.75"/><circle cx="1148.5" cy="981.8" r="4.2" fill="#d9ad94" fill-opacity="0.75"/><circle cx="1150.4" cy="981.4" r="4.2" fill="#d9ad94" fill-opacity="0.75"/><circle cx="1152.4" cy="982.3" r="4.2" fill="#d9ad94" fill-opacity="0.75"/><circle cx="1153.2" cy="982.7" r="4.2" fill="#d9ad94" fill-opacity="0.75"/><circle cx="1155.3" cy="982.9" r="4.2" fill="#d9ad94" fill-opacity="0.75"/><circle cx="1156.1" cy="982.8" r="4.2" fill="#d9ad94" fill-opacity="0.75"/><circle cx="1157.9" cy="981.9" r="4.2" fill="#d9ad94" fill-opacity="0.75"/><circle cx="1162.3" cy="983.2" r="4.2" fill="#d9ad94" fill-opacity="0.75"/><circle cx="1163.0" cy="981.6" r="4.2" fill="#d9ad94" fill-opacity="0.75"/><circle cx="1163.7" cy="982.4" r="4.2" fill="#d9ad94" fill-opacity="0.75"/><circle cx="1166.3" cy="982.4" r="4.2" fill="#d9ad94" fill-opacity="0.75"/><circle cx="1167.6" cy="981.6" r="4.2" fill="#d9ad94" fill-opacity="0.75"/><circle cx="1169.6" cy="984.6" r="4.2" fill="#d9ad94" fill-opacity="0.75"/><circle cx="1171.6" cy="982.3" r="4.2" fill="#d9ad94" fill-opacity="0.75"/><circle cx="1173.3" cy="981.6" r="4.2" fill="#d9ad94" fill-opacity="0.75"/><circle cx="1174.7" cy="983.0" r="4.2" fill="#d9ad94" fill-opacity="0.75"/><circle cx="1177.9" cy="983.5" r="4.2" fill="#d9ad94" fill-opacity="0.75"/><circle cx="1178.4" cy="984.8" r="4.2" fill="#d9ad94" fill-opacity="0.75"/><circle cx="1181.2" cy="985.3" r="4.2" fill="#d9ad94" fill-opacity="0.75"/><circle cx="1182.9" cy="981.4" r="4.2" fill="#d9ad94" fill-opacity="0.75"/><circle cx="1185.0" cy="982.9" r="4.2" fill="#d9ad94" fill-opacity="0.75"/><circle cx="1186.3" cy="982.3" r="4.2" fill="#d9ad94" fill-opacity="0.75"/><circle cx="1188.6" cy="982.1" r="4.2" fill="#d9ad94" fill-opacity="0.75"/><circle cx="1191.0" cy="983.6" r="4.2" fill="#d9ad94" fill-opacity="0.75"/><circle cx="1192.5" cy="982.9" r="4.2" fill="#d9ad94" fill-opacity="0.75"/><circle cx="1195.1" cy="983.8" r="4.2" fill="#d9ad94" fill-opacity="0.75"/><circle cx="1196.1" cy="983.7" r="4.2" fill="#d9ad94" fill-opacity="0.75"/><circle cx="1199.6" cy="983.8" r="4.2" fill="#d9ad94" fill-opacity="0.75"/><circle cx="1200.3" cy="985.3" r="4.2" fill="#d9ad94" fill-opacity="0.75"/><circle cx="1204.0" cy="983.7" r="4.2" fill="#d9ad94" fill-opacity="0.75"/><circle cx="1203.7" cy="981.9" r="4.2" fill="#d9ad94" fill-opacity="0.75"/><circle cx="1207.8" cy="983.5" r="4.2" fill="#d9ad94" fill-opacity="0.75"/><circle cx="1209.3" cy="984.4" r="4.2" fill="#d9ad94" fill-opacity="0.75"/><circle cx="1211.2" cy="985.8" r="4.2" fill="#d9ad94" fill-opacity="0.75"/><circle cx="1213.3" cy="984.6" r="4.2" fill="#d9ad94" fill-opacity="0.75"/><circle cx="1215.4" cy="984.2" r="4.2" fill="#d9ad94" fill-opacity="0.75"/><circle cx="1218.6" cy="982.6" r="4.2" fill="#d9ad94" fill-opacity="0.75"/><circle cx="1218.9" cy="985.4" r="4.2" fill="#d9ad94" fill-opacity="0.75"/><circle cx="1221.0" cy="984.3" r="4.2" fill="#d9ad94" fill-opacity="0.75"/><circle cx="1223.3" cy="985.3" r="4.2" fill="#d9ad94" fill-opacity="0.75"/><circle cx="1226.0" cy="985.0" r="4.2" fill="#d9ad94" fill-opacity="0.75"/><circle cx="1227.8" cy="984.0" r="4.2" fill="#d9ad94" fill-opacity="0.75"/><circle cx="1229.2" cy="985.2" r="4.2" fill="#d9ad94" fill-opacity="0.75"/><circle cx="1232.7" cy="984.3" r="4.2" fill="#d9ad94" fill-opacity="0.75"/><circle cx="1234.8" cy="983.8" r="4.2" fill="#d9ad94" fill-opacity="0.75"/><circle cx="1236.9" cy="986.6" r="4.2" fill="#d9ad94" fill-opacity="0.75"/><circle cx="1238.9" cy="983.8" r="4.2" fill="#d9ad94" fill-opacity="0.75"/><circle cx="1241.8" cy="984.7" r="4.2" fill="#d9ad94" fill-opacity="0.75"/><circle cx="1243.4" cy="986.5" r="4.2" fill="#d9ad94" fill-opacity="0.75"/><circle cx="1246.8" cy="984.1" r="4.2" fill="#d9ad94" fill-opacity="0.75"/><circle cx="1249.1" cy="982.9" r="4.2" fill="#d9ad94" fill-opacity="0.75"/><circle cx="1251.3" cy="982.6" r="4.2" fill="#d9ad94" fill-opacity="0.75"/><circle cx="1253.0" cy="984.5" r="4.2" fill="#d9ad94" fill-opacity="0.75"/><circle cx="1254.9" cy="985.4" r="4.2" fill="#d9ad94" fill-opacity="0.75"/><circle cx="1256.9" cy="983.8" r="4.2" fill="#d9ad94" fill-opacity="0.75"/><circle cx="1259.2" cy="986.6" r="4.2" fill="#d9ad94" fill-opacity="0.75"/><circle cx="1261.8" cy="985.2" r="4.2" fill="#d9ad94" fill-opacity="0.75"/><circle cx="1264.3" cy="986.1" r="4.2" fill="#d9ad94" fill-opacity="0.75"/><circle cx="1266.2" cy="983.8" r="4.2" fill="#d9ad94" fill-opacity="0.75"/><circle cx="1268.8" cy="985.1" r="4.2" fill="#d9ad94" fill-opacity="0.75"/><circle cx="1271.1" cy="985.5" r="4.2" fill="#d9ad94" fill-opacity="0.75"/><circle cx="1274.2" cy="986.2" r="4.2" fill="#d9ad94" fill-opacity="0.75"/><circle cx="1276.6" cy="986.7" r="4.2" fill="#d9ad94" fill-opacity="0.75"/><circle cx="1278.5" cy="984.5" r="4.2" fill="#d9ad94" fill-opacity="0.75"/><circle cx="1280.8" cy="984.3" r="4.2" fill="#d9ad94" fill-opacity="0.75"/><circle cx="1282.9" cy="985.6" r="4.2" fill="#d9ad94" fill-opacity="0.75"/><circle cx="1286.1" cy="982.6" r="4.2" fill="#d9ad94" fill-opacity="0.75"/><circle cx="1288.4" cy="984.3" r="4.2" fill="#d9ad94" fill-opacity="0.75"/><circle cx="1290.5" cy="984.9" r="4.2" fill="#d9ad94" fill-opacity="0.75"/><circle cx="1294.0" cy="985.4" r="4.2" fill="#d9ad94" fill-opacity="0.75"/><circle cx="1294.9" cy="985.7" r="4.2" fill="#d9ad94" fill-opacity="0.75"/><circle cx="1297.9" cy="987.3" r="4.2" fill="#d9ad94" fill-opacity="0.75"/><circle cx="1300.6" cy="985.3" r="4.2" fill="#d9ad94" fill-opacity="0.75"/><circle cx="1303.3" cy="984.4" r="4.2" fill="#d9ad94" fill-opacity="0.75"/><circle cx="1068.6" cy="785.7" r="4.2" fill="#7f9bb3" fill-opacity="0.7"/><circle cx="1070.1" cy="787.5" r="4.2" fill="#7f9bb3" fill-opacity="0.7"/><circle cx="1069.5" cy="789.7" r="4.2" fill="#7f9bb3" fill-opacity="0.7"/><circle cx="1069.7" cy="792.9" r="4.2" fill="#7f9bb3" fill-opacity="0.7"/><circle cx="1070.8" cy="790.6" r="4.2" fill="#7f9bb3" fill-opacity="0.7"/><circle cx="1070.2" cy="797.3" r="4.2" fill="#7f9bb3" fill-opacity="0.7"/><circle cx="1071.4" cy="800.9" r="4.2" fill="#7f9bb3" fill-opacity="0.7"/><circle cx="1072.0" cy="807.6" r="4.2" fill="#7f9bb3" fill-opacity="0.7"/><circle cx="1071.8" cy="810.5" r="4.2" fill="#7f9bb3" fill-opacity="0.7"/><circle cx="1072.5" cy="814.7" r="4.2" fill="#7f9bb3" fill-opacity="0.7"/><circle cx="1073.6" cy="819.1" r="4.2" fill="#7f9bb3" fill-opacity="0.7"/><circle cx="1074.4" cy="819.4" r="4.2" fill="#7f9bb3" fill-opacity="0.7"/><circle cx="1075.3" cy="824.9" r="4.2" fill="#7f9bb3" fill-opacity="0.7"/><circle cx="1075.8" cy="828.8" r="4.2" fill="#7f9bb3" fill-opacity="0.7"/><circle cx="1076.5" cy="830.6" r="4.2" fill="#7f9bb3" fill-opacity="0.7"/><circle cx="1077.4" cy="834.6" r="4.2" fill="#7f9bb3" fill-opacity="0.7"/><circle cx="1077.4" cy="840.6" r="4.2" fill="#7f9bb3" fill-opacity="0.7"/><circle cx="1077.5" cy="844.1" r="4.2" fill="#7f9bb3" fill-opacity="0.7"/><circle cx="1079.1" cy="848.3" r="4.2" fill="#7f9bb3" fill-opacity="0.7"/><circle cx="1079.8" cy="848.8" r="4.2" fill="#7f9bb3" fill-opacity="0.7"/><circle cx="1080.1" cy="852.5" r="4.2" fill="#7f9bb3" fill-opacity="0.7"/><circle cx="1081.6" cy="856.8" r="4.2" fill="#7f9bb3" fill-opacity="0.7"/><circle cx="1082.6" cy="862.6" r="4.2" fill="#7f9bb3" fill-opacity="0.7"/><circle cx="1083.1" cy="862.5" r="4.2" fill="#7f9bb3" fill-opacity="0.7"/><circle cx="1084.3" cy="867.0" r="4.2" fill="#7f9bb3" fill-opacity="0.7"/><circle cx="1083.9" cy="868.1" r="4.2" fill="#7f9bb3" fill-opacity="0.7"/><circle cx="1085.9" cy="872.8" r="4.2" fill="#7f9bb3" fill-opacity="0.7"/><circle cx="1086.6" cy="872.9" r="4.2" fill="#7f9bb3" fill-opacity="0.7"/><circle cx="1088.8" cy="872.2" r="4.2" fill="#7f9bb3" fill-opacity="0.7"/><circle cx="1089.4" cy="878.5" r="4.2" fill="#7f9bb3" fill-opacity="0.7"/><circle cx="1089.5" cy="881.9" r="4.2" fill="#7f9bb3" fill-opacity="0.7"/><circle cx="1090.8" cy="882.7" r="4.2" fill="#7f9bb3" fill-opacity="0.7"/><circle cx="1090.9" cy="886.9" r="4.2" fill="#7f9bb3" fill-opacity="0.7"/><circle cx="1093.3" cy="888.1" r="4.2" fill="#7f9bb3" fill-opacity="0.7"/><circle cx="1094.8" cy="888.5" r="4.2" fill="#7f9bb3" fill-opacity="0.7"/><circle cx="1095.1" cy="893.2" r="4.2" fill="#7f9bb3" fill-opacity="0.7"/><circle cx="1096.4" cy="892.6" r="4.2" fill="#7f9bb3" fill-opacity="0.7"/><circle cx="1097.1" cy="895.9" r="4.2" fill="#7f9bb3" fill-opacity="0.7"/><circle cx="1096.7" cy="897.0" r="4.2" fill="#7f9bb3" fill-opacity="0.7"/><circle cx="1098.2" cy="898.8" r="4.2" fill="#7f9bb3" fill-opacity="0.7"/><circle cx="1100.3" cy="900.8" r="4.2" fill="#7f9bb3" fill-opacity="0.7"/><circle cx="1102.0" cy="903.5" r="4.2" fill="#7f9bb3" fill-opacity="0.7"/><circle cx="1101.9" cy="903.3" r="4.2" fill="#7f9bb3" fill-opacity="0.7"/><circle cx="1103.5" cy="904.0" r="4.2" fill="#7f9bb3" fill-opacity="0.7"/><circle cx="1104.7" cy="907.4" r="4.2" fill="#7f9bb3" fill-opacity="0.7"/><circle cx="1106.1" cy="908.0" r="4.2" fill="#7f9bb3" fill-opacity="0.7"/><circle cx="1106.8" cy="909.5" r="4.2" fill="#7f9bb3" fill-opacity="0.7"/><circle cx="1108.0" cy="912.3" r="4.2" fill="#7f9bb3" fill-opacity="0.7"/><circle cx="1109.2" cy="914.2" r="4.2" fill="#7f9bb3" fill-opacity="0.7"/><circle cx="1110.0" cy="914.0" r="4.2" fill="#7f9bb3" fill-opacity="0.7"/><circle cx="1111.1" cy="913.7" r="4.2" fill="#7f9bb3" fill-opacity="0.7"/><circle cx="1111.8" cy="914.8" r="4.2" fill="#7f9bb3" fill-opacity="0.7"/><circle cx="1114.1" cy="913.7" r="4.2" fill="#7f9bb3" fill-opacity="0.7"/><circle cx="1115.3" cy="919.3" r="4.2" fill="#7f9bb3" fill-opacity="0.7"/><circle cx="1116.8" cy="918.4" r="4.2" fill="#7f9bb3" fill-opacity="0.7"/><circle cx="1117.4" cy="921.4" r="4.2" fill="#7f9bb3" fill-opacity="0.7"/><circle cx="1119.2" cy="923.1" r="4.2" fill="#7f9bb3" fill-opacity="0.7"/><circle cx="1119.9" cy="920.4" r="4.2" fill="#7f9bb3" fill-opacity="0.7"/><circle cx="1121.9" cy="921.2" r="4.2" fill="#7f9bb3" fill-opacity="0.7"/><circle cx="1122.5" cy="924.5" r="4.2" fill="#7f9bb3" fill-opacity="0.7"/><circle cx="1124.3" cy="922.4" r="4.2" fill="#7f9bb3" fill-opacity="0.7"/><circle cx="1125.5" cy="923.6" r="4.2" fill="#7f9bb3" fill-opacity="0.7"/><circle cx="1127.0" cy="924.8" r="4.2" fill="#7f9bb3" fill-opacity="0.7"/><circle cx="1127.4" cy="927.5" r="4.2" fill="#7f9bb3" fill-opacity="0.7"/><circle cx="1129.1" cy="925.4" r="4.2" fill="#7f9bb3" fill-opacity="0.7"/><circle cx="1130.1" cy="925.8" r="4.2" fill="#7f9bb3" fill-opacity="0.7"/><circle cx="1131.6" cy="927.2" r="4.2" fill="#7f9bb3" fill-opacity="0.7"/><circle cx="1133.3" cy="928.6" r="4.2" fill="#7f9bb3" fill-opacity="0.7"/><circle cx="1134.8" cy="926.4" r="4.2" fill="#7f9bb3" fill-opacity="0.7"/><circle cx="1135.4" cy="926.4" r="4.2" fill="#7f9bb3" fill-opacity="0.7"/><circle cx="1137.6" cy="926.8" r="4.2" fill="#7f9bb3" fill-opacity="0.7"/><circle cx="1139.3" cy="928.8" r="4.2" fill="#7f9bb3" fill-opacity="0.7"/><circle cx="1139.9" cy="929.1" r="4.2" fill="#7f9bb3" fill-opacity="0.7"/><circle cx="1142.2" cy="929.4" r="4.2" fill="#7f9bb3" fill-opacity="0.7"/><circle cx="1142.5" cy="928.0" r="4.2" fill="#7f9bb3" fill-opacity="0.7"/><circle cx="1143.3" cy="928.9" r="4.2" fill="#7f9bb3" fill-opacity="0.7"/><circle cx="1146.1" cy="931.3" r="4.2" fill="#7f9bb3" fill-opacity="0.7"/><circle cx="1146.5" cy="926.8" r="4.2" fill="#7f9bb3" fill-opacity="0.7"/><circle cx="1148.9" cy="931.6" r="4.2" fill="#7f9bb3" fill-opacity="0.7"/><circle cx="1148.7" cy="931.0" r="4.2" fill="#7f9bb3" fill-opacity="0.7"/><circle cx="1150.6" cy="933.3" r="4.2" fill="#7f9bb3" fill-opacity="0.7"/><circle cx="1152.9" cy="930.9" r="4.2" fill="#7f9bb3" fill-opacity="0.7"/><circle cx="1153.0" cy="931.8" r="4.2" fill="#7f9bb3" fill-opacity="0.7"/><circle cx="1156.8" cy="933.4" r="4.2" fill="#7f9bb3" fill-opacity="0.7"/><circle cx="1156.7" cy="934.4" r="4.2" fill="#7f9bb3" fill-opacity="0.7"/><circle cx="1158.2" cy="935.8" r="4.2" fill="#7f9bb3" fill-opacity="0.7"/><circle cx="1159.1" cy="932.8" r="4.2" fill="#7f9bb3" fill-opacity="0.7"/><circle cx="1162.2" cy="935.6" r="4.2" fill="#7f9bb3" fill-opacity="0.7"/><circle cx="1163.2" cy="931.8" r="4.2" fill="#7f9bb3" fill-opacity="0.7"/><circle cx="1164.4" cy="935.4" r="4.2" fill="#7f9bb3" fill-opacity="0.7"/><circle cx="1165.7" cy="934.7" r="4.2" fill="#7f9bb3" fill-opacity="0.7"/><circle cx="1167.9" cy="934.3" r="4.2" fill="#7f9bb3" fill-opacity="0.7"/><circle cx="1169.2" cy="934.8" r="4.2" fill="#7f9bb3" fill-opacity="0.7"/><circle cx="1169.9" cy="933.0" r="4.2" fill="#7f9bb3" fill-opacity="0.7"/><circle cx="1171.7" cy="934.3" r="4.2" fill="#7f9bb3" fill-opacity="0.7"/><circle cx="1174.1" cy="936.1" r="4.2" fill="#7f9bb3" fill-opacity="0.7"/><circle cx="1174.1" cy="938.6" r="4.2" fill="#7f9bb3" fill-opacity="0.7"/><circle cx="1177.9" cy="935.7" r="4.2" fill="#7f9bb3" fill-opacity="0.7"/><circle cx="1178.5" cy="936.6" r="4.2" fill="#7f9bb3" fill-opacity="0.7"/><circle cx="1180.2" cy="937.2" r="4.2" fill="#7f9bb3" fill-opacity="0.7"/><circle cx="1181.6" cy="937.2" r="4.2" fill="#7f9bb3" fill-opacity="0.7"/><circle cx="1182.6" cy="937.0" r="4.2" fill="#7f9bb3" fill-opacity="0.7"/><circle cx="1184.1" cy="936.7" r="4.2" fill="#7f9bb3" fill-opacity="0.7"/><circle cx="1185.9" cy="942.1" r="4.2" fill="#7f9bb3" fill-opacity="0.7"/><circle cx="1188.1" cy="941.3" r="4.2" fill="#7f9bb3" fill-opacity="0.7"/><circle cx="1188.5" cy="938.1" r="4.2" fill="#7f9bb3" fill-opacity="0.7"/><circle cx="1191.4" cy="940.8" r="4.2" fill="#7f9bb3" fill-opacity="0.7"/><circle cx="1192.8" cy="938.3" r="4.2" fill="#7f9bb3" fill-opacity="0.7"/><circle cx="1193.4" cy="939.6" r="4.2" fill="#7f9bb3" fill-opacity="0.7"/><circle cx="1194.9" cy="939.9" r="4.2" fill="#7f9bb3" fill-opacity="0.7"/><circle cx="1197.1" cy="938.6" r="4.2" fill="#7f9bb3" fill-opacity="0.7"/><circle cx="1198.7" cy="937.5" r="4.2" fill="#7f9bb3" fill-opacity="0.7"/><circle cx="1200.0" cy="940.7" r="4.2" fill="#7f9bb3" fill-opacity="0.7"/><circle cx="1201.9" cy="939.1" r="4.2" fill="#7f9bb3" fill-opacity="0.7"/><circle cx="1204.4" cy="941.6" r="4.2" fill="#7f9bb3" fill-opacity="0.7"/><circle cx="1205.8" cy="938.5" r="4.2" fill="#7f9bb3" fill-opacity="0.7"/><circle cx="1207.8" cy="942.0" r="4.2" fill="#7f9bb3" fill-opacity="0.7"/><circle cx="1208.5" cy="940.4" r="4.2" fill="#7f9bb3" fill-opacity="0.7"/><circle cx="1211.1" cy="943.6" r="4.2" fill="#7f9bb3" fill-opacity="0.7"/><circle cx="1212.1" cy="940.1" r="4.2" fill="#7f9bb3" fill-opacity="0.7"/><circle cx="1214.7" cy="941.4" r="4.2" fill="#7f9bb3" fill-opacity="0.7"/><circle cx="1216.1" cy="942.5" r="4.2" fill="#7f9bb3" fill-opacity="0.7"/><circle cx="1217.4" cy="942.1" r="4.2" fill="#7f9bb3" fill-opacity="0.7"/><circle cx="1219.9" cy="942.4" r="4.2" fill="#7f9bb3" fill-opacity="0.7"/><circle cx="1220.9" cy="942.2" r="4.2" fill="#7f9bb3" fill-opacity="0.7"/><circle cx="1223.6" cy="943.6" r="4.2" fill="#7f9bb3" fill-opacity="0.7"/><circle cx="1223.8" cy="943.5" r="4.2" fill="#7f9bb3" fill-opacity="0.7"/><circle cx="1225.2" cy="943.6" r="4.2" fill="#7f9bb3" fill-opacity="0.7"/><circle cx="1227.2" cy="946.1" r="4.2" fill="#7f9bb3" fill-opacity="0.7"/><circle cx="1230.3" cy="948.2" r="4.2" fill="#7f9bb3" fill-opacity="0.7"/><circle cx="1231.1" cy="943.3" r="4.2" fill="#7f9bb3" fill-opacity="0.7"/><circle cx="1232.0" cy="945.3" r="4.2" fill="#7f9bb3" fill-opacity="0.7"/><circle cx="1234.4" cy="947.3" r="4.2" fill="#7f9bb3" fill-opacity="0.7"/><circle cx="1237.6" cy="943.1" r="4.2" fill="#7f9bb3" fill-opacity="0.7"/><circle cx="1238.3" cy="948.4" r="4.2" fill="#7f9bb3" fill-opacity="0.7"/><circle cx="1239.4" cy="944.0" r="4.2" fill="#7f9bb3" fill-opacity="0.7"/><circle cx="1242.3" cy="946.7" r="4.2" fill="#7f9bb3" fill-opacity="0.7"/><circle cx="1242.8" cy="947.1" r="4.2" fill="#7f9bb3" fill-opacity="0.7"/><circle cx="1245.3" cy="946.6" r="4.2" fill="#7f9bb3" fill-opacity="0.7"/><circle cx="1247.5" cy="949.6" r="4.2" fill="#7f9bb3" fill-opacity="0.7"/><circle cx="1249.5" cy="945.5" r="4.2" fill="#7f9bb3" fill-opacity="0.7"/><circle cx="1251.6" cy="948.5" r="4.2" fill="#7f9bb3" fill-opacity="0.7"/><circle cx="1252.9" cy="946.4" r="4.2" fill="#7f9bb3" fill-opacity="0.7"/><circle cx="1254.0" cy="947.8" r="4.2" fill="#7f9bb3" fill-opacity="0.7"/><circle cx="1257.0" cy="948.7" r="4.2" fill="#7f9bb3" fill-opacity="0.7"/><circle cx="1258.2" cy="948.7" r="4.2" fill="#7f9bb3" fill-opacity="0.7"/><circle cx="1260.1" cy="947.9" r="4.2" fill="#7f9bb3" fill-opacity="0.7"/><circle cx="1261.8" cy="945.6" r="4.2" fill="#7f9bb3" fill-opacity="0.7"/><circle cx="1263.6" cy="950.3" r="4.2" fill="#7f9bb3" fill-opacity="0.7"/><circle cx="1265.6" cy="951.5" r="4.2" fill="#7f9bb3" fill-opacity="0.7"/><circle cx="1268.1" cy="948.8" r="4.2" fill="#7f9bb3" fill-opacity="0.7"/><circle cx="1268.5" cy="949.6" r="4.2" fill="#7f9bb3" fill-opacity="0.7"/><circle cx="1270.4" cy="951.1" r="4.2" fill="#7f9bb3" fill-opacity="0.7"/><circle cx="1272.8" cy="951.1" r="4.2" fill="#7f9bb3" fill-opacity="0.7"/><circle cx="1274.6" cy="949.0" r="4.2" fill="#7f9bb3" fill-opacity="0.7"/><circle cx="1277.4" cy="950.2" r="4.2" fill="#7f9bb3" fill-opacity="0.7"/><circle cx="1278.5" cy="950.9" r="4.2" fill="#7f9bb3" fill-opacity="0.7"/><circle cx="1280.2" cy="950.3" r="4.2" fill="#7f9bb3" fill-opacity="0.7"/><circle cx="1281.6" cy="951.0" r="4.2" fill="#7f9bb3" fill-opacity="0.7"/><circle cx="1284.4" cy="949.8" r="4.2" fill="#7f9bb3" fill-opacity="0.7"/><circle cx="1285.2" cy="950.6" r="4.2" fill="#7f9bb3" fill-opacity="0.7"/><circle cx="1288.3" cy="952.8" r="4.2" fill="#7f9bb3" fill-opacity="0.7"/><circle cx="1290.1" cy="950.5" r="4.2" fill="#7f9bb3" fill-opacity="0.7"/><circle cx="1292.0" cy="951.8" r="4.2" fill="#7f9bb3" fill-opacity="0.7"/><circle cx="1294.1" cy="953.1" r="4.2" fill="#7f9bb3" fill-opacity="0.7"/><circle cx="1295.2" cy="952.9" r="4.2" fill="#7f9bb3" fill-opacity="0.7"/><circle cx="1297.7" cy="954.5" r="4.2" fill="#7f9bb3" fill-opacity="0.7"/><circle cx="1300.4" cy="950.7" r="4.2" fill="#7f9bb3" fill-opacity="0.7"/><circle cx="1301.2" cy="952.3" r="4.2" fill="#7f9bb3" fill-opacity="0.7"/><circle cx="1303.1" cy="952.9" r="4.2" fill="#7f9bb3" fill-opacity="0.7"/><path d="M1068.8,785.8l0,0.4 0.1,1 0,1.4 0.1,1.9 0.1,2.3 0.1,2.6 0.2,3 0.1,3.3 0.2,3.5 0.2,3.8 0.2,4.1 0.2,4.2 0.2,4.4 0.3,4.5 0.2,4.7 0.3,4.8 0.3,4.8 0.3,5 0.3,4.9 0.4,5 0.3,5 0.4,4.9 0.3,4.9 0.4,4.9 0.4,4.8 0.4,4.8 0.4,4.6 0.5,4.6 0.4,4.4 0.5,4.4 0.5,4.2 0.4,4.1 0.5,3.9 0.5,3.9 0.6,3.6 0.5,3.6 0.6,3.4 0.5,3.2 0.6,3.1 0.6,3 0.6,2.8 0.6,2.7 0.6,2.6 0.6,2.4 0.6,2.2 0.7,2.2 0.7,2 0.6,1.9 0.7,1.8 0.7,1.7 0.7,1.6 0.7,1.4 0.8,1.4 0.7,1.3 0.8,1.2 0.7,1.1 0.8,1 0.8,0.9 0.8,0.9 0.8,0.8 0.8,0.8 0.9,0.7 0.8,0.6 0.8,0.6 0.9,0.6 0.9,0.5 0.9,0.4 0.9,0.4 0.9,0.4 0.9,0.4 0.9,0.3 0.9,0.3 1,0.3 0.9,0.2 1,0.2 1,0.3 1,0.1 1,0.2 1,0.2 1,0.1 1,0.2 1.1,0.1 1,0.1 1.1,0.1 1,0.1 1.1,0.1 1.1,0.1 1.1,0.1 1.1,0.1 1.1,0 1.2,0.1 1.1,0.1 1.2,0 1.1,0.1 1.2,0 1.2,0.1 1.1,0 1.2,0.1 1.3,0 1.2,0.1 1.2,0 1.2,0.1 1.3,0 1.2,0.1 1.3,0 1.3,0 1.3,0.1 1.3,0 1.3,0.1 1.3,0 1.3,0 1.4,0.1 1.3,0 1.4,0.1 1.3,0 1.4,0 1.4,0.1 1.4,0 1.4,0.1 1.4,0 1.4,0 1.4,0.1 1.5,0 1.4,0.1 1.5,0 1.4,0 1.5,0.1 1.5,0 1.5,0 1.5,0.1 1.5,0 1.5,0.1 1.6,0 1.5,0 1.6,0.1 1.5,0 1.6,0 1.6,0.1 1.6,0 1.6,0.1 1.6,0 1.6,0 1.6,0.1 1.6,0 1.7,0 1.6,0.1 1.7,0 1.7,0.1 1.6,0 1.7,0 1.7,0.1 1.7,0 1.7,0 1.8,0.1 1.7,0 1.7,0 1.8,0.1 1.8,0 1.7,0.1 1.8,0 1.8,0 1.8,0.1 1.8,0 1.8,0 1.8,0.1 1.9,0 1.8,0 1.8,0.1 1.9,0 1.9,0 1.8,0.1 1.9,0 1.9,0 1.9,0.1 1.9,0 1.9,0 2,0.1 1.9,0 2,0 1.9,0.1 2,0 1.9,0 2,0.1 2,0 2,0 2,0.1 2,0 2.1,0 2,0.1 2,0 2.1,0 2,0.1 2.1,0 2.1,0 2.1,0 2,0.1 2.1,0 2.2,0 2.1,0.1" fill="none" stroke="#a0532c" stroke-width="3.4"/><path d="M1068.8,785.8l0,0.1 0.1,0.4 0,0.5 0.1,0.6 0.1,0.8 0.1,1 0.2,1 0.1,1.2 0.2,1.3 0.2,1.4 0.2,1.5 0.2,1.6 0.2,1.7 0.3,1.7 0.2,1.8 0.3,1.9 0.3,2 0.3,2 0.3,2.1 0.4,2.2 0.3,2.1 0.4,2.2 0.3,2.3 0.4,2.3 0.4,2.3 0.4,2.3 0.4,2.3 0.5,2.4 0.4,2.3 0.5,2.4 0.5,2.3 0.4,2.4 0.5,2.3 0.5,2.4 0.6,2.3 0.5,2.3 0.6,2.3 0.5,2.2 0.6,2.2 0.6,2.2 0.6,2.2 0.6,2.2 0.6,2.1 0.6,2 0.6,2.1 0.7,2 0.7,2 0.6,1.9 0.7,1.9 0.7,1.8 0.7,1.8 0.7,1.7 0.8,1.8 0.7,1.6 0.8,1.7 0.7,1.5 0.8,1.6 0.8,1.5 0.8,1.4 0.8,1.4 0.8,1.4 0.9,1.3 0.8,1.3 0.8,1.3 0.9,1.2 0.9,1.1 0.9,1.2 0.9,1.1 0.9,1 0.9,1 0.9,1 0.9,1 1,0.9 0.9,0.9 1,0.8 1,0.9 1,0.8 1,0.7 1,0.8 1,0.7 1,0.7 1.1,0.7 1,0.6 1.1,0.6 1,0.6 1.1,0.6 1.1,0.6 1.1,0.5 1.1,0.5 1.1,0.5 1.2,0.5 1.1,0.5 1.2,0.5 1.1,0.4 1.2,0.5 1.2,0.4 1.1,0.4 1.2,0.4 1.3,0.4 1.2,0.4 1.2,0.3 1.2,0.4 1.3,0.4 1.2,0.3 1.3,0.3 1.3,0.4 1.3,0.3 1.3,0.3 1.3,0.3 1.3,0.3 1.3,0.3 1.4,0.3 1.3,0.3 1.4,0.3 1.3,0.3 1.4,0.3 1.4,0.3 1.4,0.2 1.4,0.3 1.4,0.3 1.4,0.3 1.4,0.2 1.5,0.3 1.4,0.3 1.5,0.2 1.4,0.3 1.5,0.2 1.5,0.3 1.5,0.3 1.5,0.2 1.5,0.3 1.5,0.2 1.6,0.3 1.5,0.2 1.6,0.3 1.5,0.2 1.6,0.3 1.6,0.2 1.6,0.3 1.6,0.2 1.6,0.3 1.6,0.2 1.6,0.3 1.6,0.2 1.7,0.3 1.6,0.2 1.7,0.3 1.7,0.2 1.6,0.3 1.7,0.2 1.7,0.2 1.7,0.3 1.7,0.2 1.8,0.3 1.7,0.2 1.7,0.3 1.8,0.2 1.8,0.3 1.7,0.2 1.8,0.3 1.8,0.2 1.8,0.2 1.8,0.3 1.8,0.2 1.8,0.3 1.9,0.2 1.8,0.3 1.8,0.2 1.9,0.2 1.9,0.3 1.8,0.2 1.9,0.3 1.9,0.2 1.9,0.3 1.9,0.2 1.9,0.2 2,0.3 1.9,0.2 2,0.3 1.9,0.2 2,0.2 1.9,0.3 2,0.2 2,0.3 2,0.2 2,0.2 2,0.3 2.1,0.2 2,0.3 2,0.2 2.1,0.2 2,0.3 2.1,0.2 2.1,0.2 2.1,0.3 2,0.2 2.1,0.2 2.2,0.3 2.1,0.2" fill="none" stroke="#1f4360" stroke-width="3.4"/></g>
<circle cx="1205.2" cy="825.5" r="22.8" fill="url(#gPurple)" stroke="#151515" stroke-width="2.2" />
<text x="1205.2" y="832.4" font-size="21" text-anchor="middle">100</text>
<circle cx="1266" cy="824.2" r="13.9" fill="url(#gGreen)" stroke="#151515" stroke-width="2.2" />
<text x="1266" y="830.1" font-size="18" text-anchor="middle">10</text>
<line x1="1123.7" y1="917.1" x2="1318" y2="917.1" stroke="#2e4f6e" stroke-width="1.8" stroke-dasharray="8,5"/>
<line x1="1117" y1="978.3" x2="1372.9" y2="978.3" stroke="#9a6446" stroke-width="1.9" stroke-dasharray="8,5"/>
<line x1="1122.4" y1="870.6" x2="1094.1" y2="874" stroke="#333" stroke-width="1.8" />
<line x1="1122.4" y1="870.6" x2="1079.4" y2="920.5" stroke="#333" stroke-width="1.8" />
<line x1="1231.4" y1="894.3" x2="1170.2" y2="924.7" stroke="#333" stroke-width="1.8" />
<line x1="1231.4" y1="894.3" x2="1146.9" y2="973.3" stroke="#333" stroke-width="1.8" />
<text x="1132.1" y="874.9" font-size="26"><tspan font-style="italic">k</tspan><tspan font-size="18" dy="7">off,1</tspan></text>
<text x="1235.6" y="899.4" font-size="26"><tspan font-style="italic">k</tspan><tspan font-size="18" dy="7">off,2</tspan></text>
<line x1="1068.8" y1="937.7" x2="1075.8" y2="937.7" stroke="#262626" stroke-width="2.2" />
<line x1="1068.8" y1="887" x2="1075.8" y2="887" stroke="#262626" stroke-width="2.2" />
<line x1="1068.8" y1="836.4" x2="1075.8" y2="836.4" stroke="#262626" stroke-width="2.2" />
<line x1="1138.5" y1="988" x2="1138.5" y2="981" stroke="#262626" stroke-width="2.2" />
<line x1="1208.1" y1="988" x2="1208.1" y2="981" stroke="#262626" stroke-width="2.2" />
<line x1="1277.8" y1="988" x2="1277.8" y2="981" stroke="#262626" stroke-width="2.2" />
<rect x="1068.8" y="785.3" width="233.5" height="202.7" fill="none" stroke="#262626" stroke-width="2.8" />
<text x="1055.5" y="996.1" font-size="24.8" text-anchor="end">0.00</text>
<text x="1055.5" y="945.5" font-size="24.8" text-anchor="end">0.25</text>
<text x="1055.5" y="894.8" font-size="24.8" text-anchor="end">0.50</text>
<text x="1055.5" y="844.2" font-size="24.8" text-anchor="end">0.75</text>
<text x="1055.5" y="793.6" font-size="24.8" text-anchor="end">1.00</text>
<text x="1068.8" y="1017.6" font-size="24.8" text-anchor="middle">0</text>
<text x="1138.5" y="1017.6" font-size="24.8" text-anchor="middle">15</text>
<text x="1208.1" y="1017.6" font-size="24.8" text-anchor="middle">30</text>
<text x="1277.8" y="1017.6" font-size="24.8" text-anchor="middle">45</text>
<text x="1185" y="1050.8" font-size="24.8" text-anchor="middle">Dwell time (s)</text>
<text x="969.2" y="887.5" font-size="26" text-anchor="middle" transform="rotate(-90 969.2 887.5)"><tspan font-style="italic">C</tspan>(<tspan font-style="italic">t</tspan><tspan font-size="18" dy="6">high</tspan><tspan dy="-6">)</tspan></text>
<rect x="1323.0" y="785.3" width="34.7" height="131.0" fill="#4f7190" stroke="#555" stroke-width="0.8"/>
<rect x="1323.0" y="916.3" width="34.7" height="71.7" fill="#a7b8c8" stroke="#777" stroke-width="0.8"/>
<rect x="1372.6" y="785.3" width="34.6" height="193.0" fill="#bf8360" stroke="#555" stroke-width="0.8"/>
<rect x="1372.6" y="978.3" width="34.6" height="9.7" fill="#ebcab6" stroke="#777" stroke-width="0.8"/>
<rect x="1495.3" y="785.3" width="35.9" height="18.2" fill="#4f7190" stroke="#555" stroke-width="0.8"/>
<rect x="1495.3" y="803.5" width="35.9" height="184.5" fill="#a7b8c8" stroke="#777" stroke-width="0.8"/>
<rect x="1546.0" y="785.3" width="36.7" height="82.4" fill="#4f7190" stroke="#555" stroke-width="0.8"/>
<rect x="1546.0" y="867.7" width="36.7" height="120.3" fill="#a7b8c8" stroke="#777" stroke-width="0.8"/>
<line x1="1340.3" y1="907.8" x2="1340.3" y2="924.7" stroke="#1a1a1a" stroke-width="2.2" />
<line x1="1335.3" y1="907.8" x2="1345.3" y2="907.8" stroke="#1a1a1a" stroke-width="2.2" />
<line x1="1335.3" y1="924.7" x2="1345.3" y2="924.7" stroke="#1a1a1a" stroke-width="2.2" />
<line x1="1390.5" y1="976.5" x2="1390.5" y2="980" stroke="#1a1a1a" stroke-width="2.5" />
<line x1="1385.5" y1="976.5" x2="1395.5" y2="976.5" stroke="#1a1a1a" stroke-width="2.5" />
<line x1="1385.5" y1="980" x2="1395.5" y2="980" stroke="#1a1a1a" stroke-width="2.5" />
<line x1="1513.5" y1="800" x2="1513.5" y2="806.5" stroke="#1a1a1a" stroke-width="2.2" />
<line x1="1508.5" y1="800" x2="1518.5" y2="800" stroke="#1a1a1a" stroke-width="2.2" />
<line x1="1508.5" y1="806.5" x2="1518.5" y2="806.5" stroke="#1a1a1a" stroke-width="2.2" />
<line x1="1564.2" y1="856.3" x2="1564.2" y2="879.5" stroke="#1a1a1a" stroke-width="2.2" />
<line x1="1559.2" y1="856.3" x2="1569.2" y2="856.3" stroke="#1a1a1a" stroke-width="2.2" />
<line x1="1559.2" y1="879.5" x2="1569.2" y2="879.5" stroke="#1a1a1a" stroke-width="2.2" />
<line x1="1318" y1="937.7" x2="1325" y2="937.7" stroke="#262626" stroke-width="2.2" />
<line x1="1318" y1="887" x2="1325" y2="887" stroke="#262626" stroke-width="2.2" />
<line x1="1318" y1="836.4" x2="1325" y2="836.4" stroke="#262626" stroke-width="2.2" />
<line x1="1339" y1="988" x2="1339" y2="981" stroke="#262626" stroke-width="2.2" />
<line x1="1390" y1="988" x2="1390" y2="981" stroke="#262626" stroke-width="2.2" />
<rect x="1318" y="785.3" width="95" height="202.7" fill="none" stroke="#262626" stroke-width="2.8" />
<rect x="1490.3" y="785.3" width="97.9" height="202.7" fill="none" stroke="#262626" stroke-width="2.8" />
<text x="1340.3" y="844.6" font-size="24" text-anchor="middle">1</text>
<text x="1340.3" y="950.2" font-size="24" text-anchor="middle">2</text>
<text x="1390" y="891.9" font-size="24" text-anchor="middle">1</text>
<text x="1512.5" y="903.6" font-size="24" text-anchor="middle">2</text>
<text x="1564.2" y="836.2" font-size="24" text-anchor="middle">1</text>
<text x="1564.2" y="939.6" font-size="24" text-anchor="middle">2</text>
<line x1="1513.5" y1="988" x2="1513.5" y2="1000.7" stroke="#262626" stroke-width="2.4" />
<line x1="1564.2" y1="988" x2="1564.2" y2="1021.8" stroke="#262626" stroke-width="2.6" />
<text x="1492.6" y="1026.5" font-size="24.2" text-anchor="middle">1 M [K<tspan dy="-10" font-size="17">+</tspan><tspan dy="10">]</tspan></text>
<text x="1537.5" y="1052" font-size="24.2" text-anchor="middle">20 mM [Mg<tspan dy="-10" font-size="17">2+</tspan><tspan dy="10">]</tspan></text>
<text x="1434" y="888" font-size="25" text-anchor="middle" transform="rotate(90 1434 888)"><tspan font-style="italic">k</tspan><tspan font-size="17" dy="6">off,1&amp;2</tspan><tspan dy="-6"> weight</tspan></text>
<text x="947.4" y="1092.5" font-size="40" font-weight="bold">g</text>
<text x="994.4" y="1086.5" font-size="24.7" fill="#3a3a3a">1 M K<tspan dy="-11" font-size="17">+</tspan></text>
<polygon points="1077.2,1069.3 1093.4,1069.3 1085.3,1086.5" fill="#111" stroke="none" stroke-width="0" />
<line x1="1098.6" y1="1095.7" x2="1098.6" y2="1343.9" stroke="#1a1a1a" stroke-width="2.3" stroke-dasharray="7,4"/>
<path d="M1104.0,1158.5 L1115.0,1164.0 L1127.9,1169.0 L1151.2,1175.5 L1175.0,1180.0 L1198.4,1183.0 L1222.0,1185.5 L1246.4,1187.0 L1270.0,1188.0 L1293.0,1188.5" fill="none" stroke="#bf8360" stroke-width="3.6"/>
<path d="M1104.0,1156.0 L1106.0,1172.0 L1109.0,1188.0 L1113.0,1196.5 L1118.8,1201.0 L1128.0,1202.5 L1160.0,1202.6 L1293.0,1202.6" fill="none" stroke="#4f7190" stroke-width="3.6"/>
<path d="M1104.0,1212.9 L1110.0,1225.0 L1118.0,1240.0 L1127.9,1250.0 L1140.0,1256.0 L1151.2,1259.5 L1175.0,1263.0 L1198.4,1265.0 L1246.4,1267.5 L1293.0,1269.5" fill="none" stroke="#e2c4b0" stroke-width="3.6"/>
<path d="M1104.0,1275.1 L1107.0,1290.0 L1111.0,1306.0 L1115.0,1316.5 L1121.4,1322.0 L1130.0,1323.3 L1293.0,1323.3" fill="none" stroke="#a9bbcb" stroke-width="3.6"/>
<line x1="1085.2" y1="1150.6" x2="1085.2" y2="1175.7" stroke="#1a1a1a" stroke-width="2.2" />
<line x1="1080.2" y1="1150.6" x2="1090.2" y2="1150.6" stroke="#1a1a1a" stroke-width="2.2" />
<line x1="1080.2" y1="1175.7" x2="1090.2" y2="1175.7" stroke="#1a1a1a" stroke-width="2.2" />
<line x1="1104.6" y1="1145" x2="1104.6" y2="1163" stroke="#1a1a1a" stroke-width="2.2" />
<line x1="1099.6" y1="1145" x2="1109.6" y2="1145" stroke="#1a1a1a" stroke-width="2.2" />
<line x1="1099.6" y1="1163" x2="1109.6" y2="1163" stroke="#1a1a1a" stroke-width="2.2" />
<line x1="1109.8" y1="1182" x2="1109.8" y2="1197" stroke="#1a1a1a" stroke-width="2.2" />
<line x1="1104.8" y1="1182" x2="1114.8" y2="1182" stroke="#1a1a1a" stroke-width="2.2" />
<line x1="1104.8" y1="1197" x2="1114.8" y2="1197" stroke="#1a1a1a" stroke-width="2.2" />
<line x1="1246.4" y1="1190" x2="1246.4" y2="1213.5" stroke="#1a1a1a" stroke-width="2.2" />
<line x1="1241.4" y1="1190" x2="1251.4" y2="1190" stroke="#1a1a1a" stroke-width="2.2" />
<line x1="1241.4" y1="1213.5" x2="1251.4" y2="1213.5" stroke="#1a1a1a" stroke-width="2.2" />
<line x1="1293" y1="1190" x2="1293" y2="1204.5" stroke="#1a1a1a" stroke-width="2.2" />
<line x1="1288" y1="1190" x2="1298" y2="1190" stroke="#1a1a1a" stroke-width="2.2" />
<line x1="1288" y1="1204.5" x2="1298" y2="1204.5" stroke="#1a1a1a" stroke-width="2.2" />
<line x1="1127.9" y1="1237.8" x2="1127.9" y2="1261" stroke="#1a1a1a" stroke-width="2.2" />
<line x1="1122.9" y1="1237.8" x2="1132.9" y2="1237.8" stroke="#1a1a1a" stroke-width="2.2" />
<line x1="1122.9" y1="1261" x2="1132.9" y2="1261" stroke="#1a1a1a" stroke-width="2.2" />
<line x1="1104.6" y1="1262.4" x2="1104.6" y2="1275" stroke="#1a1a1a" stroke-width="2.2" />
<line x1="1099.6" y1="1262.4" x2="1109.6" y2="1262.4" stroke="#1a1a1a" stroke-width="2.2" />
<line x1="1099.6" y1="1275" x2="1109.6" y2="1275" stroke="#1a1a1a" stroke-width="2.2" />
<line x1="1198.4" y1="1318" x2="1198.4" y2="1326" stroke="#1a1a1a" stroke-width="2.2" />
<line x1="1193.4" y1="1318" x2="1203.4" y2="1318" stroke="#1a1a1a" stroke-width="2.2" />
<line x1="1193.4" y1="1326" x2="1203.4" y2="1326" stroke="#1a1a1a" stroke-width="2.2" />
<line x1="1293" y1="1318.5" x2="1293" y2="1326" stroke="#1a1a1a" stroke-width="2.2" />
<line x1="1288" y1="1318.5" x2="1298" y2="1318.5" stroke="#1a1a1a" stroke-width="2.2" />
<line x1="1288" y1="1326" x2="1298" y2="1326" stroke="#1a1a1a" stroke-width="2.2" />
<line x1="1198.4" y1="1261.5" x2="1198.4" y2="1267" stroke="#1a1a1a" stroke-width="2.2" />
<line x1="1193.4" y1="1261.5" x2="1203.4" y2="1261.5" stroke="#1a1a1a" stroke-width="2.2" />
<line x1="1193.4" y1="1267" x2="1203.4" y2="1267" stroke="#1a1a1a" stroke-width="2.2" />
<line x1="1246.4" y1="1261.5" x2="1246.4" y2="1268" stroke="#1a1a1a" stroke-width="2.2" />
<line x1="1241.4" y1="1261.5" x2="1251.4" y2="1261.5" stroke="#1a1a1a" stroke-width="2.2" />
<line x1="1241.4" y1="1268" x2="1251.4" y2="1268" stroke="#1a1a1a" stroke-width="2.2" />
<line x1="1293" y1="1264" x2="1293" y2="1272.5" stroke="#1a1a1a" stroke-width="2.2" />
<line x1="1288" y1="1264" x2="1298" y2="1264" stroke="#1a1a1a" stroke-width="2.2" />
<line x1="1288" y1="1272.5" x2="1298" y2="1272.5" stroke="#1a1a1a" stroke-width="2.2" />
<circle cx="1085.2" cy="1163.2" r="6.6" fill="#4f7190" stroke="#1a1a1a" stroke-width="1.4" />
<circle cx="1104.6" cy="1156.4" r="6.6" fill="#4f7190" stroke="#1a1a1a" stroke-width="1.4" />
<circle cx="1109.8" cy="1187.5" r="6.6" fill="#4f7190" stroke="#1a1a1a" stroke-width="1.4" />
<circle cx="1127.9" cy="1204.4" r="6.6" fill="#4f7190" stroke="#1a1a1a" stroke-width="1.4" />
<circle cx="1151.2" cy="1200.7" r="6.6" fill="#4f7190" stroke="#1a1a1a" stroke-width="1.4" />
<circle cx="1198.4" cy="1208.5" r="6.6" fill="#4f7190" stroke="#1a1a1a" stroke-width="1.4" />
<circle cx="1246.4" cy="1200" r="6.6" fill="#4f7190" stroke="#1a1a1a" stroke-width="1.4" />
<circle cx="1293" cy="1192.7" r="6.6" fill="#4f7190" stroke="#1a1a1a" stroke-width="1.4" />
<circle cx="1085.2" cy="1115" r="6.6" fill="#bf8360" stroke="#1a1a1a" stroke-width="1.4" />
<circle cx="1127.9" cy="1169.4" r="6.6" fill="#bf8360" stroke="#1a1a1a" stroke-width="1.4" />
<circle cx="1151.2" cy="1176.6" r="6.6" fill="#bf8360" stroke="#1a1a1a" stroke-width="1.4" />
<circle cx="1198.4" cy="1181.8" r="6.6" fill="#bf8360" stroke="#1a1a1a" stroke-width="1.4" />
<circle cx="1246.4" cy="1187.5" r="6.6" fill="#bf8360" stroke="#1a1a1a" stroke-width="1.4" />
<circle cx="1293" cy="1187.5" r="6.6" fill="#bf8360" stroke="#1a1a1a" stroke-width="1.4" />
<polygon points="1127.9,1241.4 1134.9,1255 1120.9,1255" fill="#e3c4b0" stroke="#1a1a1a" stroke-width="1.5" />
<polygon points="1151.2,1253.1 1158.2,1266.8 1144.2,1266.8" fill="#e3c4b0" stroke="#1a1a1a" stroke-width="1.5" />
<polygon points="1198.4,1255.7 1205.4,1269.3 1191.4,1269.3" fill="#e3c4b0" stroke="#1a1a1a" stroke-width="1.5" />
<polygon points="1246.4,1259.6 1253.4,1273.2 1239.4,1273.2" fill="#e3c4b0" stroke="#1a1a1a" stroke-width="1.5" />
<polygon points="1293,1264.7 1300,1278.3 1286,1278.3" fill="#e3c4b0" stroke="#1a1a1a" stroke-width="1.5" />
<polygon points="1085.2,1267.3 1092.2,1280.9 1078.2,1280.9" fill="#a9bbcb" stroke="#1a1a1a" stroke-width="1.5" />
<polygon points="1104.6,1262.2 1111.6,1275.8 1097.6,1275.8" fill="#a9bbcb" stroke="#1a1a1a" stroke-width="1.5" />
<polygon points="1109.8,1297.2 1116.8,1310.8 1102.8,1310.8" fill="#a9bbcb" stroke="#1a1a1a" stroke-width="1.5" />
<polygon points="1127.9,1317.1 1134.9,1330.8 1120.9,1330.8" fill="#a9bbcb" stroke="#1a1a1a" stroke-width="1.5" />
<polygon points="1151.2,1319.2 1158.2,1332.8 1144.2,1332.8" fill="#a9bbcb" stroke="#1a1a1a" stroke-width="1.5" />
<polygon points="1198.4,1316.1 1205.4,1329.8 1191.4,1329.8" fill="#a9bbcb" stroke="#1a1a1a" stroke-width="1.5" />
<polygon points="1246.4,1319.2 1253.4,1332.8 1239.4,1332.8" fill="#a9bbcb" stroke="#1a1a1a" stroke-width="1.5" />
<polygon points="1293,1316.2 1300,1329.8 1286,1329.8" fill="#a9bbcb" stroke="#1a1a1a" stroke-width="1.5" />
<line x1="1070.4" y1="1344.8" x2="1075.4" y2="1344.8" stroke="#262626" stroke-width="1.6" />
<line x1="1070.4" y1="1339.8" x2="1075.4" y2="1339.8" stroke="#262626" stroke-width="1.6" />
<line x1="1070.4" y1="1335.5" x2="1075.4" y2="1335.5" stroke="#262626" stroke-width="1.6" />
<line x1="1070.4" y1="1331.6" x2="1078.4" y2="1331.6" stroke="#262626" stroke-width="2.2" />
<line x1="1070.4" y1="1306" x2="1075.4" y2="1306" stroke="#262626" stroke-width="1.6" />
<line x1="1070.4" y1="1291" x2="1075.4" y2="1291" stroke="#262626" stroke-width="1.6" />
<line x1="1070.4" y1="1280.4" x2="1075.4" y2="1280.4" stroke="#262626" stroke-width="1.6" />
<line x1="1070.4" y1="1272.2" x2="1075.4" y2="1272.2" stroke="#262626" stroke-width="1.6" />
<line x1="1070.4" y1="1265.5" x2="1075.4" y2="1265.5" stroke="#262626" stroke-width="1.6" />
<line x1="1070.4" y1="1259.8" x2="1075.4" y2="1259.8" stroke="#262626" stroke-width="1.6" />
<line x1="1070.4" y1="1254.8" x2="1075.4" y2="1254.8" stroke="#262626" stroke-width="1.6" />
<line x1="1070.4" y1="1250.5" x2="1075.4" y2="1250.5" stroke="#262626" stroke-width="1.6" />
<line x1="1070.4" y1="1246.6" x2="1078.4" y2="1246.6" stroke="#262626" stroke-width="2.2" />
<line x1="1070.4" y1="1221" x2="1075.4" y2="1221" stroke="#262626" stroke-width="1.6" />
<line x1="1070.4" y1="1206" x2="1075.4" y2="1206" stroke="#262626" stroke-width="1.6" />
<line x1="1070.4" y1="1195.4" x2="1075.4" y2="1195.4" stroke="#262626" stroke-width="1.6" />
<line x1="1070.4" y1="1187.2" x2="1075.4" y2="1187.2" stroke="#262626" stroke-width="1.6" />
<line x1="1070.4" y1="1180.5" x2="1075.4" y2="1180.5" stroke="#262626" stroke-width="1.6" />
<line x1="1070.4" y1="1174.8" x2="1075.4" y2="1174.8" stroke="#262626" stroke-width="1.6" />
<line x1="1070.4" y1="1169.8" x2="1075.4" y2="1169.8" stroke="#262626" stroke-width="1.6" />
<line x1="1070.4" y1="1165.5" x2="1075.4" y2="1165.5" stroke="#262626" stroke-width="1.6" />
<line x1="1070.4" y1="1161.6" x2="1078.4" y2="1161.6" stroke="#262626" stroke-width="2.2" />
<line x1="1070.4" y1="1136" x2="1075.4" y2="1136" stroke="#262626" stroke-width="1.6" />
<line x1="1070.4" y1="1121" x2="1075.4" y2="1121" stroke="#262626" stroke-width="1.6" />
<line x1="1070.4" y1="1110.4" x2="1075.4" y2="1110.4" stroke="#262626" stroke-width="1.6" />
<line x1="1070.4" y1="1102.2" x2="1075.4" y2="1102.2" stroke="#262626" stroke-width="1.6" />
<line x1="1070.4" y1="1095.5" x2="1075.4" y2="1095.5" stroke="#262626" stroke-width="1.6" />
<line x1="1103.8" y1="1345.9" x2="1103.8" y2="1338.4" stroke="#262626" stroke-width="2.4" />
<text x="1103.8" y="1376" font-size="24.8" text-anchor="middle">0</text>
<line x1="1198.4" y1="1345.9" x2="1198.4" y2="1338.4" stroke="#262626" stroke-width="2.4" />
<text x="1198.4" y="1376" font-size="24.8" text-anchor="middle">10</text>
<line x1="1293" y1="1345.9" x2="1293" y2="1338.4" stroke="#262626" stroke-width="2.4" />
<text x="1293" y="1376" font-size="24.8" text-anchor="middle">20</text>
<rect x="1070.4" y="1093.7" width="232.5" height="252.2" fill="none" stroke="#262626" stroke-width="2.8" />
<text x="1057" y="1170.4" font-size="23.5" text-anchor="end">10<tspan dy="-12" font-size="17.5">0</tspan></text>
<text x="1057" y="1254.9" font-size="23.5" text-anchor="end">10<tspan dy="-12" font-size="17.5">−1</tspan></text>
<text x="1057" y="1340.2" font-size="23.5" text-anchor="end">10<tspan dy="-12" font-size="17.5">−2</tspan></text>
<text x="983" y="1220" font-size="25" text-anchor="middle" transform="rotate(-90 983 1220)"><tspan font-style="italic">k</tspan><tspan font-size="18" dy="6">off</tspan><tspan dy="-6"> (s</tspan><tspan font-size="17" dy="-11">−1</tspan><tspan dy="11">)</tspan></text>
<text x="1186.2" y="1420.3" font-size="24.5" text-anchor="middle">[Mg<tspan dy="-11" font-size="17">2+</tspan><tspan dy="11">] (mM)</tspan></text>
<text x="1358.4" y="1105.7" font-size="24" text-anchor="middle">Rate</text>
<text x="1503" y="1105.7" font-size="25" text-anchor="middle">Average weight</text>
<line x1="1397.6" y1="1086.1" x2="1397.6" y2="1347.8" stroke="#1a1a1a" stroke-width="3.8" />
<line x1="1322" y1="1118" x2="1620" y2="1118" stroke="#1a1a1a" stroke-width="4" />
<line x1="1491.4" y1="1118" x2="1491.4" y2="1347.8" stroke="#1a1a1a" stroke-width="1.8" />
<line x1="1397.6" y1="1161.7" x2="1620" y2="1161.7" stroke="#1a1a1a" stroke-width="1.8" />
<text x="1447" y="1148.4" font-size="24" text-anchor="middle" fill="#3a3a3a">1M K<tspan dy="-11" font-size="17">+</tspan></text>
<text x="1559.5" y="1148.4" font-size="24" text-anchor="middle" fill="#3a3a3a">With Mg<tspan dy="-11" font-size="17">2+</tspan></text>
<rect x="1413.3" y="1171.4" width="65" height="28.2" fill="#bf8360" stroke="#333" stroke-width="0.9" />
<rect x="1507.1" y="1171.4" width="61.3" height="28.2" fill="#bf8360" stroke="#333" stroke-width="0.9" />
<text x="1323.2" y="1189.9" font-size="26" fill="#b57a58"><tspan font-style="italic">k</tspan><tspan font-size="18.2" dy="8.5">off,1</tspan></text>
<rect x="1413.3" y="1217.5" width="5.8" height="28.2" fill="#4f7190" stroke="#333" stroke-width="0.9" />
<rect x="1507.1" y="1217.5" width="31.9" height="28.2" fill="#4f7190" stroke="#333" stroke-width="0.9" />
<text x="1323.2" y="1236" font-size="26" fill="#4f7190"><tspan font-style="italic">k</tspan><tspan font-size="18.2" dy="8.5">off,1</tspan></text>
<rect x="1413.3" y="1263.6" width="0.6" height="28.2" fill="#e3c4b0" stroke="#333" stroke-width="0.9" />
<rect x="1507.1" y="1263.6" width="3.3" height="28.2" fill="#e3c4b0" stroke="#333" stroke-width="0.9" />
<text x="1323.2" y="1282.1" font-size="26" fill="#d9b8a3"><tspan font-style="italic">k</tspan><tspan font-size="18.2" dy="8.5">off,2</tspan></text>
<rect x="1413.3" y="1309.7" width="58.5" height="28.2" fill="#a7b8c8" stroke="#333" stroke-width="0.9" />
<rect x="1507.1" y="1309.7" width="32.6" height="28.2" fill="#a7b8c8" stroke="#333" stroke-width="0.9" />
<text x="1323.2" y="1328.2" font-size="26" fill="#a7b8c8"><tspan font-style="italic">k</tspan><tspan font-size="18.2" dy="8.5">off,2</tspan></text>
<rect x="1477.0" y="1181.5" width="1.5" height="8" fill="#111"/>
<rect x="1417.5" y="1227.6" width="4.0" height="8" fill="#111"/>
<rect x="1412.8" y="1273.7" width="1.2" height="8" fill="#111"/>
<rect x="1469.5" y="1319.8" width="4.0" height="8" fill="#111"/>
<rect x="1566.5" y="1181.5" width="3.0" height="8" fill="#111"/>
<rect x="1509.0" y="1273.7" width="3.0" height="8" fill="#111"/>
<line x1="1532.5" y1="1231.6" x2="1545.1" y2="1231.6" stroke="#111" stroke-width="2.2" />
<line x1="1532.5" y1="1227.1" x2="1532.5" y2="1236.1" stroke="#111" stroke-width="2.2" />
<line x1="1545.1" y1="1227.1" x2="1545.1" y2="1236.1" stroke="#111" stroke-width="2.2" />
<line x1="1533.6" y1="1323.8" x2="1546.3" y2="1323.8" stroke="#111" stroke-width="2.2" />
<line x1="1533.6" y1="1319.3" x2="1533.6" y2="1328.3" stroke="#111" stroke-width="2.2" />
<line x1="1546.3" y1="1319.3" x2="1546.3" y2="1328.3" stroke="#111" stroke-width="2.2" />
<path d="M1413.0,1359.3 L1413.0,1345 L1478.3,1345 L1478.3,1359.3" fill="none" stroke="#1a1a1a" stroke-width="2.2"/>
<text x="1413" y="1390.4" font-size="24" text-anchor="middle">0</text>
<text x="1478.3" y="1390.4" font-size="24" text-anchor="middle">1</text>
<path d="M1507.1,1359.3 L1507.1,1345 L1572.3,1345 L1572.3,1359.3" fill="none" stroke="#1a1a1a" stroke-width="2.2"/>
<text x="1507.1" y="1390.4" font-size="24" text-anchor="middle">0</text>
<text x="1572.3" y="1390.4" font-size="24" text-anchor="middle">1</text>
<path d="M1593,1185.3 L1601,1185.3 L1601,1278.6 L1593,1278.6" fill="none" stroke="#1a1a1a" stroke-width="2.6"/>
<path d="M1559.7,1231.4 L1567.5,1231.4 L1567.5,1324.7 L1559.7,1324.7" fill="none" stroke="#1a1a1a" stroke-width="2.6"/>
<text x="1610.8" y="1238" font-size="17" text-anchor="middle">*</text>
<text x="1570.5" y="1277.5" font-size="17" text-anchor="middle" transform="rotate(90 1570.5 1277.5)">***</text></svg>
</body></html>
